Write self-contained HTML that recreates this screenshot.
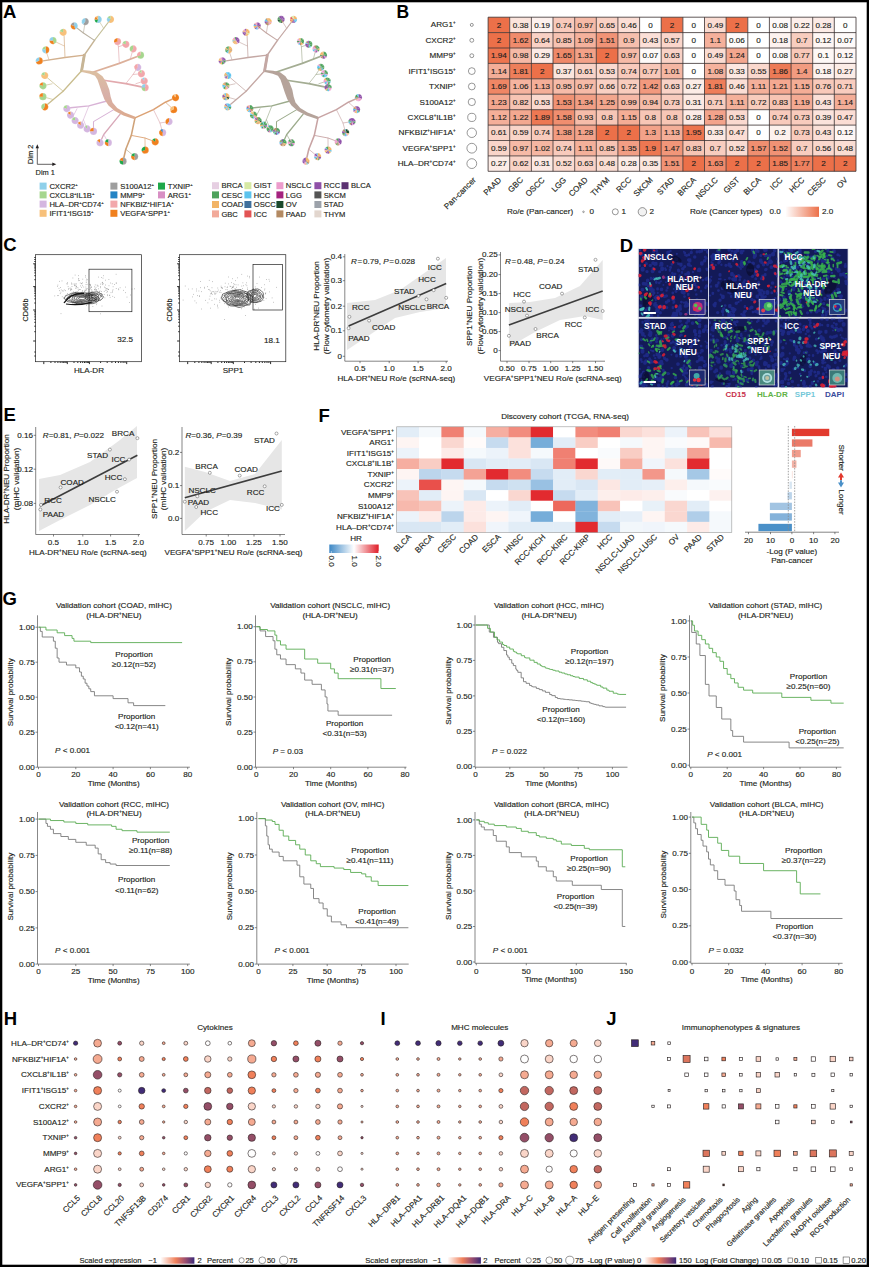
<!DOCTYPE html>
<html><head><meta charset="utf-8"><style>
html,body{margin:0;padding:0;background:#fff;}
svg{display:block;}
text{font-family:"Liberation Sans",sans-serif;stroke:#231f20;stroke-width:0.15px;}
</style></head><body>
<svg width="869" height="1267" viewBox="0 0 869 1267" fill="#231f20">
<rect x="0" y="0" width="869" height="1267" fill="#ffffff"/>
<text x="3.0" y="18.4" font-size="18.50" fill="#000" font-weight="bold" style="stroke:none">A</text>
<g fill="none" stroke-linecap="round" stroke-linejoin="round">
<path d="M84.30 55.10 L81.60 70.80" fill="none" stroke="#c7b596" stroke-width="2.86"/>
<path d="M81.60 70.80 L84.30 55.10" fill="none" stroke="#c7b596" stroke-width="2.08"/>
<path d="M84.30 55.10 L65.00 57.50 L43.00 60.80" fill="none" stroke="#d2b08e" stroke-width="1.30"/>
<path d="M65.00 57.50 L64.10 36.00" fill="none" stroke="#d8b48e" stroke-width="0.78"/>
<path d="M64.30 46.00 L53.00 40.60" fill="none" stroke="#d8b48e" stroke-width="0.65"/>
<path d="M49.00 59.80 L45.70 49.80" fill="none" stroke="#d8b48e" stroke-width="0.65"/>
<path d="M84.30 55.10 L94.50 40.40" fill="none" stroke="#c7b596" stroke-width="1.56"/>
<path d="M94.50 40.40 L103.70 28.40 L110.50 19.40" fill="none" stroke="#c5c09a" stroke-width="1.04"/>
<path d="M103.70 28.40 L98.10 19.40" fill="none" stroke="#c5c09a" stroke-width="0.65"/>
<path d="M94.50 40.40 L83.40 33.00 L74.20 25.90" fill="none" stroke="#b8b0a0" stroke-width="1.04"/>
<path d="M83.40 33.00 L85.20 21.60" fill="none" stroke="#b8b0a0" stroke-width="0.65"/>
<path d="M81.60 70.80 L63.10 91.20 L44.70 106.80" fill="none" stroke="#c9bd8e" stroke-width="1.30"/>
<path d="M63.10 91.20 L44.70 75.50" fill="none" stroke="#c9bd8e" stroke-width="0.78"/>
<path d="M52.10 83.80 L42.90 85.80" fill="none" stroke="#c9bd8e" stroke-width="0.65"/>
<path d="M53.00 99.50 L42.90 96.70" fill="none" stroke="#c9bd8e" stroke-width="0.65"/>
<path d="M92.00 72.50 L119.30 63.40 L140.50 55.20" fill="none" stroke="#dcb09a" stroke-width="1.69"/>
<path d="M119.30 63.40 L118.40 46.80 L117.50 41.50" fill="none" stroke="#e2a9ad" stroke-width="0.65"/>
<path d="M118.40 46.80 L125.80 44.30" fill="none" stroke="#e2a9ad" stroke-width="0.65"/>
<path d="M130.40 58.80 L133.10 48.90" fill="none" stroke="#e2a9ad" stroke-width="0.65"/>
<path d="M102.00 80.00 L125.80 83.70 L145.10 87.60" fill="none" stroke="#e2a9ad" stroke-width="1.69"/>
<path d="M125.80 83.70 L133.00 74.50 L137.70 67.30" fill="none" stroke="#e2a9ad" stroke-width="0.65"/>
<path d="M133.00 74.50 L141.40 73.70" fill="none" stroke="#e2a9ad" stroke-width="0.65"/>
<path d="M135.90 83.70 L144.20 81.00" fill="none" stroke="#e2a9ad" stroke-width="0.65"/>
<path d="M106.00 101.30 L88.90 105.90 L70.50 107.80 L66.80 108.70" fill="none" stroke="#d8b3d6" stroke-width="1.43"/>
<path d="M88.90 105.90 L83.40 119.70 L80.60 125.20" fill="none" stroke="#d8b3d6" stroke-width="0.65"/>
<path d="M83.40 119.70 L87.10 128.90" fill="none" stroke="#d8b3d6" stroke-width="0.65"/>
<path d="M77.00 108.70 L73.30 116.00 L70.50 115.10" fill="none" stroke="#d8b3d6" stroke-width="0.65"/>
<path d="M73.30 116.00 L75.10 120.60" fill="none" stroke="#d8b3d6" stroke-width="0.65"/>
<path d="M113.80 109.60 L93.50 121.60 L93.50 131.30" fill="none" stroke="#d8b3d6" stroke-width="1.04"/>
<path d="M120.20 114.20 L103.70 134.50 L100.00 142.70" fill="none" stroke="#d8a8b8" stroke-width="1.30"/>
<path d="M103.70 134.50 L108.30 142.70" fill="none" stroke="#d8b3d6" stroke-width="0.65"/>
<path d="M135.00 117.90 L153.40 109.60 L165.40 102.20 L175.50 97.60" fill="none" stroke="#dca274" stroke-width="1.56"/>
<path d="M165.40 102.20 L173.60 109.60" fill="none" stroke="#dca274" stroke-width="0.65"/>
<path d="M153.40 109.60 L160.00 123.00 L162.60 132.60" fill="none" stroke="#dcaab0" stroke-width="0.65"/>
<path d="M160.00 123.00 L169.00 121.60" fill="none" stroke="#dcaab0" stroke-width="0.65"/>
<path d="M135.00 117.90 L131.30 135.40 L125.80 149.20 L123.00 161.20" fill="none" stroke="#cfa278" stroke-width="1.56"/>
<path d="M125.80 149.20 L134.60 156.60" fill="none" stroke="#b8a888" stroke-width="0.65"/>
<path d="M131.30 135.40 L145.00 138.00 L155.20 141.80" fill="none" stroke="#dca274" stroke-width="0.91"/>
<path d="M145.00 138.00 L145.10 150.10" fill="none" stroke="#dca274" stroke-width="0.65"/>
</g>
<defs><linearGradient id="gTr" x1="0" y1="0" x2="0" y2="1"><stop offset="0" stop-color="#dcc0a0"/><stop offset="0.5" stop-color="#d8b0a8"/><stop offset="1" stop-color="#dcaa8c"/></linearGradient></defs>
<path d="M81.82 72.09 L89.69 73.77 L94.96 75.82 L97.54 79.72 L99.50 85.48 L101.69 92.22 L104.33 99.22 L108.49 105.49 L114.81 111.11 L123.35 115.46 L134.59 119.13 L135.41 116.87 L124.65 112.54 L117.19 107.89 L112.51 102.51 L110.67 96.78 L109.31 89.78 L106.50 82.52 L102.46 76.28 L97.04 72.18 L90.31 70.83 L82.18 69.91Z" fill="url(#gTr)"/>
<path d="M110.5 19.4L110.5 15.8A3.6 3.6 0 1 1 108.4 22.3Z" fill="#f7c07a"/>
<path d="M110.5 19.4L108.4 22.3A3.6 3.6 0 0 1 107.6 17.3Z" fill="#8fd0ea"/>
<path d="M110.5 19.4L107.6 17.3A3.6 3.6 0 0 1 110.5 15.8Z" fill="#a6d68e"/>
<circle cx="110.5" cy="19.4" r="3.60" fill="none" stroke="#ffffff" stroke-width="0.30" stroke-opacity="0.5"/>
<path d="M98.1 19.4L98.1 15.8A3.6 3.6 0 1 1 97.0 22.8Z" fill="#8fd0ea"/>
<path d="M98.1 19.4L97.0 22.8A3.6 3.6 0 0 1 94.5 19.4Z" fill="#1fa84a"/>
<path d="M98.1 19.4L94.5 19.4A3.6 3.6 0 0 1 96.0 16.5Z" fill="#f0801e"/>
<path d="M98.1 19.4L96.0 16.5A3.6 3.6 0 0 1 98.1 15.8Z" fill="#f7c07a"/>
<circle cx="98.1" cy="19.4" r="3.60" fill="none" stroke="#ffffff" stroke-width="0.30" stroke-opacity="0.5"/>
<path d="M85.2 21.6L85.2 18.0A3.6 3.6 0 1 1 83.1 24.5Z" fill="#9e9e9e"/>
<path d="M85.2 21.6L83.1 24.5A3.6 3.6 0 0 1 85.2 18.0Z" fill="#8fd0ea"/>
<circle cx="85.2" cy="21.6" r="3.60" fill="none" stroke="#ffffff" stroke-width="0.30" stroke-opacity="0.5"/>
<path d="M74.2 25.9L74.2 22.3A3.6 3.6 0 0 1 75.3 29.3Z" fill="#8fd0ea"/>
<path d="M74.2 25.9L75.3 29.3A3.6 3.6 0 0 1 70.8 24.8Z" fill="#f0801e"/>
<path d="M74.2 25.9L70.8 24.8A3.6 3.6 0 0 1 74.2 22.3Z" fill="#9e9e9e"/>
<circle cx="74.2" cy="25.9" r="3.60" fill="none" stroke="#ffffff" stroke-width="0.30" stroke-opacity="0.5"/>
<path d="M63.1 32.3L63.1 28.7A3.6 3.6 0 1 1 59.7 31.2Z" fill="#f7c07a"/>
<path d="M63.1 32.3L59.7 31.2A3.6 3.6 0 0 1 63.1 28.7Z" fill="#a6d68e"/>
<circle cx="63.1" cy="32.3" r="3.60" fill="none" stroke="#ffffff" stroke-width="0.30" stroke-opacity="0.5"/>
<path d="M53.0 40.6L53.0 37.0A3.6 3.6 0 0 1 54.1 44.0Z" fill="#a6d68e"/>
<path d="M53.0 40.6L54.1 44.0A3.6 3.6 0 0 1 49.4 40.6Z" fill="#f0801e"/>
<path d="M53.0 40.6L49.4 40.6A3.6 3.6 0 0 1 53.0 37.0Z" fill="#8fd0ea"/>
<circle cx="53.0" cy="40.6" r="3.60" fill="none" stroke="#ffffff" stroke-width="0.30" stroke-opacity="0.5"/>
<path d="M45.7 49.8L45.7 46.2A3.6 3.6 0 0 1 45.7 53.4Z" fill="#f0801e"/>
<path d="M45.7 49.8L45.7 53.4A3.6 3.6 0 0 1 42.3 48.7Z" fill="#8fd0ea"/>
<path d="M45.7 49.8L42.3 48.7A3.6 3.6 0 0 1 45.7 46.2Z" fill="#a6d68e"/>
<circle cx="45.7" cy="49.8" r="3.60" fill="none" stroke="#ffffff" stroke-width="0.30" stroke-opacity="0.5"/>
<path d="M39.2 60.8L39.2 57.2A3.6 3.6 0 1 1 35.8 61.9Z" fill="#f0801e"/>
<path d="M39.2 60.8L35.8 61.9A3.6 3.6 0 0 1 39.2 57.2Z" fill="#8fd0ea"/>
<circle cx="39.2" cy="60.8" r="3.60" fill="none" stroke="#ffffff" stroke-width="0.30" stroke-opacity="0.5"/>
<path d="M44.7 75.5L44.7 71.9A3.6 3.6 0 1 1 41.3 74.4Z" fill="#f7c07a"/>
<path d="M44.7 75.5L41.3 74.4A3.6 3.6 0 0 1 44.7 71.9Z" fill="#a6d68e"/>
<circle cx="44.7" cy="75.5" r="3.60" fill="none" stroke="#ffffff" stroke-width="0.30" stroke-opacity="0.5"/>
<path d="M42.9 85.8L42.9 82.2A3.6 3.6 0 1 1 39.5 84.7Z" fill="#a6d68e"/>
<path d="M42.9 85.8L39.5 84.7A3.6 3.6 0 0 1 42.9 82.2Z" fill="#f0801e"/>
<circle cx="42.9" cy="85.8" r="3.60" fill="none" stroke="#ffffff" stroke-width="0.30" stroke-opacity="0.5"/>
<path d="M42.9 96.7L42.9 93.1A3.6 3.6 0 1 1 39.3 96.7Z" fill="#a6d68e"/>
<path d="M42.9 96.7L39.3 96.7A3.6 3.6 0 0 1 42.9 93.1Z" fill="#f0801e"/>
<circle cx="42.9" cy="96.7" r="3.60" fill="none" stroke="#ffffff" stroke-width="0.30" stroke-opacity="0.5"/>
<path d="M44.7 106.8L44.7 103.2A3.6 3.6 0 1 1 42.6 109.7Z" fill="#f0801e"/>
<path d="M44.7 106.8L42.6 109.7A3.6 3.6 0 0 1 44.7 103.2Z" fill="#a6d68e"/>
<circle cx="44.7" cy="106.8" r="3.60" fill="none" stroke="#ffffff" stroke-width="0.30" stroke-opacity="0.5"/>
<path d="M117.5 41.5L117.5 37.9A3.6 3.6 0 1 1 114.1 42.6Z" fill="#f2a7ab"/>
<path d="M117.5 41.5L114.1 42.6A3.6 3.6 0 0 1 117.5 37.9Z" fill="#f0801e"/>
<circle cx="117.5" cy="41.5" r="3.60" fill="none" stroke="#ffffff" stroke-width="0.30" stroke-opacity="0.5"/>
<path d="M125.8 44.3L125.8 40.7A3.6 3.6 0 1 1 122.4 43.2Z" fill="#f2a7ab"/>
<path d="M125.8 44.3L122.4 43.2A3.6 3.6 0 0 1 125.8 40.7Z" fill="#a6d68e"/>
<circle cx="125.8" cy="44.3" r="3.60" fill="none" stroke="#ffffff" stroke-width="0.30" stroke-opacity="0.5"/>
<path d="M133.1 48.9L133.1 45.3A3.6 3.6 0 1 1 131.0 51.8Z" fill="#f2a7ab"/>
<path d="M133.1 48.9L131.0 51.8A3.6 3.6 0 0 1 133.1 45.3Z" fill="#a6d68e"/>
<circle cx="133.1" cy="48.9" r="3.60" fill="none" stroke="#ffffff" stroke-width="0.30" stroke-opacity="0.5"/>
<path d="M140.5 55.2L140.5 51.6A3.6 3.6 0 1 1 137.1 56.3Z" fill="#a6d68e"/>
<path d="M140.5 55.2L137.1 56.3A3.6 3.6 0 0 1 140.5 51.6Z" fill="#f2a7ab"/>
<circle cx="140.5" cy="55.2" r="3.60" fill="none" stroke="#ffffff" stroke-width="0.30" stroke-opacity="0.5"/>
<path d="M137.7 67.3L137.7 63.7A3.6 3.6 0 1 1 135.6 70.2Z" fill="#d4b6e0"/>
<path d="M137.7 67.3L135.6 70.2A3.6 3.6 0 0 1 137.7 63.7Z" fill="#f2a7ab"/>
<circle cx="137.7" cy="67.3" r="3.60" fill="none" stroke="#ffffff" stroke-width="0.30" stroke-opacity="0.5"/>
<path d="M141.4 73.7L141.4 70.1A3.6 3.6 0 1 1 139.3 70.8Z" fill="#f2a7ab"/>
<path d="M141.4 73.7L139.3 70.8A3.6 3.6 0 0 1 141.4 70.1Z" fill="#a6d68e"/>
<circle cx="141.4" cy="73.7" r="3.60" fill="none" stroke="#ffffff" stroke-width="0.30" stroke-opacity="0.5"/>
<path d="M144.2 81.0L144.2 77.4A3.6 3.6 0 1 1 142.1 78.1Z" fill="#f2a7ab"/>
<path d="M144.2 81.0L142.1 78.1A3.6 3.6 0 0 1 144.2 77.4Z" fill="#8fd0ea"/>
<circle cx="144.2" cy="81.0" r="3.60" fill="none" stroke="#ffffff" stroke-width="0.30" stroke-opacity="0.5"/>
<path d="M145.1 87.6L145.1 84.0A3.6 3.6 0 0 1 145.1 91.2Z" fill="#f2a7ab"/>
<path d="M145.1 87.6L145.1 91.2A3.6 3.6 0 0 1 141.5 87.6Z" fill="#a6d68e"/>
<path d="M145.1 87.6L141.5 87.6A3.6 3.6 0 0 1 145.1 84.0Z" fill="#8fd0ea"/>
<circle cx="145.1" cy="87.6" r="3.60" fill="none" stroke="#ffffff" stroke-width="0.30" stroke-opacity="0.5"/>
<path d="M66.8 108.7L66.8 105.1A3.6 3.6 0 1 1 63.4 107.6Z" fill="#d4b6e0"/>
<path d="M66.8 108.7L63.4 107.6A3.6 3.6 0 0 1 66.8 105.1Z" fill="#a6d68e"/>
<circle cx="66.8" cy="108.7" r="3.60" fill="none" stroke="#ffffff" stroke-width="0.30" stroke-opacity="0.5"/>
<path d="M70.5 115.1L70.5 111.5A3.6 3.6 0 1 1 67.6 113.0Z" fill="#d4b6e0"/>
<path d="M70.5 115.1L67.6 113.0A3.6 3.6 0 0 1 70.5 111.5Z" fill="#f0801e"/>
<circle cx="70.5" cy="115.1" r="3.60" fill="none" stroke="#ffffff" stroke-width="0.30" stroke-opacity="0.5"/>
<path d="M75.1 120.6L75.1 117.0A3.6 3.6 0 1 1 71.7 119.5Z" fill="#d4b6e0"/>
<path d="M75.1 120.6L71.7 119.5A3.6 3.6 0 0 1 75.1 117.0Z" fill="#a6d68e"/>
<circle cx="75.1" cy="120.6" r="3.60" fill="none" stroke="#ffffff" stroke-width="0.30" stroke-opacity="0.5"/>
<path d="M80.6 125.2L80.6 121.6A3.6 3.6 0 1 1 77.7 123.1Z" fill="#d4b6e0"/>
<path d="M80.6 125.2L77.7 123.1A3.6 3.6 0 0 1 80.6 121.6Z" fill="#f0801e"/>
<circle cx="80.6" cy="125.2" r="3.60" fill="none" stroke="#ffffff" stroke-width="0.30" stroke-opacity="0.5"/>
<path d="M87.1 128.9L87.1 125.3A3.6 3.6 0 1 1 85.0 126.0Z" fill="#d4b6e0"/>
<path d="M87.1 128.9L85.0 126.0A3.6 3.6 0 0 1 87.1 125.3Z" fill="#a6d68e"/>
<circle cx="87.1" cy="128.9" r="3.60" fill="none" stroke="#ffffff" stroke-width="0.30" stroke-opacity="0.5"/>
<path d="M93.5 131.3L93.5 127.7A3.6 3.6 0 1 1 89.9 131.3Z" fill="#d4b6e0"/>
<path d="M93.5 131.3L89.9 131.3A3.6 3.6 0 0 1 93.5 127.7Z" fill="#f0801e"/>
<circle cx="93.5" cy="131.3" r="3.60" fill="none" stroke="#ffffff" stroke-width="0.30" stroke-opacity="0.5"/>
<path d="M100.0 142.7L100.0 139.1A3.6 3.6 0 1 1 97.1 140.6Z" fill="#d4b6e0"/>
<path d="M100.0 142.7L97.1 140.6A3.6 3.6 0 0 1 100.0 139.1Z" fill="#f0801e"/>
<circle cx="100.0" cy="142.7" r="3.60" fill="none" stroke="#ffffff" stroke-width="0.30" stroke-opacity="0.5"/>
<path d="M108.3 142.7L108.3 139.1A3.6 3.6 0 0 1 108.3 146.3Z" fill="#d4b6e0"/>
<path d="M108.3 142.7L108.3 146.3A3.6 3.6 0 0 1 104.9 141.6Z" fill="#f0801e"/>
<path d="M108.3 142.7L104.9 141.6A3.6 3.6 0 0 1 108.3 139.1Z" fill="#1fa84a"/>
<circle cx="108.3" cy="142.7" r="3.60" fill="none" stroke="#ffffff" stroke-width="0.30" stroke-opacity="0.5"/>
<path d="M175.5 97.6L175.5 94.0A3.6 3.6 0 1 1 173.4 94.7Z" fill="#f0801e"/>
<path d="M175.5 97.6L173.4 94.7A3.6 3.6 0 0 1 175.5 94.0Z" fill="#f7c07a"/>
<circle cx="175.5" cy="97.6" r="3.60" fill="none" stroke="#ffffff" stroke-width="0.30" stroke-opacity="0.5"/>
<path d="M173.6 109.6L173.6 106.0A3.6 3.6 0 1 1 170.2 110.7Z" fill="#f0801e"/>
<path d="M173.6 109.6L170.2 110.7A3.6 3.6 0 0 1 173.6 106.0Z" fill="#f7c07a"/>
<circle cx="173.6" cy="109.6" r="3.60" fill="none" stroke="#ffffff" stroke-width="0.30" stroke-opacity="0.5"/>
<path d="M169.0 121.6L169.0 118.0A3.6 3.6 0 1 1 166.9 124.5Z" fill="#d4b6e0"/>
<path d="M169.0 121.6L166.9 124.5A3.6 3.6 0 0 1 169.0 118.0Z" fill="#f0801e"/>
<circle cx="169.0" cy="121.6" r="3.60" fill="none" stroke="#ffffff" stroke-width="0.30" stroke-opacity="0.5"/>
<path d="M162.6 132.6L162.6 129.0A3.6 3.6 0 0 1 162.6 136.2Z" fill="#d4b6e0"/>
<path d="M162.6 132.6L162.6 136.2A3.6 3.6 0 0 1 160.5 129.7Z" fill="#f0801e"/>
<path d="M162.6 132.6L160.5 129.7A3.6 3.6 0 0 1 162.6 129.0Z" fill="#2383c4"/>
<circle cx="162.6" cy="132.6" r="3.60" fill="none" stroke="#ffffff" stroke-width="0.30" stroke-opacity="0.5"/>
<path d="M155.2 141.8L155.2 138.2A3.6 3.6 0 1 1 152.3 139.7Z" fill="#f0801e"/>
<path d="M155.2 141.8L152.3 139.7A3.6 3.6 0 0 1 155.2 138.2Z" fill="#1fa84a"/>
<circle cx="155.2" cy="141.8" r="3.60" fill="none" stroke="#ffffff" stroke-width="0.30" stroke-opacity="0.5"/>
<path d="M145.1 150.1L145.1 146.5A3.6 3.6 0 1 1 141.7 151.2Z" fill="#f0801e"/>
<path d="M145.1 150.1L141.7 151.2A3.6 3.6 0 0 1 145.1 146.5Z" fill="#1fa84a"/>
<circle cx="145.1" cy="150.1" r="3.60" fill="none" stroke="#ffffff" stroke-width="0.30" stroke-opacity="0.5"/>
<path d="M134.6 156.6L134.6 153.0A3.6 3.6 0 0 1 134.6 160.2Z" fill="#9e9e9e"/>
<path d="M134.6 156.6L134.6 160.2A3.6 3.6 0 0 1 131.2 155.5Z" fill="#f0801e"/>
<path d="M134.6 156.6L131.2 155.5A3.6 3.6 0 0 1 134.6 153.0Z" fill="#1fa84a"/>
<circle cx="134.6" cy="156.6" r="3.60" fill="none" stroke="#ffffff" stroke-width="0.30" stroke-opacity="0.5"/>
<path d="M123.0 161.2L123.0 157.6A3.6 3.6 0 0 1 123.0 164.8Z" fill="#9e9e9e"/>
<path d="M123.0 161.2L123.0 164.8A3.6 3.6 0 0 1 119.6 160.1Z" fill="#1fa84a"/>
<path d="M123.0 161.2L119.6 160.1A3.6 3.6 0 0 1 123.0 157.6Z" fill="#f0801e"/>
<circle cx="123.0" cy="161.2" r="3.60" fill="none" stroke="#ffffff" stroke-width="0.30" stroke-opacity="0.5"/>
<g fill="none" stroke-linecap="round" stroke-linejoin="round">
<path d="M267.30 55.10 L264.60 70.80" fill="none" stroke="#c4a8a4" stroke-width="2.86"/>
<path d="M264.60 70.80 L267.30 55.10" fill="none" stroke="#c4a8a4" stroke-width="2.08"/>
<path d="M267.30 55.10 L248.00 57.50 L226.00 60.80" fill="none" stroke="#c4a8a4" stroke-width="1.30"/>
<path d="M248.00 57.50 L247.10 36.00" fill="none" stroke="#c4a8a4" stroke-width="0.78"/>
<path d="M247.30 46.00 L236.00 40.60" fill="none" stroke="#c4a8a4" stroke-width="0.65"/>
<path d="M232.00 59.80 L228.70 49.80" fill="none" stroke="#c4a8a4" stroke-width="0.65"/>
<path d="M267.30 55.10 L277.50 40.40" fill="none" stroke="#c4a8a4" stroke-width="1.56"/>
<path d="M277.50 40.40 L286.70 28.40 L293.50 19.40" fill="none" stroke="#c4a8a4" stroke-width="1.04"/>
<path d="M286.70 28.40 L281.10 19.40" fill="none" stroke="#c4a8a4" stroke-width="0.65"/>
<path d="M277.50 40.40 L266.40 33.00 L257.20 25.90" fill="none" stroke="#c4a8a4" stroke-width="1.04"/>
<path d="M266.40 33.00 L268.20 21.60" fill="none" stroke="#c4a8a4" stroke-width="0.65"/>
<path d="M264.60 70.80 L246.10 91.20 L227.70 106.80" fill="none" stroke="#c4a8a4" stroke-width="1.30"/>
<path d="M246.10 91.20 L227.70 75.50" fill="none" stroke="#c4a8a4" stroke-width="0.78"/>
<path d="M235.10 83.80 L225.90 85.80" fill="none" stroke="#c4a8a4" stroke-width="0.65"/>
<path d="M236.00 99.50 L225.90 96.70" fill="none" stroke="#c4a8a4" stroke-width="0.65"/>
<path d="M275.00 72.50 L302.30 63.40 L323.50 55.20" fill="none" stroke="#a4ad93" stroke-width="1.69"/>
<path d="M302.30 63.40 L301.40 46.80 L300.50 41.50" fill="none" stroke="#a4ad93" stroke-width="0.65"/>
<path d="M301.40 46.80 L308.80 44.30" fill="none" stroke="#a4ad93" stroke-width="0.65"/>
<path d="M313.40 58.80 L316.10 48.90" fill="none" stroke="#a4ad93" stroke-width="0.65"/>
<path d="M285.00 80.00 L308.80 83.70 L328.10 87.60" fill="none" stroke="#a4ad93" stroke-width="1.69"/>
<path d="M308.80 83.70 L316.00 74.50 L320.70 67.30" fill="none" stroke="#a4ad93" stroke-width="0.65"/>
<path d="M316.00 74.50 L324.40 73.70" fill="none" stroke="#a4ad93" stroke-width="0.65"/>
<path d="M318.90 83.70 L327.20 81.00" fill="none" stroke="#a4ad93" stroke-width="0.65"/>
<path d="M289.00 101.30 L271.90 105.90 L253.50 107.80 L249.80 108.70" fill="none" stroke="#9cab8c" stroke-width="1.43"/>
<path d="M271.90 105.90 L266.40 119.70 L263.60 125.20" fill="none" stroke="#9cab8c" stroke-width="0.65"/>
<path d="M266.40 119.70 L270.10 128.90" fill="none" stroke="#9cab8c" stroke-width="0.65"/>
<path d="M260.00 108.70 L256.30 116.00 L253.50 115.10" fill="none" stroke="#9cab8c" stroke-width="0.65"/>
<path d="M256.30 116.00 L258.10 120.60" fill="none" stroke="#9cab8c" stroke-width="0.65"/>
<path d="M296.80 109.60 L276.50 121.60 L276.50 131.30" fill="none" stroke="#9cab8c" stroke-width="1.04"/>
<path d="M303.20 114.20 L286.70 134.50 L283.00 142.70" fill="none" stroke="#9cab8c" stroke-width="1.30"/>
<path d="M286.70 134.50 L291.30 142.70" fill="none" stroke="#9cab8c" stroke-width="0.65"/>
<path d="M318.00 117.90 L336.40 109.60 L348.40 102.20 L358.50 97.60" fill="none" stroke="#c8a4a4" stroke-width="1.56"/>
<path d="M348.40 102.20 L356.60 109.60" fill="none" stroke="#c8a4a4" stroke-width="0.65"/>
<path d="M336.40 109.60 L343.00 123.00 L345.60 132.60" fill="none" stroke="#c8a4a4" stroke-width="0.65"/>
<path d="M343.00 123.00 L352.00 121.60" fill="none" stroke="#c8a4a4" stroke-width="0.65"/>
<path d="M318.00 117.90 L314.30 135.40 L308.80 149.20 L306.00 161.20" fill="none" stroke="#c8a4a4" stroke-width="1.56"/>
<path d="M308.80 149.20 L317.60 156.60" fill="none" stroke="#c8a4a4" stroke-width="0.65"/>
<path d="M314.30 135.40 L328.00 138.00 L338.20 141.80" fill="none" stroke="#c8a4a4" stroke-width="0.91"/>
<path d="M328.00 138.00 L328.10 150.10" fill="none" stroke="#c8a4a4" stroke-width="0.65"/>
</g>
<path d="M264.82 72.09 L272.69 73.77 L277.96 75.82 L280.54 79.72 L282.50 85.48 L284.69 92.22 L287.33 99.22 L291.49 105.49 L297.81 111.11 L306.35 115.46 L317.59 119.13 L318.41 116.87 L307.65 112.54 L300.19 107.89 L295.51 102.51 L293.67 96.78 L292.31 89.78 L289.50 82.52 L285.46 76.28 L280.04 72.18 L273.31 70.83 L265.18 69.91Z" fill="#b5a39a"/>
<path d="M293.5 19.4L293.5 15.8A3.6 3.6 0 0 1 295.8 16.6Z" fill="#f2b466"/>
<path d="M293.5 19.4L295.8 16.6A3.6 3.6 0 0 1 297.1 19.2Z" fill="#f2b466"/>
<path d="M293.5 19.4L297.1 19.2A3.6 3.6 0 0 1 296.6 21.3Z" fill="#5cc3ee"/>
<path d="M293.5 19.4L296.6 21.3A3.6 3.6 0 0 1 295.0 22.7Z" fill="#5cc3ee"/>
<path d="M293.5 19.4L295.0 22.7A3.6 3.6 0 0 1 293.3 23.0Z" fill="#8e50a8"/>
<path d="M293.5 19.4L293.3 23.0A3.6 3.6 0 0 1 291.6 22.5Z" fill="#8e50a8"/>
<path d="M293.5 19.4L291.6 22.5A3.6 3.6 0 0 1 290.2 20.9Z" fill="#f2b466"/>
<path d="M293.5 19.4L290.2 20.9A3.6 3.6 0 0 1 290.0 20.0Z" fill="#e25454"/>
<path d="M293.5 19.4L290.0 20.0A3.6 3.6 0 0 1 290.0 18.6Z" fill="#f2b466"/>
<path d="M293.5 19.4L290.0 18.6A3.6 3.6 0 0 1 291.2 16.6Z" fill="#e25454"/>
<path d="M293.5 19.4L291.2 16.6A3.6 3.6 0 0 1 293.5 15.8Z" fill="#d6e9a4"/>
<circle cx="293.5" cy="19.4" r="3.60" fill="none" stroke="#ffffff" stroke-width="0.30" stroke-opacity="0.5"/>
<path d="M281.1 19.4L281.1 15.8A3.6 3.6 0 0 1 284.0 17.2Z" fill="#8e50a8"/>
<path d="M281.1 19.4L284.0 17.2A3.6 3.6 0 0 1 284.7 19.8Z" fill="#8e50a8"/>
<path d="M281.1 19.4L284.7 19.8A3.6 3.6 0 0 1 283.5 22.1Z" fill="#8e50a8"/>
<path d="M281.1 19.4L283.5 22.1A3.6 3.6 0 0 1 281.9 22.9Z" fill="#b38a62"/>
<path d="M281.1 19.4L281.9 22.9A3.6 3.6 0 0 1 280.6 23.0Z" fill="#1c4a2c"/>
<path d="M281.1 19.4L280.6 23.0A3.6 3.6 0 0 1 278.4 21.8Z" fill="#4ea35c"/>
<path d="M281.1 19.4L278.4 21.8A3.6 3.6 0 0 1 277.5 19.8Z" fill="#1c4a2c"/>
<path d="M281.1 19.4L277.5 19.8A3.6 3.6 0 0 1 277.7 18.3Z" fill="#4ea35c"/>
<path d="M281.1 19.4L277.7 18.3A3.6 3.6 0 0 1 278.1 17.4Z" fill="#1c4a2c"/>
<path d="M281.1 19.4L278.1 17.4A3.6 3.6 0 0 1 278.9 16.5Z" fill="#4ea35c"/>
<path d="M281.1 19.4L278.9 16.5A3.6 3.6 0 0 1 281.1 15.8Z" fill="#8e50a8"/>
<circle cx="281.1" cy="19.4" r="3.60" fill="none" stroke="#ffffff" stroke-width="0.30" stroke-opacity="0.5"/>
<path d="M268.2 21.6L268.2 18.0A3.6 3.6 0 0 1 270.7 19.0Z" fill="#f2b466"/>
<path d="M268.2 21.6L270.7 19.0A3.6 3.6 0 0 1 271.8 22.1Z" fill="#f2b466"/>
<path d="M268.2 21.6L271.8 22.1A3.6 3.6 0 0 1 271.4 23.3Z" fill="#ec9ccc"/>
<path d="M268.2 21.6L271.4 23.3A3.6 3.6 0 0 1 270.6 24.3Z" fill="#f2b466"/>
<path d="M268.2 21.6L270.6 24.3A3.6 3.6 0 0 1 268.7 25.2Z" fill="#ec9ccc"/>
<path d="M268.2 21.6L268.7 25.2A3.6 3.6 0 0 1 266.7 24.9Z" fill="#b38a62"/>
<path d="M268.2 21.6L266.7 24.9A3.6 3.6 0 0 1 265.2 23.7Z" fill="#b38a62"/>
<path d="M268.2 21.6L265.2 23.7A3.6 3.6 0 0 1 264.6 21.2Z" fill="#8e50a8"/>
<path d="M268.2 21.6L264.6 21.2A3.6 3.6 0 0 1 265.6 19.1Z" fill="#5cc3ee"/>
<path d="M268.2 21.6L265.6 19.1A3.6 3.6 0 0 1 267.0 18.2Z" fill="#b38a62"/>
<path d="M268.2 21.6L267.0 18.2A3.6 3.6 0 0 1 268.2 18.0Z" fill="#f2b466"/>
<circle cx="268.2" cy="21.6" r="3.60" fill="none" stroke="#ffffff" stroke-width="0.30" stroke-opacity="0.5"/>
<path d="M257.2 25.9L257.2 22.3A3.6 3.6 0 0 1 260.3 24.0Z" fill="#8e50a8"/>
<path d="M257.2 25.9L260.3 24.0A3.6 3.6 0 0 1 260.7 26.8Z" fill="#8e50a8"/>
<path d="M257.2 25.9L260.7 26.8A3.6 3.6 0 0 1 259.6 28.6Z" fill="#b38a62"/>
<path d="M257.2 25.9L259.6 28.6A3.6 3.6 0 0 1 257.8 29.4Z" fill="#ec9ccc"/>
<path d="M257.2 25.9L257.8 29.4A3.6 3.6 0 0 1 255.8 29.2Z" fill="#5cc3ee"/>
<path d="M257.2 25.9L255.8 29.2A3.6 3.6 0 0 1 254.5 28.2Z" fill="#8e50a8"/>
<path d="M257.2 25.9L254.5 28.2A3.6 3.6 0 0 1 253.6 26.1Z" fill="#f2b466"/>
<path d="M257.2 25.9L253.6 26.1A3.6 3.6 0 0 1 253.9 24.5Z" fill="#5cc3ee"/>
<path d="M257.2 25.9L253.9 24.5A3.6 3.6 0 0 1 254.6 23.4Z" fill="#8e50a8"/>
<path d="M257.2 25.9L254.6 23.4A3.6 3.6 0 0 1 255.3 22.9Z" fill="#f2b466"/>
<path d="M257.2 25.9L255.3 22.9A3.6 3.6 0 0 1 257.2 22.3Z" fill="#ec9ccc"/>
<circle cx="257.2" cy="25.9" r="3.60" fill="none" stroke="#ffffff" stroke-width="0.30" stroke-opacity="0.5"/>
<path d="M246.1 32.3L246.1 28.7A3.6 3.6 0 0 1 249.1 30.2Z" fill="#f2b466"/>
<path d="M246.1 32.3L249.1 30.2A3.6 3.6 0 0 1 249.5 33.4Z" fill="#f2b466"/>
<path d="M246.1 32.3L249.5 33.4A3.6 3.6 0 0 1 248.4 35.1Z" fill="#d6e9a4"/>
<path d="M246.1 32.3L248.4 35.1A3.6 3.6 0 0 1 247.1 35.8Z" fill="#f2b466"/>
<path d="M246.1 32.3L247.1 35.8A3.6 3.6 0 0 1 245.2 35.8Z" fill="#f2b466"/>
<path d="M246.1 32.3L245.2 35.8A3.6 3.6 0 0 1 243.3 34.5Z" fill="#8e50a8"/>
<path d="M246.1 32.3L243.3 34.5A3.6 3.6 0 0 1 242.5 32.4Z" fill="#8e50a8"/>
<path d="M246.1 32.3L242.5 32.4A3.6 3.6 0 0 1 242.6 31.5Z" fill="#8e50a8"/>
<path d="M246.1 32.3L242.6 31.5A3.6 3.6 0 0 1 243.2 30.2Z" fill="#f2b466"/>
<path d="M246.1 32.3L243.2 30.2A3.6 3.6 0 0 1 244.9 28.9Z" fill="#ec9ccc"/>
<path d="M246.1 32.3L244.9 28.9A3.6 3.6 0 0 1 246.1 28.7Z" fill="#8e50a8"/>
<circle cx="246.1" cy="32.3" r="3.60" fill="none" stroke="#ffffff" stroke-width="0.30" stroke-opacity="0.5"/>
<path d="M236.0 40.6L236.0 37.0A3.6 3.6 0 0 1 239.0 38.7Z" fill="#8e50a8"/>
<path d="M236.0 40.6L239.0 38.7A3.6 3.6 0 0 1 239.5 41.4Z" fill="#8e50a8"/>
<path d="M236.0 40.6L239.5 41.4A3.6 3.6 0 0 1 238.4 43.3Z" fill="#8e50a8"/>
<path d="M236.0 40.6L238.4 43.3A3.6 3.6 0 0 1 237.1 44.0Z" fill="#ec9ccc"/>
<path d="M236.0 40.6L237.1 44.0A3.6 3.6 0 0 1 235.7 44.2Z" fill="#f2b466"/>
<path d="M236.0 40.6L235.7 44.2A3.6 3.6 0 0 1 233.6 43.3Z" fill="#f2b466"/>
<path d="M236.0 40.6L233.6 43.3A3.6 3.6 0 0 1 232.5 41.4Z" fill="#f2b466"/>
<path d="M236.0 40.6L232.5 41.4A3.6 3.6 0 0 1 232.4 40.3Z" fill="#5cc3ee"/>
<path d="M236.0 40.6L232.4 40.3A3.6 3.6 0 0 1 232.8 38.9Z" fill="#f2b466"/>
<path d="M236.0 40.6L232.8 38.9A3.6 3.6 0 0 1 234.5 37.3Z" fill="#ec9ccc"/>
<path d="M236.0 40.6L234.5 37.3A3.6 3.6 0 0 1 236.0 37.0Z" fill="#4ea35c"/>
<circle cx="236.0" cy="40.6" r="3.60" fill="none" stroke="#ffffff" stroke-width="0.30" stroke-opacity="0.5"/>
<path d="M228.7 49.8L228.7 46.2A3.6 3.6 0 0 1 231.4 47.5Z" fill="#f2b466"/>
<path d="M228.7 49.8L231.4 47.5A3.6 3.6 0 0 1 232.2 50.6Z" fill="#f2b466"/>
<path d="M228.7 49.8L232.2 50.6A3.6 3.6 0 0 1 231.9 51.4Z" fill="#b38a62"/>
<path d="M228.7 49.8L231.9 51.4A3.6 3.6 0 0 1 230.5 52.9Z" fill="#f2b466"/>
<path d="M228.7 49.8L230.5 52.9A3.6 3.6 0 0 1 228.2 53.4Z" fill="#f2b466"/>
<path d="M228.7 49.8L228.2 53.4A3.6 3.6 0 0 1 226.3 52.5Z" fill="#5cc3ee"/>
<path d="M228.7 49.8L226.3 52.5A3.6 3.6 0 0 1 225.2 50.7Z" fill="#4ea35c"/>
<path d="M228.7 49.8L225.2 50.7A3.6 3.6 0 0 1 225.1 49.3Z" fill="#4ea35c"/>
<path d="M228.7 49.8L225.1 49.3A3.6 3.6 0 0 1 225.9 47.5Z" fill="#f2b466"/>
<path d="M228.7 49.8L225.9 47.5A3.6 3.6 0 0 1 227.5 46.4Z" fill="#4ea35c"/>
<path d="M228.7 49.8L227.5 46.4A3.6 3.6 0 0 1 228.7 46.2Z" fill="#4ea35c"/>
<circle cx="228.7" cy="49.8" r="3.60" fill="none" stroke="#ffffff" stroke-width="0.30" stroke-opacity="0.5"/>
<path d="M222.2 60.8L222.2 57.2A3.6 3.6 0 0 1 224.5 58.0Z" fill="#8e50a8"/>
<path d="M222.2 60.8L224.5 58.0A3.6 3.6 0 0 1 225.8 60.5Z" fill="#8e50a8"/>
<path d="M222.2 60.8L225.8 60.5A3.6 3.6 0 0 1 225.2 62.7Z" fill="#4ea35c"/>
<path d="M222.2 60.8L225.2 62.7A3.6 3.6 0 0 1 224.1 63.8Z" fill="#8e50a8"/>
<path d="M222.2 60.8L224.1 63.8A3.6 3.6 0 0 1 221.9 64.4Z" fill="#4ea35c"/>
<path d="M222.2 60.8L221.9 64.4A3.6 3.6 0 0 1 219.8 63.5Z" fill="#f2b466"/>
<path d="M222.2 60.8L219.8 63.5A3.6 3.6 0 0 1 219.0 62.5Z" fill="#8e50a8"/>
<path d="M222.2 60.8L219.0 62.5A3.6 3.6 0 0 1 218.6 60.7Z" fill="#8e50a8"/>
<path d="M222.2 60.8L218.6 60.7A3.6 3.6 0 0 1 219.3 58.7Z" fill="#f2b466"/>
<path d="M222.2 60.8L219.3 58.7A3.6 3.6 0 0 1 220.1 57.9Z" fill="#f2b466"/>
<path d="M222.2 60.8L220.1 57.9A3.6 3.6 0 0 1 222.2 57.2Z" fill="#ec9ccc"/>
<circle cx="222.2" cy="60.8" r="3.60" fill="none" stroke="#ffffff" stroke-width="0.30" stroke-opacity="0.5"/>
<path d="M227.7 75.5L227.7 71.9A3.6 3.6 0 0 1 230.2 72.9Z" fill="#5cc3ee"/>
<path d="M227.7 75.5L230.2 72.9A3.6 3.6 0 0 1 231.2 76.4Z" fill="#5cc3ee"/>
<path d="M227.7 75.5L231.2 76.4A3.6 3.6 0 0 1 229.8 78.5Z" fill="#5cc3ee"/>
<path d="M227.7 75.5L229.8 78.5A3.6 3.6 0 0 1 227.6 79.1Z" fill="#5cc3ee"/>
<path d="M227.7 75.5L227.6 79.1A3.6 3.6 0 0 1 226.3 78.8Z" fill="#f2b466"/>
<path d="M227.7 75.5L226.3 78.8A3.6 3.6 0 0 1 225.1 78.0Z" fill="#8e50a8"/>
<path d="M227.7 75.5L225.1 78.0A3.6 3.6 0 0 1 224.4 76.8Z" fill="#8e50a8"/>
<path d="M227.7 75.5L224.4 76.8A3.6 3.6 0 0 1 224.1 75.6Z" fill="#d6e9a4"/>
<path d="M227.7 75.5L224.1 75.6A3.6 3.6 0 0 1 224.2 74.5Z" fill="#b38a62"/>
<path d="M227.7 75.5L224.2 74.5A3.6 3.6 0 0 1 225.8 72.4Z" fill="#f2b466"/>
<path d="M227.7 75.5L225.8 72.4A3.6 3.6 0 0 1 227.7 71.9Z" fill="#5cc3ee"/>
<circle cx="227.7" cy="75.5" r="3.60" fill="none" stroke="#ffffff" stroke-width="0.30" stroke-opacity="0.5"/>
<path d="M225.9 85.8L225.9 82.2A3.6 3.6 0 0 1 228.2 83.0Z" fill="#4ea35c"/>
<path d="M225.9 85.8L228.2 83.0A3.6 3.6 0 0 1 229.5 85.3Z" fill="#4ea35c"/>
<path d="M225.9 85.8L229.5 85.3A3.6 3.6 0 0 1 229.3 86.9Z" fill="#f2b466"/>
<path d="M225.9 85.8L229.3 86.9A3.6 3.6 0 0 1 228.8 88.0Z" fill="#4ea35c"/>
<path d="M225.9 85.8L228.8 88.0A3.6 3.6 0 0 1 226.9 89.2Z" fill="#ec9ccc"/>
<path d="M225.9 85.8L226.9 89.2A3.6 3.6 0 0 1 224.7 89.2Z" fill="#f2b466"/>
<path d="M225.9 85.8L224.7 89.2A3.6 3.6 0 0 1 223.1 88.1Z" fill="#4ea35c"/>
<path d="M225.9 85.8L223.1 88.1A3.6 3.6 0 0 1 222.4 86.6Z" fill="#5cc3ee"/>
<path d="M225.9 85.8L222.4 86.6A3.6 3.6 0 0 1 222.5 84.6Z" fill="#5cc3ee"/>
<path d="M225.9 85.8L222.5 84.6A3.6 3.6 0 0 1 223.9 82.8Z" fill="#f2b466"/>
<path d="M225.9 85.8L223.9 82.8A3.6 3.6 0 0 1 225.9 82.2Z" fill="#b38a62"/>
<circle cx="225.9" cy="85.8" r="3.60" fill="none" stroke="#ffffff" stroke-width="0.30" stroke-opacity="0.5"/>
<path d="M225.9 96.7L225.9 93.1A3.6 3.6 0 0 1 229.0 94.8Z" fill="#f2b466"/>
<path d="M225.9 96.7L229.0 94.8A3.6 3.6 0 0 1 229.4 97.6Z" fill="#f2b466"/>
<path d="M225.9 96.7L229.4 97.6A3.6 3.6 0 0 1 228.2 99.5Z" fill="#1c4a2c"/>
<path d="M225.9 96.7L228.2 99.5A3.6 3.6 0 0 1 226.8 100.2Z" fill="#f2b466"/>
<path d="M225.9 96.7L226.8 100.2A3.6 3.6 0 0 1 224.8 100.1Z" fill="#5cc3ee"/>
<path d="M225.9 96.7L224.8 100.1A3.6 3.6 0 0 1 223.3 99.2Z" fill="#b38a62"/>
<path d="M225.9 96.7L223.3 99.2A3.6 3.6 0 0 1 222.5 98.0Z" fill="#f2b466"/>
<path d="M225.9 96.7L222.5 98.0A3.6 3.6 0 0 1 222.3 96.9Z" fill="#b38a62"/>
<path d="M225.9 96.7L222.3 96.9A3.6 3.6 0 0 1 223.0 94.6Z" fill="#8e50a8"/>
<path d="M225.9 96.7L223.0 94.6A3.6 3.6 0 0 1 224.2 93.5Z" fill="#f2b466"/>
<path d="M225.9 96.7L224.2 93.5A3.6 3.6 0 0 1 225.9 93.1Z" fill="#5cc3ee"/>
<circle cx="225.9" cy="96.7" r="3.60" fill="none" stroke="#ffffff" stroke-width="0.30" stroke-opacity="0.5"/>
<path d="M227.7 106.8L227.7 103.2A3.6 3.6 0 0 1 230.6 104.7Z" fill="#5cc3ee"/>
<path d="M227.7 106.8L230.6 104.7A3.6 3.6 0 0 1 231.3 107.1Z" fill="#5cc3ee"/>
<path d="M227.7 106.8L231.3 107.1A3.6 3.6 0 0 1 230.3 109.3Z" fill="#4ea35c"/>
<path d="M227.7 106.8L230.3 109.3A3.6 3.6 0 0 1 229.3 110.0Z" fill="#5cc3ee"/>
<path d="M227.7 106.8L229.3 110.0A3.6 3.6 0 0 1 227.5 110.4Z" fill="#f2b466"/>
<path d="M227.7 106.8L227.5 110.4A3.6 3.6 0 0 1 225.7 109.8Z" fill="#5cc3ee"/>
<path d="M227.7 106.8L225.7 109.8A3.6 3.6 0 0 1 224.5 108.5Z" fill="#f2b466"/>
<path d="M227.7 106.8L224.5 108.5A3.6 3.6 0 0 1 224.1 106.6Z" fill="#5cc3ee"/>
<path d="M227.7 106.8L224.1 106.6A3.6 3.6 0 0 1 224.9 104.5Z" fill="#f2b466"/>
<path d="M227.7 106.8L224.9 104.5A3.6 3.6 0 0 1 226.1 103.6Z" fill="#8e50a8"/>
<path d="M227.7 106.8L226.1 103.6A3.6 3.6 0 0 1 227.7 103.2Z" fill="#5cc3ee"/>
<circle cx="227.7" cy="106.8" r="3.60" fill="none" stroke="#ffffff" stroke-width="0.30" stroke-opacity="0.5"/>
<path d="M300.5 41.5L300.5 37.9A3.6 3.6 0 0 1 303.2 39.1Z" fill="#4ea35c"/>
<path d="M300.5 41.5L303.2 39.1A3.6 3.6 0 0 1 304.0 42.2Z" fill="#4ea35c"/>
<path d="M300.5 41.5L304.0 42.2A3.6 3.6 0 0 1 303.2 43.9Z" fill="#4ea35c"/>
<path d="M300.5 41.5L303.2 43.9A3.6 3.6 0 0 1 301.1 45.1Z" fill="#f2b466"/>
<path d="M300.5 41.5L301.1 45.1A3.6 3.6 0 0 1 299.6 45.0Z" fill="#b38a62"/>
<path d="M300.5 41.5L299.6 45.0A3.6 3.6 0 0 1 298.1 44.2Z" fill="#5cc3ee"/>
<path d="M300.5 41.5L298.1 44.2A3.6 3.6 0 0 1 297.1 42.6Z" fill="#ec9ccc"/>
<path d="M300.5 41.5L297.1 42.6A3.6 3.6 0 0 1 297.0 40.5Z" fill="#4ea35c"/>
<path d="M300.5 41.5L297.0 40.5A3.6 3.6 0 0 1 297.6 39.3Z" fill="#ec9ccc"/>
<path d="M300.5 41.5L297.6 39.3A3.6 3.6 0 0 1 298.6 38.5Z" fill="#ec9ccc"/>
<path d="M300.5 41.5L298.6 38.5A3.6 3.6 0 0 1 300.5 37.9Z" fill="#f2b466"/>
<circle cx="300.5" cy="41.5" r="3.60" fill="none" stroke="#ffffff" stroke-width="0.30" stroke-opacity="0.5"/>
<path d="M308.8 44.3L308.8 40.7A3.6 3.6 0 0 1 311.2 41.6Z" fill="#4ea35c"/>
<path d="M308.8 44.3L311.2 41.6A3.6 3.6 0 0 1 312.3 45.1Z" fill="#4ea35c"/>
<path d="M308.8 44.3L312.3 45.1A3.6 3.6 0 0 1 311.1 47.1Z" fill="#4ea35c"/>
<path d="M308.8 44.3L311.1 47.1A3.6 3.6 0 0 1 309.4 47.8Z" fill="#5cc3ee"/>
<path d="M308.8 44.3L309.4 47.8A3.6 3.6 0 0 1 308.0 47.8Z" fill="#4ea35c"/>
<path d="M308.8 44.3L308.0 47.8A3.6 3.6 0 0 1 305.9 46.5Z" fill="#8e50a8"/>
<path d="M308.8 44.3L305.9 46.5A3.6 3.6 0 0 1 305.4 45.4Z" fill="#8e50a8"/>
<path d="M308.8 44.3L305.4 45.4A3.6 3.6 0 0 1 305.3 43.6Z" fill="#8e50a8"/>
<path d="M308.8 44.3L305.3 43.6A3.6 3.6 0 0 1 305.9 42.2Z" fill="#5cc3ee"/>
<path d="M308.8 44.3L305.9 42.2A3.6 3.6 0 0 1 307.2 41.1Z" fill="#b38a62"/>
<path d="M308.8 44.3L307.2 41.1A3.6 3.6 0 0 1 308.8 40.7Z" fill="#8e50a8"/>
<circle cx="308.8" cy="44.3" r="3.60" fill="none" stroke="#ffffff" stroke-width="0.30" stroke-opacity="0.5"/>
<path d="M316.1 48.9L316.1 45.3A3.6 3.6 0 0 1 318.5 46.2Z" fill="#4ea35c"/>
<path d="M316.1 48.9L318.5 46.2A3.6 3.6 0 0 1 319.7 48.4Z" fill="#4ea35c"/>
<path d="M316.1 48.9L319.7 48.4A3.6 3.6 0 0 1 319.4 50.3Z" fill="#f2b466"/>
<path d="M316.1 48.9L319.4 50.3A3.6 3.6 0 0 1 318.2 51.8Z" fill="#4ea35c"/>
<path d="M316.1 48.9L318.2 51.8A3.6 3.6 0 0 1 317.2 52.3Z" fill="#ec9ccc"/>
<path d="M316.1 48.9L317.2 52.3A3.6 3.6 0 0 1 315.2 52.4Z" fill="#8e50a8"/>
<path d="M316.1 48.9L315.2 52.4A3.6 3.6 0 0 1 313.6 51.5Z" fill="#ec9ccc"/>
<path d="M316.1 48.9L313.6 51.5A3.6 3.6 0 0 1 312.5 49.4Z" fill="#5cc3ee"/>
<path d="M316.1 48.9L312.5 49.4A3.6 3.6 0 0 1 312.6 48.0Z" fill="#ec9ccc"/>
<path d="M316.1 48.9L312.6 48.0A3.6 3.6 0 0 1 313.9 46.1Z" fill="#ec9ccc"/>
<path d="M316.1 48.9L313.9 46.1A3.6 3.6 0 0 1 316.1 45.3Z" fill="#b38a62"/>
<circle cx="316.1" cy="48.9" r="3.60" fill="none" stroke="#ffffff" stroke-width="0.30" stroke-opacity="0.5"/>
<path d="M323.5 55.2L323.5 51.6A3.6 3.6 0 0 1 326.7 53.6Z" fill="#4ea35c"/>
<path d="M323.5 55.2L326.7 53.6A3.6 3.6 0 0 1 326.9 56.4Z" fill="#4ea35c"/>
<path d="M323.5 55.2L326.9 56.4A3.6 3.6 0 0 1 326.4 57.4Z" fill="#8e50a8"/>
<path d="M323.5 55.2L326.4 57.4A3.6 3.6 0 0 1 325.1 58.4Z" fill="#ec9ccc"/>
<path d="M323.5 55.2L325.1 58.4A3.6 3.6 0 0 1 322.4 58.6Z" fill="#8e50a8"/>
<path d="M323.5 55.2L322.4 58.6A3.6 3.6 0 0 1 320.6 57.3Z" fill="#b38a62"/>
<path d="M323.5 55.2L320.6 57.3A3.6 3.6 0 0 1 320.1 56.3Z" fill="#ec9ccc"/>
<path d="M323.5 55.2L320.1 56.3A3.6 3.6 0 0 1 319.9 55.1Z" fill="#4ea35c"/>
<path d="M323.5 55.2L319.9 55.1A3.6 3.6 0 0 1 320.2 53.7Z" fill="#f2b466"/>
<path d="M323.5 55.2L320.2 53.7A3.6 3.6 0 0 1 322.3 51.8Z" fill="#f2b466"/>
<path d="M323.5 55.2L322.3 51.8A3.6 3.6 0 0 1 323.5 51.6Z" fill="#f2b466"/>
<circle cx="323.5" cy="55.2" r="3.60" fill="none" stroke="#ffffff" stroke-width="0.30" stroke-opacity="0.5"/>
<path d="M320.7 67.3L320.7 63.7A3.6 3.6 0 0 1 323.5 65.0Z" fill="#4ea35c"/>
<path d="M320.7 67.3L323.5 65.0A3.6 3.6 0 0 1 324.3 67.7Z" fill="#4ea35c"/>
<path d="M320.7 67.3L324.3 67.7A3.6 3.6 0 0 1 323.6 69.5Z" fill="#4ea35c"/>
<path d="M320.7 67.3L323.6 69.5A3.6 3.6 0 0 1 322.0 70.6Z" fill="#5cc3ee"/>
<path d="M320.7 67.3L322.0 70.6A3.6 3.6 0 0 1 320.1 70.9Z" fill="#b38a62"/>
<path d="M320.7 67.3L320.1 70.9A3.6 3.6 0 0 1 318.1 69.8Z" fill="#f2b466"/>
<path d="M320.7 67.3L318.1 69.8A3.6 3.6 0 0 1 317.4 68.8Z" fill="#4ea35c"/>
<path d="M320.7 67.3L317.4 68.8A3.6 3.6 0 0 1 317.1 66.7Z" fill="#5cc3ee"/>
<path d="M320.7 67.3L317.1 66.7A3.6 3.6 0 0 1 317.7 65.3Z" fill="#5cc3ee"/>
<path d="M320.7 67.3L317.7 65.3A3.6 3.6 0 0 1 319.4 63.9Z" fill="#ec9ccc"/>
<path d="M320.7 67.3L319.4 63.9A3.6 3.6 0 0 1 320.7 63.7Z" fill="#4ea35c"/>
<circle cx="320.7" cy="67.3" r="3.60" fill="none" stroke="#ffffff" stroke-width="0.30" stroke-opacity="0.5"/>
<path d="M324.4 73.7L324.4 70.1A3.6 3.6 0 0 1 327.1 71.3Z" fill="#4ea35c"/>
<path d="M324.4 73.7L327.1 71.3A3.6 3.6 0 0 1 328.0 73.9Z" fill="#4ea35c"/>
<path d="M324.4 73.7L328.0 73.9A3.6 3.6 0 0 1 327.5 75.5Z" fill="#ec9ccc"/>
<path d="M324.4 73.7L327.5 75.5A3.6 3.6 0 0 1 326.0 76.9Z" fill="#5cc3ee"/>
<path d="M324.4 73.7L326.0 76.9A3.6 3.6 0 0 1 323.7 77.2Z" fill="#5cc3ee"/>
<path d="M324.4 73.7L323.7 77.2A3.6 3.6 0 0 1 322.2 76.6Z" fill="#4ea35c"/>
<path d="M324.4 73.7L322.2 76.6A3.6 3.6 0 0 1 321.4 75.7Z" fill="#5cc3ee"/>
<path d="M324.4 73.7L321.4 75.7A3.6 3.6 0 0 1 320.8 74.0Z" fill="#ec9ccc"/>
<path d="M324.4 73.7L320.8 74.0A3.6 3.6 0 0 1 321.1 72.2Z" fill="#4ea35c"/>
<path d="M324.4 73.7L321.1 72.2A3.6 3.6 0 0 1 322.2 70.8Z" fill="#ec9ccc"/>
<path d="M324.4 73.7L322.2 70.8A3.6 3.6 0 0 1 324.4 70.1Z" fill="#ec9ccc"/>
<circle cx="324.4" cy="73.7" r="3.60" fill="none" stroke="#ffffff" stroke-width="0.30" stroke-opacity="0.5"/>
<path d="M327.2 81.0L327.2 77.4A3.6 3.6 0 0 1 330.2 79.0Z" fill="#4ea35c"/>
<path d="M327.2 81.0L330.2 79.0A3.6 3.6 0 0 1 330.7 81.6Z" fill="#4ea35c"/>
<path d="M327.2 81.0L330.7 81.6A3.6 3.6 0 0 1 330.4 82.7Z" fill="#5cc3ee"/>
<path d="M327.2 81.0L330.4 82.7A3.6 3.6 0 0 1 329.5 83.8Z" fill="#4ea35c"/>
<path d="M327.2 81.0L329.5 83.8A3.6 3.6 0 0 1 328.2 84.5Z" fill="#4ea35c"/>
<path d="M327.2 81.0L328.2 84.5A3.6 3.6 0 0 1 326.2 84.5Z" fill="#ec9ccc"/>
<path d="M327.2 81.0L326.2 84.5A3.6 3.6 0 0 1 324.1 82.8Z" fill="#5cc3ee"/>
<path d="M327.2 81.0L324.1 82.8A3.6 3.6 0 0 1 323.6 81.0Z" fill="#ec9ccc"/>
<path d="M327.2 81.0L323.6 81.0A3.6 3.6 0 0 1 323.8 79.8Z" fill="#ec9ccc"/>
<path d="M327.2 81.0L323.8 79.8A3.6 3.6 0 0 1 325.3 77.9Z" fill="#f2b466"/>
<path d="M327.2 81.0L325.3 77.9A3.6 3.6 0 0 1 327.2 77.4Z" fill="#4ea35c"/>
<circle cx="327.2" cy="81.0" r="3.60" fill="none" stroke="#ffffff" stroke-width="0.30" stroke-opacity="0.5"/>
<path d="M328.1 87.6L328.1 84.0A3.6 3.6 0 0 1 331.1 85.6Z" fill="#4ea35c"/>
<path d="M328.1 87.6L331.1 85.6A3.6 3.6 0 0 1 331.7 87.9Z" fill="#4ea35c"/>
<path d="M328.1 87.6L331.7 87.9A3.6 3.6 0 0 1 330.9 89.9Z" fill="#ec9ccc"/>
<path d="M328.1 87.6L330.9 89.9A3.6 3.6 0 0 1 329.3 91.0Z" fill="#ec9ccc"/>
<path d="M328.1 87.6L329.3 91.0A3.6 3.6 0 0 1 327.2 91.1Z" fill="#5cc3ee"/>
<path d="M328.1 87.6L327.2 91.1A3.6 3.6 0 0 1 326.3 90.7Z" fill="#4ea35c"/>
<path d="M328.1 87.6L326.3 90.7A3.6 3.6 0 0 1 325.0 89.4Z" fill="#f2b466"/>
<path d="M328.1 87.6L325.0 89.4A3.6 3.6 0 0 1 324.5 87.1Z" fill="#8e50a8"/>
<path d="M328.1 87.6L324.5 87.1A3.6 3.6 0 0 1 325.6 85.0Z" fill="#8e50a8"/>
<path d="M328.1 87.6L325.6 85.0A3.6 3.6 0 0 1 326.6 84.3Z" fill="#4ea35c"/>
<path d="M328.1 87.6L326.6 84.3A3.6 3.6 0 0 1 328.1 84.0Z" fill="#8e50a8"/>
<circle cx="328.1" cy="87.6" r="3.60" fill="none" stroke="#ffffff" stroke-width="0.30" stroke-opacity="0.5"/>
<path d="M249.8 108.7L249.8 105.1A3.6 3.6 0 0 1 252.7 106.5Z" fill="#4ea35c"/>
<path d="M249.8 108.7L252.7 106.5A3.6 3.6 0 0 1 253.4 109.2Z" fill="#4ea35c"/>
<path d="M249.8 108.7L253.4 109.2A3.6 3.6 0 0 1 252.0 111.5Z" fill="#b38a62"/>
<path d="M249.8 108.7L252.0 111.5A3.6 3.6 0 0 1 251.1 112.1Z" fill="#f2b466"/>
<path d="M249.8 108.7L251.1 112.1A3.6 3.6 0 0 1 249.7 112.3Z" fill="#8e50a8"/>
<path d="M249.8 108.7L249.7 112.3A3.6 3.6 0 0 1 247.6 111.5Z" fill="#5cc3ee"/>
<path d="M249.8 108.7L247.6 111.5A3.6 3.6 0 0 1 246.3 109.6Z" fill="#f2b466"/>
<path d="M249.8 108.7L246.3 109.6A3.6 3.6 0 0 1 246.5 107.4Z" fill="#5cc3ee"/>
<path d="M249.8 108.7L246.5 107.4A3.6 3.6 0 0 1 247.3 106.1Z" fill="#8e50a8"/>
<path d="M249.8 108.7L247.3 106.1A3.6 3.6 0 0 1 248.5 105.3Z" fill="#f2b466"/>
<path d="M249.8 108.7L248.5 105.3A3.6 3.6 0 0 1 249.8 105.1Z" fill="#ec9ccc"/>
<circle cx="249.8" cy="108.7" r="3.60" fill="none" stroke="#ffffff" stroke-width="0.30" stroke-opacity="0.5"/>
<path d="M253.5 115.1L253.5 111.5A3.6 3.6 0 0 1 256.1 112.6Z" fill="#4ea35c"/>
<path d="M253.5 115.1L256.1 112.6A3.6 3.6 0 0 1 257.0 116.0Z" fill="#4ea35c"/>
<path d="M253.5 115.1L257.0 116.0A3.6 3.6 0 0 1 256.1 117.6Z" fill="#f2b466"/>
<path d="M253.5 115.1L256.1 117.6A3.6 3.6 0 0 1 254.2 118.6Z" fill="#ec9ccc"/>
<path d="M253.5 115.1L254.2 118.6A3.6 3.6 0 0 1 252.8 118.6Z" fill="#5cc3ee"/>
<path d="M253.5 115.1L252.8 118.6A3.6 3.6 0 0 1 251.4 118.0Z" fill="#4ea35c"/>
<path d="M253.5 115.1L251.4 118.0A3.6 3.6 0 0 1 250.6 117.2Z" fill="#4ea35c"/>
<path d="M253.5 115.1L250.6 117.2A3.6 3.6 0 0 1 249.9 114.7Z" fill="#4ea35c"/>
<path d="M253.5 115.1L249.9 114.7A3.6 3.6 0 0 1 250.7 112.9Z" fill="#5cc3ee"/>
<path d="M253.5 115.1L250.7 112.9A3.6 3.6 0 0 1 252.2 111.7Z" fill="#f2b466"/>
<path d="M253.5 115.1L252.2 111.7A3.6 3.6 0 0 1 253.5 111.5Z" fill="#f2b466"/>
<circle cx="253.5" cy="115.1" r="3.60" fill="none" stroke="#ffffff" stroke-width="0.30" stroke-opacity="0.5"/>
<path d="M258.1 120.6L258.1 117.0A3.6 3.6 0 0 1 260.8 118.2Z" fill="#4ea35c"/>
<path d="M258.1 120.6L260.8 118.2A3.6 3.6 0 0 1 261.7 121.1Z" fill="#4ea35c"/>
<path d="M258.1 120.6L261.7 121.1A3.6 3.6 0 0 1 261.2 122.4Z" fill="#1c4a2c"/>
<path d="M258.1 120.6L261.2 122.4A3.6 3.6 0 0 1 259.7 123.8Z" fill="#f2b466"/>
<path d="M258.1 120.6L259.7 123.8A3.6 3.6 0 0 1 258.2 124.2Z" fill="#f2b466"/>
<path d="M258.1 120.6L258.2 124.2A3.6 3.6 0 0 1 257.1 124.1Z" fill="#b38a62"/>
<path d="M258.1 120.6L257.1 124.1A3.6 3.6 0 0 1 255.4 123.0Z" fill="#f2b466"/>
<path d="M258.1 120.6L255.4 123.0A3.6 3.6 0 0 1 254.6 121.4Z" fill="#4ea35c"/>
<path d="M258.1 120.6L254.6 121.4A3.6 3.6 0 0 1 254.7 119.3Z" fill="#f2b466"/>
<path d="M258.1 120.6L254.7 119.3A3.6 3.6 0 0 1 256.0 117.6Z" fill="#8e50a8"/>
<path d="M258.1 120.6L256.0 117.6A3.6 3.6 0 0 1 258.1 117.0Z" fill="#b38a62"/>
<circle cx="258.1" cy="120.6" r="3.60" fill="none" stroke="#ffffff" stroke-width="0.30" stroke-opacity="0.5"/>
<path d="M263.6 125.2L263.6 121.6A3.6 3.6 0 0 1 266.2 122.7Z" fill="#4ea35c"/>
<path d="M263.6 125.2L266.2 122.7A3.6 3.6 0 0 1 267.2 125.3Z" fill="#4ea35c"/>
<path d="M263.6 125.2L267.2 125.3A3.6 3.6 0 0 1 266.7 127.1Z" fill="#8e50a8"/>
<path d="M263.6 125.2L266.7 127.1A3.6 3.6 0 0 1 264.5 128.7Z" fill="#4ea35c"/>
<path d="M263.6 125.2L264.5 128.7A3.6 3.6 0 0 1 262.7 128.7Z" fill="#ec9ccc"/>
<path d="M263.6 125.2L262.7 128.7A3.6 3.6 0 0 1 261.2 127.9Z" fill="#4ea35c"/>
<path d="M263.6 125.2L261.2 127.9A3.6 3.6 0 0 1 260.4 126.8Z" fill="#5cc3ee"/>
<path d="M263.6 125.2L260.4 126.8A3.6 3.6 0 0 1 260.0 124.7Z" fill="#f2b466"/>
<path d="M263.6 125.2L260.0 124.7A3.6 3.6 0 0 1 260.5 123.4Z" fill="#4ea35c"/>
<path d="M263.6 125.2L260.5 123.4A3.6 3.6 0 0 1 262.4 121.8Z" fill="#4ea35c"/>
<path d="M263.6 125.2L262.4 121.8A3.6 3.6 0 0 1 263.6 121.6Z" fill="#5cc3ee"/>
<circle cx="263.6" cy="125.2" r="3.60" fill="none" stroke="#ffffff" stroke-width="0.30" stroke-opacity="0.5"/>
<path d="M270.1 128.9L270.1 125.3A3.6 3.6 0 0 1 273.5 127.6Z" fill="#4ea35c"/>
<path d="M270.1 128.9L273.5 127.6A3.6 3.6 0 0 1 273.0 131.1Z" fill="#4ea35c"/>
<path d="M270.1 128.9L273.0 131.1A3.6 3.6 0 0 1 272.0 132.0Z" fill="#4ea35c"/>
<path d="M270.1 128.9L272.0 132.0A3.6 3.6 0 0 1 270.2 132.5Z" fill="#5cc3ee"/>
<path d="M270.1 128.9L270.2 132.5A3.6 3.6 0 0 1 269.1 132.4Z" fill="#f2b466"/>
<path d="M270.1 128.9L269.1 132.4A3.6 3.6 0 0 1 267.6 131.5Z" fill="#8e50a8"/>
<path d="M270.1 128.9L267.6 131.5A3.6 3.6 0 0 1 266.5 129.1Z" fill="#4ea35c"/>
<path d="M270.1 128.9L266.5 129.1A3.6 3.6 0 0 1 267.0 127.1Z" fill="#4ea35c"/>
<path d="M270.1 128.9L267.0 127.1A3.6 3.6 0 0 1 267.7 126.2Z" fill="#f2b466"/>
<path d="M270.1 128.9L267.7 126.2A3.6 3.6 0 0 1 268.7 125.6Z" fill="#5cc3ee"/>
<path d="M270.1 128.9L268.7 125.6A3.6 3.6 0 0 1 270.1 125.3Z" fill="#4ea35c"/>
<circle cx="270.1" cy="128.9" r="3.60" fill="none" stroke="#ffffff" stroke-width="0.30" stroke-opacity="0.5"/>
<path d="M276.5 131.3L276.5 127.7A3.6 3.6 0 0 1 279.6 129.4Z" fill="#4ea35c"/>
<path d="M276.5 131.3L279.6 129.4A3.6 3.6 0 0 1 280.0 132.0Z" fill="#4ea35c"/>
<path d="M276.5 131.3L280.0 132.0A3.6 3.6 0 0 1 278.9 134.0Z" fill="#8e50a8"/>
<path d="M276.5 131.3L278.9 134.0A3.6 3.6 0 0 1 277.3 134.8Z" fill="#5cc3ee"/>
<path d="M276.5 131.3L277.3 134.8A3.6 3.6 0 0 1 275.8 134.8Z" fill="#8e50a8"/>
<path d="M276.5 131.3L275.8 134.8A3.6 3.6 0 0 1 274.0 133.9Z" fill="#4ea35c"/>
<path d="M276.5 131.3L274.0 133.9A3.6 3.6 0 0 1 273.4 133.1Z" fill="#5cc3ee"/>
<path d="M276.5 131.3L273.4 133.1A3.6 3.6 0 0 1 272.9 131.5Z" fill="#4ea35c"/>
<path d="M276.5 131.3L272.9 131.5A3.6 3.6 0 0 1 273.3 129.6Z" fill="#8e50a8"/>
<path d="M276.5 131.3L273.3 129.6A3.6 3.6 0 0 1 274.2 128.5Z" fill="#b38a62"/>
<path d="M276.5 131.3L274.2 128.5A3.6 3.6 0 0 1 276.5 127.7Z" fill="#b38a62"/>
<circle cx="276.5" cy="131.3" r="3.60" fill="none" stroke="#ffffff" stroke-width="0.30" stroke-opacity="0.5"/>
<path d="M283.0 142.7L283.0 139.1A3.6 3.6 0 0 1 286.0 140.6Z" fill="#4ea35c"/>
<path d="M283.0 142.7L286.0 140.6A3.6 3.6 0 0 1 286.4 144.0Z" fill="#4ea35c"/>
<path d="M283.0 142.7L286.4 144.0A3.6 3.6 0 0 1 285.3 145.4Z" fill="#f2b466"/>
<path d="M283.0 142.7L285.3 145.4A3.6 3.6 0 0 1 283.7 146.2Z" fill="#b38a62"/>
<path d="M283.0 142.7L283.7 146.2A3.6 3.6 0 0 1 282.3 146.2Z" fill="#f2b466"/>
<path d="M283.0 142.7L282.3 146.2A3.6 3.6 0 0 1 280.1 144.8Z" fill="#b38a62"/>
<path d="M283.0 142.7L280.1 144.8A3.6 3.6 0 0 1 279.6 143.8Z" fill="#8e50a8"/>
<path d="M283.0 142.7L279.6 143.8A3.6 3.6 0 0 1 279.5 141.8Z" fill="#5cc3ee"/>
<path d="M283.0 142.7L279.5 141.8A3.6 3.6 0 0 1 280.1 140.6Z" fill="#b38a62"/>
<path d="M283.0 142.7L280.1 140.6A3.6 3.6 0 0 1 281.3 139.5Z" fill="#4ea35c"/>
<path d="M283.0 142.7L281.3 139.5A3.6 3.6 0 0 1 283.0 139.1Z" fill="#8e50a8"/>
<circle cx="283.0" cy="142.7" r="3.60" fill="none" stroke="#ffffff" stroke-width="0.30" stroke-opacity="0.5"/>
<path d="M291.3 142.7L291.3 139.1A3.6 3.6 0 0 1 293.7 140.0Z" fill="#4ea35c"/>
<path d="M291.3 142.7L293.7 140.0A3.6 3.6 0 0 1 294.9 143.2Z" fill="#4ea35c"/>
<path d="M291.3 142.7L294.9 143.2A3.6 3.6 0 0 1 294.1 145.0Z" fill="#ec9ccc"/>
<path d="M291.3 142.7L294.1 145.0A3.6 3.6 0 0 1 293.4 145.7Z" fill="#8e50a8"/>
<path d="M291.3 142.7L293.4 145.7A3.6 3.6 0 0 1 290.8 146.3Z" fill="#4ea35c"/>
<path d="M291.3 142.7L290.8 146.3A3.6 3.6 0 0 1 289.5 145.8Z" fill="#8e50a8"/>
<path d="M291.3 142.7L289.5 145.8A3.6 3.6 0 0 1 288.3 144.6Z" fill="#4ea35c"/>
<path d="M291.3 142.7L288.3 144.6A3.6 3.6 0 0 1 287.7 143.2Z" fill="#ec9ccc"/>
<path d="M291.3 142.7L287.7 143.2A3.6 3.6 0 0 1 288.1 141.0Z" fill="#ec9ccc"/>
<path d="M291.3 142.7L288.1 141.0A3.6 3.6 0 0 1 290.2 139.3Z" fill="#4ea35c"/>
<path d="M291.3 142.7L290.2 139.3A3.6 3.6 0 0 1 291.3 139.1Z" fill="#ec9ccc"/>
<circle cx="291.3" cy="142.7" r="3.60" fill="none" stroke="#ffffff" stroke-width="0.30" stroke-opacity="0.5"/>
<path d="M358.5 97.6L358.5 94.0A3.6 3.6 0 0 1 361.8 96.1Z" fill="#8e50a8"/>
<path d="M358.5 97.6L361.8 96.1A3.6 3.6 0 0 1 361.8 99.0Z" fill="#8e50a8"/>
<path d="M358.5 97.6L361.8 99.0A3.6 3.6 0 0 1 360.6 100.5Z" fill="#ec9ccc"/>
<path d="M358.5 97.6L360.6 100.5A3.6 3.6 0 0 1 358.8 101.2Z" fill="#ec9ccc"/>
<path d="M358.5 97.6L358.8 101.2A3.6 3.6 0 0 1 357.2 101.0Z" fill="#ec9ccc"/>
<path d="M358.5 97.6L357.2 101.0A3.6 3.6 0 0 1 356.0 100.2Z" fill="#ec9ccc"/>
<path d="M358.5 97.6L356.0 100.2A3.6 3.6 0 0 1 355.1 98.9Z" fill="#f2b466"/>
<path d="M358.5 97.6L355.1 98.9A3.6 3.6 0 0 1 354.9 97.9Z" fill="#5cc3ee"/>
<path d="M358.5 97.6L354.9 97.9A3.6 3.6 0 0 1 355.0 96.7Z" fill="#b38a62"/>
<path d="M358.5 97.6L355.0 96.7A3.6 3.6 0 0 1 356.6 94.5Z" fill="#4ea35c"/>
<path d="M358.5 97.6L356.6 94.5A3.6 3.6 0 0 1 358.5 94.0Z" fill="#5cc3ee"/>
<circle cx="358.5" cy="97.6" r="3.60" fill="none" stroke="#ffffff" stroke-width="0.30" stroke-opacity="0.5"/>
<path d="M356.6 109.6L356.6 106.0A3.6 3.6 0 0 1 359.6 107.6Z" fill="#8e50a8"/>
<path d="M356.6 109.6L359.6 107.6A3.6 3.6 0 0 1 359.8 111.2Z" fill="#8e50a8"/>
<path d="M356.6 109.6L359.8 111.2A3.6 3.6 0 0 1 358.9 112.4Z" fill="#4ea35c"/>
<path d="M356.6 109.6L358.9 112.4A3.6 3.6 0 0 1 356.9 113.2Z" fill="#5cc3ee"/>
<path d="M356.6 109.6L356.9 113.2A3.6 3.6 0 0 1 354.5 112.5Z" fill="#f2b466"/>
<path d="M356.6 109.6L354.5 112.5A3.6 3.6 0 0 1 353.7 111.7Z" fill="#ec9ccc"/>
<path d="M356.6 109.6L353.7 111.7A3.6 3.6 0 0 1 353.1 110.5Z" fill="#8e50a8"/>
<path d="M356.6 109.6L353.1 110.5A3.6 3.6 0 0 1 353.2 108.5Z" fill="#5cc3ee"/>
<path d="M356.6 109.6L353.2 108.5A3.6 3.6 0 0 1 354.2 106.9Z" fill="#b38a62"/>
<path d="M356.6 109.6L354.2 106.9A3.6 3.6 0 0 1 355.2 106.3Z" fill="#f2b466"/>
<path d="M356.6 109.6L355.2 106.3A3.6 3.6 0 0 1 356.6 106.0Z" fill="#8e50a8"/>
<circle cx="356.6" cy="109.6" r="3.60" fill="none" stroke="#ffffff" stroke-width="0.30" stroke-opacity="0.5"/>
<path d="M352.0 121.6L352.0 118.0A3.6 3.6 0 0 1 354.7 119.2Z" fill="#8e50a8"/>
<path d="M352.0 121.6L354.7 119.2A3.6 3.6 0 0 1 355.6 121.6Z" fill="#8e50a8"/>
<path d="M352.0 121.6L355.6 121.6A3.6 3.6 0 0 1 355.0 123.6Z" fill="#4ea35c"/>
<path d="M352.0 121.6L355.0 123.6A3.6 3.6 0 0 1 353.5 124.9Z" fill="#8e50a8"/>
<path d="M352.0 121.6L353.5 124.9A3.6 3.6 0 0 1 352.1 125.2Z" fill="#ec9ccc"/>
<path d="M352.0 121.6L352.1 125.2A3.6 3.6 0 0 1 350.7 125.0Z" fill="#8e50a8"/>
<path d="M352.0 121.6L350.7 125.0A3.6 3.6 0 0 1 349.1 123.8Z" fill="#b38a62"/>
<path d="M352.0 121.6L349.1 123.8A3.6 3.6 0 0 1 348.4 121.6Z" fill="#5cc3ee"/>
<path d="M352.0 121.6L348.4 121.6A3.6 3.6 0 0 1 348.9 119.8Z" fill="#4ea35c"/>
<path d="M352.0 121.6L348.9 119.8A3.6 3.6 0 0 1 350.5 118.3Z" fill="#8e50a8"/>
<path d="M352.0 121.6L350.5 118.3A3.6 3.6 0 0 1 352.0 118.0Z" fill="#8e50a8"/>
<circle cx="352.0" cy="121.6" r="3.60" fill="none" stroke="#ffffff" stroke-width="0.30" stroke-opacity="0.5"/>
<path d="M345.6 132.6L345.6 129.0A3.6 3.6 0 0 1 348.2 130.1Z" fill="#1c4a2c"/>
<path d="M345.6 132.6L348.2 130.1A3.6 3.6 0 0 1 349.1 133.5Z" fill="#1c4a2c"/>
<path d="M345.6 132.6L349.1 133.5A3.6 3.6 0 0 1 348.7 134.5Z" fill="#f2b466"/>
<path d="M345.6 132.6L348.7 134.5A3.6 3.6 0 0 1 348.1 135.2Z" fill="#f2b466"/>
<path d="M345.6 132.6L348.1 135.2A3.6 3.6 0 0 1 346.8 136.0Z" fill="#ec9ccc"/>
<path d="M345.6 132.6L346.8 136.0A3.6 3.6 0 0 1 344.2 135.9Z" fill="#5cc3ee"/>
<path d="M345.6 132.6L344.2 135.9A3.6 3.6 0 0 1 343.1 135.2Z" fill="#b38a62"/>
<path d="M345.6 132.6L343.1 135.2A3.6 3.6 0 0 1 342.1 133.3Z" fill="#4ea35c"/>
<path d="M345.6 132.6L342.1 133.3A3.6 3.6 0 0 1 342.5 130.7Z" fill="#8e50a8"/>
<path d="M345.6 132.6L342.5 130.7A3.6 3.6 0 0 1 344.6 129.1Z" fill="#b38a62"/>
<path d="M345.6 132.6L344.6 129.1A3.6 3.6 0 0 1 345.6 129.0Z" fill="#5cc3ee"/>
<circle cx="345.6" cy="132.6" r="3.60" fill="none" stroke="#ffffff" stroke-width="0.30" stroke-opacity="0.5"/>
<path d="M338.2 141.8L338.2 138.2A3.6 3.6 0 0 1 340.9 139.4Z" fill="#8e50a8"/>
<path d="M338.2 141.8L340.9 139.4A3.6 3.6 0 0 1 341.8 142.3Z" fill="#8e50a8"/>
<path d="M338.2 141.8L341.8 142.3A3.6 3.6 0 0 1 340.5 144.5Z" fill="#8e50a8"/>
<path d="M338.2 141.8L340.5 144.5A3.6 3.6 0 0 1 339.2 145.2Z" fill="#ec9ccc"/>
<path d="M338.2 141.8L339.2 145.2A3.6 3.6 0 0 1 338.3 145.4Z" fill="#b38a62"/>
<path d="M338.2 141.8L338.3 145.4A3.6 3.6 0 0 1 336.9 145.2Z" fill="#b38a62"/>
<path d="M338.2 141.8L336.9 145.2A3.6 3.6 0 0 1 335.9 144.5Z" fill="#4ea35c"/>
<path d="M338.2 141.8L335.9 144.5A3.6 3.6 0 0 1 335.0 143.5Z" fill="#b38a62"/>
<path d="M338.2 141.8L335.0 143.5A3.6 3.6 0 0 1 334.7 141.1Z" fill="#ec9ccc"/>
<path d="M338.2 141.8L334.7 141.1A3.6 3.6 0 0 1 336.0 139.0Z" fill="#ec9ccc"/>
<path d="M338.2 141.8L336.0 139.0A3.6 3.6 0 0 1 338.2 138.2Z" fill="#4ea35c"/>
<circle cx="338.2" cy="141.8" r="3.60" fill="none" stroke="#ffffff" stroke-width="0.30" stroke-opacity="0.5"/>
<path d="M328.1 150.1L328.1 146.5A3.6 3.6 0 0 1 330.7 147.6Z" fill="#f2b466"/>
<path d="M328.1 150.1L330.7 147.6A3.6 3.6 0 0 1 331.7 150.2Z" fill="#f2b466"/>
<path d="M328.1 150.1L331.7 150.2A3.6 3.6 0 0 1 331.1 152.1Z" fill="#5cc3ee"/>
<path d="M328.1 150.1L331.1 152.1A3.6 3.6 0 0 1 329.3 153.5Z" fill="#f2b466"/>
<path d="M328.1 150.1L329.3 153.5A3.6 3.6 0 0 1 327.3 153.6Z" fill="#8e50a8"/>
<path d="M328.1 150.1L327.3 153.6A3.6 3.6 0 0 1 325.6 152.7Z" fill="#8e50a8"/>
<path d="M328.1 150.1L325.6 152.7A3.6 3.6 0 0 1 324.5 150.6Z" fill="#f2b466"/>
<path d="M328.1 150.1L324.5 150.6A3.6 3.6 0 0 1 324.5 149.7Z" fill="#ec9ccc"/>
<path d="M328.1 150.1L324.5 149.7A3.6 3.6 0 0 1 325.0 148.3Z" fill="#8e50a8"/>
<path d="M328.1 150.1L325.0 148.3A3.6 3.6 0 0 1 325.8 147.3Z" fill="#5cc3ee"/>
<path d="M328.1 150.1L325.8 147.3A3.6 3.6 0 0 1 328.1 146.5Z" fill="#4ea35c"/>
<circle cx="328.1" cy="150.1" r="3.60" fill="none" stroke="#ffffff" stroke-width="0.30" stroke-opacity="0.5"/>
<path d="M317.6 156.6L317.6 153.0A3.6 3.6 0 0 1 320.4 154.3Z" fill="#f2b466"/>
<path d="M317.6 156.6L320.4 154.3A3.6 3.6 0 0 1 321.2 156.9Z" fill="#f2b466"/>
<path d="M317.6 156.6L321.2 156.9A3.6 3.6 0 0 1 319.9 159.3Z" fill="#8e50a8"/>
<path d="M317.6 156.6L319.9 159.3A3.6 3.6 0 0 1 319.1 159.9Z" fill="#b38a62"/>
<path d="M317.6 156.6L319.1 159.9A3.6 3.6 0 0 1 318.0 160.2Z" fill="#4ea35c"/>
<path d="M317.6 156.6L318.0 160.2A3.6 3.6 0 0 1 316.7 160.1Z" fill="#f2b466"/>
<path d="M317.6 156.6L316.7 160.1A3.6 3.6 0 0 1 315.0 159.1Z" fill="#b38a62"/>
<path d="M317.6 156.6L315.0 159.1A3.6 3.6 0 0 1 314.0 156.6Z" fill="#5cc3ee"/>
<path d="M317.6 156.6L314.0 156.6A3.6 3.6 0 0 1 314.3 155.2Z" fill="#ec9ccc"/>
<path d="M317.6 156.6L314.3 155.2A3.6 3.6 0 0 1 316.2 153.3Z" fill="#8e50a8"/>
<path d="M317.6 156.6L316.2 153.3A3.6 3.6 0 0 1 317.6 153.0Z" fill="#5cc3ee"/>
<circle cx="317.6" cy="156.6" r="3.60" fill="none" stroke="#ffffff" stroke-width="0.30" stroke-opacity="0.5"/>
<path d="M306.0 161.2L306.0 157.6A3.6 3.6 0 0 1 309.0 159.2Z" fill="#f2b466"/>
<path d="M306.0 161.2L309.0 159.2A3.6 3.6 0 0 1 309.3 162.5Z" fill="#f2b466"/>
<path d="M306.0 161.2L309.3 162.5A3.6 3.6 0 0 1 308.1 164.1Z" fill="#b38a62"/>
<path d="M306.0 161.2L308.1 164.1A3.6 3.6 0 0 1 306.7 164.7Z" fill="#5cc3ee"/>
<path d="M306.0 161.2L306.7 164.7A3.6 3.6 0 0 1 305.0 164.7Z" fill="#f2b466"/>
<path d="M306.0 161.2L305.0 164.7A3.6 3.6 0 0 1 303.3 163.6Z" fill="#ec9ccc"/>
<path d="M306.0 161.2L303.3 163.6A3.6 3.6 0 0 1 302.5 162.1Z" fill="#8e50a8"/>
<path d="M306.0 161.2L302.5 162.1A3.6 3.6 0 0 1 302.5 160.5Z" fill="#8e50a8"/>
<path d="M306.0 161.2L302.5 160.5A3.6 3.6 0 0 1 303.0 159.2Z" fill="#8e50a8"/>
<path d="M306.0 161.2L303.0 159.2A3.6 3.6 0 0 1 305.0 157.7Z" fill="#8e50a8"/>
<path d="M306.0 161.2L305.0 157.7A3.6 3.6 0 0 1 306.0 157.6Z" fill="#8e50a8"/>
<circle cx="306.0" cy="161.2" r="3.60" fill="none" stroke="#ffffff" stroke-width="0.30" stroke-opacity="0.5"/>
<path d="M37.3 164.3L37.3 147.0" stroke="#231f20" stroke-width="0.70"/>
<path d="M35.6 148.2 L37.3 144.2 L39.0 148.2 Z" fill="#231f20"/>
<path d="M37.3 164.3L53.5 164.3" stroke="#231f20" stroke-width="0.70"/>
<path d="M52.3 162.6 L56.3 164.3 L52.3 166.0 Z" fill="#231f20"/>
<text x="32.6" y="164.0" font-size="7.40" transform="rotate(-90.00 32.60 164.00)">Dim 2</text>
<text x="35.6" y="174.8" font-size="7.40">Dim 1</text>
<rect x="39.60" y="182.60" width="7.00" height="7.00" fill="#8fd0ea"/>
<text x="49.4" y="188.8" font-size="7.60">CXCR2<tspan font-size="4.18" dy="-2.74">+</tspan></text>
<rect x="39.60" y="191.40" width="7.00" height="7.00" fill="#a6d68e"/>
<text x="49.4" y="197.6" font-size="7.60">CXCL8<tspan font-size="4.18" dy="-2.74">+</tspan><tspan dy="2.74">IL1B</tspan><tspan font-size="4.18" dy="-2.74">+</tspan></text>
<rect x="39.60" y="200.60" width="7.00" height="7.00" fill="#d4b6e0"/>
<text x="49.4" y="206.8" font-size="7.60">HLA–DR<tspan font-size="4.18" dy="-2.74">+</tspan><tspan dy="2.74">CD74</tspan><tspan font-size="4.18" dy="-2.74">+</tspan></text>
<rect x="39.60" y="209.80" width="7.00" height="7.00" fill="#f7c07a"/>
<text x="49.4" y="216.0" font-size="7.60">IFIT1<tspan font-size="4.18" dy="-2.74">+</tspan><tspan dy="2.74">ISG15</tspan><tspan font-size="4.18" dy="-2.74">+</tspan></text>
<rect x="110.40" y="182.60" width="7.00" height="7.00" fill="#9e9e9e"/>
<text x="120.2" y="188.8" font-size="7.60">S100A12<tspan font-size="4.18" dy="-2.74">+</tspan></text>
<rect x="110.40" y="191.40" width="7.00" height="7.00" fill="#2383c4"/>
<text x="120.2" y="197.6" font-size="7.60">MMP9<tspan font-size="4.18" dy="-2.74">+</tspan></text>
<rect x="110.40" y="200.60" width="7.00" height="7.00" fill="#f2a7ab"/>
<text x="120.2" y="206.8" font-size="7.60">NFKBIZ<tspan font-size="4.18" dy="-2.74">+</tspan><tspan dy="2.74">HIF1A</tspan><tspan font-size="4.18" dy="-2.74">+</tspan></text>
<rect x="110.40" y="209.80" width="7.00" height="7.00" fill="#f0801e"/>
<text x="120.2" y="216.0" font-size="7.60">VEGFA<tspan font-size="4.18" dy="-2.74">+</tspan><tspan dy="2.74">SPP1</tspan><tspan font-size="4.18" dy="-2.74">+</tspan></text>
<rect x="158.00" y="182.60" width="7.00" height="7.00" fill="#1fa84a"/>
<text x="167.8" y="188.8" font-size="7.60">TXNIP<tspan font-size="4.18" dy="-2.74">+</tspan></text>
<rect x="158.00" y="191.40" width="7.00" height="7.00" fill="#d88fc4"/>
<text x="167.8" y="197.6" font-size="7.60">ARG1<tspan font-size="4.18" dy="-2.74">+</tspan></text>
<rect x="212.00" y="182.20" width="7.00" height="7.00" fill="#e6cfe2"/>
<text x="221.4" y="188.4" font-size="7.60">BRCA</text>
<rect x="212.00" y="191.40" width="7.00" height="7.00" fill="#4ea35c"/>
<text x="221.4" y="197.6" font-size="7.60">CESC</text>
<rect x="212.00" y="201.00" width="7.00" height="7.00" fill="#f2b466"/>
<text x="221.4" y="207.2" font-size="7.60">COAD</text>
<rect x="212.00" y="210.40" width="7.00" height="7.00" fill="#f2aa9a"/>
<text x="221.4" y="216.6" font-size="7.60">GBC</text>
<rect x="244.40" y="182.20" width="7.00" height="7.00" fill="#d6e9a4"/>
<text x="253.8" y="188.4" font-size="7.60">GIST</text>
<rect x="244.40" y="191.40" width="7.00" height="7.00" fill="#5cc3ee"/>
<text x="253.8" y="197.6" font-size="7.60">HCC</text>
<rect x="244.40" y="201.00" width="7.00" height="7.00" fill="#3f6f9c"/>
<text x="253.8" y="207.2" font-size="7.60">OSCC</text>
<rect x="244.40" y="210.40" width="7.00" height="7.00" fill="#e25454"/>
<text x="253.8" y="216.6" font-size="7.60">ICC</text>
<rect x="276.40" y="182.20" width="7.00" height="7.00" fill="#ec9ccc"/>
<text x="285.8" y="188.4" font-size="7.60">NSCLC</text>
<rect x="276.40" y="191.40" width="7.00" height="7.00" fill="#a4237f"/>
<text x="285.8" y="197.6" font-size="7.60">LGG</text>
<rect x="276.40" y="201.00" width="7.00" height="7.00" fill="#1c4a2c"/>
<text x="285.8" y="207.2" font-size="7.60">OV</text>
<rect x="276.40" y="210.40" width="7.00" height="7.00" fill="#b38a62"/>
<text x="285.8" y="216.6" font-size="7.60">PAAD</text>
<rect x="314.40" y="182.20" width="7.00" height="7.00" fill="#8e50a8"/>
<text x="323.8" y="188.4" font-size="7.60">RCC</text>
<rect x="314.40" y="191.40" width="7.00" height="7.00" fill="#555555"/>
<text x="323.8" y="197.6" font-size="7.60">SKCM</text>
<rect x="314.40" y="201.00" width="7.00" height="7.00" fill="#9ca2aa"/>
<text x="323.8" y="207.2" font-size="7.60">STAD</text>
<rect x="314.40" y="210.40" width="7.00" height="7.00" fill="#e2d6ce"/>
<text x="323.8" y="216.6" font-size="7.60">THYM</text>
<rect x="341.50" y="182.20" width="7.00" height="7.00" fill="#5c3272"/>
<text x="350.9" y="188.4" font-size="7.60">BLCA</text>
<text x="396.5" y="18.0" font-size="17.50" fill="#000" font-weight="bold" style="stroke:none">B</text>
<rect x="488.10" y="17.20" width="21.64" height="15.41" fill="#ec7049"/>
<rect x="509.74" y="17.20" width="21.64" height="15.41" fill="#fbe4dc"/>
<rect x="531.38" y="17.20" width="21.64" height="15.41" fill="#fdf1ee"/>
<rect x="553.02" y="17.20" width="21.64" height="15.41" fill="#f8cabc"/>
<rect x="574.66" y="17.20" width="21.64" height="15.41" fill="#f6baa7"/>
<rect x="596.30" y="17.20" width="21.64" height="15.41" fill="#f9d1c4"/>
<rect x="617.94" y="17.20" width="21.64" height="15.41" fill="#fbded5"/>
<rect x="639.58" y="17.20" width="21.64" height="15.41" fill="#ffffff"/>
<rect x="661.22" y="17.20" width="21.64" height="15.41" fill="#ec7049"/>
<rect x="682.86" y="17.20" width="21.64" height="15.41" fill="#ffffff"/>
<rect x="704.50" y="17.20" width="21.64" height="15.41" fill="#fadcd2"/>
<rect x="726.14" y="17.20" width="21.64" height="15.41" fill="#ec7049"/>
<rect x="747.78" y="17.20" width="21.64" height="15.41" fill="#ffffff"/>
<rect x="769.42" y="17.20" width="21.64" height="15.41" fill="#fef9f8"/>
<rect x="791.06" y="17.20" width="21.64" height="15.41" fill="#fdefeb"/>
<rect x="812.70" y="17.20" width="21.64" height="15.41" fill="#fcebe6"/>
<rect x="834.34" y="17.20" width="21.64" height="15.41" fill="#ffffff"/>
<rect x="488.10" y="32.61" width="21.64" height="15.41" fill="#ec7049"/>
<rect x="509.74" y="32.61" width="21.64" height="15.41" fill="#f08b6c"/>
<rect x="531.38" y="32.61" width="21.64" height="15.41" fill="#f9d1c5"/>
<rect x="553.02" y="32.61" width="21.64" height="15.41" fill="#f7c2b2"/>
<rect x="574.66" y="32.61" width="21.64" height="15.41" fill="#f5b19c"/>
<rect x="596.30" y="32.61" width="21.64" height="15.41" fill="#f19376"/>
<rect x="617.94" y="32.61" width="21.64" height="15.41" fill="#f6bfad"/>
<rect x="639.58" y="32.61" width="21.64" height="15.41" fill="#fbe0d8"/>
<rect x="661.22" y="32.61" width="21.64" height="15.41" fill="#fad6cb"/>
<rect x="682.86" y="32.61" width="21.64" height="15.41" fill="#ffffff"/>
<rect x="704.50" y="32.61" width="21.64" height="15.41" fill="#f5b09b"/>
<rect x="726.14" y="32.61" width="21.64" height="15.41" fill="#fefbfa"/>
<rect x="747.78" y="32.61" width="21.64" height="15.41" fill="#ffffff"/>
<rect x="769.42" y="32.61" width="21.64" height="15.41" fill="#fdf2ef"/>
<rect x="791.06" y="32.61" width="21.64" height="15.41" fill="#f8cdbf"/>
<rect x="812.70" y="32.61" width="21.64" height="15.41" fill="#fef6f4"/>
<rect x="834.34" y="32.61" width="21.64" height="15.41" fill="#fefaf9"/>
<rect x="488.10" y="48.02" width="21.64" height="15.41" fill="#ed744e"/>
<rect x="509.74" y="48.02" width="21.64" height="15.41" fill="#f6b9a6"/>
<rect x="531.38" y="48.02" width="21.64" height="15.41" fill="#fceae5"/>
<rect x="553.02" y="48.02" width="21.64" height="15.41" fill="#ef8969"/>
<rect x="574.66" y="48.02" width="21.64" height="15.41" fill="#f3a188"/>
<rect x="596.30" y="48.02" width="21.64" height="15.41" fill="#ec7049"/>
<rect x="617.94" y="48.02" width="21.64" height="15.41" fill="#f6baa7"/>
<rect x="639.58" y="48.02" width="21.64" height="15.41" fill="#fefaf9"/>
<rect x="661.22" y="48.02" width="21.64" height="15.41" fill="#f9d2c6"/>
<rect x="682.86" y="48.02" width="21.64" height="15.41" fill="#ffffff"/>
<rect x="704.50" y="48.02" width="21.64" height="15.41" fill="#fadcd2"/>
<rect x="726.14" y="48.02" width="21.64" height="15.41" fill="#f3a68e"/>
<rect x="747.78" y="48.02" width="21.64" height="15.41" fill="#ffffff"/>
<rect x="769.42" y="48.02" width="21.64" height="15.41" fill="#fef9f8"/>
<rect x="791.06" y="48.02" width="21.64" height="15.41" fill="#f8c8b9"/>
<rect x="812.70" y="48.02" width="21.64" height="15.41" fill="#fef8f6"/>
<rect x="834.34" y="48.02" width="21.64" height="15.41" fill="#fef6f4"/>
<rect x="488.10" y="63.43" width="21.64" height="15.41" fill="#f4ad97"/>
<rect x="509.74" y="63.43" width="21.64" height="15.41" fill="#ee7e5a"/>
<rect x="531.38" y="63.43" width="21.64" height="15.41" fill="#ec7049"/>
<rect x="553.02" y="63.43" width="21.64" height="15.41" fill="#fbe5dd"/>
<rect x="574.66" y="63.43" width="21.64" height="15.41" fill="#f9d3c7"/>
<rect x="596.30" y="63.43" width="21.64" height="15.41" fill="#fad9cf"/>
<rect x="617.94" y="63.43" width="21.64" height="15.41" fill="#f8cabc"/>
<rect x="639.58" y="63.43" width="21.64" height="15.41" fill="#f8c8b9"/>
<rect x="661.22" y="63.43" width="21.64" height="15.41" fill="#f5b7a3"/>
<rect x="682.86" y="63.43" width="21.64" height="15.41" fill="#ffffff"/>
<rect x="704.50" y="63.43" width="21.64" height="15.41" fill="#f5b29d"/>
<rect x="726.14" y="63.43" width="21.64" height="15.41" fill="#fce7e1"/>
<rect x="747.78" y="63.43" width="21.64" height="15.41" fill="#fad8cd"/>
<rect x="769.42" y="63.43" width="21.64" height="15.41" fill="#ed7a56"/>
<rect x="791.06" y="63.43" width="21.64" height="15.41" fill="#f29b80"/>
<rect x="812.70" y="63.43" width="21.64" height="15.41" fill="#fdf2ef"/>
<rect x="834.34" y="63.43" width="21.64" height="15.41" fill="#fcece6"/>
<rect x="488.10" y="78.84" width="21.64" height="15.41" fill="#ef8665"/>
<rect x="509.74" y="78.84" width="21.64" height="15.41" fill="#f5b39f"/>
<rect x="531.38" y="78.84" width="21.64" height="15.41" fill="#f4ae98"/>
<rect x="553.02" y="78.84" width="21.64" height="15.41" fill="#f6bba9"/>
<rect x="574.66" y="78.84" width="21.64" height="15.41" fill="#f6baa7"/>
<rect x="596.30" y="78.84" width="21.64" height="15.41" fill="#f9d0c3"/>
<rect x="617.94" y="78.84" width="21.64" height="15.41" fill="#f8ccbd"/>
<rect x="639.58" y="78.84" width="21.64" height="15.41" fill="#f2997e"/>
<rect x="661.22" y="78.84" width="21.64" height="15.41" fill="#f9d2c6"/>
<rect x="682.86" y="78.84" width="21.64" height="15.41" fill="#fcece6"/>
<rect x="704.50" y="78.84" width="21.64" height="15.41" fill="#ee7e5a"/>
<rect x="726.14" y="78.84" width="21.64" height="15.41" fill="#fbded5"/>
<rect x="747.78" y="78.84" width="21.64" height="15.41" fill="#f4b09a"/>
<rect x="769.42" y="78.84" width="21.64" height="15.41" fill="#f4a891"/>
<rect x="791.06" y="78.84" width="21.64" height="15.41" fill="#f4ad96"/>
<rect x="812.70" y="78.84" width="21.64" height="15.41" fill="#f8c9ba"/>
<rect x="834.34" y="78.84" width="21.64" height="15.41" fill="#f8ccbe"/>
<rect x="488.10" y="94.25" width="21.64" height="15.41" fill="#f3a78f"/>
<rect x="509.74" y="94.25" width="21.64" height="15.41" fill="#f7c4b4"/>
<rect x="531.38" y="94.25" width="21.64" height="15.41" fill="#fad9cf"/>
<rect x="553.02" y="94.25" width="21.64" height="15.41" fill="#f09274"/>
<rect x="574.66" y="94.25" width="21.64" height="15.41" fill="#f29f85"/>
<rect x="596.30" y="94.25" width="21.64" height="15.41" fill="#f3a68d"/>
<rect x="617.94" y="94.25" width="21.64" height="15.41" fill="#f6b8a5"/>
<rect x="639.58" y="94.25" width="21.64" height="15.41" fill="#f6bca9"/>
<rect x="661.22" y="94.25" width="21.64" height="15.41" fill="#f8cbbd"/>
<rect x="682.86" y="94.25" width="21.64" height="15.41" fill="#fce9e3"/>
<rect x="704.50" y="94.25" width="21.64" height="15.41" fill="#f8ccbe"/>
<rect x="726.14" y="94.25" width="21.64" height="15.41" fill="#f4b09a"/>
<rect x="747.78" y="94.25" width="21.64" height="15.41" fill="#f8ccbd"/>
<rect x="769.42" y="94.25" width="21.64" height="15.41" fill="#f7c4b3"/>
<rect x="791.06" y="94.25" width="21.64" height="15.41" fill="#f4aa93"/>
<rect x="812.70" y="94.25" width="21.64" height="15.41" fill="#fbe0d8"/>
<rect x="834.34" y="94.25" width="21.64" height="15.41" fill="#f4ad97"/>
<rect x="488.10" y="109.66" width="21.64" height="15.41" fill="#f4af99"/>
<rect x="509.74" y="109.66" width="21.64" height="15.41" fill="#f3a890"/>
<rect x="531.38" y="109.66" width="21.64" height="15.41" fill="#ed7853"/>
<rect x="553.02" y="109.66" width="21.64" height="15.41" fill="#f08e6f"/>
<rect x="574.66" y="109.66" width="21.64" height="15.41" fill="#f6bdaa"/>
<rect x="596.30" y="109.66" width="21.64" height="15.41" fill="#f7c6b6"/>
<rect x="617.94" y="109.66" width="21.64" height="15.41" fill="#f4ad96"/>
<rect x="639.58" y="109.66" width="21.64" height="15.41" fill="#f7c6b6"/>
<rect x="661.22" y="109.66" width="21.64" height="15.41" fill="#f7c6b6"/>
<rect x="682.86" y="109.66" width="21.64" height="15.41" fill="#fcebe6"/>
<rect x="704.50" y="109.66" width="21.64" height="15.41" fill="#f3a38b"/>
<rect x="726.14" y="109.66" width="21.64" height="15.41" fill="#fad9cf"/>
<rect x="747.78" y="109.66" width="21.64" height="15.41" fill="#ffffff"/>
<rect x="769.42" y="109.66" width="21.64" height="15.41" fill="#f8cabc"/>
<rect x="791.06" y="109.66" width="21.64" height="15.41" fill="#f8cbbd"/>
<rect x="812.70" y="109.66" width="21.64" height="15.41" fill="#fbe3dc"/>
<rect x="834.34" y="109.66" width="21.64" height="15.41" fill="#fbddd4"/>
<rect x="488.10" y="125.07" width="21.64" height="15.41" fill="#f9d3c7"/>
<rect x="509.74" y="125.07" width="21.64" height="15.41" fill="#f9d5c9"/>
<rect x="531.38" y="125.07" width="21.64" height="15.41" fill="#f8cabc"/>
<rect x="553.02" y="125.07" width="21.64" height="15.41" fill="#f29c81"/>
<rect x="574.66" y="125.07" width="21.64" height="15.41" fill="#f3a38b"/>
<rect x="596.30" y="125.07" width="21.64" height="15.41" fill="#ec7049"/>
<rect x="617.94" y="125.07" width="21.64" height="15.41" fill="#ec7049"/>
<rect x="639.58" y="125.07" width="21.64" height="15.41" fill="#f3a289"/>
<rect x="661.22" y="125.07" width="21.64" height="15.41" fill="#f4ae98"/>
<rect x="682.86" y="125.07" width="21.64" height="15.41" fill="#ec744e"/>
<rect x="704.50" y="125.07" width="21.64" height="15.41" fill="#fce7e1"/>
<rect x="726.14" y="125.07" width="21.64" height="15.41" fill="#fbddd4"/>
<rect x="747.78" y="125.07" width="21.64" height="15.41" fill="#ffffff"/>
<rect x="769.42" y="125.07" width="21.64" height="15.41" fill="#fdf1ed"/>
<rect x="791.06" y="125.07" width="21.64" height="15.41" fill="#f8cbbd"/>
<rect x="812.70" y="125.07" width="21.64" height="15.41" fill="#fbe0d8"/>
<rect x="834.34" y="125.07" width="21.64" height="15.41" fill="#fef6f4"/>
<rect x="488.10" y="140.48" width="21.64" height="15.41" fill="#f9d5c9"/>
<rect x="509.74" y="140.48" width="21.64" height="15.41" fill="#f6baa7"/>
<rect x="531.38" y="140.48" width="21.64" height="15.41" fill="#f5b6a2"/>
<rect x="553.02" y="140.48" width="21.64" height="15.41" fill="#f8cabc"/>
<rect x="574.66" y="140.48" width="21.64" height="15.41" fill="#f4b09a"/>
<rect x="596.30" y="140.48" width="21.64" height="15.41" fill="#f7c2b2"/>
<rect x="617.94" y="140.48" width="21.64" height="15.41" fill="#f29e84"/>
<rect x="639.58" y="140.48" width="21.64" height="15.41" fill="#ed7752"/>
<rect x="661.22" y="140.48" width="21.64" height="15.41" fill="#f19679"/>
<rect x="682.86" y="140.48" width="21.64" height="15.41" fill="#f7c4b3"/>
<rect x="704.50" y="140.48" width="21.64" height="15.41" fill="#f8cdbf"/>
<rect x="726.14" y="140.48" width="21.64" height="15.41" fill="#fadad0"/>
<rect x="747.78" y="140.48" width="21.64" height="15.41" fill="#f08f70"/>
<rect x="769.42" y="140.48" width="21.64" height="15.41" fill="#f19275"/>
<rect x="791.06" y="140.48" width="21.64" height="15.41" fill="#f8cdbf"/>
<rect x="812.70" y="140.48" width="21.64" height="15.41" fill="#fad7cc"/>
<rect x="834.34" y="140.48" width="21.64" height="15.41" fill="#faddd3"/>
<rect x="488.10" y="155.89" width="21.64" height="15.41" fill="#fcece6"/>
<rect x="509.74" y="155.89" width="21.64" height="15.41" fill="#f9d3c7"/>
<rect x="531.38" y="155.89" width="21.64" height="15.41" fill="#fce9e3"/>
<rect x="553.02" y="155.89" width="21.64" height="15.41" fill="#fadad0"/>
<rect x="574.66" y="155.89" width="21.64" height="15.41" fill="#f9d2c6"/>
<rect x="596.30" y="155.89" width="21.64" height="15.41" fill="#faddd3"/>
<rect x="617.94" y="155.89" width="21.64" height="15.41" fill="#fcebe6"/>
<rect x="639.58" y="155.89" width="21.64" height="15.41" fill="#fce6df"/>
<rect x="661.22" y="155.89" width="21.64" height="15.41" fill="#f19376"/>
<rect x="682.86" y="155.89" width="21.64" height="15.41" fill="#ec7049"/>
<rect x="704.50" y="155.89" width="21.64" height="15.41" fill="#f08a6b"/>
<rect x="726.14" y="155.89" width="21.64" height="15.41" fill="#ec7049"/>
<rect x="747.78" y="155.89" width="21.64" height="15.41" fill="#ec7049"/>
<rect x="769.42" y="155.89" width="21.64" height="15.41" fill="#ed7b57"/>
<rect x="791.06" y="155.89" width="21.64" height="15.41" fill="#ee805e"/>
<rect x="812.70" y="155.89" width="21.64" height="15.41" fill="#ec7049"/>
<rect x="834.34" y="155.89" width="21.64" height="15.41" fill="#ec7049"/>
<path d="M488.1 17.2L856.0 17.2" stroke="#3a3030" stroke-width="0.80"/>
<path d="M488.1 32.6L856.0 32.6" stroke="#3a3030" stroke-width="0.80"/>
<path d="M488.1 48.0L856.0 48.0" stroke="#3a3030" stroke-width="0.80"/>
<path d="M488.1 63.4L856.0 63.4" stroke="#3a3030" stroke-width="0.80"/>
<path d="M488.1 78.8L856.0 78.8" stroke="#3a3030" stroke-width="0.80"/>
<path d="M488.1 94.2L856.0 94.2" stroke="#3a3030" stroke-width="0.80"/>
<path d="M488.1 109.7L856.0 109.7" stroke="#3a3030" stroke-width="0.80"/>
<path d="M488.1 125.1L856.0 125.1" stroke="#3a3030" stroke-width="0.80"/>
<path d="M488.1 140.5L856.0 140.5" stroke="#3a3030" stroke-width="0.80"/>
<path d="M488.1 155.9L856.0 155.9" stroke="#3a3030" stroke-width="0.80"/>
<path d="M488.1 171.3L856.0 171.3" stroke="#3a3030" stroke-width="0.80"/>
<path d="M488.1 17.2L488.1 171.3" stroke="#3a3030" stroke-width="0.80"/>
<path d="M509.7 17.2L509.7 171.3" stroke="#3a3030" stroke-width="0.80"/>
<path d="M531.4 17.2L531.4 171.3" stroke="#3a3030" stroke-width="0.80"/>
<path d="M553.0 17.2L553.0 171.3" stroke="#3a3030" stroke-width="0.80"/>
<path d="M574.7 17.2L574.7 171.3" stroke="#3a3030" stroke-width="0.80"/>
<path d="M596.3 17.2L596.3 171.3" stroke="#3a3030" stroke-width="0.80"/>
<path d="M617.9 17.2L617.9 171.3" stroke="#3a3030" stroke-width="0.80"/>
<path d="M639.6 17.2L639.6 171.3" stroke="#3a3030" stroke-width="0.80"/>
<path d="M661.2 17.2L661.2 171.3" stroke="#3a3030" stroke-width="0.80"/>
<path d="M682.9 17.2L682.9 171.3" stroke="#3a3030" stroke-width="0.80"/>
<path d="M704.5 17.2L704.5 171.3" stroke="#3a3030" stroke-width="0.80"/>
<path d="M726.1 17.2L726.1 171.3" stroke="#3a3030" stroke-width="0.80"/>
<path d="M747.8 17.2L747.8 171.3" stroke="#3a3030" stroke-width="0.80"/>
<path d="M769.4 17.2L769.4 171.3" stroke="#3a3030" stroke-width="0.80"/>
<path d="M791.1 17.2L791.1 171.3" stroke="#3a3030" stroke-width="0.80"/>
<path d="M812.7 17.2L812.7 171.3" stroke="#3a3030" stroke-width="0.80"/>
<path d="M834.3 17.2L834.3 171.3" stroke="#3a3030" stroke-width="0.80"/>
<path d="M856.0 17.2L856.0 171.3" stroke="#3a3030" stroke-width="0.80"/>
<text x="498.9" y="27.5" font-size="8.10" text-anchor="middle">2</text>
<text x="520.6" y="27.5" font-size="8.10" text-anchor="middle">0.38</text>
<text x="542.2" y="27.5" font-size="8.10" text-anchor="middle">0.19</text>
<text x="563.8" y="27.5" font-size="8.10" text-anchor="middle">0.74</text>
<text x="585.5" y="27.5" font-size="8.10" text-anchor="middle">0.97</text>
<text x="607.1" y="27.5" font-size="8.10" text-anchor="middle">0.65</text>
<text x="628.8" y="27.5" font-size="8.10" text-anchor="middle">0.46</text>
<text x="650.4" y="27.5" font-size="8.10" text-anchor="middle">0</text>
<text x="672.0" y="27.5" font-size="8.10" text-anchor="middle">2</text>
<text x="693.7" y="27.5" font-size="8.10" text-anchor="middle">0</text>
<text x="715.3" y="27.5" font-size="8.10" text-anchor="middle">0.49</text>
<text x="737.0" y="27.5" font-size="8.10" text-anchor="middle">2</text>
<text x="758.6" y="27.5" font-size="8.10" text-anchor="middle">0</text>
<text x="780.2" y="27.5" font-size="8.10" text-anchor="middle">0.08</text>
<text x="801.9" y="27.5" font-size="8.10" text-anchor="middle">0.22</text>
<text x="823.5" y="27.5" font-size="8.10" text-anchor="middle">0.28</text>
<text x="845.2" y="27.5" font-size="8.10" text-anchor="middle">0</text>
<text x="455.5" y="27.4" font-size="8.10" text-anchor="end">ARG1<tspan font-size="4.46" dy="-2.92">+</tspan></text>
<circle cx="471.8" cy="24.9" r="1.50" fill="#ffffff" stroke="#444" stroke-width="0.55"/>
<text x="498.9" y="42.9" font-size="8.10" text-anchor="middle">2</text>
<text x="520.6" y="42.9" font-size="8.10" text-anchor="middle">1.62</text>
<text x="542.2" y="42.9" font-size="8.10" text-anchor="middle">0.64</text>
<text x="563.8" y="42.9" font-size="8.10" text-anchor="middle">0.85</text>
<text x="585.5" y="42.9" font-size="8.10" text-anchor="middle">1.09</text>
<text x="607.1" y="42.9" font-size="8.10" text-anchor="middle">1.51</text>
<text x="628.8" y="42.9" font-size="8.10" text-anchor="middle">0.9</text>
<text x="650.4" y="42.9" font-size="8.10" text-anchor="middle">0.43</text>
<text x="672.0" y="42.9" font-size="8.10" text-anchor="middle">0.57</text>
<text x="693.7" y="42.9" font-size="8.10" text-anchor="middle">0</text>
<text x="715.3" y="42.9" font-size="8.10" text-anchor="middle">1.1</text>
<text x="737.0" y="42.9" font-size="8.10" text-anchor="middle">0.06</text>
<text x="758.6" y="42.9" font-size="8.10" text-anchor="middle">0</text>
<text x="780.2" y="42.9" font-size="8.10" text-anchor="middle">0.18</text>
<text x="801.9" y="42.9" font-size="8.10" text-anchor="middle">0.7</text>
<text x="823.5" y="42.9" font-size="8.10" text-anchor="middle">0.12</text>
<text x="845.2" y="42.9" font-size="8.10" text-anchor="middle">0.07</text>
<text x="455.5" y="42.8" font-size="8.10" text-anchor="end">CXCR2<tspan font-size="4.46" dy="-2.92">+</tspan></text>
<circle cx="471.8" cy="40.3" r="1.95" fill="#ffffff" stroke="#444" stroke-width="0.55"/>
<text x="498.9" y="58.3" font-size="8.10" text-anchor="middle">1.94</text>
<text x="520.6" y="58.3" font-size="8.10" text-anchor="middle">0.98</text>
<text x="542.2" y="58.3" font-size="8.10" text-anchor="middle">0.29</text>
<text x="563.8" y="58.3" font-size="8.10" text-anchor="middle">1.65</text>
<text x="585.5" y="58.3" font-size="8.10" text-anchor="middle">1.31</text>
<text x="607.1" y="58.3" font-size="8.10" text-anchor="middle">2</text>
<text x="628.8" y="58.3" font-size="8.10" text-anchor="middle">0.97</text>
<text x="650.4" y="58.3" font-size="8.10" text-anchor="middle">0.07</text>
<text x="672.0" y="58.3" font-size="8.10" text-anchor="middle">0.63</text>
<text x="693.7" y="58.3" font-size="8.10" text-anchor="middle">0</text>
<text x="715.3" y="58.3" font-size="8.10" text-anchor="middle">0.49</text>
<text x="737.0" y="58.3" font-size="8.10" text-anchor="middle">1.24</text>
<text x="758.6" y="58.3" font-size="8.10" text-anchor="middle">0</text>
<text x="780.2" y="58.3" font-size="8.10" text-anchor="middle">0.08</text>
<text x="801.9" y="58.3" font-size="8.10" text-anchor="middle">0.77</text>
<text x="823.5" y="58.3" font-size="8.10" text-anchor="middle">0.1</text>
<text x="845.2" y="58.3" font-size="8.10" text-anchor="middle">0.12</text>
<text x="455.5" y="58.2" font-size="8.10" text-anchor="end">MMP9<tspan font-size="4.46" dy="-2.92">+</tspan></text>
<circle cx="471.8" cy="55.7" r="1.95" fill="#ffffff" stroke="#444" stroke-width="0.55"/>
<text x="498.9" y="73.7" font-size="8.10" text-anchor="middle">1.14</text>
<text x="520.6" y="73.7" font-size="8.10" text-anchor="middle">1.81</text>
<text x="542.2" y="73.7" font-size="8.10" text-anchor="middle">2</text>
<text x="563.8" y="73.7" font-size="8.10" text-anchor="middle">0.37</text>
<text x="585.5" y="73.7" font-size="8.10" text-anchor="middle">0.61</text>
<text x="607.1" y="73.7" font-size="8.10" text-anchor="middle">0.53</text>
<text x="628.8" y="73.7" font-size="8.10" text-anchor="middle">0.74</text>
<text x="650.4" y="73.7" font-size="8.10" text-anchor="middle">0.77</text>
<text x="672.0" y="73.7" font-size="8.10" text-anchor="middle">1.01</text>
<text x="693.7" y="73.7" font-size="8.10" text-anchor="middle">0</text>
<text x="715.3" y="73.7" font-size="8.10" text-anchor="middle">1.08</text>
<text x="737.0" y="73.7" font-size="8.10" text-anchor="middle">0.33</text>
<text x="758.6" y="73.7" font-size="8.10" text-anchor="middle">0.55</text>
<text x="780.2" y="73.7" font-size="8.10" text-anchor="middle">1.86</text>
<text x="801.9" y="73.7" font-size="8.10" text-anchor="middle">1.4</text>
<text x="823.5" y="73.7" font-size="8.10" text-anchor="middle">0.18</text>
<text x="845.2" y="73.7" font-size="8.10" text-anchor="middle">0.27</text>
<text x="455.5" y="73.6" font-size="8.10" text-anchor="end">IFIT1<tspan font-size="4.46" dy="-2.92">+</tspan><tspan dy="2.92">ISG15</tspan><tspan font-size="4.46" dy="-2.92">+</tspan></text>
<circle cx="471.8" cy="71.1" r="3.40" fill="#ffffff" stroke="#444" stroke-width="0.55"/>
<text x="498.9" y="89.1" font-size="8.10" text-anchor="middle">1.69</text>
<text x="520.6" y="89.1" font-size="8.10" text-anchor="middle">1.06</text>
<text x="542.2" y="89.1" font-size="8.10" text-anchor="middle">1.13</text>
<text x="563.8" y="89.1" font-size="8.10" text-anchor="middle">0.95</text>
<text x="585.5" y="89.1" font-size="8.10" text-anchor="middle">0.97</text>
<text x="607.1" y="89.1" font-size="8.10" text-anchor="middle">0.66</text>
<text x="628.8" y="89.1" font-size="8.10" text-anchor="middle">0.72</text>
<text x="650.4" y="89.1" font-size="8.10" text-anchor="middle">1.42</text>
<text x="672.0" y="89.1" font-size="8.10" text-anchor="middle">0.63</text>
<text x="693.7" y="89.1" font-size="8.10" text-anchor="middle">0.27</text>
<text x="715.3" y="89.1" font-size="8.10" text-anchor="middle">1.81</text>
<text x="737.0" y="89.1" font-size="8.10" text-anchor="middle">0.46</text>
<text x="758.6" y="89.1" font-size="8.10" text-anchor="middle">1.11</text>
<text x="780.2" y="89.1" font-size="8.10" text-anchor="middle">1.21</text>
<text x="801.9" y="89.1" font-size="8.10" text-anchor="middle">1.15</text>
<text x="823.5" y="89.1" font-size="8.10" text-anchor="middle">0.76</text>
<text x="845.2" y="89.1" font-size="8.10" text-anchor="middle">0.71</text>
<text x="455.5" y="89.0" font-size="8.10" text-anchor="end">TXNIP<tspan font-size="4.46" dy="-2.92">+</tspan></text>
<circle cx="471.8" cy="86.5" r="3.40" fill="#ffffff" stroke="#444" stroke-width="0.55"/>
<text x="498.9" y="104.6" font-size="8.10" text-anchor="middle">1.23</text>
<text x="520.6" y="104.6" font-size="8.10" text-anchor="middle">0.82</text>
<text x="542.2" y="104.6" font-size="8.10" text-anchor="middle">0.53</text>
<text x="563.8" y="104.6" font-size="8.10" text-anchor="middle">1.53</text>
<text x="585.5" y="104.6" font-size="8.10" text-anchor="middle">1.34</text>
<text x="607.1" y="104.6" font-size="8.10" text-anchor="middle">1.25</text>
<text x="628.8" y="104.6" font-size="8.10" text-anchor="middle">0.99</text>
<text x="650.4" y="104.6" font-size="8.10" text-anchor="middle">0.94</text>
<text x="672.0" y="104.6" font-size="8.10" text-anchor="middle">0.73</text>
<text x="693.7" y="104.6" font-size="8.10" text-anchor="middle">0.31</text>
<text x="715.3" y="104.6" font-size="8.10" text-anchor="middle">0.71</text>
<text x="737.0" y="104.6" font-size="8.10" text-anchor="middle">1.11</text>
<text x="758.6" y="104.6" font-size="8.10" text-anchor="middle">0.72</text>
<text x="780.2" y="104.6" font-size="8.10" text-anchor="middle">0.83</text>
<text x="801.9" y="104.6" font-size="8.10" text-anchor="middle">1.19</text>
<text x="823.5" y="104.6" font-size="8.10" text-anchor="middle">0.43</text>
<text x="845.2" y="104.6" font-size="8.10" text-anchor="middle">1.14</text>
<text x="455.5" y="104.5" font-size="8.10" text-anchor="end">S100A12<tspan font-size="4.46" dy="-2.92">+</tspan></text>
<circle cx="471.8" cy="102.0" r="3.60" fill="#ffffff" stroke="#444" stroke-width="0.55"/>
<text x="498.9" y="120.0" font-size="8.10" text-anchor="middle">1.12</text>
<text x="520.6" y="120.0" font-size="8.10" text-anchor="middle">1.22</text>
<text x="542.2" y="120.0" font-size="8.10" text-anchor="middle">1.89</text>
<text x="563.8" y="120.0" font-size="8.10" text-anchor="middle">1.58</text>
<text x="585.5" y="120.0" font-size="8.10" text-anchor="middle">0.93</text>
<text x="607.1" y="120.0" font-size="8.10" text-anchor="middle">0.8</text>
<text x="628.8" y="120.0" font-size="8.10" text-anchor="middle">1.15</text>
<text x="650.4" y="120.0" font-size="8.10" text-anchor="middle">0.8</text>
<text x="672.0" y="120.0" font-size="8.10" text-anchor="middle">0.8</text>
<text x="693.7" y="120.0" font-size="8.10" text-anchor="middle">0.28</text>
<text x="715.3" y="120.0" font-size="8.10" text-anchor="middle">1.28</text>
<text x="737.0" y="120.0" font-size="8.10" text-anchor="middle">0.53</text>
<text x="758.6" y="120.0" font-size="8.10" text-anchor="middle">0</text>
<text x="780.2" y="120.0" font-size="8.10" text-anchor="middle">0.74</text>
<text x="801.9" y="120.0" font-size="8.10" text-anchor="middle">0.73</text>
<text x="823.5" y="120.0" font-size="8.10" text-anchor="middle">0.39</text>
<text x="845.2" y="120.0" font-size="8.10" text-anchor="middle">0.47</text>
<text x="455.5" y="119.9" font-size="8.10" text-anchor="end">CXCL8<tspan font-size="4.46" dy="-2.92">+</tspan><tspan dy="2.92">IL1B</tspan><tspan font-size="4.46" dy="-2.92">+</tspan></text>
<circle cx="471.8" cy="117.4" r="4.10" fill="#ffffff" stroke="#444" stroke-width="0.55"/>
<text x="498.9" y="135.4" font-size="8.10" text-anchor="middle">0.61</text>
<text x="520.6" y="135.4" font-size="8.10" text-anchor="middle">0.59</text>
<text x="542.2" y="135.4" font-size="8.10" text-anchor="middle">0.74</text>
<text x="563.8" y="135.4" font-size="8.10" text-anchor="middle">1.38</text>
<text x="585.5" y="135.4" font-size="8.10" text-anchor="middle">1.28</text>
<text x="607.1" y="135.4" font-size="8.10" text-anchor="middle">2</text>
<text x="628.8" y="135.4" font-size="8.10" text-anchor="middle">2</text>
<text x="650.4" y="135.4" font-size="8.10" text-anchor="middle">1.3</text>
<text x="672.0" y="135.4" font-size="8.10" text-anchor="middle">1.13</text>
<text x="693.7" y="135.4" font-size="8.10" text-anchor="middle">1.95</text>
<text x="715.3" y="135.4" font-size="8.10" text-anchor="middle">0.33</text>
<text x="737.0" y="135.4" font-size="8.10" text-anchor="middle">0.47</text>
<text x="758.6" y="135.4" font-size="8.10" text-anchor="middle">0</text>
<text x="780.2" y="135.4" font-size="8.10" text-anchor="middle">0.2</text>
<text x="801.9" y="135.4" font-size="8.10" text-anchor="middle">0.73</text>
<text x="823.5" y="135.4" font-size="8.10" text-anchor="middle">0.43</text>
<text x="845.2" y="135.4" font-size="8.10" text-anchor="middle">0.12</text>
<text x="455.5" y="135.3" font-size="8.10" text-anchor="end">NFKBIZ<tspan font-size="4.46" dy="-2.92">+</tspan><tspan dy="2.92">HIF1A</tspan><tspan font-size="4.46" dy="-2.92">+</tspan></text>
<circle cx="471.8" cy="132.8" r="4.70" fill="#ffffff" stroke="#444" stroke-width="0.55"/>
<text x="498.9" y="150.8" font-size="8.10" text-anchor="middle">0.59</text>
<text x="520.6" y="150.8" font-size="8.10" text-anchor="middle">0.97</text>
<text x="542.2" y="150.8" font-size="8.10" text-anchor="middle">1.02</text>
<text x="563.8" y="150.8" font-size="8.10" text-anchor="middle">0.74</text>
<text x="585.5" y="150.8" font-size="8.10" text-anchor="middle">1.11</text>
<text x="607.1" y="150.8" font-size="8.10" text-anchor="middle">0.85</text>
<text x="628.8" y="150.8" font-size="8.10" text-anchor="middle">1.35</text>
<text x="650.4" y="150.8" font-size="8.10" text-anchor="middle">1.9</text>
<text x="672.0" y="150.8" font-size="8.10" text-anchor="middle">1.47</text>
<text x="693.7" y="150.8" font-size="8.10" text-anchor="middle">0.83</text>
<text x="715.3" y="150.8" font-size="8.10" text-anchor="middle">0.7</text>
<text x="737.0" y="150.8" font-size="8.10" text-anchor="middle">0.52</text>
<text x="758.6" y="150.8" font-size="8.10" text-anchor="middle">1.57</text>
<text x="780.2" y="150.8" font-size="8.10" text-anchor="middle">1.52</text>
<text x="801.9" y="150.8" font-size="8.10" text-anchor="middle">0.7</text>
<text x="823.5" y="150.8" font-size="8.10" text-anchor="middle">0.56</text>
<text x="845.2" y="150.8" font-size="8.10" text-anchor="middle">0.48</text>
<text x="455.5" y="150.7" font-size="8.10" text-anchor="end">VEGFA<tspan font-size="4.46" dy="-2.92">+</tspan><tspan dy="2.92">SPP1</tspan><tspan font-size="4.46" dy="-2.92">+</tspan></text>
<circle cx="471.8" cy="148.2" r="4.90" fill="#ffffff" stroke="#444" stroke-width="0.55"/>
<text x="498.9" y="166.2" font-size="8.10" text-anchor="middle">0.27</text>
<text x="520.6" y="166.2" font-size="8.10" text-anchor="middle">0.62</text>
<text x="542.2" y="166.2" font-size="8.10" text-anchor="middle">0.31</text>
<text x="563.8" y="166.2" font-size="8.10" text-anchor="middle">0.52</text>
<text x="585.5" y="166.2" font-size="8.10" text-anchor="middle">0.63</text>
<text x="607.1" y="166.2" font-size="8.10" text-anchor="middle">0.48</text>
<text x="628.8" y="166.2" font-size="8.10" text-anchor="middle">0.28</text>
<text x="650.4" y="166.2" font-size="8.10" text-anchor="middle">0.35</text>
<text x="672.0" y="166.2" font-size="8.10" text-anchor="middle">1.51</text>
<text x="693.7" y="166.2" font-size="8.10" text-anchor="middle">2</text>
<text x="715.3" y="166.2" font-size="8.10" text-anchor="middle">1.63</text>
<text x="737.0" y="166.2" font-size="8.10" text-anchor="middle">2</text>
<text x="758.6" y="166.2" font-size="8.10" text-anchor="middle">2</text>
<text x="780.2" y="166.2" font-size="8.10" text-anchor="middle">1.85</text>
<text x="801.9" y="166.2" font-size="8.10" text-anchor="middle">1.77</text>
<text x="823.5" y="166.2" font-size="8.10" text-anchor="middle">2</text>
<text x="845.2" y="166.2" font-size="8.10" text-anchor="middle">2</text>
<text x="455.5" y="166.1" font-size="8.10" text-anchor="end">HLA–DR<tspan font-size="4.46" dy="-2.92">+</tspan><tspan dy="2.92">CD74</tspan><tspan font-size="4.46" dy="-2.92">+</tspan></text>
<circle cx="471.8" cy="163.6" r="4.90" fill="#ffffff" stroke="#444" stroke-width="0.55"/>
<text x="501.9" y="180.5" font-size="8.10" text-anchor="end" transform="rotate(-45.00 501.92 180.50)">PAAD</text>
<text x="523.6" y="180.5" font-size="8.10" text-anchor="end" transform="rotate(-45.00 523.56 180.50)">GBC</text>
<text x="545.2" y="180.5" font-size="8.10" text-anchor="end" transform="rotate(-45.00 545.20 180.50)">OSCC</text>
<text x="566.8" y="180.5" font-size="8.10" text-anchor="end" transform="rotate(-45.00 566.84 180.50)">LGG</text>
<text x="588.5" y="180.5" font-size="8.10" text-anchor="end" transform="rotate(-45.00 588.48 180.50)">COAD</text>
<text x="610.1" y="180.5" font-size="8.10" text-anchor="end" transform="rotate(-45.00 610.12 180.50)">THYM</text>
<text x="631.8" y="180.5" font-size="8.10" text-anchor="end" transform="rotate(-45.00 631.76 180.50)">RCC</text>
<text x="653.4" y="180.5" font-size="8.10" text-anchor="end" transform="rotate(-45.00 653.40 180.50)">SKCM</text>
<text x="675.0" y="180.5" font-size="8.10" text-anchor="end" transform="rotate(-45.00 675.04 180.50)">STAD</text>
<text x="696.7" y="180.5" font-size="8.10" text-anchor="end" transform="rotate(-45.00 696.68 180.50)">BRCA</text>
<text x="718.3" y="180.5" font-size="8.10" text-anchor="end" transform="rotate(-45.00 718.32 180.50)">NSCLC</text>
<text x="740.0" y="180.5" font-size="8.10" text-anchor="end" transform="rotate(-45.00 739.96 180.50)">GIST</text>
<text x="761.6" y="180.5" font-size="8.10" text-anchor="end" transform="rotate(-45.00 761.60 180.50)">BLCA</text>
<text x="783.2" y="180.5" font-size="8.10" text-anchor="end" transform="rotate(-45.00 783.24 180.50)">ICC</text>
<text x="804.9" y="180.5" font-size="8.10" text-anchor="end" transform="rotate(-45.00 804.88 180.50)">HCC</text>
<text x="826.5" y="180.5" font-size="8.10" text-anchor="end" transform="rotate(-45.00 826.52 180.50)">CESC</text>
<text x="848.2" y="180.5" font-size="8.10" text-anchor="end" transform="rotate(-45.00 848.16 180.50)">OV</text>
<text x="476.5" y="180.5" font-size="8.10" text-anchor="end" transform="rotate(-45.00 476.50 180.50)">Pan-cancer</text>
<text x="507.0" y="214.3" font-size="8.10">Ro/e (Pan-cancer)</text>
<circle cx="583.5" cy="211.8" r="0.80" fill="#fff" stroke="#444" stroke-width="0.50"/>
<text x="589.5" y="214.3" font-size="8.10">0</text>
<circle cx="615.3" cy="211.8" r="3.00" fill="#fff" stroke="#444" stroke-width="0.55"/>
<text x="621.5" y="214.3" font-size="8.10">1</text>
<circle cx="642.4" cy="211.8" r="4.20" fill="#f2f2f2" stroke="#444" stroke-width="0.55"/>
<text x="649.5" y="214.3" font-size="8.10">2</text>
<text x="690.0" y="214.3" font-size="8.10">Ro/e (Cancer types)</text>
<text x="769.5" y="214.3" font-size="8.10">0.0</text>
<defs><linearGradient id="gB" x1="0" x2="1" y1="0" y2="0"><stop offset="0" stop-color="#ffffff"/><stop offset="1" stop-color="#ec7049"/></linearGradient></defs>
<rect x="785.40" y="206.70" width="33.60" height="10.20" fill="url(#gB)"/>
<text x="822.0" y="214.3" font-size="8.10">2.0</text>
<text x="3.2" y="251.0" font-size="18.50" fill="#000" font-weight="bold" style="stroke:none">C</text>
<rect x="35.60" y="254.70" width="105.90" height="107.00" fill="none" stroke="#222" stroke-width="0.70"/>
<path d="M35.6 263.8h-2.4M35.6 279.7h-1.3M35.6 275.7h-1.3M35.6 272.9h-1.3M35.6 270.7h-1.3M35.6 268.9h-1.3M35.6 267.3h-1.3M35.6 266.0h-1.3M35.6 264.8h-1.3M35.6 286.6h-2.4M35.6 303.0h-1.3M35.6 298.8h-1.3M35.6 295.9h-1.3M35.6 293.6h-1.3M35.6 291.8h-1.3M35.6 290.2h-1.3M35.6 288.9h-1.3M35.6 287.7h-1.3M35.6 310.0h-2.4M35.6 331.7h-1.3M35.6 326.2h-1.3M35.6 322.3h-1.3M35.6 319.3h-1.3M35.6 316.9h-1.3M35.6 314.8h-1.3M35.6 313.0h-1.3M35.6 311.4h-1.3M35.6 341.0h-2.4M35.6 257.5h-1.3M35.6 259.5h-1.3M35.6 261.5h-1.3M35.6 352.0h-1.3M35.6 356.0h-1.3M43.8 361.7v2.4M50.9 361.7v1.3M55.0 361.7v1.3M57.9 361.7v1.3M60.2 361.7v1.3M62.1 361.7v1.3M63.7 361.7v1.3M65.0 361.7v1.3M66.2 361.7v1.3M67.3 361.7v2.4M74.0 361.7v1.3M77.8 361.7v1.3M80.6 361.7v1.3M82.7 361.7v1.3M84.5 361.7v1.3M86.0 361.7v1.3M87.3 361.7v1.3M88.4 361.7v1.3M89.4 361.7v2.4M100.6 361.7v1.3M107.2 361.7v1.3M111.9 361.7v1.3M115.5 361.7v1.3M118.4 361.7v1.3M120.9 361.7v1.3M123.1 361.7v1.3M125.0 361.7v1.3M126.7 361.7v2.4" fill="none" stroke="#111" stroke-width="0.90"/>
<path d="M67.2 293.5h0.6M104.9 287.7h0.6M65.4 290.6h0.6M96.1 298.1h0.6M67.3 282.6h0.6M100.0 294.1h0.6M114.1 297.4h0.6M86.3 289.2h0.6M131.7 289.1h0.6M74.7 283.6h0.6M89.6 291.9h0.6M82.1 290.6h0.6M92.6 295.5h0.6M106.6 292.4h0.6M57.6 295.6h0.6M63.9 289.9h0.6M62.9 291.0h0.6M74.8 292.4h0.6M102.3 282.4h0.6M83.1 295.3h0.6M86.4 293.4h0.6M89.8 284.5h0.6M97.6 285.7h0.6M119.8 287.7h0.6M99.7 291.0h0.6M104.2 287.1h0.6M105.0 290.2h0.6M109.5 295.1h0.6M90.4 285.9h0.6M101.1 294.0h0.6M115.9 288.5h0.6M97.4 294.3h0.6M92.8 292.4h0.6M91.1 287.1h0.6M70.8 288.4h0.6M98.0 300.8h0.6M104.6 297.8h0.6M101.2 295.5h0.6M91.1 296.0h0.6M118.2 288.9h0.6M76.2 303.7h0.6M92.2 297.3h0.6M102.9 283.6h0.6M129.4 302.5h0.6M91.0 295.9h0.6M90.2 285.3h0.6M86.1 293.4h0.6M107.0 295.6h0.6M89.0 299.8h0.6M75.1 296.2h0.6M106.9 289.1h0.6M57.6 285.1h0.6M92.0 294.4h0.6M114.3 284.5h0.6M88.0 295.2h0.6M85.3 275.6h0.6M101.7 306.0h0.6M105.1 285.0h0.6M81.0 292.4h0.6M130.3 295.0h0.6M89.9 301.1h0.6M86.6 303.1h0.6M76.4 287.9h0.6M100.3 300.3h0.6M99.1 293.0h0.6M57.0 286.4h0.6M77.6 287.5h0.6M98.0 288.8h0.6M101.4 291.5h0.6M82.3 291.8h0.6M95.3 296.6h0.6M79.9 289.5h0.6M64.8 301.4h0.6M112.7 289.8h0.6M79.9 283.0h0.6M90.9 292.3h0.6M125.1 292.6h0.6M74.8 275.1h0.6M112.0 292.2h0.6M60.6 292.2h0.6M60.7 313.6h0.6M107.0 294.7h0.6M85.0 277.1h0.6M85.9 280.9h0.6M98.1 277.1h0.6M72.6 298.9h0.6M115.9 283.3h0.6M61.9 296.7h0.6M102.5 284.6h0.6M76.2 286.5h0.6M67.8 286.6h0.6M109.3 295.5h0.6M123.0 290.4h0.6M85.7 284.6h0.6M85.9 282.5h0.6M57.8 295.5h0.6M112.5 296.4h0.6M110.7 292.6h0.6M75.8 291.6h0.6M81.6 283.8h0.6M59.2 281.4h0.6M87.9 292.0h0.6M79.9 300.3h0.6M91.0 294.8h0.6M108.7 285.7h0.6M54.5 295.9h0.6M76.3 299.5h0.6M93.7 297.5h0.6M101.0 277.5h0.6M100.2 286.6h0.6M75.1 288.2h0.6M101.1 296.7h0.6M105.2 280.2h0.6M78.0 275.6h0.6M86.3 294.9h0.6M75.0 292.6h0.6M91.9 297.5h0.6M74.0 285.6h0.6M75.0 302.4h0.6M106.5 290.2h0.6M91.8 291.7h0.6M91.5 289.6h0.6M82.3 282.8h0.6M77.1 301.7h0.6M97.1 291.4h0.6M84.3 291.4h0.6M94.0 286.8h0.6M91.3 292.6h0.6M75.3 285.9h0.6M71.0 284.1h0.6M103.1 275.7h0.6M83.5 287.0h0.6M77.5 291.6h0.6M107.2 291.5h0.6M85.6 287.0h0.6M85.8 296.9h0.6M81.3 283.5h0.6M66.5 283.8h0.6M64.4 298.1h0.6M94.0 289.5h0.6M112.8 286.7h0.6M100.8 296.2h0.6M61.7 280.9h0.6M72.2 296.9h0.6M110.0 283.0h0.6M105.8 288.5h0.6M81.3 287.4h0.6M82.5 279.2h0.6M71.0 283.0h0.6M96.3 304.6h0.6M134.4 288.8h0.6M58.7 288.4h0.6M72.0 303.9h0.6M97.7 286.3h0.6M103.9 294.5h0.6M60.4 287.5h0.6M83.9 291.1h0.6M90.2 288.8h0.6M91.2 287.2h0.6M72.8 300.9h0.6M94.1 293.8h0.6M60.9 289.9h0.6M101.9 282.6h0.6M106.7 288.5h0.6M94.8 290.1h0.6M91.7 298.8h0.6M81.1 301.2h0.6M74.7 284.9h0.6M100.1 284.1h0.6M81.7 296.9h0.6M108.6 279.5h0.6M96.6 303.2h0.6M108.3 289.4h0.6M77.8 289.1h0.6M68.4 289.3h0.6M84.8 290.1h0.6M108.1 289.5h0.6M63.2 297.8h0.6M69.8 288.1h0.6M85.7 288.8h0.6M70.9 289.4h0.6M125.1 287.1h0.6M85.7 298.3h0.6M100.7 296.0h0.6M102.7 278.2h0.6M73.3 291.8h0.6M96.5 299.4h0.6M96.0 289.5h0.6M88.7 289.6h0.6M92.2 295.4h0.6M82.2 285.7h0.6M73.5 298.1h0.6M109.8 297.4h0.6M102.6 296.4h0.6M88.0 295.3h0.6M70.1 289.7h0.6M75.5 295.7h0.6M78.1 290.3h0.6M94.8 299.8h0.6M74.5 284.9h0.6M101.9 283.8h0.6M95.7 287.3h0.6M86.2 279.2h0.6M100.1 287.7h0.6M72.7 304.5h0.6M100.1 313.8h0.6M94.9 288.7h0.6M89.8 301.4h0.6M87.5 293.9h0.6M96.8 285.1h0.6M90.2 287.7h0.6M66.8 296.7h0.6M99.3 291.5h0.6M72.6 278.0h0.6M96.3 290.4h0.6M59.4 290.6h0.6M62.1 290.8h0.6M90.4 293.3h0.6M91.7 292.1h0.6M68.6 288.5h0.6M79.3 289.5h0.6M92.6 295.0h0.6M115.8 274.3h0.6M94.8 289.7h0.6M126.7 297.1h0.6M59.9 293.6h0.6M79.1 297.5h0.6M70.1 290.3h0.6M85.8 290.4h0.6M78.1 279.1h0.6M95.8 297.5h0.6M86.8 284.4h0.6M91.5 294.7h0.6M85.0 290.9h0.6M111.9 283.7h0.6M78.5 278.6h0.6M76.1 286.2h0.6M71.7 286.5h0.6M118.5 289.7h0.6M86.1 305.3h0.6M87.0 279.7h0.6M94.9 284.9h0.6M115.9 282.9h0.6M78.1 280.6h0.6M89.7 284.4h0.6M86.9 288.6h0.6M77.6 297.1h0.6M103.9 291.4h0.6M72.7 284.0h0.6M92.6 306.5h0.6M80.2 285.9h0.6M76.1 283.9h0.6M71.5 289.7h0.6M112.4 291.0h0.6M79.3 280.5h0.6M91.6 290.8h0.6M67.2 283.9h0.6M87.3 297.6h0.6M98.7 292.3h0.6" fill="none" stroke="#555" stroke-width="0.55"/>
<path d="M98.29 298.50 L99.18 300.01 L97.67 301.34 L95.99 302.67 L92.84 303.62 L88.51 303.71 L84.50 303.85 L79.78 304.40 L75.99 303.33 L72.26 302.43 L67.36 301.63 L66.30 299.99 L64.08 298.50 L64.99 297.00 L65.70 295.54 L68.88 294.63 L71.15 293.37 L74.93 292.57 L79.50 292.68 L84.15 292.68 L88.57 293.34 L91.41 294.68 L96.08 295.48 L98.01 296.98Z" fill="none" stroke="#1a1a1a" stroke-width="0.60"/>
<path d="M96.26 298.50 L95.72 299.70 L96.59 301.16 L93.90 302.04 L91.50 303.01 L88.14 303.65 L84.17 303.70 L80.02 303.68 L76.63 302.78 L72.61 302.23 L70.44 300.99 L67.34 299.89 L66.37 298.50 L68.12 297.28 L68.90 296.13 L70.52 295.11 L72.21 293.82 L76.13 293.69 L79.83 293.37 L83.60 293.80 L87.50 294.14 L90.70 295.01 L93.37 296.05 L95.86 297.18Z" fill="none" stroke="#1a1a1a" stroke-width="0.60"/>
<path d="M94.63 298.50 L95.30 299.67 L94.03 300.69 L92.72 301.71 L90.18 302.39 L87.25 302.93 L83.83 302.87 L80.72 302.39 L76.99 302.40 L73.83 301.73 L71.42 300.76 L70.30 299.61 L69.11 298.50 L70.04 297.45 L69.71 296.26 L71.78 295.46 L74.39 294.94 L77.23 294.68 L80.17 294.01 L83.71 294.07 L86.24 295.06 L89.94 295.35 L91.73 296.40 L92.89 297.46Z" fill="none" stroke="#1a1a1a" stroke-width="0.60"/>
<path d="M91.86 298.50 L92.66 299.44 L92.11 300.34 L89.75 300.78 L88.49 301.57 L85.90 301.62 L83.50 302.10 L80.88 301.77 L77.89 301.70 L75.29 301.15 L73.91 300.24 L71.75 299.47 L72.11 298.50 L72.43 297.66 L72.28 296.73 L74.27 296.22 L75.85 295.63 L77.95 295.19 L80.50 294.96 L83.05 295.32 L85.43 295.71 L88.58 295.89 L89.82 296.81 L92.19 297.53Z" fill="none" stroke="#1a1a1a" stroke-width="0.60"/>
<path d="M90.44 298.50 L89.82 299.19 L89.41 299.84 L88.45 300.42 L87.07 300.90 L85.21 301.15 L83.17 301.23 L81.03 301.16 L78.76 301.01 L77.21 300.42 L75.79 299.84 L74.37 299.23 L74.40 298.50 L74.28 297.82 L74.02 297.04 L75.55 296.58 L76.99 296.14 L78.98 296.09 L80.83 295.83 L82.95 295.85 L84.65 296.34 L86.89 296.55 L88.43 297.12 L88.82 297.85Z" fill="none" stroke="#1a1a1a" stroke-width="0.60"/>
<path d="M87.78 298.50 L87.66 299.00 L87.46 299.49 L86.50 299.83 L85.65 300.23 L84.33 300.44 L82.83 300.29 L81.44 300.24 L79.81 300.22 L78.29 299.97 L77.70 299.43 L76.78 299.00 L76.25 298.50 L76.47 298.01 L76.78 297.55 L77.52 297.17 L78.50 296.86 L79.71 296.60 L81.17 296.63 L82.63 296.67 L84.24 296.75 L85.11 297.24 L86.55 297.52 L87.46 297.98Z" fill="none" stroke="#1a1a1a" stroke-width="0.60"/>
<path d="M85.30 298.50 L85.27 298.79 L85.34 299.11 L84.66 299.29 L84.05 299.45 L83.35 299.61 L82.50 299.70 L81.66 299.55 L80.78 299.48 L80.01 299.30 L79.15 299.11 L78.88 298.80 L78.41 298.50 L78.76 298.22 L78.88 297.94 L79.18 297.66 L79.76 297.43 L80.64 297.39 L81.50 297.39 L82.34 297.45 L83.28 297.49 L83.93 297.72 L84.84 297.89 L85.33 298.18Z" fill="none" stroke="#1a1a1a" stroke-width="0.60"/>
<path d="M64 303 Q70 293 84 293.5" fill="none" stroke="#111" stroke-width="1.30"/>
<path d="M66 304 Q80 306 92 302" fill="none" stroke="#111" stroke-width="1.10"/>
<path d="M103.18 296.50 L103.03 297.71 L102.16 298.86 L100.81 299.91 L98.67 300.55 L96.49 301.14 L94.00 300.66 L91.68 300.82 L89.18 300.67 L87.48 299.76 L85.71 298.89 L85.84 297.59 L85.04 296.50 L85.66 295.38 L86.15 294.23 L87.56 293.28 L89.85 292.91 L91.78 292.35 L94.00 292.16 L96.48 291.86 L98.69 292.44 L100.02 293.49 L102.16 294.14 L102.19 295.40Z" fill="none" stroke="#1a1a1a" stroke-width="0.60"/>
<path d="M101.13 296.50 L100.36 297.35 L99.58 298.11 L99.24 299.12 L97.34 299.39 L95.73 299.73 L94.00 300.27 L92.08 300.08 L90.62 299.43 L88.68 299.16 L87.90 298.26 L87.05 297.43 L87.33 296.50 L86.76 295.53 L87.75 294.70 L88.68 293.84 L90.28 293.28 L92.25 293.23 L94.00 293.08 L95.71 293.30 L97.30 293.64 L98.61 294.20 L99.87 294.81 L100.87 295.58Z" fill="none" stroke="#1a1a1a" stroke-width="0.60"/>
<path d="M98.60 296.50 L98.97 297.17 L98.22 297.72 L97.43 298.21 L96.63 298.78 L95.29 298.91 L94.00 298.93 L92.71 298.91 L91.42 298.74 L90.72 298.14 L89.34 297.85 L89.54 297.10 L88.80 296.50 L88.90 295.82 L90.00 295.35 L90.30 294.65 L91.55 294.38 L92.69 294.05 L94.00 294.20 L95.20 294.26 L96.37 294.45 L97.79 294.60 L98.12 295.31 L99.03 295.83Z" fill="none" stroke="#1a1a1a" stroke-width="0.60"/>
<path d="M97.21 296.50 L97.10 296.92 L96.53 297.23 L96.07 297.54 L95.51 297.80 L94.81 298.01 L94.00 297.91 L93.19 298.01 L92.43 297.86 L91.76 297.62 L91.59 297.19 L90.90 296.92 L91.20 296.50 L91.18 296.12 L91.36 295.74 L91.74 295.37 L92.54 295.23 L93.17 294.95 L94.00 294.99 L94.75 295.09 L95.46 295.24 L96.01 295.49 L96.42 295.80 L96.73 296.13Z" fill="none" stroke="#1a1a1a" stroke-width="0.60"/>
<rect x="89.00" y="269.20" width="42.90" height="42.50" fill="none" stroke="#222" stroke-width="0.70"/>
<text x="117.2" y="341.8" font-size="8.10">32.5</text>
<text x="28.0" y="310.0" font-size="7.40" text-anchor="middle" transform="rotate(-90.00 28.00 310.00)">CD66b</text>
<text x="89.0" y="372.5" font-size="8.10" text-anchor="middle">HLA-DR</text>
<rect x="179.50" y="254.70" width="106.30" height="107.00" fill="none" stroke="#222" stroke-width="0.70"/>
<path d="M179.5 263.8h-2.4M179.5 279.7h-1.3M179.5 275.7h-1.3M179.5 272.9h-1.3M179.5 270.7h-1.3M179.5 268.9h-1.3M179.5 267.3h-1.3M179.5 266.0h-1.3M179.5 264.8h-1.3M179.5 286.6h-2.4M179.5 303.0h-1.3M179.5 298.8h-1.3M179.5 295.9h-1.3M179.5 293.6h-1.3M179.5 291.8h-1.3M179.5 290.2h-1.3M179.5 288.9h-1.3M179.5 287.7h-1.3M179.5 310.0h-2.4M179.5 331.7h-1.3M179.5 326.2h-1.3M179.5 322.3h-1.3M179.5 319.3h-1.3M179.5 316.9h-1.3M179.5 314.8h-1.3M179.5 313.0h-1.3M179.5 311.4h-1.3M179.5 341.0h-2.4M179.5 257.5h-1.3M179.5 259.5h-1.3M179.5 261.5h-1.3M179.5 352.0h-1.3M179.5 356.0h-1.3M187.7 361.7v2.4M194.8 361.7v1.3M198.9 361.7v1.3M201.8 361.7v1.3M204.1 361.7v1.3M206.0 361.7v1.3M207.6 361.7v1.3M208.9 361.7v1.3M210.1 361.7v1.3M211.2 361.7v2.4M217.9 361.7v1.3M221.7 361.7v1.3M224.5 361.7v1.3M226.6 361.7v1.3M228.4 361.7v1.3M229.9 361.7v1.3M231.2 361.7v1.3M232.3 361.7v1.3M233.3 361.7v2.4M244.5 361.7v1.3M251.1 361.7v1.3M255.8 361.7v1.3M259.4 361.7v1.3M262.3 361.7v1.3M264.8 361.7v1.3M267.0 361.7v1.3M268.9 361.7v1.3M270.6 361.7v2.4" fill="none" stroke="#111" stroke-width="0.90"/>
<path d="M196.1 291.0h0.6M248.0 291.4h0.6M235.2 280.6h0.6M226.9 289.7h0.6M251.4 294.3h0.6M231.7 286.9h0.6M214.5 292.9h0.6M259.4 277.1h0.6M265.8 298.6h0.6M240.1 289.8h0.6M224.9 283.2h0.6M245.2 291.5h0.6M191.9 288.9h0.6M220.9 287.7h0.6M273.3 302.3h0.6M255.0 304.4h0.6M249.4 276.4h0.6M251.2 293.9h0.6M263.7 297.3h0.6M201.0 309.0h0.6M207.6 302.8h0.6M242.0 288.6h0.6M184.9 286.0h0.6M213.4 291.7h0.6M228.2 307.0h0.6M241.6 303.2h0.6M208.1 289.5h0.6M252.1 301.5h0.6M247.2 289.5h0.6M210.4 308.2h0.6M217.9 290.0h0.6M265.4 293.8h0.6M219.0 300.3h0.6M228.0 304.2h0.6M229.7 286.2h0.6M235.5 292.1h0.6M204.0 288.2h0.6M205.4 300.4h0.6M257.9 290.3h0.6M221.7 296.3h0.6M231.9 297.6h0.6M242.6 296.5h0.6M245.6 284.7h0.6M247.2 276.1h0.6M234.4 290.6h0.6M239.9 291.4h0.6M237.0 277.8h0.6M220.8 286.2h0.6M239.5 294.5h0.6M222.3 288.5h0.6M216.6 291.7h0.6M240.7 298.7h0.6M228.4 283.9h0.6M214.0 298.8h0.6M209.3 289.8h0.6M182.8 300.1h0.6M232.2 287.2h0.6M226.6 297.7h0.6M228.8 294.4h0.6M231.1 282.6h0.6M194.6 300.9h0.6M219.5 302.3h0.6M255.0 288.6h0.6M217.5 288.0h0.6M265.5 292.8h0.6M225.8 300.1h0.6M211.7 287.7h0.6M219.1 292.2h0.6M204.3 287.3h0.6M234.1 284.3h0.6M209.7 296.2h0.6M209.9 290.9h0.6M247.6 293.5h0.6M269.3 291.9h0.6M199.3 295.7h0.6M235.8 299.1h0.6M201.2 291.6h0.6M254.3 294.6h0.6M254.9 286.9h0.6M241.1 292.8h0.6M264.0 284.7h0.6M256.5 294.6h0.6M232.8 287.3h0.6M208.9 280.4h0.6M237.8 284.9h0.6M255.2 296.6h0.6M241.4 302.2h0.6M229.7 300.3h0.6M196.4 289.0h0.6M252.2 291.7h0.6M265.3 293.6h0.6M214.1 304.4h0.6M234.5 291.2h0.6M230.0 286.5h0.6M224.2 299.5h0.6M217.5 291.6h0.6M215.7 293.2h0.6M242.8 297.3h0.6M224.7 286.7h0.6M237.9 300.3h0.6M245.1 315.5h0.6M234.7 288.5h0.6M226.2 301.2h0.6M212.5 291.6h0.6M198.6 291.0h0.6M246.5 301.4h0.6M244.7 301.5h0.6M217.2 306.2h0.6M268.7 279.4h0.6M208.9 299.1h0.6M247.4 304.0h0.6M235.7 284.7h0.6M217.3 305.1h0.6M232.1 278.7h0.6M228.4 298.8h0.6M231.9 298.2h0.6M242.2 293.2h0.6M210.8 293.4h0.6M247.0 288.0h0.6M254.2 309.2h0.6M248.4 296.2h0.6M233.5 286.0h0.6M264.1 290.0h0.6M217.7 307.9h0.6M253.2 288.5h0.6M237.8 295.9h0.6M249.3 277.8h0.6M212.4 281.6h0.6M236.0 287.3h0.6M241.2 308.7h0.6M243.4 285.7h0.6M231.0 296.2h0.6M195.9 302.9h0.6M237.0 299.7h0.6M257.3 295.3h0.6M259.9 297.4h0.6M211.0 293.4h0.6M231.0 299.8h0.6M269.2 281.2h0.6M232.2 287.5h0.6M236.9 300.3h0.6M266.0 279.5h0.6M235.6 304.2h0.6M215.9 299.0h0.6M242.3 305.1h0.6M241.5 274.4h0.6M210.5 293.9h0.6M225.6 289.6h0.6M256.7 283.5h0.6M234.8 301.0h0.6M193.1 294.4h0.6M226.8 287.5h0.6M276.0 287.4h0.6M246.6 285.7h0.6M211.9 294.4h0.6M254.7 291.7h0.6M244.3 291.7h0.6M254.2 294.7h0.6M236.9 298.8h0.6M242.0 293.9h0.6M224.0 294.2h0.6M224.1 303.6h0.6M230.9 299.9h0.6M220.7 297.3h0.6M200.1 287.6h0.6M256.3 294.9h0.6M188.3 289.1h0.6M227.4 286.9h0.6M200.0 281.5h0.6M264.6 288.9h0.6M247.0 297.8h0.6M214.3 294.0h0.6M233.3 283.7h0.6M234.5 292.9h0.6M235.5 289.3h0.6M220.7 292.5h0.6M211.7 300.4h0.6M237.6 292.4h0.6M224.5 295.4h0.6M231.5 288.5h0.6M243.9 306.8h0.6M271.8 297.9h0.6M224.4 319.5h0.6M239.1 295.2h0.6M215.0 294.0h0.6M221.5 287.7h0.6M230.2 294.3h0.6M233.3 293.3h0.6M192.3 296.9h0.6M214.8 291.4h0.6M199.0 296.5h0.6M238.1 290.4h0.6M221.8 287.7h0.6M261.0 287.5h0.6M207.0 286.6h0.6M232.6 289.9h0.6M229.5 295.0h0.6M258.0 308.1h0.6M220.0 290.7h0.6M226.2 301.0h0.6M263.6 300.5h0.6M227.0 294.9h0.6M211.4 292.2h0.6M233.3 286.8h0.6M233.7 302.4h0.6M223.3 295.4h0.6M228.3 277.0h0.6M246.3 282.8h0.6M197.2 295.6h0.6M234.2 296.5h0.6M238.9 302.4h0.6M237.6 301.3h0.6M242.6 282.8h0.6M235.2 296.9h0.6M238.5 293.1h0.6M229.7 305.6h0.6M241.5 286.1h0.6" fill="none" stroke="#555" stroke-width="0.55"/>
<path d="M252.71 298.50 L252.36 300.66 L250.70 302.50 L249.96 304.86 L245.74 305.28 L242.76 306.71 L238.80 307.54 L235.01 306.16 L230.78 305.93 L227.20 304.62 L225.61 302.44 L223.01 300.66 L221.30 298.50 L222.05 296.32 L222.64 294.10 L225.88 292.82 L228.58 291.45 L232.09 290.80 L235.80 289.99 L240.13 289.73 L243.86 291.03 L247.68 292.23 L249.72 294.33 L252.47 296.21Z" fill="none" stroke="#1a1a1a" stroke-width="0.60"/>
<path d="M250.28 298.50 L250.60 300.40 L250.32 302.41 L248.41 304.07 L245.31 305.00 L241.95 305.36 L238.64 305.82 L235.17 305.51 L231.77 304.86 L227.96 304.14 L226.54 302.12 L223.42 300.59 L222.59 298.50 L224.51 296.67 L224.85 294.77 L226.56 293.13 L229.73 292.42 L232.46 291.24 L235.96 290.40 L239.37 291.61 L243.18 291.81 L245.56 293.45 L248.79 294.65 L251.20 296.41Z" fill="none" stroke="#1a1a1a" stroke-width="0.60"/>
<path d="M248.96 298.50 L248.50 300.10 L247.78 301.63 L246.85 303.28 L243.97 303.86 L241.40 304.55 L238.48 305.21 L235.06 305.42 L232.29 304.24 L229.63 303.17 L227.06 301.93 L226.56 300.12 L224.91 298.50 L225.79 296.85 L225.93 295.09 L227.18 293.41 L230.59 293.10 L232.96 291.96 L236.12 291.68 L239.15 292.38 L242.17 292.90 L245.80 293.38 L248.15 294.88 L248.10 296.87Z" fill="none" stroke="#1a1a1a" stroke-width="0.60"/>
<path d="M248.25 298.50 L248.55 300.11 L246.61 301.29 L245.66 302.69 L243.10 303.17 L240.98 304.00 L238.33 304.48 L235.51 304.20 L232.65 303.76 L231.02 302.34 L228.85 301.34 L226.73 300.09 L226.55 298.50 L226.87 297.01 L227.75 295.64 L228.49 294.07 L231.05 293.40 L233.78 293.32 L236.27 292.41 L238.98 293.04 L241.66 293.52 L243.73 294.58 L245.89 295.62 L246.99 297.04Z" fill="none" stroke="#1a1a1a" stroke-width="0.60"/>
<path d="M245.68 298.50 L246.37 299.80 L245.01 300.80 L244.55 302.14 L242.20 302.44 L240.57 303.47 L238.17 303.66 L235.82 303.25 L233.41 302.90 L231.82 301.84 L229.67 301.05 L228.96 299.76 L228.71 298.50 L227.76 297.13 L229.22 296.08 L230.47 295.09 L231.80 293.99 L234.19 293.85 L236.43 293.45 L238.66 294.00 L241.28 294.00 L242.79 295.15 L244.08 296.22 L246.40 297.13Z" fill="none" stroke="#1a1a1a" stroke-width="0.60"/>
<path d="M244.26 298.50 L245.08 299.62 L244.51 300.67 L243.08 301.40 L241.30 301.71 L239.75 302.12 L238.01 302.34 L236.12 302.32 L234.18 302.05 L232.22 301.56 L231.44 300.47 L230.80 299.48 L229.89 298.50 L230.44 297.52 L231.01 296.62 L231.56 295.63 L232.90 294.90 L234.85 294.88 L236.59 294.50 L238.58 294.48 L240.51 294.87 L241.89 295.71 L243.70 296.36 L243.83 297.51Z" fill="none" stroke="#1a1a1a" stroke-width="0.60"/>
<path d="M243.21 298.50 L243.20 299.35 L242.82 300.16 L241.73 300.71 L240.45 301.04 L239.21 301.31 L237.85 301.65 L236.43 301.37 L234.86 301.27 L233.92 300.57 L232.41 300.14 L232.17 299.27 L232.03 298.50 L231.93 297.73 L232.11 296.95 L232.83 296.26 L234.02 295.84 L235.37 295.63 L236.75 295.38 L238.35 295.26 L239.69 295.77 L241.23 296.13 L241.60 297.05 L243.11 297.63Z" fill="none" stroke="#1a1a1a" stroke-width="0.60"/>
<path d="M241.63 298.50 L241.37 299.08 L241.04 299.62 L240.48 300.09 L239.81 300.56 L238.66 300.51 L237.69 300.79 L236.62 300.68 L235.67 300.38 L234.59 300.14 L233.84 299.66 L233.71 299.04 L233.09 298.50 L233.29 297.93 L233.58 297.38 L234.07 296.88 L235.06 296.70 L235.85 296.30 L236.91 296.31 L238.04 296.21 L238.91 296.65 L240.05 296.84 L240.76 297.34 L241.22 297.91Z" fill="none" stroke="#1a1a1a" stroke-width="0.60"/>
<path d="M239.89 298.50 L239.55 298.82 L239.57 299.18 L239.23 299.47 L238.76 299.70 L238.15 299.78 L237.54 299.75 L236.93 299.73 L236.26 299.68 L235.83 299.40 L235.45 299.12 L235.05 298.84 L234.86 298.50 L234.86 298.15 L235.22 297.88 L235.33 297.51 L235.90 297.37 L236.41 297.14 L237.06 297.26 L237.75 297.11 L238.34 297.32 L238.99 297.48 L239.47 297.78 L239.73 298.13Z" fill="none" stroke="#1a1a1a" stroke-width="0.60"/>
<path d="M263.17 296.00 L263.45 297.87 L262.58 299.60 L261.35 301.23 L259.04 301.76 L257.11 302.47 L255.00 302.60 L252.90 302.46 L250.59 302.29 L249.35 300.66 L247.60 299.52 L247.17 297.73 L246.78 296.00 L246.88 294.21 L247.24 292.31 L248.89 290.96 L251.08 290.41 L252.88 289.48 L255.00 289.40 L257.33 288.84 L259.46 289.64 L261.30 290.81 L262.75 292.32 L263.53 294.12Z" fill="none" stroke="#1a1a1a" stroke-width="0.60"/>
<path d="M262.71 296.00 L262.27 297.61 L260.99 298.85 L260.37 300.42 L258.59 301.12 L256.94 301.95 L255.00 301.98 L253.16 301.66 L251.48 301.02 L249.97 300.14 L248.96 298.87 L248.48 297.44 L247.44 296.00 L247.72 294.39 L248.29 292.81 L249.76 291.68 L251.37 290.83 L253.06 290.05 L255.00 290.42 L256.91 290.12 L258.56 290.92 L259.82 292.03 L260.93 293.18 L261.97 294.46Z" fill="none" stroke="#1a1a1a" stroke-width="0.60"/>
<path d="M260.65 296.00 L260.65 297.25 L260.18 298.46 L259.09 299.37 L257.77 299.95 L256.52 300.67 L255.00 300.64 L253.54 300.48 L252.20 299.99 L250.93 299.35 L250.25 298.26 L249.18 297.28 L248.69 296.00 L249.42 294.77 L249.73 293.49 L250.55 292.34 L252.27 292.11 L253.56 291.59 L255.00 290.92 L256.61 291.07 L258.01 291.71 L258.93 292.76 L260.03 293.61 L261.02 294.67Z" fill="none" stroke="#1a1a1a" stroke-width="0.60"/>
<path d="M259.86 296.00 L259.64 297.02 L258.78 297.80 L258.42 298.82 L257.24 299.20 L256.23 299.77 L255.00 299.55 L253.73 299.92 L252.67 299.32 L251.65 298.76 L251.22 297.80 L250.50 296.99 L250.36 296.00 L250.51 295.01 L251.13 294.16 L251.65 293.24 L252.77 292.82 L253.85 292.48 L255.00 292.43 L256.22 292.25 L257.15 292.94 L258.09 293.45 L258.69 294.25 L259.52 295.00Z" fill="none" stroke="#1a1a1a" stroke-width="0.60"/>
<path d="M258.30 296.00 L258.18 296.70 L257.62 297.25 L257.29 297.89 L256.59 298.27 L255.79 298.43 L255.00 298.48 L254.09 298.81 L253.46 298.19 L252.76 297.84 L252.27 297.30 L251.79 296.71 L251.95 296.00 L251.86 295.31 L252.23 294.68 L252.56 293.99 L253.49 293.85 L254.18 293.47 L255.00 293.31 L255.91 293.20 L256.64 293.66 L257.30 294.10 L257.91 294.62 L258.06 295.33Z" fill="none" stroke="#1a1a1a" stroke-width="0.60"/>
<path d="M256.81 296.00 L256.90 296.42 L256.81 296.86 L256.44 297.19 L255.94 297.34 L255.52 297.61 L255.00 297.71 L254.51 297.50 L254.01 297.42 L253.65 297.12 L253.37 296.77 L253.17 296.40 L253.13 296.00 L253.15 295.59 L253.43 295.25 L253.64 294.88 L254.08 294.69 L254.47 294.38 L255.00 294.36 L255.47 294.56 L256.02 294.54 L256.32 294.91 L256.69 295.19 L256.91 295.58Z" fill="none" stroke="#1a1a1a" stroke-width="0.60"/>
<rect x="253.00" y="264.40" width="29.40" height="45.60" fill="none" stroke="#222" stroke-width="0.70"/>
<text x="264.0" y="343.0" font-size="8.10">18.1</text>
<text x="172.2" y="310.0" font-size="7.40" text-anchor="middle" transform="rotate(-90.00 172.20 310.00)">CD66b</text>
<text x="233.0" y="372.5" font-size="8.10" text-anchor="middle">SPP1</text>
<path d="M347.00 303.00 L375.00 300.00 L400.00 290.00 L446.00 258.00 L446.00 308.00 L420.00 312.00 L395.00 318.00 L347.00 350.00Z" fill="#e6e6e6"/>
<path d="M348.6 325.9L446.2 283.4" stroke="#3d3d3d" stroke-width="1.60"/>
<path d="M344.8 254.0L344.8 361.2" stroke="#333" stroke-width="0.60"/>
<path d="M344.8 361.2L448.0 361.2" stroke="#333" stroke-width="0.60"/>
<path d="M342.8 256.8L344.8 256.8" stroke="#333" stroke-width="0.60"/>
<text x="342.0" y="259.3" font-size="8.10" text-anchor="end">0.4</text>
<path d="M342.8 280.7L344.8 280.7" stroke="#333" stroke-width="0.60"/>
<text x="342.0" y="283.2" font-size="8.10" text-anchor="end">0.3</text>
<path d="M342.8 306.2L344.8 306.2" stroke="#333" stroke-width="0.60"/>
<text x="342.0" y="308.7" font-size="8.10" text-anchor="end">0.2</text>
<path d="M342.8 330.8L344.8 330.8" stroke="#333" stroke-width="0.60"/>
<text x="342.0" y="333.3" font-size="8.10" text-anchor="end">0.1</text>
<path d="M342.8 356.3L344.8 356.3" stroke="#333" stroke-width="0.60"/>
<text x="342.0" y="358.8" font-size="8.10" text-anchor="end">0</text>
<path d="M360.0 361.2L360.0 363.2" stroke="#333" stroke-width="0.60"/>
<text x="360.0" y="371.3" font-size="8.10" text-anchor="middle">0.5</text>
<path d="M389.2 361.2L389.2 363.2" stroke="#333" stroke-width="0.60"/>
<text x="389.2" y="371.3" font-size="8.10" text-anchor="middle">1.0</text>
<path d="M418.1 361.2L418.1 363.2" stroke="#333" stroke-width="0.60"/>
<text x="418.1" y="371.3" font-size="8.10" text-anchor="middle">1.5</text>
<path d="M446.2 361.2L446.2 363.2" stroke="#333" stroke-width="0.60"/>
<text x="446.2" y="371.3" font-size="8.10" text-anchor="middle">2.0</text>
<circle cx="437.9" cy="258.7" r="1.50" fill="#fff" stroke="#555" stroke-width="0.50"/>
<circle cx="433.7" cy="290.2" r="1.50" fill="#fff" stroke="#555" stroke-width="0.50"/>
<circle cx="418.5" cy="295.9" r="1.50" fill="#fff" stroke="#555" stroke-width="0.50"/>
<circle cx="426.5" cy="299.3" r="1.50" fill="#fff" stroke="#555" stroke-width="0.50"/>
<circle cx="446.2" cy="297.8" r="1.50" fill="#fff" stroke="#555" stroke-width="0.50"/>
<circle cx="349.4" cy="316.8" r="1.50" fill="#fff" stroke="#555" stroke-width="0.50"/>
<circle cx="369.1" cy="320.6" r="1.50" fill="#fff" stroke="#555" stroke-width="0.50"/>
<circle cx="348.6" cy="328.2" r="1.50" fill="#fff" stroke="#555" stroke-width="0.50"/>
<text x="434.8" y="269.5" font-size="8.10" text-anchor="middle">ICC</text>
<text x="427.0" y="282.0" font-size="8.10" text-anchor="middle">HCC</text>
<text x="404.4" y="293.5" font-size="8.10" text-anchor="middle">STAD</text>
<text x="412.0" y="309.8" font-size="8.10" text-anchor="middle">NSCLC</text>
<text x="437.9" y="308.5" font-size="8.10" text-anchor="middle">BRCA</text>
<text x="360.8" y="309.8" font-size="8.10" text-anchor="middle">RCC</text>
<text x="383.6" y="330.3" font-size="8.10" text-anchor="middle">COAD</text>
<text x="358.9" y="340.9" font-size="8.10" text-anchor="middle">PAAD</text>
<text x="351.00" y="263.80" font-size="8.10" stroke="#231f20" stroke-width="0.15"><tspan font-style="italic">R</tspan> = 0.79, <tspan font-style="italic">P</tspan> = 0.028</text>
<text x="396.4" y="380.8" font-size="8.10" text-anchor="middle">HLA-DR<tspan font-size="4.46" dy="-2.92">+</tspan><tspan dy="2.92">NEU Ro/e (scRNA-seq)</tspan></text>
<text x="318.5" y="306.0" font-size="8.10" text-anchor="middle" transform="rotate(-90.00 318.50 306.00)">HLA-DR<tspan font-size="4.46" dy="-2.92">+</tspan><tspan dy="2.92">NEU Proportion</tspan></text>
<text x="328.5" y="306.0" font-size="8.10" text-anchor="middle" transform="rotate(-90.00 328.50 306.00)">(Flow cytometry validation)</text>
<path d="M508.90 303.00 L530.00 302.00 L555.00 298.00 L580.00 286.00 L602.70 260.00 L602.70 320.00 L585.00 316.00 L560.00 320.00 L535.00 332.00 L508.90 347.00Z" fill="#e6e6e6"/>
<path d="M508.9 325.1L602.7 291.0" stroke="#3d3d3d" stroke-width="1.60"/>
<path d="M500.5 252.0L500.5 361.2" stroke="#333" stroke-width="0.60"/>
<path d="M500.5 361.2L605.0 361.2" stroke="#333" stroke-width="0.60"/>
<path d="M498.5 254.9L500.5 254.9" stroke="#333" stroke-width="0.60"/>
<text x="497.7" y="257.4" font-size="8.10" text-anchor="end">0.25</text>
<path d="M498.5 274.6L500.5 274.6" stroke="#333" stroke-width="0.60"/>
<text x="497.7" y="277.1" font-size="8.10" text-anchor="end">0.20</text>
<path d="M498.5 293.6L500.5 293.6" stroke="#333" stroke-width="0.60"/>
<text x="497.7" y="296.1" font-size="8.10" text-anchor="end">0.15</text>
<path d="M498.5 312.6L500.5 312.6" stroke="#333" stroke-width="0.60"/>
<text x="497.7" y="315.1" font-size="8.10" text-anchor="end">0.10</text>
<path d="M498.5 331.6L500.5 331.6" stroke="#333" stroke-width="0.60"/>
<text x="497.7" y="334.1" font-size="8.10" text-anchor="end">0.05</text>
<path d="M498.5 350.6L500.5 350.6" stroke="#333" stroke-width="0.60"/>
<text x="497.7" y="353.1" font-size="8.10" text-anchor="end">0</text>
<path d="M507.0 361.2L507.0 363.2" stroke="#333" stroke-width="0.60"/>
<text x="507.0" y="371.3" font-size="8.10" text-anchor="middle">0.50</text>
<path d="M529.0 361.2L529.0 363.2" stroke="#333" stroke-width="0.60"/>
<text x="529.0" y="371.3" font-size="8.10" text-anchor="middle">0.75</text>
<path d="M550.7 361.2L550.7 363.2" stroke="#333" stroke-width="0.60"/>
<text x="550.7" y="371.3" font-size="8.10" text-anchor="middle">1.00</text>
<path d="M572.7 361.2L572.7 363.2" stroke="#333" stroke-width="0.60"/>
<text x="572.7" y="371.3" font-size="8.10" text-anchor="middle">1.25</text>
<path d="M595.5 361.2L595.5 363.2" stroke="#333" stroke-width="0.60"/>
<text x="595.5" y="371.3" font-size="8.10" text-anchor="middle">1.50</text>
<circle cx="595.5" cy="259.8" r="1.50" fill="#fff" stroke="#555" stroke-width="0.50"/>
<circle cx="562.0" cy="293.6" r="1.50" fill="#fff" stroke="#555" stroke-width="0.50"/>
<circle cx="524.0" cy="301.6" r="1.50" fill="#fff" stroke="#555" stroke-width="0.50"/>
<circle cx="527.0" cy="315.6" r="1.50" fill="#fff" stroke="#555" stroke-width="0.50"/>
<circle cx="602.7" cy="311.0" r="1.50" fill="#fff" stroke="#555" stroke-width="0.50"/>
<circle cx="584.8" cy="317.5" r="1.50" fill="#fff" stroke="#555" stroke-width="0.50"/>
<circle cx="535.5" cy="329.0" r="1.50" fill="#fff" stroke="#555" stroke-width="0.50"/>
<circle cx="508.9" cy="335.8" r="1.50" fill="#fff" stroke="#555" stroke-width="0.50"/>
<text x="588.6" y="271.8" font-size="8.10" text-anchor="middle">STAD</text>
<text x="550.7" y="288.5" font-size="8.10" text-anchor="middle">COAD</text>
<text x="522.0" y="297.3" font-size="8.10" text-anchor="middle">HCC</text>
<text x="518.4" y="311.7" font-size="8.10" text-anchor="middle">NSCLC</text>
<text x="592.4" y="311.7" font-size="8.10" text-anchor="middle">ICC</text>
<text x="573.4" y="326.5" font-size="8.10" text-anchor="middle">RCC</text>
<text x="547.6" y="337.9" font-size="8.10" text-anchor="middle">BRCA</text>
<text x="520.3" y="345.5" font-size="8.10" text-anchor="middle">PAAD</text>
<text x="505.00" y="263.80" font-size="8.10" stroke="#231f20" stroke-width="0.15"><tspan font-style="italic">R</tspan> = 0.48, <tspan font-style="italic">P</tspan> = 0.24</text>
<text x="552.8" y="380.8" font-size="8.10" text-anchor="middle">VEGFA<tspan font-size="4.46" dy="-2.92">+</tspan><tspan dy="2.92">SPP1</tspan><tspan font-size="4.46" dy="-2.92">+</tspan><tspan dy="2.92">NEU Ro/e (scRNA-seq)</tspan></text>
<text x="471.5" y="306.0" font-size="8.10" text-anchor="middle" transform="rotate(-90.00 471.50 306.00)">SPP1<tspan font-size="4.46" dy="-2.92">+</tspan><tspan dy="2.92">NEU Proportion</tspan></text>
<text x="482.5" y="306.0" font-size="8.10" text-anchor="middle" transform="rotate(-90.00 482.50 306.00)">(Flow cytometry validation)</text>
<text x="619.8" y="252.2" font-size="18.50" fill="#000" font-weight="bold" style="stroke:none">D</text>
<rect x="637.80" y="248.40" width="210.60" height="139.20" fill="#d8dce8"/>
<svg x="638.60" y="249.00" width="69.50" height="67.90" viewBox="0 0 69.50 67.90" overflow="hidden">
<rect x="0.00" y="0.00" width="69.50" height="67.90" fill="#131a58"/>
<path d="M9.3 57.5m-1.8 0a1.8 1.8 0 1 0 3.5 0a1.8 1.8 0 1 0 -3.5 0M17.7 33.6m-1.4 0a1.4 1.4 0 1 0 2.9 0a1.4 1.4 0 1 0 -2.9 0M45.3 53.6m-1.1 0a1.1 1.1 0 1 0 2.2 0a1.1 1.1 0 1 0 -2.2 0M2.0 56.7m-1.4 0a1.4 1.4 0 1 0 2.9 0a1.4 1.4 0 1 0 -2.9 0M53.0 0.1m-1.4 0a1.4 1.4 0 1 0 2.9 0a1.4 1.4 0 1 0 -2.9 0M50.1 15.5m-1.9 0a1.9 1.9 0 1 0 3.9 0a1.9 1.9 0 1 0 -3.9 0M62.6 2.1m-1.0 0a1.0 1.0 0 1 0 2.1 0a1.0 1.0 0 1 0 -2.1 0M37.6 63.8m-1.4 0a1.4 1.4 0 1 0 2.8 0a1.4 1.4 0 1 0 -2.8 0M15.1 28.7m-1.0 0a1.0 1.0 0 1 0 2.1 0a1.0 1.0 0 1 0 -2.1 0M15.4 29.7m-1.5 0a1.5 1.5 0 1 0 3.0 0a1.5 1.5 0 1 0 -3.0 0M16.2 15.7m-1.2 0a1.2 1.2 0 1 0 2.4 0a1.2 1.2 0 1 0 -2.4 0M31.9 19.7m-1.0 0a1.0 1.0 0 1 0 2.0 0a1.0 1.0 0 1 0 -2.0 0M58.2 37.8m-1.6 0a1.6 1.6 0 1 0 3.3 0a1.6 1.6 0 1 0 -3.3 0M12.9 67.4m-1.9 0a1.9 1.9 0 1 0 3.7 0a1.9 1.9 0 1 0 -3.7 0M8.4 22.6m-1.7 0a1.7 1.7 0 1 0 3.4 0a1.7 1.7 0 1 0 -3.4 0M49.4 63.6m-1.4 0a1.4 1.4 0 1 0 2.8 0a1.4 1.4 0 1 0 -2.8 0M57.7 45.5m-1.3 0a1.3 1.3 0 1 0 2.6 0a1.3 1.3 0 1 0 -2.6 0M40.8 59.9m-1.8 0a1.8 1.8 0 1 0 3.7 0a1.8 1.8 0 1 0 -3.7 0M35.1 40.0m-1.0 0a1.0 1.0 0 1 0 2.1 0a1.0 1.0 0 1 0 -2.1 0M16.9 54.1m-1.4 0a1.4 1.4 0 1 0 2.8 0a1.4 1.4 0 1 0 -2.8 0M12.0 37.3m-1.7 0a1.7 1.7 0 1 0 3.4 0a1.7 1.7 0 1 0 -3.4 0M46.9 25.4m-1.4 0a1.4 1.4 0 1 0 2.9 0a1.4 1.4 0 1 0 -2.9 0M35.3 52.9m-1.5 0a1.5 1.5 0 1 0 3.0 0a1.5 1.5 0 1 0 -3.0 0M27.3 33.3m-1.0 0a1.0 1.0 0 1 0 2.1 0a1.0 1.0 0 1 0 -2.1 0M3.0 47.8m-2.0 0a2.0 2.0 0 1 0 4.0 0a2.0 2.0 0 1 0 -4.0 0M41.2 26.7m-1.2 0a1.2 1.2 0 1 0 2.3 0a1.2 1.2 0 1 0 -2.3 0M34.9 66.7m-1.8 0a1.8 1.8 0 1 0 3.5 0a1.8 1.8 0 1 0 -3.5 0M37.5 58.4m-1.2 0a1.2 1.2 0 1 0 2.5 0a1.2 1.2 0 1 0 -2.5 0M35.7 64.7m-1.6 0a1.6 1.6 0 1 0 3.2 0a1.6 1.6 0 1 0 -3.2 0M31.9 18.3m-1.5 0a1.5 1.5 0 1 0 3.1 0a1.5 1.5 0 1 0 -3.1 0M66.5 0.4m-1.8 0a1.8 1.8 0 1 0 3.6 0a1.8 1.8 0 1 0 -3.6 0M57.0 60.2m-1.7 0a1.7 1.7 0 1 0 3.5 0a1.7 1.7 0 1 0 -3.5 0M56.2 35.2m-1.6 0a1.6 1.6 0 1 0 3.1 0a1.6 1.6 0 1 0 -3.1 0M29.6 3.8m-1.9 0a1.9 1.9 0 1 0 3.7 0a1.9 1.9 0 1 0 -3.7 0M39.6 13.6m-1.5 0a1.5 1.5 0 1 0 3.0 0a1.5 1.5 0 1 0 -3.0 0M33.7 24.2m-1.3 0a1.3 1.3 0 1 0 2.7 0a1.3 1.3 0 1 0 -2.7 0M37.4 42.3m-1.6 0a1.6 1.6 0 1 0 3.2 0a1.6 1.6 0 1 0 -3.2 0M31.8 1.9m-1.2 0a1.2 1.2 0 1 0 2.5 0a1.2 1.2 0 1 0 -2.5 0M12.3 39.7m-1.9 0a1.9 1.9 0 1 0 3.7 0a1.9 1.9 0 1 0 -3.7 0M55.5 54.1m-1.8 0a1.8 1.8 0 1 0 3.6 0a1.8 1.8 0 1 0 -3.6 0M17.7 57.2m-1.7 0a1.7 1.7 0 1 0 3.3 0a1.7 1.7 0 1 0 -3.3 0M5.8 1.1m-1.0 0a1.0 1.0 0 1 0 2.0 0a1.0 1.0 0 1 0 -2.0 0M52.5 16.9m-1.1 0a1.1 1.1 0 1 0 2.2 0a1.1 1.1 0 1 0 -2.2 0M43.4 23.4m-1.1 0a1.1 1.1 0 1 0 2.1 0a1.1 1.1 0 1 0 -2.1 0M11.1 35.8m-1.2 0a1.2 1.2 0 1 0 2.3 0a1.2 1.2 0 1 0 -2.3 0M19.0 48.3m-1.5 0a1.5 1.5 0 1 0 2.9 0a1.5 1.5 0 1 0 -2.9 0M22.4 32.2m-1.0 0a1.0 1.0 0 1 0 2.0 0a1.0 1.0 0 1 0 -2.0 0M26.9 28.6m-1.2 0a1.2 1.2 0 1 0 2.4 0a1.2 1.2 0 1 0 -2.4 0M7.6 61.1m-1.5 0a1.5 1.5 0 1 0 3.0 0a1.5 1.5 0 1 0 -3.0 0M14.5 41.1m-1.8 0a1.8 1.8 0 1 0 3.6 0a1.8 1.8 0 1 0 -3.6 0M1.4 1.2m-1.1 0a1.1 1.1 0 1 0 2.3 0a1.1 1.1 0 1 0 -2.3 0M50.0 10.9m-1.7 0a1.7 1.7 0 1 0 3.4 0a1.7 1.7 0 1 0 -3.4 0M47.1 37.0m-1.2 0a1.2 1.2 0 1 0 2.4 0a1.2 1.2 0 1 0 -2.4 0M67.8 54.2m-1.5 0a1.5 1.5 0 1 0 3.0 0a1.5 1.5 0 1 0 -3.0 0M15.5 44.0m-1.4 0a1.4 1.4 0 1 0 2.8 0a1.4 1.4 0 1 0 -2.8 0M40.0 21.8m-1.6 0a1.6 1.6 0 1 0 3.3 0a1.6 1.6 0 1 0 -3.3 0M4.1 20.3m-2.0 0a2.0 2.0 0 1 0 3.9 0a2.0 2.0 0 1 0 -3.9 0M60.8 20.8m-1.9 0a1.9 1.9 0 1 0 3.7 0a1.9 1.9 0 1 0 -3.7 0M21.6 63.8m-1.7 0a1.7 1.7 0 1 0 3.5 0a1.7 1.7 0 1 0 -3.5 0M28.9 17.1m-1.0 0a1.0 1.0 0 1 0 2.0 0a1.0 1.0 0 1 0 -2.0 0M61.1 2.6m-1.8 0a1.8 1.8 0 1 0 3.6 0a1.8 1.8 0 1 0 -3.6 0M66.9 38.7m-1.2 0a1.2 1.2 0 1 0 2.3 0a1.2 1.2 0 1 0 -2.3 0M60.3 66.1m-1.7 0a1.7 1.7 0 1 0 3.4 0a1.7 1.7 0 1 0 -3.4 0M35.4 25.7m-1.3 0a1.3 1.3 0 1 0 2.7 0a1.3 1.3 0 1 0 -2.7 0M14.3 45.8m-1.4 0a1.4 1.4 0 1 0 2.9 0a1.4 1.4 0 1 0 -2.9 0M13.5 7.1m-1.7 0a1.7 1.7 0 1 0 3.3 0a1.7 1.7 0 1 0 -3.3 0M20.6 33.9m-1.3 0a1.3 1.3 0 1 0 2.7 0a1.3 1.3 0 1 0 -2.7 0M60.6 61.1m-1.0 0a1.0 1.0 0 1 0 2.0 0a1.0 1.0 0 1 0 -2.0 0M14.0 22.3m-2.0 0a2.0 2.0 0 1 0 4.0 0a2.0 2.0 0 1 0 -4.0 0M54.4 23.0m-1.2 0a1.2 1.2 0 1 0 2.4 0a1.2 1.2 0 1 0 -2.4 0M46.9 56.9m-1.9 0a1.9 1.9 0 1 0 3.9 0a1.9 1.9 0 1 0 -3.9 0M23.9 59.9m-1.7 0a1.7 1.7 0 1 0 3.4 0a1.7 1.7 0 1 0 -3.4 0M33.7 66.9m-1.2 0a1.2 1.2 0 1 0 2.5 0a1.2 1.2 0 1 0 -2.5 0M50.4 5.7m-1.2 0a1.2 1.2 0 1 0 2.3 0a1.2 1.2 0 1 0 -2.3 0M63.3 14.5m-1.8 0a1.8 1.8 0 1 0 3.5 0a1.8 1.8 0 1 0 -3.5 0M41.7 57.1m-1.4 0a1.4 1.4 0 1 0 2.7 0a1.4 1.4 0 1 0 -2.7 0M23.6 19.8m-1.9 0a1.9 1.9 0 1 0 3.7 0a1.9 1.9 0 1 0 -3.7 0M42.0 64.8m-1.9 0a1.9 1.9 0 1 0 3.8 0a1.9 1.9 0 1 0 -3.8 0M9.4 37.4m-1.1 0a1.1 1.1 0 1 0 2.2 0a1.1 1.1 0 1 0 -2.2 0M2.7 5.0m-1.9 0a1.9 1.9 0 1 0 3.7 0a1.9 1.9 0 1 0 -3.7 0M54.8 56.3m-1.3 0a1.3 1.3 0 1 0 2.7 0a1.3 1.3 0 1 0 -2.7 0M42.8 53.1m-1.4 0a1.4 1.4 0 1 0 2.8 0a1.4 1.4 0 1 0 -2.8 0M39.7 15.2m-1.1 0a1.1 1.1 0 1 0 2.2 0a1.1 1.1 0 1 0 -2.2 0M18.5 60.5m-1.6 0a1.6 1.6 0 1 0 3.1 0a1.6 1.6 0 1 0 -3.1 0M64.3 31.1m-1.3 0a1.3 1.3 0 1 0 2.6 0a1.3 1.3 0 1 0 -2.6 0M54.7 56.2m-1.0 0a1.0 1.0 0 1 0 2.0 0a1.0 1.0 0 1 0 -2.0 0M46.6 6.2m-1.1 0a1.1 1.1 0 1 0 2.2 0a1.1 1.1 0 1 0 -2.2 0M61.5 2.7m-1.2 0a1.2 1.2 0 1 0 2.5 0a1.2 1.2 0 1 0 -2.5 0M68.7 28.6m-1.1 0a1.1 1.1 0 1 0 2.2 0a1.1 1.1 0 1 0 -2.2 0M11.6 16.4m-1.7 0a1.7 1.7 0 1 0 3.5 0a1.7 1.7 0 1 0 -3.5 0M7.1 61.8m-1.4 0a1.4 1.4 0 1 0 2.8 0a1.4 1.4 0 1 0 -2.8 0M67.4 61.7m-1.3 0a1.3 1.3 0 1 0 2.6 0a1.3 1.3 0 1 0 -2.6 0M17.6 32.4m-1.1 0a1.1 1.1 0 1 0 2.2 0a1.1 1.1 0 1 0 -2.2 0M45.3 2.7m-1.0 0a1.0 1.0 0 1 0 2.0 0a1.0 1.0 0 1 0 -2.0 0M68.3 20.1m-1.6 0a1.6 1.6 0 1 0 3.2 0a1.6 1.6 0 1 0 -3.2 0M31.3 21.3m-1.1 0a1.1 1.1 0 1 0 2.1 0a1.1 1.1 0 1 0 -2.1 0M63.5 65.9m-2.0 0a2.0 2.0 0 1 0 3.9 0a2.0 2.0 0 1 0 -3.9 0M7.7 14.6m-1.6 0a1.6 1.6 0 1 0 3.2 0a1.6 1.6 0 1 0 -3.2 0M68.1 36.9m-1.7 0a1.7 1.7 0 1 0 3.4 0a1.7 1.7 0 1 0 -3.4 0M46.0 17.6m-1.5 0a1.5 1.5 0 1 0 3.1 0a1.5 1.5 0 1 0 -3.1 0M21.4 16.7m-1.1 0a1.1 1.1 0 1 0 2.2 0a1.1 1.1 0 1 0 -2.2 0M19.5 66.8m-1.4 0a1.4 1.4 0 1 0 2.9 0a1.4 1.4 0 1 0 -2.9 0M45.3 43.7m-1.9 0a1.9 1.9 0 1 0 3.9 0a1.9 1.9 0 1 0 -3.9 0M27.1 20.8m-1.3 0a1.3 1.3 0 1 0 2.7 0a1.3 1.3 0 1 0 -2.7 0M22.0 57.5m-1.9 0a1.9 1.9 0 1 0 3.8 0a1.9 1.9 0 1 0 -3.8 0M21.0 22.7m-1.5 0a1.5 1.5 0 1 0 3.1 0a1.5 1.5 0 1 0 -3.1 0M40.2 40.5m-1.2 0a1.2 1.2 0 1 0 2.5 0a1.2 1.2 0 1 0 -2.5 0M1.4 16.6m-1.1 0a1.1 1.1 0 1 0 2.1 0a1.1 1.1 0 1 0 -2.1 0M38.3 4.8m-1.1 0a1.1 1.1 0 1 0 2.2 0a1.1 1.1 0 1 0 -2.2 0M44.2 19.7m-1.8 0a1.8 1.8 0 1 0 3.6 0a1.8 1.8 0 1 0 -3.6 0M34.3 58.6m-1.2 0a1.2 1.2 0 1 0 2.3 0a1.2 1.2 0 1 0 -2.3 0M34.8 54.0m-1.1 0a1.1 1.1 0 1 0 2.2 0a1.1 1.1 0 1 0 -2.2 0M66.0 11.8m-1.8 0a1.8 1.8 0 1 0 3.6 0a1.8 1.8 0 1 0 -3.6 0M68.5 55.8m-1.3 0a1.3 1.3 0 1 0 2.6 0a1.3 1.3 0 1 0 -2.6 0M7.4 34.9m-1.9 0a1.9 1.9 0 1 0 3.8 0a1.9 1.9 0 1 0 -3.8 0M20.4 60.7m-1.1 0a1.1 1.1 0 1 0 2.3 0a1.1 1.1 0 1 0 -2.3 0M63.3 2.2m-1.3 0a1.3 1.3 0 1 0 2.6 0a1.3 1.3 0 1 0 -2.6 0M62.8 54.6m-1.9 0a1.9 1.9 0 1 0 3.8 0a1.9 1.9 0 1 0 -3.8 0M58.4 50.7m-1.7 0a1.7 1.7 0 1 0 3.4 0a1.7 1.7 0 1 0 -3.4 0M12.4 29.4m-1.2 0a1.2 1.2 0 1 0 2.3 0a1.2 1.2 0 1 0 -2.3 0M49.7 45.3m-1.3 0a1.3 1.3 0 1 0 2.5 0a1.3 1.3 0 1 0 -2.5 0M4.5 65.4m-1.8 0a1.8 1.8 0 1 0 3.6 0a1.8 1.8 0 1 0 -3.6 0M38.2 36.8m-1.9 0a1.9 1.9 0 1 0 3.7 0a1.9 1.9 0 1 0 -3.7 0M31.5 26.9m-1.3 0a1.3 1.3 0 1 0 2.7 0a1.3 1.3 0 1 0 -2.7 0M17.9 1.7m-1.6 0a1.6 1.6 0 1 0 3.3 0a1.6 1.6 0 1 0 -3.3 0M29.0 38.7m-1.1 0a1.1 1.1 0 1 0 2.1 0a1.1 1.1 0 1 0 -2.1 0M24.7 9.4m-1.1 0a1.1 1.1 0 1 0 2.3 0a1.1 1.1 0 1 0 -2.3 0M18.0 56.3m-1.4 0a1.4 1.4 0 1 0 2.8 0a1.4 1.4 0 1 0 -2.8 0M27.9 41.6m-1.2 0a1.2 1.2 0 1 0 2.5 0a1.2 1.2 0 1 0 -2.5 0M0.5 35.9m-1.5 0a1.5 1.5 0 1 0 3.0 0a1.5 1.5 0 1 0 -3.0 0M45.1 29.8m-1.7 0a1.7 1.7 0 1 0 3.4 0a1.7 1.7 0 1 0 -3.4 0M50.8 16.2m-1.5 0a1.5 1.5 0 1 0 3.0 0a1.5 1.5 0 1 0 -3.0 0M33.3 15.3m-1.4 0a1.4 1.4 0 1 0 2.8 0a1.4 1.4 0 1 0 -2.8 0M38.9 61.6m-1.9 0a1.9 1.9 0 1 0 3.8 0a1.9 1.9 0 1 0 -3.8 0M19.1 43.9m-1.0 0a1.0 1.0 0 1 0 2.1 0a1.0 1.0 0 1 0 -2.1 0M5.0 34.7m-1.9 0a1.9 1.9 0 1 0 3.8 0a1.9 1.9 0 1 0 -3.8 0M11.1 52.0m-1.9 0a1.9 1.9 0 1 0 3.8 0a1.9 1.9 0 1 0 -3.8 0M21.7 47.0m-1.8 0a1.8 1.8 0 1 0 3.7 0a1.8 1.8 0 1 0 -3.7 0M25.8 47.6m-1.7 0a1.7 1.7 0 1 0 3.5 0a1.7 1.7 0 1 0 -3.5 0M41.3 58.1m-1.9 0a1.9 1.9 0 1 0 3.8 0a1.9 1.9 0 1 0 -3.8 0M66.7 38.8m-1.2 0a1.2 1.2 0 1 0 2.4 0a1.2 1.2 0 1 0 -2.4 0M17.4 14.8m-1.6 0a1.6 1.6 0 1 0 3.1 0a1.6 1.6 0 1 0 -3.1 0M52.7 3.5m-1.7 0a1.7 1.7 0 1 0 3.4 0a1.7 1.7 0 1 0 -3.4 0M49.8 23.6m-1.5 0a1.5 1.5 0 1 0 3.0 0a1.5 1.5 0 1 0 -3.0 0M11.5 49.6m-1.0 0a1.0 1.0 0 1 0 2.1 0a1.0 1.0 0 1 0 -2.1 0M68.2 54.9m-1.6 0a1.6 1.6 0 1 0 3.3 0a1.6 1.6 0 1 0 -3.3 0M18.6 62.0m-2.0 0a2.0 2.0 0 1 0 3.9 0a2.0 2.0 0 1 0 -3.9 0M9.7 52.7m-1.8 0a1.8 1.8 0 1 0 3.7 0a1.8 1.8 0 1 0 -3.7 0M45.9 47.6m-1.4 0a1.4 1.4 0 1 0 2.9 0a1.4 1.4 0 1 0 -2.9 0M64.2 65.9m-1.4 0a1.4 1.4 0 1 0 2.8 0a1.4 1.4 0 1 0 -2.8 0M55.8 29.4m-1.2 0a1.2 1.2 0 1 0 2.3 0a1.2 1.2 0 1 0 -2.3 0M22.6 8.6m-1.9 0a1.9 1.9 0 1 0 3.8 0a1.9 1.9 0 1 0 -3.8 0M66.7 8.1m-1.6 0a1.6 1.6 0 1 0 3.2 0a1.6 1.6 0 1 0 -3.2 0M28.4 8.0m-1.3 0a1.3 1.3 0 1 0 2.6 0a1.3 1.3 0 1 0 -2.6 0M17.3 50.9m-1.0 0a1.0 1.0 0 1 0 2.0 0a1.0 1.0 0 1 0 -2.0 0M13.2 29.8m-1.0 0a1.0 1.0 0 1 0 2.0 0a1.0 1.0 0 1 0 -2.0 0M43.6 41.1m-1.8 0a1.8 1.8 0 1 0 3.7 0a1.8 1.8 0 1 0 -3.7 0M14.4 19.3m-1.5 0a1.5 1.5 0 1 0 3.1 0a1.5 1.5 0 1 0 -3.1 0M19.0 39.8m-1.3 0a1.3 1.3 0 1 0 2.5 0a1.3 1.3 0 1 0 -2.5 0M47.5 53.7m-1.8 0a1.8 1.8 0 1 0 3.6 0a1.8 1.8 0 1 0 -3.6 0M67.7 37.0m-1.5 0a1.5 1.5 0 1 0 3.0 0a1.5 1.5 0 1 0 -3.0 0M59.5 52.2m-1.6 0a1.6 1.6 0 1 0 3.1 0a1.6 1.6 0 1 0 -3.1 0M26.6 19.3m-1.1 0a1.1 1.1 0 1 0 2.2 0a1.1 1.1 0 1 0 -2.2 0M56.1 8.0m-1.7 0a1.7 1.7 0 1 0 3.5 0a1.7 1.7 0 1 0 -3.5 0M37.9 65.5m-1.8 0a1.8 1.8 0 1 0 3.5 0a1.8 1.8 0 1 0 -3.5 0M67.7 9.3m-1.5 0a1.5 1.5 0 1 0 3.0 0a1.5 1.5 0 1 0 -3.0 0M39.8 21.1m-1.5 0a1.5 1.5 0 1 0 3.0 0a1.5 1.5 0 1 0 -3.0 0M24.8 35.9m-1.0 0a1.0 1.0 0 1 0 2.0 0a1.0 1.0 0 1 0 -2.0 0M30.7 30.5m-1.3 0a1.3 1.3 0 1 0 2.6 0a1.3 1.3 0 1 0 -2.6 0M27.8 53.2m-1.7 0a1.7 1.7 0 1 0 3.4 0a1.7 1.7 0 1 0 -3.4 0M34.2 44.0m-1.4 0a1.4 1.4 0 1 0 2.8 0a1.4 1.4 0 1 0 -2.8 0M14.2 0.3m-1.3 0a1.3 1.3 0 1 0 2.6 0a1.3 1.3 0 1 0 -2.6 0M41.6 59.9m-1.8 0a1.8 1.8 0 1 0 3.7 0a1.8 1.8 0 1 0 -3.7 0M35.5 67.0m-1.5 0a1.5 1.5 0 1 0 2.9 0a1.5 1.5 0 1 0 -2.9 0M58.0 27.8m-1.7 0a1.7 1.7 0 1 0 3.5 0a1.7 1.7 0 1 0 -3.5 0M68.6 20.7m-1.2 0a1.2 1.2 0 1 0 2.3 0a1.2 1.2 0 1 0 -2.3 0M43.1 36.1m-1.4 0a1.4 1.4 0 1 0 2.7 0a1.4 1.4 0 1 0 -2.7 0M0.2 26.4m-1.4 0a1.4 1.4 0 1 0 2.9 0a1.4 1.4 0 1 0 -2.9 0M28.2 58.5m-1.6 0a1.6 1.6 0 1 0 3.2 0a1.6 1.6 0 1 0 -3.2 0M51.0 61.0m-1.7 0a1.7 1.7 0 1 0 3.5 0a1.7 1.7 0 1 0 -3.5 0M34.2 50.6m-1.6 0a1.6 1.6 0 1 0 3.3 0a1.6 1.6 0 1 0 -3.3 0M45.1 42.8m-1.4 0a1.4 1.4 0 1 0 2.8 0a1.4 1.4 0 1 0 -2.8 0M43.7 43.0m-1.9 0a1.9 1.9 0 1 0 3.9 0a1.9 1.9 0 1 0 -3.9 0M54.4 57.5m-1.8 0a1.8 1.8 0 1 0 3.5 0a1.8 1.8 0 1 0 -3.5 0M56.7 41.1m-1.3 0a1.3 1.3 0 1 0 2.7 0a1.3 1.3 0 1 0 -2.7 0M18.4 48.1m-1.9 0a1.9 1.9 0 1 0 3.7 0a1.9 1.9 0 1 0 -3.7 0M37.8 10.3m-1.8 0a1.8 1.8 0 1 0 3.7 0a1.8 1.8 0 1 0 -3.7 0M33.7 31.7m-1.0 0a1.0 1.0 0 1 0 2.1 0a1.0 1.0 0 1 0 -2.1 0M35.5 50.6m-1.4 0a1.4 1.4 0 1 0 2.8 0a1.4 1.4 0 1 0 -2.8 0M24.7 44.6m-1.0 0a1.0 1.0 0 1 0 2.0 0a1.0 1.0 0 1 0 -2.0 0M35.2 64.2m-1.7 0a1.7 1.7 0 1 0 3.4 0a1.7 1.7 0 1 0 -3.4 0M27.9 46.8m-1.6 0a1.6 1.6 0 1 0 3.2 0a1.6 1.6 0 1 0 -3.2 0M14.5 14.1m-1.9 0a1.9 1.9 0 1 0 3.8 0a1.9 1.9 0 1 0 -3.8 0M18.7 5.1m-1.8 0a1.8 1.8 0 1 0 3.7 0a1.8 1.8 0 1 0 -3.7 0M36.4 25.0m-1.5 0a1.5 1.5 0 1 0 3.0 0a1.5 1.5 0 1 0 -3.0 0M51.2 11.4m-1.7 0a1.7 1.7 0 1 0 3.3 0a1.7 1.7 0 1 0 -3.3 0M49.6 55.3m-1.3 0a1.3 1.3 0 1 0 2.5 0a1.3 1.3 0 1 0 -2.5 0M42.4 15.8m-1.6 0a1.6 1.6 0 1 0 3.1 0a1.6 1.6 0 1 0 -3.1 0M12.0 53.6m-1.9 0a1.9 1.9 0 1 0 3.7 0a1.9 1.9 0 1 0 -3.7 0M22.9 15.1m-2.0 0a2.0 2.0 0 1 0 3.9 0a2.0 2.0 0 1 0 -3.9 0M49.1 57.3m-1.0 0a1.0 1.0 0 1 0 2.1 0a1.0 1.0 0 1 0 -2.1 0M62.5 42.3m-1.3 0a1.3 1.3 0 1 0 2.6 0a1.3 1.3 0 1 0 -2.6 0M30.0 51.7m-1.8 0a1.8 1.8 0 1 0 3.6 0a1.8 1.8 0 1 0 -3.6 0M13.2 42.5m-1.2 0a1.2 1.2 0 1 0 2.3 0a1.2 1.2 0 1 0 -2.3 0M67.6 30.1m-1.9 0a1.9 1.9 0 1 0 3.8 0a1.9 1.9 0 1 0 -3.8 0M50.6 41.2m-1.3 0a1.3 1.3 0 1 0 2.5 0a1.3 1.3 0 1 0 -2.5 0M36.6 9.4m-1.1 0a1.1 1.1 0 1 0 2.3 0a1.1 1.1 0 1 0 -2.3 0M49.7 24.5m-1.8 0a1.8 1.8 0 1 0 3.5 0a1.8 1.8 0 1 0 -3.5 0M16.7 48.8m-1.7 0a1.7 1.7 0 1 0 3.4 0a1.7 1.7 0 1 0 -3.4 0M21.2 7.2m-1.4 0a1.4 1.4 0 1 0 2.8 0a1.4 1.4 0 1 0 -2.8 0M34.2 6.8m-1.2 0a1.2 1.2 0 1 0 2.4 0a1.2 1.2 0 1 0 -2.4 0M3.8 40.6m-1.9 0a1.9 1.9 0 1 0 3.8 0a1.9 1.9 0 1 0 -3.8 0M15.1 2.4m-1.7 0a1.7 1.7 0 1 0 3.4 0a1.7 1.7 0 1 0 -3.4 0M56.6 65.5m-1.6 0a1.6 1.6 0 1 0 3.2 0a1.6 1.6 0 1 0 -3.2 0M23.8 56.9m-1.1 0a1.1 1.1 0 1 0 2.2 0a1.1 1.1 0 1 0 -2.2 0M48.1 6.5m-1.4 0a1.4 1.4 0 1 0 2.8 0a1.4 1.4 0 1 0 -2.8 0M34.4 25.7m-1.2 0a1.2 1.2 0 1 0 2.3 0a1.2 1.2 0 1 0 -2.3 0M16.1 55.7m-1.5 0a1.5 1.5 0 1 0 2.9 0a1.5 1.5 0 1 0 -2.9 0M40.3 14.4m-1.7 0a1.7 1.7 0 1 0 3.4 0a1.7 1.7 0 1 0 -3.4 0M22.9 40.3m-1.9 0a1.9 1.9 0 1 0 3.8 0a1.9 1.9 0 1 0 -3.8 0M69.1 3.1m-1.8 0a1.8 1.8 0 1 0 3.6 0a1.8 1.8 0 1 0 -3.6 0M59.6 21.7m-1.4 0a1.4 1.4 0 1 0 2.8 0a1.4 1.4 0 1 0 -2.8 0M40.3 62.4m-1.4 0a1.4 1.4 0 1 0 2.8 0a1.4 1.4 0 1 0 -2.8 0M61.2 51.5m-1.2 0a1.2 1.2 0 1 0 2.3 0a1.2 1.2 0 1 0 -2.3 0M63.5 1.0m-1.1 0a1.1 1.1 0 1 0 2.3 0a1.1 1.1 0 1 0 -2.3 0M46.2 3.9m-1.4 0a1.4 1.4 0 1 0 2.8 0a1.4 1.4 0 1 0 -2.8 0M9.0 31.4m-1.8 0a1.8 1.8 0 1 0 3.7 0a1.8 1.8 0 1 0 -3.7 0M63.0 2.4m-1.1 0a1.1 1.1 0 1 0 2.1 0a1.1 1.1 0 1 0 -2.1 0M58.4 2.9m-1.3 0a1.3 1.3 0 1 0 2.5 0a1.3 1.3 0 1 0 -2.5 0M8.2 6.2m-1.0 0a1.0 1.0 0 1 0 2.1 0a1.0 1.0 0 1 0 -2.1 0" fill="#2838b0" fill-opacity="0.5"/>
<ellipse cx="9.0" cy="50.9" rx="4.5" ry="7.8" transform="rotate(20 9.0 50.9)" fill="#080a24" fill-opacity="0.6"/>
<ellipse cx="38.2" cy="10.2" rx="5.2" ry="2.6" transform="rotate(30 38.2 10.2)" fill="#080a24" fill-opacity="0.6"/>
<path d="M2.2 4.3l-0.5 0.3M11.4 45.3l0.1 0.6M37.6 57.0l-0.1 0.6" stroke="#dc2034" stroke-width="3.0" stroke-linecap="round" stroke-opacity="0.90" fill="none"/>
<path d="M5.5 8.5l-0.6 0.1M3.7 11.7l-0.1 0.6M59.2 53.1l-0.0 0.6" stroke="#dc2034" stroke-width="2.9" stroke-linecap="round" stroke-opacity="0.90" fill="none"/>
<path d="M5.7 11.1l-0.4 0.1M15.3 1.4l0.4 0.1M31.5 31.1l-0.3 0.2" stroke="#dc2034" stroke-width="1.9" stroke-linecap="round" stroke-opacity="0.90" fill="none"/>
<path d="M6.2 16.2l0.1 0.5M60.0 38.0l0.2 0.4" stroke="#dc2034" stroke-width="2.4" stroke-linecap="round" stroke-opacity="0.90" fill="none"/>
<path d="M12.3 36.3l-0.3 0.4M15.3 19.9l0.5 0.2" stroke="#dc2034" stroke-width="2.6" stroke-linecap="round" stroke-opacity="0.90" fill="none"/>
<path d="M6.3 0.7l-0.4 0.4M19.5 48.9l0.3 0.5" stroke="#dc2034" stroke-width="3.1" stroke-linecap="round" stroke-opacity="0.90" fill="none"/>
<path d="M8.4 44.3l-0.4 0.1" stroke="#dc2034" stroke-width="2.1" stroke-linecap="round" stroke-opacity="0.90" fill="none"/>
<path d="M11.2 6.6l-0.5 0.0M56.2 19.6l-0.3 0.4" stroke="#dc2034" stroke-width="2.5" stroke-linecap="round" stroke-opacity="0.90" fill="none"/>
<path d="M0.6 26.5l0.7 0.1" stroke="#dc2034" stroke-width="3.4" stroke-linecap="round" stroke-opacity="0.90" fill="none"/>
<path d="M11.0 46.9l0.6 0.2M11.6 53.9l-0.6 0.1M7.1 45.5l-0.4 0.5" stroke="#dc2034" stroke-width="3.2" stroke-linecap="round" stroke-opacity="0.90" fill="none"/>
<path d="M21.5 57.8l-0.6 0.3M23.6 46.3l-0.4 0.5M1.2 43.5l0.4 0.5M75.3 8.7l-0.6 0.2M48.6 41.0l-0.3 0.6" stroke="#dc2034" stroke-width="3.3" stroke-linecap="round" stroke-opacity="0.90" fill="none"/>
<path d="M11.8 55.2l-0.1 0.4" stroke="#dc2034" stroke-width="2.2" stroke-linecap="round" stroke-opacity="0.90" fill="none"/>
<path d="M48.9 28.3l0.5 0.2M31.1 34.9l-0.0 0.5M77.4 32.0l-0.5 0.1" stroke="#dc2034" stroke-width="2.7" stroke-linecap="round" stroke-opacity="0.90" fill="none"/>
<path d="M34.5 13.1l0.2 0.4" stroke="#dc2034" stroke-width="2.3" stroke-linecap="round" stroke-opacity="0.90" fill="none"/>
<path d="M50.6 49.1l-0.0 0.4" stroke="#dc2034" stroke-width="2.0" stroke-linecap="round" stroke-opacity="0.90" fill="none"/>
<path d="M34.7 48.3l-0.3 0.6" stroke="#dc2034" stroke-width="3.5" stroke-linecap="round" stroke-opacity="0.90" fill="none"/>
<path d="M25.6 57.8l-0.1 0.7" stroke="#dc2034" stroke-width="3.6" stroke-linecap="round" stroke-opacity="0.90" fill="none"/>
<path d="M52.0 39.4l0.4 0.4" stroke="#dc2034" stroke-width="2.8" stroke-linecap="round" stroke-opacity="0.90" fill="none"/>
<path d="M71.5 104.3l0.1 0.3" stroke="#c83a8a" stroke-width="1.6" stroke-linecap="round" stroke-opacity="0.70" fill="none"/>
<path d="M71.2 -17.6l-0.4 0.1" stroke="#c83a8a" stroke-width="2.0" stroke-linecap="round" stroke-opacity="0.70" fill="none"/>
<path d="M-30.7 -12.6l0.1 0.6M-5.6 37.1l-0.5 0.3M24.8 27.9l0.1 0.6M59.7 57.0l-0.4 0.4" stroke="#c83a8a" stroke-width="2.8" stroke-linecap="round" stroke-opacity="0.70" fill="none"/>
<path d="M12.4 -11.0l-0.5 0.3" stroke="#c83a8a" stroke-width="2.9" stroke-linecap="round" stroke-opacity="0.70" fill="none"/>
<path d="M23.4 -38.8l0.4 0.4" stroke="#c83a8a" stroke-width="3.0" stroke-linecap="round" stroke-opacity="0.70" fill="none"/>
<path d="M54.7 96.9l-0.0 0.5" stroke="#c83a8a" stroke-width="2.7" stroke-linecap="round" stroke-opacity="0.70" fill="none"/>
<path d="M47.0 65.3l0.5 0.0" stroke="#c83a8a" stroke-width="2.6" stroke-linecap="round" stroke-opacity="0.70" fill="none"/>
<path d="M10.8 58.9l-0.3 2.1M4.0 60.8l-2.1 0.2" stroke="#48c4bc" stroke-width="2.1" stroke-linecap="round" stroke-opacity="0.85" fill="none"/>
<path d="M4.5 59.9l-2.5 0.4" stroke="#48c4bc" stroke-width="2.5" stroke-linecap="round" stroke-opacity="0.85" fill="none"/>
<path d="M2.9 64.3l1.0 1.4" stroke="#48c4bc" stroke-width="1.7" stroke-linecap="round" stroke-opacity="0.85" fill="none"/>
<path d="M10.1 66.2l-1.9 2.1" stroke="#48c4bc" stroke-width="2.8" stroke-linecap="round" stroke-opacity="0.85" fill="none"/>
<path d="M5.2 59.0l-1.8 0.4M11.3 33.8l0.5 1.7" stroke="#48c4bc" stroke-width="1.8" stroke-linecap="round" stroke-opacity="0.85" fill="none"/>
<path d="M21.1 29.1l-2.6 0.6" stroke="#48c4bc" stroke-width="2.6" stroke-linecap="round" stroke-opacity="0.85" fill="none"/>
<path d="M17.5 29.3l-1.6 1.2" stroke="#48c4bc" stroke-width="1.9" stroke-linecap="round" stroke-opacity="0.85" fill="none"/>
<path d="M7.6 39.1l1.0 1.7" stroke="#48c4bc" stroke-width="2.0" stroke-linecap="round" stroke-opacity="0.85" fill="none"/>
<path d="M14.0 51.0l-0.9 0.5" stroke="#36b04e" stroke-width="1.3" stroke-linecap="round" stroke-opacity="0.80" fill="none"/>
<path d="M6.3 48.1l1.2 1.3" stroke="#36b04e" stroke-width="2.2" stroke-linecap="round" stroke-opacity="0.80" fill="none"/>
<path d="M2.1 49.5l0.3 1.4" stroke="#36b04e" stroke-width="1.8" stroke-linecap="round" stroke-opacity="0.80" fill="none"/>
<path d="M11.4 44.5l0.0 1.5" stroke="#36b04e" stroke-width="1.9" stroke-linecap="round" stroke-opacity="0.80" fill="none"/>
</svg>
<text x="644.1" y="259.8" font-size="8.30" fill="#ffffff" font-weight="bold" style="stroke:none">NSCLC</text>
<text x="684.5" y="281.5" font-size="8.30" text-anchor="middle" fill="#ffffff" font-weight="bold" style="stroke:none">HLA-DR<tspan font-size="4.57" dy="-2.99">+</tspan></text>
<text x="684.5" y="290.1" font-size="8.30" text-anchor="middle" fill="#ffffff" font-weight="bold" style="stroke:none">NEU</text>
<rect x="689.60" y="299.40" width="15.50" height="15.00" fill="#3a2a8a"/>
<circle cx="697.6" cy="306.9" r="5.00" fill="#c0307a"/>
<circle cx="695.6" cy="305.4" r="1.80" fill="#50c050"/>
<circle cx="699.6" cy="308.4" r="1.60" fill="#50c050"/>
<circle cx="694.6" cy="309.4" r="1.50" fill="#e03040"/>
<rect x="689.60" y="299.40" width="15.50" height="15.00" fill="none" stroke="#d8d8d8" stroke-width="0.70"/>
<svg x="708.90" y="249.00" width="68.80" height="67.90" viewBox="0 0 68.80 67.90" overflow="hidden">
<rect x="0.00" y="0.00" width="68.80" height="67.90" fill="#131a58"/>
<path d="M65.8 64.4m-1.1 0a1.1 1.1 0 1 0 2.1 0a1.1 1.1 0 1 0 -2.1 0M5.8 56.7m-1.7 0a1.7 1.7 0 1 0 3.5 0a1.7 1.7 0 1 0 -3.5 0M46.1 20.9m-1.6 0a1.6 1.6 0 1 0 3.2 0a1.6 1.6 0 1 0 -3.2 0M41.7 39.5m-1.2 0a1.2 1.2 0 1 0 2.3 0a1.2 1.2 0 1 0 -2.3 0M29.6 26.7m-1.7 0a1.7 1.7 0 1 0 3.4 0a1.7 1.7 0 1 0 -3.4 0M68.4 64.5m-1.5 0a1.5 1.5 0 1 0 3.1 0a1.5 1.5 0 1 0 -3.1 0M30.6 18.2m-1.0 0a1.0 1.0 0 1 0 2.1 0a1.0 1.0 0 1 0 -2.1 0M1.9 31.6m-1.3 0a1.3 1.3 0 1 0 2.6 0a1.3 1.3 0 1 0 -2.6 0M26.1 60.6m-1.5 0a1.5 1.5 0 1 0 3.1 0a1.5 1.5 0 1 0 -3.1 0M38.6 16.0m-1.0 0a1.0 1.0 0 1 0 2.0 0a1.0 1.0 0 1 0 -2.0 0M22.4 9.3m-1.5 0a1.5 1.5 0 1 0 3.0 0a1.5 1.5 0 1 0 -3.0 0M68.7 45.8m-1.2 0a1.2 1.2 0 1 0 2.4 0a1.2 1.2 0 1 0 -2.4 0M61.5 54.1m-1.7 0a1.7 1.7 0 1 0 3.5 0a1.7 1.7 0 1 0 -3.5 0M62.4 51.8m-1.8 0a1.8 1.8 0 1 0 3.6 0a1.8 1.8 0 1 0 -3.6 0M24.3 66.6m-2.0 0a2.0 2.0 0 1 0 3.9 0a2.0 2.0 0 1 0 -3.9 0M11.1 51.2m-1.7 0a1.7 1.7 0 1 0 3.4 0a1.7 1.7 0 1 0 -3.4 0M31.7 36.0m-1.5 0a1.5 1.5 0 1 0 3.0 0a1.5 1.5 0 1 0 -3.0 0M63.6 34.0m-1.8 0a1.8 1.8 0 1 0 3.7 0a1.8 1.8 0 1 0 -3.7 0M24.3 59.9m-1.9 0a1.9 1.9 0 1 0 3.8 0a1.9 1.9 0 1 0 -3.8 0M31.7 38.5m-1.9 0a1.9 1.9 0 1 0 3.8 0a1.9 1.9 0 1 0 -3.8 0M49.8 33.0m-1.2 0a1.2 1.2 0 1 0 2.4 0a1.2 1.2 0 1 0 -2.4 0M22.3 47.5m-1.2 0a1.2 1.2 0 1 0 2.3 0a1.2 1.2 0 1 0 -2.3 0M62.5 18.2m-1.9 0a1.9 1.9 0 1 0 3.8 0a1.9 1.9 0 1 0 -3.8 0M21.3 65.0m-1.7 0a1.7 1.7 0 1 0 3.4 0a1.7 1.7 0 1 0 -3.4 0M34.7 35.2m-1.7 0a1.7 1.7 0 1 0 3.3 0a1.7 1.7 0 1 0 -3.3 0M40.5 21.2m-1.2 0a1.2 1.2 0 1 0 2.4 0a1.2 1.2 0 1 0 -2.4 0M35.2 63.4m-1.6 0a1.6 1.6 0 1 0 3.2 0a1.6 1.6 0 1 0 -3.2 0M5.2 55.7m-1.7 0a1.7 1.7 0 1 0 3.5 0a1.7 1.7 0 1 0 -3.5 0M62.4 13.0m-1.7 0a1.7 1.7 0 1 0 3.5 0a1.7 1.7 0 1 0 -3.5 0M4.0 44.3m-1.3 0a1.3 1.3 0 1 0 2.5 0a1.3 1.3 0 1 0 -2.5 0M15.6 59.4m-1.1 0a1.1 1.1 0 1 0 2.2 0a1.1 1.1 0 1 0 -2.2 0M35.9 58.0m-1.2 0a1.2 1.2 0 1 0 2.5 0a1.2 1.2 0 1 0 -2.5 0M14.5 59.8m-1.4 0a1.4 1.4 0 1 0 2.8 0a1.4 1.4 0 1 0 -2.8 0M49.3 2.2m-1.4 0a1.4 1.4 0 1 0 2.7 0a1.4 1.4 0 1 0 -2.7 0M11.8 45.7m-1.1 0a1.1 1.1 0 1 0 2.2 0a1.1 1.1 0 1 0 -2.2 0M65.7 1.7m-1.7 0a1.7 1.7 0 1 0 3.5 0a1.7 1.7 0 1 0 -3.5 0M1.5 17.4m-1.8 0a1.8 1.8 0 1 0 3.6 0a1.8 1.8 0 1 0 -3.6 0M10.8 12.5m-1.7 0a1.7 1.7 0 1 0 3.4 0a1.7 1.7 0 1 0 -3.4 0M26.5 2.9m-2.0 0a2.0 2.0 0 1 0 4.0 0a2.0 2.0 0 1 0 -4.0 0M10.4 2.5m-1.3 0a1.3 1.3 0 1 0 2.7 0a1.3 1.3 0 1 0 -2.7 0M42.3 50.4m-1.1 0a1.1 1.1 0 1 0 2.2 0a1.1 1.1 0 1 0 -2.2 0M23.2 2.1m-1.4 0a1.4 1.4 0 1 0 2.9 0a1.4 1.4 0 1 0 -2.9 0M52.7 50.2m-1.9 0a1.9 1.9 0 1 0 3.8 0a1.9 1.9 0 1 0 -3.8 0M52.0 58.6m-1.7 0a1.7 1.7 0 1 0 3.4 0a1.7 1.7 0 1 0 -3.4 0M32.5 15.3m-1.7 0a1.7 1.7 0 1 0 3.3 0a1.7 1.7 0 1 0 -3.3 0M21.8 6.9m-1.4 0a1.4 1.4 0 1 0 2.9 0a1.4 1.4 0 1 0 -2.9 0M60.2 8.7m-1.6 0a1.6 1.6 0 1 0 3.2 0a1.6 1.6 0 1 0 -3.2 0M27.0 35.0m-1.1 0a1.1 1.1 0 1 0 2.3 0a1.1 1.1 0 1 0 -2.3 0M66.0 17.6m-1.6 0a1.6 1.6 0 1 0 3.2 0a1.6 1.6 0 1 0 -3.2 0M28.9 1.2m-1.6 0a1.6 1.6 0 1 0 3.1 0a1.6 1.6 0 1 0 -3.1 0M9.7 3.9m-1.0 0a1.0 1.0 0 1 0 2.1 0a1.0 1.0 0 1 0 -2.1 0M11.1 6.5m-1.6 0a1.6 1.6 0 1 0 3.3 0a1.6 1.6 0 1 0 -3.3 0M35.0 66.8m-1.9 0a1.9 1.9 0 1 0 3.9 0a1.9 1.9 0 1 0 -3.9 0M68.4 15.8m-1.4 0a1.4 1.4 0 1 0 2.9 0a1.4 1.4 0 1 0 -2.9 0M17.3 40.1m-1.6 0a1.6 1.6 0 1 0 3.2 0a1.6 1.6 0 1 0 -3.2 0M55.1 48.2m-1.3 0a1.3 1.3 0 1 0 2.5 0a1.3 1.3 0 1 0 -2.5 0M29.1 35.7m-1.0 0a1.0 1.0 0 1 0 2.0 0a1.0 1.0 0 1 0 -2.0 0M2.4 27.8m-1.1 0a1.1 1.1 0 1 0 2.2 0a1.1 1.1 0 1 0 -2.2 0M49.8 16.4m-1.1 0a1.1 1.1 0 1 0 2.2 0a1.1 1.1 0 1 0 -2.2 0M12.5 15.7m-1.2 0a1.2 1.2 0 1 0 2.4 0a1.2 1.2 0 1 0 -2.4 0M35.8 31.5m-1.3 0a1.3 1.3 0 1 0 2.6 0a1.3 1.3 0 1 0 -2.6 0M44.2 14.4m-1.9 0a1.9 1.9 0 1 0 3.8 0a1.9 1.9 0 1 0 -3.8 0M66.3 49.5m-1.4 0a1.4 1.4 0 1 0 2.9 0a1.4 1.4 0 1 0 -2.9 0M35.2 39.5m-1.1 0a1.1 1.1 0 1 0 2.1 0a1.1 1.1 0 1 0 -2.1 0M28.8 35.7m-1.2 0a1.2 1.2 0 1 0 2.4 0a1.2 1.2 0 1 0 -2.4 0M6.5 54.5m-1.4 0a1.4 1.4 0 1 0 2.7 0a1.4 1.4 0 1 0 -2.7 0M35.7 62.6m-1.6 0a1.6 1.6 0 1 0 3.2 0a1.6 1.6 0 1 0 -3.2 0M19.9 66.8m-1.4 0a1.4 1.4 0 1 0 2.7 0a1.4 1.4 0 1 0 -2.7 0M1.3 46.5m-1.1 0a1.1 1.1 0 1 0 2.2 0a1.1 1.1 0 1 0 -2.2 0M21.0 57.1m-1.7 0a1.7 1.7 0 1 0 3.3 0a1.7 1.7 0 1 0 -3.3 0M1.1 30.7m-1.4 0a1.4 1.4 0 1 0 2.8 0a1.4 1.4 0 1 0 -2.8 0M33.4 14.1m-1.6 0a1.6 1.6 0 1 0 3.2 0a1.6 1.6 0 1 0 -3.2 0M5.1 19.3m-1.4 0a1.4 1.4 0 1 0 2.7 0a1.4 1.4 0 1 0 -2.7 0M64.3 5.2m-1.8 0a1.8 1.8 0 1 0 3.5 0a1.8 1.8 0 1 0 -3.5 0M13.2 38.8m-1.4 0a1.4 1.4 0 1 0 2.8 0a1.4 1.4 0 1 0 -2.8 0M31.9 51.2m-1.4 0a1.4 1.4 0 1 0 2.8 0a1.4 1.4 0 1 0 -2.8 0M8.4 8.3m-1.1 0a1.1 1.1 0 1 0 2.2 0a1.1 1.1 0 1 0 -2.2 0M58.5 43.5m-2.0 0a2.0 2.0 0 1 0 3.9 0a2.0 2.0 0 1 0 -3.9 0M47.7 1.7m-1.7 0a1.7 1.7 0 1 0 3.3 0a1.7 1.7 0 1 0 -3.3 0M53.5 49.1m-1.5 0a1.5 1.5 0 1 0 3.0 0a1.5 1.5 0 1 0 -3.0 0M24.6 31.0m-1.8 0a1.8 1.8 0 1 0 3.6 0a1.8 1.8 0 1 0 -3.6 0M18.5 35.7m-1.5 0a1.5 1.5 0 1 0 3.0 0a1.5 1.5 0 1 0 -3.0 0M65.7 54.6m-1.9 0a1.9 1.9 0 1 0 3.9 0a1.9 1.9 0 1 0 -3.9 0M57.5 20.2m-1.2 0a1.2 1.2 0 1 0 2.5 0a1.2 1.2 0 1 0 -2.5 0M33.6 17.6m-1.4 0a1.4 1.4 0 1 0 2.9 0a1.4 1.4 0 1 0 -2.9 0M46.7 62.4m-1.6 0a1.6 1.6 0 1 0 3.2 0a1.6 1.6 0 1 0 -3.2 0M56.3 6.5m-1.4 0a1.4 1.4 0 1 0 2.7 0a1.4 1.4 0 1 0 -2.7 0M68.6 9.9m-1.4 0a1.4 1.4 0 1 0 2.8 0a1.4 1.4 0 1 0 -2.8 0M4.6 5.8m-1.9 0a1.9 1.9 0 1 0 3.8 0a1.9 1.9 0 1 0 -3.8 0M68.0 44.0m-1.1 0a1.1 1.1 0 1 0 2.3 0a1.1 1.1 0 1 0 -2.3 0M20.4 15.7m-1.7 0a1.7 1.7 0 1 0 3.3 0a1.7 1.7 0 1 0 -3.3 0M46.9 29.8m-1.5 0a1.5 1.5 0 1 0 3.0 0a1.5 1.5 0 1 0 -3.0 0M7.7 36.7m-1.9 0a1.9 1.9 0 1 0 3.9 0a1.9 1.9 0 1 0 -3.9 0M52.0 6.5m-1.5 0a1.5 1.5 0 1 0 3.0 0a1.5 1.5 0 1 0 -3.0 0M49.2 17.5m-1.9 0a1.9 1.9 0 1 0 3.8 0a1.9 1.9 0 1 0 -3.8 0M31.7 47.7m-1.4 0a1.4 1.4 0 1 0 2.8 0a1.4 1.4 0 1 0 -2.8 0M68.5 53.2m-1.6 0a1.6 1.6 0 1 0 3.1 0a1.6 1.6 0 1 0 -3.1 0M10.0 30.0m-1.0 0a1.0 1.0 0 1 0 2.1 0a1.0 1.0 0 1 0 -2.1 0M40.9 59.9m-1.2 0a1.2 1.2 0 1 0 2.4 0a1.2 1.2 0 1 0 -2.4 0M35.1 32.8m-1.4 0a1.4 1.4 0 1 0 2.8 0a1.4 1.4 0 1 0 -2.8 0M48.9 63.6m-1.7 0a1.7 1.7 0 1 0 3.4 0a1.7 1.7 0 1 0 -3.4 0M32.5 65.3m-1.3 0a1.3 1.3 0 1 0 2.7 0a1.3 1.3 0 1 0 -2.7 0M51.3 44.7m-1.8 0a1.8 1.8 0 1 0 3.5 0a1.8 1.8 0 1 0 -3.5 0M58.6 15.3m-1.6 0a1.6 1.6 0 1 0 3.2 0a1.6 1.6 0 1 0 -3.2 0M27.7 45.3m-2.0 0a2.0 2.0 0 1 0 4.0 0a2.0 2.0 0 1 0 -4.0 0M43.7 0.8m-1.5 0a1.5 1.5 0 1 0 2.9 0a1.5 1.5 0 1 0 -2.9 0M49.0 60.0m-1.7 0a1.7 1.7 0 1 0 3.3 0a1.7 1.7 0 1 0 -3.3 0M56.1 1.2m-1.9 0a1.9 1.9 0 1 0 3.9 0a1.9 1.9 0 1 0 -3.9 0M50.2 41.2m-1.9 0a1.9 1.9 0 1 0 3.8 0a1.9 1.9 0 1 0 -3.8 0M60.9 6.8m-1.8 0a1.8 1.8 0 1 0 3.6 0a1.8 1.8 0 1 0 -3.6 0M52.8 13.5m-1.7 0a1.7 1.7 0 1 0 3.5 0a1.7 1.7 0 1 0 -3.5 0M40.3 13.0m-1.8 0a1.8 1.8 0 1 0 3.6 0a1.8 1.8 0 1 0 -3.6 0M9.5 41.6m-1.4 0a1.4 1.4 0 1 0 2.9 0a1.4 1.4 0 1 0 -2.9 0M17.5 38.4m-1.5 0a1.5 1.5 0 1 0 2.9 0a1.5 1.5 0 1 0 -2.9 0M14.1 65.6m-1.1 0a1.1 1.1 0 1 0 2.1 0a1.1 1.1 0 1 0 -2.1 0M0.2 33.0m-1.8 0a1.8 1.8 0 1 0 3.7 0a1.8 1.8 0 1 0 -3.7 0M45.3 51.2m-1.5 0a1.5 1.5 0 1 0 3.0 0a1.5 1.5 0 1 0 -3.0 0M46.4 22.7m-1.3 0a1.3 1.3 0 1 0 2.5 0a1.3 1.3 0 1 0 -2.5 0M34.6 1.9m-1.1 0a1.1 1.1 0 1 0 2.2 0a1.1 1.1 0 1 0 -2.2 0M51.9 11.8m-1.8 0a1.8 1.8 0 1 0 3.5 0a1.8 1.8 0 1 0 -3.5 0M54.0 27.5m-1.7 0a1.7 1.7 0 1 0 3.3 0a1.7 1.7 0 1 0 -3.3 0M54.2 58.7m-1.1 0a1.1 1.1 0 1 0 2.3 0a1.1 1.1 0 1 0 -2.3 0M11.2 25.9m-1.5 0a1.5 1.5 0 1 0 2.9 0a1.5 1.5 0 1 0 -2.9 0M20.3 0.7m-1.6 0a1.6 1.6 0 1 0 3.1 0a1.6 1.6 0 1 0 -3.1 0M66.5 24.9m-1.5 0a1.5 1.5 0 1 0 3.1 0a1.5 1.5 0 1 0 -3.1 0M26.3 30.1m-1.9 0a1.9 1.9 0 1 0 3.7 0a1.9 1.9 0 1 0 -3.7 0M21.2 44.1m-1.5 0a1.5 1.5 0 1 0 3.0 0a1.5 1.5 0 1 0 -3.0 0M37.1 62.1m-1.1 0a1.1 1.1 0 1 0 2.2 0a1.1 1.1 0 1 0 -2.2 0M56.7 20.7m-1.6 0a1.6 1.6 0 1 0 3.3 0a1.6 1.6 0 1 0 -3.3 0M54.8 44.4m-1.4 0a1.4 1.4 0 1 0 2.8 0a1.4 1.4 0 1 0 -2.8 0M57.8 6.3m-1.6 0a1.6 1.6 0 1 0 3.3 0a1.6 1.6 0 1 0 -3.3 0M26.9 36.0m-1.9 0a1.9 1.9 0 1 0 3.7 0a1.9 1.9 0 1 0 -3.7 0M54.9 42.7m-1.3 0a1.3 1.3 0 1 0 2.6 0a1.3 1.3 0 1 0 -2.6 0M16.0 31.1m-1.2 0a1.2 1.2 0 1 0 2.5 0a1.2 1.2 0 1 0 -2.5 0M19.1 65.0m-1.1 0a1.1 1.1 0 1 0 2.2 0a1.1 1.1 0 1 0 -2.2 0M56.3 25.7m-1.4 0a1.4 1.4 0 1 0 2.7 0a1.4 1.4 0 1 0 -2.7 0M21.9 5.3m-1.5 0a1.5 1.5 0 1 0 2.9 0a1.5 1.5 0 1 0 -2.9 0M11.5 30.0m-1.3 0a1.3 1.3 0 1 0 2.6 0a1.3 1.3 0 1 0 -2.6 0M61.5 62.6m-1.4 0a1.4 1.4 0 1 0 2.9 0a1.4 1.4 0 1 0 -2.9 0M44.0 63.1m-1.3 0a1.3 1.3 0 1 0 2.7 0a1.3 1.3 0 1 0 -2.7 0M6.8 16.1m-1.2 0a1.2 1.2 0 1 0 2.4 0a1.2 1.2 0 1 0 -2.4 0M46.7 25.4m-1.4 0a1.4 1.4 0 1 0 2.7 0a1.4 1.4 0 1 0 -2.7 0M54.7 15.8m-1.8 0a1.8 1.8 0 1 0 3.6 0a1.8 1.8 0 1 0 -3.6 0M43.5 27.2m-1.8 0a1.8 1.8 0 1 0 3.6 0a1.8 1.8 0 1 0 -3.6 0M23.5 59.7m-1.9 0a1.9 1.9 0 1 0 3.9 0a1.9 1.9 0 1 0 -3.9 0M34.6 46.8m-1.9 0a1.9 1.9 0 1 0 3.9 0a1.9 1.9 0 1 0 -3.9 0M51.1 51.0m-1.9 0a1.9 1.9 0 1 0 3.7 0a1.9 1.9 0 1 0 -3.7 0M64.4 51.2m-2.0 0a2.0 2.0 0 1 0 4.0 0a2.0 2.0 0 1 0 -4.0 0M20.1 42.3m-1.7 0a1.7 1.7 0 1 0 3.3 0a1.7 1.7 0 1 0 -3.3 0M25.3 26.8m-1.2 0a1.2 1.2 0 1 0 2.3 0a1.2 1.2 0 1 0 -2.3 0M65.9 24.0m-1.5 0a1.5 1.5 0 1 0 3.0 0a1.5 1.5 0 1 0 -3.0 0M61.5 12.7m-2.0 0a2.0 2.0 0 1 0 3.9 0a2.0 2.0 0 1 0 -3.9 0M8.7 1.9m-1.4 0a1.4 1.4 0 1 0 2.7 0a1.4 1.4 0 1 0 -2.7 0M24.7 62.3m-1.9 0a1.9 1.9 0 1 0 3.8 0a1.9 1.9 0 1 0 -3.8 0M52.4 29.6m-1.5 0a1.5 1.5 0 1 0 3.1 0a1.5 1.5 0 1 0 -3.1 0M16.3 56.6m-1.4 0a1.4 1.4 0 1 0 2.8 0a1.4 1.4 0 1 0 -2.8 0M19.6 43.3m-1.2 0a1.2 1.2 0 1 0 2.3 0a1.2 1.2 0 1 0 -2.3 0M21.8 62.9m-1.1 0a1.1 1.1 0 1 0 2.2 0a1.1 1.1 0 1 0 -2.2 0M9.8 13.9m-1.3 0a1.3 1.3 0 1 0 2.5 0a1.3 1.3 0 1 0 -2.5 0M28.9 17.0m-1.3 0a1.3 1.3 0 1 0 2.7 0a1.3 1.3 0 1 0 -2.7 0M17.0 16.3m-1.6 0a1.6 1.6 0 1 0 3.2 0a1.6 1.6 0 1 0 -3.2 0M23.1 25.3m-1.8 0a1.8 1.8 0 1 0 3.5 0a1.8 1.8 0 1 0 -3.5 0M4.2 9.8m-1.9 0a1.9 1.9 0 1 0 3.7 0a1.9 1.9 0 1 0 -3.7 0M29.6 52.9m-1.1 0a1.1 1.1 0 1 0 2.3 0a1.1 1.1 0 1 0 -2.3 0M36.0 57.4m-1.3 0a1.3 1.3 0 1 0 2.7 0a1.3 1.3 0 1 0 -2.7 0M52.9 41.4m-1.4 0a1.4 1.4 0 1 0 2.8 0a1.4 1.4 0 1 0 -2.8 0M68.6 26.6m-1.5 0a1.5 1.5 0 1 0 2.9 0a1.5 1.5 0 1 0 -2.9 0M42.6 21.5m-1.8 0a1.8 1.8 0 1 0 3.7 0a1.8 1.8 0 1 0 -3.7 0M41.1 39.9m-1.5 0a1.5 1.5 0 1 0 3.1 0a1.5 1.5 0 1 0 -3.1 0M67.8 67.1m-1.8 0a1.8 1.8 0 1 0 3.7 0a1.8 1.8 0 1 0 -3.7 0M31.3 28.0m-1.5 0a1.5 1.5 0 1 0 3.0 0a1.5 1.5 0 1 0 -3.0 0M3.2 7.4m-2.0 0a2.0 2.0 0 1 0 4.0 0a2.0 2.0 0 1 0 -4.0 0M8.8 63.6m-1.7 0a1.7 1.7 0 1 0 3.4 0a1.7 1.7 0 1 0 -3.4 0M63.0 5.3m-1.3 0a1.3 1.3 0 1 0 2.6 0a1.3 1.3 0 1 0 -2.6 0M54.9 0.6m-1.1 0a1.1 1.1 0 1 0 2.2 0a1.1 1.1 0 1 0 -2.2 0M24.1 11.8m-1.1 0a1.1 1.1 0 1 0 2.3 0a1.1 1.1 0 1 0 -2.3 0M46.1 6.2m-2.0 0a2.0 2.0 0 1 0 3.9 0a2.0 2.0 0 1 0 -3.9 0M44.7 3.4m-1.9 0a1.9 1.9 0 1 0 3.8 0a1.9 1.9 0 1 0 -3.8 0M16.6 32.7m-1.6 0a1.6 1.6 0 1 0 3.1 0a1.6 1.6 0 1 0 -3.1 0M9.5 34.1m-1.1 0a1.1 1.1 0 1 0 2.1 0a1.1 1.1 0 1 0 -2.1 0M13.7 62.4m-1.8 0a1.8 1.8 0 1 0 3.6 0a1.8 1.8 0 1 0 -3.6 0M36.0 46.3m-1.9 0a1.9 1.9 0 1 0 3.8 0a1.9 1.9 0 1 0 -3.8 0M9.6 33.4m-1.1 0a1.1 1.1 0 1 0 2.3 0a1.1 1.1 0 1 0 -2.3 0M8.0 7.3m-1.2 0a1.2 1.2 0 1 0 2.4 0a1.2 1.2 0 1 0 -2.4 0M3.7 14.6m-1.4 0a1.4 1.4 0 1 0 2.8 0a1.4 1.4 0 1 0 -2.8 0M42.8 58.3m-1.9 0a1.9 1.9 0 1 0 3.8 0a1.9 1.9 0 1 0 -3.8 0M49.4 34.4m-1.9 0a1.9 1.9 0 1 0 3.8 0a1.9 1.9 0 1 0 -3.8 0M11.2 7.2m-1.8 0a1.8 1.8 0 1 0 3.6 0a1.8 1.8 0 1 0 -3.6 0M43.1 14.3m-1.4 0a1.4 1.4 0 1 0 2.8 0a1.4 1.4 0 1 0 -2.8 0M20.5 29.3m-1.4 0a1.4 1.4 0 1 0 2.9 0a1.4 1.4 0 1 0 -2.9 0M27.4 54.2m-1.8 0a1.8 1.8 0 1 0 3.6 0a1.8 1.8 0 1 0 -3.6 0M38.7 32.1m-1.3 0a1.3 1.3 0 1 0 2.6 0a1.3 1.3 0 1 0 -2.6 0M52.7 67.0m-1.2 0a1.2 1.2 0 1 0 2.5 0a1.2 1.2 0 1 0 -2.5 0M48.4 47.5m-1.7 0a1.7 1.7 0 1 0 3.3 0a1.7 1.7 0 1 0 -3.3 0M2.1 37.5m-1.2 0a1.2 1.2 0 1 0 2.4 0a1.2 1.2 0 1 0 -2.4 0M13.4 39.4m-1.6 0a1.6 1.6 0 1 0 3.3 0a1.6 1.6 0 1 0 -3.3 0M43.0 50.4m-1.7 0a1.7 1.7 0 1 0 3.4 0a1.7 1.7 0 1 0 -3.4 0M32.7 3.2m-1.8 0a1.8 1.8 0 1 0 3.5 0a1.8 1.8 0 1 0 -3.5 0M56.6 56.7m-1.6 0a1.6 1.6 0 1 0 3.2 0a1.6 1.6 0 1 0 -3.2 0M2.6 13.3m-1.1 0a1.1 1.1 0 1 0 2.2 0a1.1 1.1 0 1 0 -2.2 0M43.7 37.0m-1.2 0a1.2 1.2 0 1 0 2.4 0a1.2 1.2 0 1 0 -2.4 0M65.8 66.4m-1.9 0a1.9 1.9 0 1 0 3.8 0a1.9 1.9 0 1 0 -3.8 0M31.9 19.8m-1.2 0a1.2 1.2 0 1 0 2.4 0a1.2 1.2 0 1 0 -2.4 0M56.7 47.6m-1.3 0a1.3 1.3 0 1 0 2.6 0a1.3 1.3 0 1 0 -2.6 0M62.1 38.6m-1.4 0a1.4 1.4 0 1 0 2.8 0a1.4 1.4 0 1 0 -2.8 0M28.6 48.9m-1.5 0a1.5 1.5 0 1 0 2.9 0a1.5 1.5 0 1 0 -2.9 0M45.4 8.3m-1.7 0a1.7 1.7 0 1 0 3.4 0a1.7 1.7 0 1 0 -3.4 0M18.7 61.8m-1.2 0a1.2 1.2 0 1 0 2.4 0a1.2 1.2 0 1 0 -2.4 0M22.9 36.5m-1.4 0a1.4 1.4 0 1 0 2.8 0a1.4 1.4 0 1 0 -2.8 0M36.2 62.7m-1.2 0a1.2 1.2 0 1 0 2.4 0a1.2 1.2 0 1 0 -2.4 0M53.1 47.1m-1.8 0a1.8 1.8 0 1 0 3.6 0a1.8 1.8 0 1 0 -3.6 0M30.8 30.9m-1.3 0a1.3 1.3 0 1 0 2.7 0a1.3 1.3 0 1 0 -2.7 0M32.6 17.3m-1.2 0a1.2 1.2 0 1 0 2.4 0a1.2 1.2 0 1 0 -2.4 0M32.8 13.0m-1.5 0a1.5 1.5 0 1 0 2.9 0a1.5 1.5 0 1 0 -2.9 0M39.4 21.0m-1.2 0a1.2 1.2 0 1 0 2.3 0a1.2 1.2 0 1 0 -2.3 0M41.6 58.4m-1.2 0a1.2 1.2 0 1 0 2.4 0a1.2 1.2 0 1 0 -2.4 0M42.4 44.7m-1.9 0a1.9 1.9 0 1 0 3.8 0a1.9 1.9 0 1 0 -3.8 0M46.9 20.9m-1.2 0a1.2 1.2 0 1 0 2.4 0a1.2 1.2 0 1 0 -2.4 0M57.6 20.3m-1.0 0a1.0 1.0 0 1 0 2.0 0a1.0 1.0 0 1 0 -2.0 0M59.9 13.4m-1.3 0a1.3 1.3 0 1 0 2.6 0a1.3 1.3 0 1 0 -2.6 0M21.9 17.4m-1.7 0a1.7 1.7 0 1 0 3.4 0a1.7 1.7 0 1 0 -3.4 0M23.6 29.9m-1.4 0a1.4 1.4 0 1 0 2.8 0a1.4 1.4 0 1 0 -2.8 0M57.3 1.2m-1.6 0a1.6 1.6 0 1 0 3.2 0a1.6 1.6 0 1 0 -3.2 0M9.1 10.2m-1.6 0a1.6 1.6 0 1 0 3.2 0a1.6 1.6 0 1 0 -3.2 0M25.8 4.4m-1.6 0a1.6 1.6 0 1 0 3.2 0a1.6 1.6 0 1 0 -3.2 0M62.9 43.8m-1.5 0a1.5 1.5 0 1 0 3.0 0a1.5 1.5 0 1 0 -3.0 0M55.1 62.2m-1.2 0a1.2 1.2 0 1 0 2.3 0a1.2 1.2 0 1 0 -2.3 0M20.6 65.5m-1.9 0a1.9 1.9 0 1 0 3.9 0a1.9 1.9 0 1 0 -3.9 0M14.0 47.8m-1.9 0a1.9 1.9 0 1 0 3.7 0a1.9 1.9 0 1 0 -3.7 0M40.7 47.7m-1.5 0a1.5 1.5 0 1 0 3.0 0a1.5 1.5 0 1 0 -3.0 0" fill="#2838b0" fill-opacity="0.5"/>
<ellipse cx="20.6" cy="37.3" rx="9.1" ry="5.9" transform="rotate(20 20.6 37.3)" fill="#080a24" fill-opacity="0.6"/>
<ellipse cx="41.3" cy="20.4" rx="3.9" ry="6.5" transform="rotate(0 41.3 20.4)" fill="#080a24" fill-opacity="0.6"/>
<path d="M59.1 36.6l-0.3 0.4M66.8 37.6l-0.3 0.4M53.2 58.0l-0.1 0.5" stroke="#dc2034" stroke-width="1.7" stroke-linecap="round" stroke-opacity="0.85" fill="none"/>
<path d="M65.6 41.7l0.1 0.7M39.4 32.5l0.3 0.6M35.8 96.9l-0.6 0.3" stroke="#dc2034" stroke-width="2.2" stroke-linecap="round" stroke-opacity="0.85" fill="none"/>
<path d="M66.2 24.3l0.3 0.7M56.0 13.4l0.7 0.2M61.6 61.0l0.5 0.6M49.7 59.4l-0.1 0.7" stroke="#dc2034" stroke-width="2.4" stroke-linecap="round" stroke-opacity="0.85" fill="none"/>
<path d="M60.0 36.7l-0.6 0.4M27.6 15.1l0.5 0.5M84.3 25.0l-0.4 0.6M-22.9 47.6l-0.1 0.7" stroke="#dc2034" stroke-width="2.5" stroke-linecap="round" stroke-opacity="0.85" fill="none"/>
<path d="M74.4 45.3l0.8 0.1M69.7 58.8l0.5 0.6" stroke="#dc2034" stroke-width="2.7" stroke-linecap="round" stroke-opacity="0.85" fill="none"/>
<path d="M48.9 25.6l-0.2 0.8" stroke="#dc2034" stroke-width="2.9" stroke-linecap="round" stroke-opacity="0.85" fill="none"/>
<path d="M54.5 5.2l0.6 0.0M54.2 60.1l-0.5 0.4M48.3 59.9l0.5 0.3" stroke="#dc2034" stroke-width="2.0" stroke-linecap="round" stroke-opacity="0.85" fill="none"/>
<path d="M54.2 27.9l0.3 0.5M68.3 18.1l-0.4 0.3M-4.5 26.9l0.1 0.5" stroke="#dc2034" stroke-width="1.8" stroke-linecap="round" stroke-opacity="0.85" fill="none"/>
<path d="M48.1 22.5l-0.8 0.1M46.1 52.7l-0.6 0.5" stroke="#dc2034" stroke-width="2.6" stroke-linecap="round" stroke-opacity="0.85" fill="none"/>
<path d="M54.6 29.8l-0.3 0.6M27.8 27.2l-0.5 0.3" stroke="#dc2034" stroke-width="2.1" stroke-linecap="round" stroke-opacity="0.85" fill="none"/>
<path d="M65.6 17.0l0.9 0.1M59.2 57.8l0.9 0.3M47.6 99.1l-0.8 0.5" stroke="#dc2034" stroke-width="3.1" stroke-linecap="round" stroke-opacity="0.85" fill="none"/>
<path d="M41.5 68.9l-0.2 0.4M20.4 22.1l-0.3 0.4" stroke="#dc2034" stroke-width="1.6" stroke-linecap="round" stroke-opacity="0.85" fill="none"/>
<path d="M67.0 61.0l0.9 0.2" stroke="#dc2034" stroke-width="3.0" stroke-linecap="round" stroke-opacity="0.85" fill="none"/>
<path d="M38.2 59.1l0.2 0.7M3.4 16.0l-0.7 0.1M-7.6 49.5l0.5 0.5" stroke="#dc2034" stroke-width="2.3" stroke-linecap="round" stroke-opacity="0.85" fill="none"/>
<path d="M4.5 18.4l-0.2 0.9" stroke="#dc2034" stroke-width="3.2" stroke-linecap="round" stroke-opacity="0.85" fill="none"/>
<path d="M18.2 5.7l-0.2 0.5" stroke="#dc2034" stroke-width="1.9" stroke-linecap="round" stroke-opacity="0.85" fill="none"/>
<path d="M35.7 12.9l0.5 1.8M38.4 8.9l-0.9 1.7M-12.4 66.1l-1.8 0.6" stroke="#36b04e" stroke-width="1.9" stroke-linecap="round" stroke-opacity="0.80" fill="none"/>
<path d="M59.2 8.6l-0.7 1.6" stroke="#36b04e" stroke-width="1.7" stroke-linecap="round" stroke-opacity="0.80" fill="none"/>
<path d="M34.9 13.5l0.7 2.0" stroke="#36b04e" stroke-width="2.2" stroke-linecap="round" stroke-opacity="0.80" fill="none"/>
<path d="M44.5 2.5l0.8 1.7" stroke="#36b04e" stroke-width="1.8" stroke-linecap="round" stroke-opacity="0.80" fill="none"/>
<path d="M57.5 4.4l-0.6 1.0" stroke="#36b04e" stroke-width="1.2" stroke-linecap="round" stroke-opacity="0.80" fill="none"/>
<path d="M10.9 0.9l-1.6 0.1" stroke="#36b04e" stroke-width="1.6" stroke-linecap="round" stroke-opacity="0.80" fill="none"/>
<path d="M49.2 -5.3l-0.5 2.0" stroke="#36b04e" stroke-width="2.1" stroke-linecap="round" stroke-opacity="0.80" fill="none"/>
<path d="M5.2 -18.2l1.5 0.2" stroke="#36b04e" stroke-width="1.5" stroke-linecap="round" stroke-opacity="0.80" fill="none"/>
<path d="M17.5 61.0l0.6 1.3" stroke="#48c4bc" stroke-width="2.3" stroke-linecap="round" stroke-opacity="0.80" fill="none"/>
<path d="M13.3 56.9l-0.7 0.4" stroke="#48c4bc" stroke-width="1.4" stroke-linecap="round" stroke-opacity="0.80" fill="none"/>
<path d="M19.3 62.0l0.3 1.1" stroke="#48c4bc" stroke-width="1.9" stroke-linecap="round" stroke-opacity="0.80" fill="none"/>
</svg>
<text x="714.4" y="259.8" font-size="8.30" fill="#ffffff" font-weight="bold" style="stroke:none">BRCA</text>
<text x="743.0" y="289.3" font-size="8.30" text-anchor="middle" fill="#ffffff" font-weight="bold" style="stroke:none">HLA-DR<tspan font-size="4.57" dy="-2.99">+</tspan></text>
<text x="743.0" y="297.9" font-size="8.30" text-anchor="middle" fill="#ffffff" font-weight="bold" style="stroke:none">NEU</text>
<rect x="759.20" y="299.40" width="15.50" height="15.00" fill="#2a3a9a"/>
<circle cx="768.2" cy="306.4" r="4.50" fill="#40b060"/>
<circle cx="769.2" cy="305.4" r="2.20" fill="#80e080"/>
<circle cx="763.2" cy="310.4" r="2.00" fill="#e04050"/>
<rect x="759.20" y="299.40" width="15.50" height="15.00" fill="none" stroke="#d8d8d8" stroke-width="0.70"/>
<svg x="779.10" y="249.00" width="68.70" height="67.90" viewBox="0 0 68.70 67.90" overflow="hidden">
<rect x="0.00" y="0.00" width="68.70" height="67.90" fill="#131a58"/>
<path d="M16.3 37.0m-1.4 0a1.4 1.4 0 1 0 2.7 0a1.4 1.4 0 1 0 -2.7 0M41.5 42.5m-1.1 0a1.1 1.1 0 1 0 2.1 0a1.1 1.1 0 1 0 -2.1 0M0.9 56.9m-1.3 0a1.3 1.3 0 1 0 2.5 0a1.3 1.3 0 1 0 -2.5 0M16.1 67.6m-1.5 0a1.5 1.5 0 1 0 2.9 0a1.5 1.5 0 1 0 -2.9 0M57.5 32.3m-1.6 0a1.6 1.6 0 1 0 3.3 0a1.6 1.6 0 1 0 -3.3 0M10.3 43.1m-1.9 0a1.9 1.9 0 1 0 3.7 0a1.9 1.9 0 1 0 -3.7 0M35.9 50.3m-1.7 0a1.7 1.7 0 1 0 3.3 0a1.7 1.7 0 1 0 -3.3 0M4.4 51.5m-1.6 0a1.6 1.6 0 1 0 3.2 0a1.6 1.6 0 1 0 -3.2 0M20.7 2.1m-1.9 0a1.9 1.9 0 1 0 3.7 0a1.9 1.9 0 1 0 -3.7 0M32.5 48.8m-1.9 0a1.9 1.9 0 1 0 3.8 0a1.9 1.9 0 1 0 -3.8 0M49.1 62.5m-1.4 0a1.4 1.4 0 1 0 2.8 0a1.4 1.4 0 1 0 -2.8 0M55.0 30.2m-1.9 0a1.9 1.9 0 1 0 3.9 0a1.9 1.9 0 1 0 -3.9 0M60.4 6.6m-1.1 0a1.1 1.1 0 1 0 2.3 0a1.1 1.1 0 1 0 -2.3 0M14.9 65.6m-1.4 0a1.4 1.4 0 1 0 2.9 0a1.4 1.4 0 1 0 -2.9 0M43.1 20.4m-1.5 0a1.5 1.5 0 1 0 3.0 0a1.5 1.5 0 1 0 -3.0 0M26.5 23.8m-1.6 0a1.6 1.6 0 1 0 3.2 0a1.6 1.6 0 1 0 -3.2 0M40.1 61.4m-1.7 0a1.7 1.7 0 1 0 3.4 0a1.7 1.7 0 1 0 -3.4 0M63.8 58.1m-2.0 0a2.0 2.0 0 1 0 4.0 0a2.0 2.0 0 1 0 -4.0 0M46.1 11.1m-1.9 0a1.9 1.9 0 1 0 3.7 0a1.9 1.9 0 1 0 -3.7 0M66.3 61.4m-1.6 0a1.6 1.6 0 1 0 3.1 0a1.6 1.6 0 1 0 -3.1 0M49.0 14.3m-1.8 0a1.8 1.8 0 1 0 3.7 0a1.8 1.8 0 1 0 -3.7 0M39.4 19.3m-1.1 0a1.1 1.1 0 1 0 2.1 0a1.1 1.1 0 1 0 -2.1 0M58.7 67.2m-1.1 0a1.1 1.1 0 1 0 2.2 0a1.1 1.1 0 1 0 -2.2 0M55.0 27.9m-1.2 0a1.2 1.2 0 1 0 2.3 0a1.2 1.2 0 1 0 -2.3 0M20.2 52.2m-1.9 0a1.9 1.9 0 1 0 3.7 0a1.9 1.9 0 1 0 -3.7 0M3.0 41.7m-1.0 0a1.0 1.0 0 1 0 2.1 0a1.0 1.0 0 1 0 -2.1 0M49.4 22.5m-1.9 0a1.9 1.9 0 1 0 3.8 0a1.9 1.9 0 1 0 -3.8 0M67.4 34.3m-2.0 0a2.0 2.0 0 1 0 4.0 0a2.0 2.0 0 1 0 -4.0 0M21.3 5.2m-1.6 0a1.6 1.6 0 1 0 3.2 0a1.6 1.6 0 1 0 -3.2 0M2.2 13.4m-1.4 0a1.4 1.4 0 1 0 2.8 0a1.4 1.4 0 1 0 -2.8 0M41.9 10.6m-1.0 0a1.0 1.0 0 1 0 2.1 0a1.0 1.0 0 1 0 -2.1 0M59.6 21.3m-2.0 0a2.0 2.0 0 1 0 3.9 0a2.0 2.0 0 1 0 -3.9 0M61.6 25.7m-1.5 0a1.5 1.5 0 1 0 2.9 0a1.5 1.5 0 1 0 -2.9 0M35.7 43.7m-1.6 0a1.6 1.6 0 1 0 3.2 0a1.6 1.6 0 1 0 -3.2 0M38.4 42.1m-1.9 0a1.9 1.9 0 1 0 3.9 0a1.9 1.9 0 1 0 -3.9 0M34.8 29.3m-1.7 0a1.7 1.7 0 1 0 3.4 0a1.7 1.7 0 1 0 -3.4 0M16.3 20.4m-2.0 0a2.0 2.0 0 1 0 4.0 0a2.0 2.0 0 1 0 -4.0 0M35.8 37.2m-1.0 0a1.0 1.0 0 1 0 2.0 0a1.0 1.0 0 1 0 -2.0 0M28.5 39.4m-1.0 0a1.0 1.0 0 1 0 2.0 0a1.0 1.0 0 1 0 -2.0 0M42.3 42.9m-1.1 0a1.1 1.1 0 1 0 2.1 0a1.1 1.1 0 1 0 -2.1 0M43.1 31.7m-1.7 0a1.7 1.7 0 1 0 3.4 0a1.7 1.7 0 1 0 -3.4 0M24.2 48.0m-1.7 0a1.7 1.7 0 1 0 3.5 0a1.7 1.7 0 1 0 -3.5 0M1.5 4.1m-1.7 0a1.7 1.7 0 1 0 3.4 0a1.7 1.7 0 1 0 -3.4 0M66.2 17.1m-1.5 0a1.5 1.5 0 1 0 2.9 0a1.5 1.5 0 1 0 -2.9 0M40.7 21.7m-1.4 0a1.4 1.4 0 1 0 2.7 0a1.4 1.4 0 1 0 -2.7 0M21.5 25.1m-1.6 0a1.6 1.6 0 1 0 3.2 0a1.6 1.6 0 1 0 -3.2 0M20.6 25.6m-1.8 0a1.8 1.8 0 1 0 3.5 0a1.8 1.8 0 1 0 -3.5 0M1.8 38.7m-1.7 0a1.7 1.7 0 1 0 3.5 0a1.7 1.7 0 1 0 -3.5 0M21.3 15.1m-1.8 0a1.8 1.8 0 1 0 3.6 0a1.8 1.8 0 1 0 -3.6 0M16.4 12.7m-1.4 0a1.4 1.4 0 1 0 2.9 0a1.4 1.4 0 1 0 -2.9 0M48.0 6.9m-1.3 0a1.3 1.3 0 1 0 2.6 0a1.3 1.3 0 1 0 -2.6 0M22.9 56.6m-1.4 0a1.4 1.4 0 1 0 2.9 0a1.4 1.4 0 1 0 -2.9 0M58.8 11.5m-1.3 0a1.3 1.3 0 1 0 2.7 0a1.3 1.3 0 1 0 -2.7 0M44.7 60.1m-1.5 0a1.5 1.5 0 1 0 2.9 0a1.5 1.5 0 1 0 -2.9 0M15.5 8.2m-1.5 0a1.5 1.5 0 1 0 3.1 0a1.5 1.5 0 1 0 -3.1 0M13.1 54.8m-1.8 0a1.8 1.8 0 1 0 3.7 0a1.8 1.8 0 1 0 -3.7 0M12.6 18.9m-1.8 0a1.8 1.8 0 1 0 3.6 0a1.8 1.8 0 1 0 -3.6 0M44.1 54.7m-1.3 0a1.3 1.3 0 1 0 2.7 0a1.3 1.3 0 1 0 -2.7 0M8.9 19.8m-1.8 0a1.8 1.8 0 1 0 3.6 0a1.8 1.8 0 1 0 -3.6 0M18.6 23.5m-1.4 0a1.4 1.4 0 1 0 2.8 0a1.4 1.4 0 1 0 -2.8 0M28.8 27.8m-1.9 0a1.9 1.9 0 1 0 3.8 0a1.9 1.9 0 1 0 -3.8 0M10.7 0.3m-1.9 0a1.9 1.9 0 1 0 3.9 0a1.9 1.9 0 1 0 -3.9 0M60.5 67.0m-1.4 0a1.4 1.4 0 1 0 2.9 0a1.4 1.4 0 1 0 -2.9 0M65.3 63.0m-1.2 0a1.2 1.2 0 1 0 2.4 0a1.2 1.2 0 1 0 -2.4 0M51.2 56.8m-1.7 0a1.7 1.7 0 1 0 3.3 0a1.7 1.7 0 1 0 -3.3 0M35.7 19.6m-1.3 0a1.3 1.3 0 1 0 2.7 0a1.3 1.3 0 1 0 -2.7 0M15.6 4.6m-1.6 0a1.6 1.6 0 1 0 3.2 0a1.6 1.6 0 1 0 -3.2 0M19.7 55.0m-1.0 0a1.0 1.0 0 1 0 2.1 0a1.0 1.0 0 1 0 -2.1 0M62.1 47.1m-1.9 0a1.9 1.9 0 1 0 3.8 0a1.9 1.9 0 1 0 -3.8 0M61.6 61.1m-1.6 0a1.6 1.6 0 1 0 3.2 0a1.6 1.6 0 1 0 -3.2 0M0.9 50.6m-1.2 0a1.2 1.2 0 1 0 2.3 0a1.2 1.2 0 1 0 -2.3 0M20.6 45.0m-1.5 0a1.5 1.5 0 1 0 3.0 0a1.5 1.5 0 1 0 -3.0 0M28.4 63.8m-1.6 0a1.6 1.6 0 1 0 3.2 0a1.6 1.6 0 1 0 -3.2 0M23.5 17.1m-1.9 0a1.9 1.9 0 1 0 3.7 0a1.9 1.9 0 1 0 -3.7 0M32.8 53.1m-1.4 0a1.4 1.4 0 1 0 2.7 0a1.4 1.4 0 1 0 -2.7 0M13.6 36.3m-1.8 0a1.8 1.8 0 1 0 3.6 0a1.8 1.8 0 1 0 -3.6 0M11.8 53.8m-1.9 0a1.9 1.9 0 1 0 3.8 0a1.9 1.9 0 1 0 -3.8 0M55.4 55.9m-1.0 0a1.0 1.0 0 1 0 2.0 0a1.0 1.0 0 1 0 -2.0 0M43.2 58.6m-1.0 0a1.0 1.0 0 1 0 2.1 0a1.0 1.0 0 1 0 -2.1 0M18.6 18.2m-1.5 0a1.5 1.5 0 1 0 3.1 0a1.5 1.5 0 1 0 -3.1 0M29.1 32.1m-1.8 0a1.8 1.8 0 1 0 3.6 0a1.8 1.8 0 1 0 -3.6 0M0.1 3.7m-1.1 0a1.1 1.1 0 1 0 2.3 0a1.1 1.1 0 1 0 -2.3 0M8.6 4.6m-2.0 0a2.0 2.0 0 1 0 3.9 0a2.0 2.0 0 1 0 -3.9 0M58.7 5.8m-1.5 0a1.5 1.5 0 1 0 3.0 0a1.5 1.5 0 1 0 -3.0 0M21.7 21.4m-1.4 0a1.4 1.4 0 1 0 2.7 0a1.4 1.4 0 1 0 -2.7 0M44.4 39.8m-1.4 0a1.4 1.4 0 1 0 2.7 0a1.4 1.4 0 1 0 -2.7 0M13.1 22.3m-1.1 0a1.1 1.1 0 1 0 2.2 0a1.1 1.1 0 1 0 -2.2 0M38.2 48.6m-1.4 0a1.4 1.4 0 1 0 2.8 0a1.4 1.4 0 1 0 -2.8 0M5.5 12.1m-1.4 0a1.4 1.4 0 1 0 2.7 0a1.4 1.4 0 1 0 -2.7 0M41.5 53.1m-1.4 0a1.4 1.4 0 1 0 2.8 0a1.4 1.4 0 1 0 -2.8 0M55.0 42.3m-1.4 0a1.4 1.4 0 1 0 2.9 0a1.4 1.4 0 1 0 -2.9 0M25.6 33.7m-1.7 0a1.7 1.7 0 1 0 3.4 0a1.7 1.7 0 1 0 -3.4 0M28.9 47.1m-1.5 0a1.5 1.5 0 1 0 2.9 0a1.5 1.5 0 1 0 -2.9 0M16.8 36.4m-1.7 0a1.7 1.7 0 1 0 3.4 0a1.7 1.7 0 1 0 -3.4 0M4.9 28.8m-1.4 0a1.4 1.4 0 1 0 2.9 0a1.4 1.4 0 1 0 -2.9 0M60.4 63.6m-1.4 0a1.4 1.4 0 1 0 2.7 0a1.4 1.4 0 1 0 -2.7 0M61.7 53.7m-1.3 0a1.3 1.3 0 1 0 2.5 0a1.3 1.3 0 1 0 -2.5 0M31.9 8.4m-1.8 0a1.8 1.8 0 1 0 3.6 0a1.8 1.8 0 1 0 -3.6 0M45.5 60.3m-1.8 0a1.8 1.8 0 1 0 3.6 0a1.8 1.8 0 1 0 -3.6 0M45.9 49.8m-1.6 0a1.6 1.6 0 1 0 3.1 0a1.6 1.6 0 1 0 -3.1 0M7.1 39.9m-1.0 0a1.0 1.0 0 1 0 2.0 0a1.0 1.0 0 1 0 -2.0 0M9.9 52.6m-1.0 0a1.0 1.0 0 1 0 2.1 0a1.0 1.0 0 1 0 -2.1 0M6.3 6.7m-1.9 0a1.9 1.9 0 1 0 3.8 0a1.9 1.9 0 1 0 -3.8 0M12.3 1.6m-1.8 0a1.8 1.8 0 1 0 3.7 0a1.8 1.8 0 1 0 -3.7 0M8.3 57.3m-1.7 0a1.7 1.7 0 1 0 3.3 0a1.7 1.7 0 1 0 -3.3 0M57.4 64.7m-1.6 0a1.6 1.6 0 1 0 3.2 0a1.6 1.6 0 1 0 -3.2 0M54.9 2.5m-1.8 0a1.8 1.8 0 1 0 3.5 0a1.8 1.8 0 1 0 -3.5 0M35.1 48.6m-1.1 0a1.1 1.1 0 1 0 2.2 0a1.1 1.1 0 1 0 -2.2 0M51.5 63.5m-1.1 0a1.1 1.1 0 1 0 2.1 0a1.1 1.1 0 1 0 -2.1 0M22.3 38.3m-1.8 0a1.8 1.8 0 1 0 3.7 0a1.8 1.8 0 1 0 -3.7 0M16.6 12.2m-1.2 0a1.2 1.2 0 1 0 2.5 0a1.2 1.2 0 1 0 -2.5 0M42.3 51.2m-1.4 0a1.4 1.4 0 1 0 2.8 0a1.4 1.4 0 1 0 -2.8 0M25.2 26.9m-1.4 0a1.4 1.4 0 1 0 2.7 0a1.4 1.4 0 1 0 -2.7 0M28.7 5.7m-1.5 0a1.5 1.5 0 1 0 3.0 0a1.5 1.5 0 1 0 -3.0 0M66.8 28.0m-1.7 0a1.7 1.7 0 1 0 3.5 0a1.7 1.7 0 1 0 -3.5 0M11.0 46.9m-1.8 0a1.8 1.8 0 1 0 3.5 0a1.8 1.8 0 1 0 -3.5 0M46.3 35.1m-1.5 0a1.5 1.5 0 1 0 3.0 0a1.5 1.5 0 1 0 -3.0 0M44.2 60.9m-1.1 0a1.1 1.1 0 1 0 2.3 0a1.1 1.1 0 1 0 -2.3 0M6.6 50.8m-1.9 0a1.9 1.9 0 1 0 3.8 0a1.9 1.9 0 1 0 -3.8 0M35.5 30.1m-1.7 0a1.7 1.7 0 1 0 3.4 0a1.7 1.7 0 1 0 -3.4 0M12.8 18.2m-1.2 0a1.2 1.2 0 1 0 2.4 0a1.2 1.2 0 1 0 -2.4 0M40.2 21.4m-1.2 0a1.2 1.2 0 1 0 2.5 0a1.2 1.2 0 1 0 -2.5 0M47.5 64.7m-1.3 0a1.3 1.3 0 1 0 2.6 0a1.3 1.3 0 1 0 -2.6 0M48.5 28.1m-1.9 0a1.9 1.9 0 1 0 3.7 0a1.9 1.9 0 1 0 -3.7 0M40.2 18.1m-1.2 0a1.2 1.2 0 1 0 2.4 0a1.2 1.2 0 1 0 -2.4 0M1.6 32.6m-1.4 0a1.4 1.4 0 1 0 2.8 0a1.4 1.4 0 1 0 -2.8 0M11.8 24.5m-1.3 0a1.3 1.3 0 1 0 2.6 0a1.3 1.3 0 1 0 -2.6 0M53.2 9.8m-2.0 0a2.0 2.0 0 1 0 4.0 0a2.0 2.0 0 1 0 -4.0 0M32.9 40.7m-1.5 0a1.5 1.5 0 1 0 2.9 0a1.5 1.5 0 1 0 -2.9 0M57.3 55.8m-1.6 0a1.6 1.6 0 1 0 3.1 0a1.6 1.6 0 1 0 -3.1 0M33.1 48.9m-1.9 0a1.9 1.9 0 1 0 3.7 0a1.9 1.9 0 1 0 -3.7 0M27.5 49.8m-2.0 0a2.0 2.0 0 1 0 3.9 0a2.0 2.0 0 1 0 -3.9 0M32.1 15.6m-1.2 0a1.2 1.2 0 1 0 2.5 0a1.2 1.2 0 1 0 -2.5 0M49.3 45.9m-2.0 0a2.0 2.0 0 1 0 3.9 0a2.0 2.0 0 1 0 -3.9 0M58.7 16.4m-1.2 0a1.2 1.2 0 1 0 2.4 0a1.2 1.2 0 1 0 -2.4 0M17.8 12.7m-1.7 0a1.7 1.7 0 1 0 3.4 0a1.7 1.7 0 1 0 -3.4 0M59.0 61.1m-1.3 0a1.3 1.3 0 1 0 2.5 0a1.3 1.3 0 1 0 -2.5 0M59.4 21.3m-1.4 0a1.4 1.4 0 1 0 2.8 0a1.4 1.4 0 1 0 -2.8 0M50.1 5.8m-1.1 0a1.1 1.1 0 1 0 2.2 0a1.1 1.1 0 1 0 -2.2 0M57.3 19.8m-1.4 0a1.4 1.4 0 1 0 2.7 0a1.4 1.4 0 1 0 -2.7 0M39.9 45.9m-1.0 0a1.0 1.0 0 1 0 2.0 0a1.0 1.0 0 1 0 -2.0 0M23.0 29.6m-1.5 0a1.5 1.5 0 1 0 3.0 0a1.5 1.5 0 1 0 -3.0 0M14.4 39.7m-2.0 0a2.0 2.0 0 1 0 3.9 0a2.0 2.0 0 1 0 -3.9 0M26.9 37.0m-1.1 0a1.1 1.1 0 1 0 2.2 0a1.1 1.1 0 1 0 -2.2 0M18.9 45.2m-1.1 0a1.1 1.1 0 1 0 2.2 0a1.1 1.1 0 1 0 -2.2 0M60.9 61.7m-1.1 0a1.1 1.1 0 1 0 2.2 0a1.1 1.1 0 1 0 -2.2 0M64.7 25.4m-1.8 0a1.8 1.8 0 1 0 3.5 0a1.8 1.8 0 1 0 -3.5 0M52.0 20.1m-1.7 0a1.7 1.7 0 1 0 3.4 0a1.7 1.7 0 1 0 -3.4 0M44.9 54.7m-1.3 0a1.3 1.3 0 1 0 2.5 0a1.3 1.3 0 1 0 -2.5 0M51.8 65.3m-1.7 0a1.7 1.7 0 1 0 3.3 0a1.7 1.7 0 1 0 -3.3 0M36.8 7.7m-1.5 0a1.5 1.5 0 1 0 3.0 0a1.5 1.5 0 1 0 -3.0 0M24.2 48.8m-1.7 0a1.7 1.7 0 1 0 3.4 0a1.7 1.7 0 1 0 -3.4 0M38.9 12.4m-1.6 0a1.6 1.6 0 1 0 3.3 0a1.6 1.6 0 1 0 -3.3 0M43.3 12.2m-1.9 0a1.9 1.9 0 1 0 3.8 0a1.9 1.9 0 1 0 -3.8 0M45.0 8.4m-1.9 0a1.9 1.9 0 1 0 3.9 0a1.9 1.9 0 1 0 -3.9 0M9.7 22.5m-1.7 0a1.7 1.7 0 1 0 3.4 0a1.7 1.7 0 1 0 -3.4 0M41.0 37.7m-1.6 0a1.6 1.6 0 1 0 3.3 0a1.6 1.6 0 1 0 -3.3 0M31.4 21.2m-1.2 0a1.2 1.2 0 1 0 2.4 0a1.2 1.2 0 1 0 -2.4 0M4.7 48.6m-1.8 0a1.8 1.8 0 1 0 3.5 0a1.8 1.8 0 1 0 -3.5 0M37.3 50.2m-1.4 0a1.4 1.4 0 1 0 2.7 0a1.4 1.4 0 1 0 -2.7 0M18.3 26.0m-1.9 0a1.9 1.9 0 1 0 3.7 0a1.9 1.9 0 1 0 -3.7 0M2.9 34.3m-1.2 0a1.2 1.2 0 1 0 2.5 0a1.2 1.2 0 1 0 -2.5 0M52.8 24.0m-1.3 0a1.3 1.3 0 1 0 2.7 0a1.3 1.3 0 1 0 -2.7 0M27.7 36.8m-1.8 0a1.8 1.8 0 1 0 3.5 0a1.8 1.8 0 1 0 -3.5 0M24.2 57.5m-1.1 0a1.1 1.1 0 1 0 2.2 0a1.1 1.1 0 1 0 -2.2 0M18.6 6.8m-1.1 0a1.1 1.1 0 1 0 2.2 0a1.1 1.1 0 1 0 -2.2 0M53.5 49.4m-1.2 0a1.2 1.2 0 1 0 2.4 0a1.2 1.2 0 1 0 -2.4 0M13.0 28.3m-1.7 0a1.7 1.7 0 1 0 3.5 0a1.7 1.7 0 1 0 -3.5 0M56.0 50.8m-1.6 0a1.6 1.6 0 1 0 3.2 0a1.6 1.6 0 1 0 -3.2 0M10.1 27.1m-1.2 0a1.2 1.2 0 1 0 2.4 0a1.2 1.2 0 1 0 -2.4 0M36.2 38.6m-1.2 0a1.2 1.2 0 1 0 2.4 0a1.2 1.2 0 1 0 -2.4 0M17.2 53.1m-1.0 0a1.0 1.0 0 1 0 2.1 0a1.0 1.0 0 1 0 -2.1 0M55.2 60.5m-1.9 0a1.9 1.9 0 1 0 3.9 0a1.9 1.9 0 1 0 -3.9 0M26.3 37.5m-1.6 0a1.6 1.6 0 1 0 3.2 0a1.6 1.6 0 1 0 -3.2 0M43.5 66.3m-1.7 0a1.7 1.7 0 1 0 3.4 0a1.7 1.7 0 1 0 -3.4 0M20.6 58.4m-1.5 0a1.5 1.5 0 1 0 3.0 0a1.5 1.5 0 1 0 -3.0 0M41.3 49.4m-1.0 0a1.0 1.0 0 1 0 2.0 0a1.0 1.0 0 1 0 -2.0 0M52.9 44.9m-1.5 0a1.5 1.5 0 1 0 3.0 0a1.5 1.5 0 1 0 -3.0 0M36.0 31.3m-1.2 0a1.2 1.2 0 1 0 2.4 0a1.2 1.2 0 1 0 -2.4 0M36.4 2.5m-1.5 0a1.5 1.5 0 1 0 3.0 0a1.5 1.5 0 1 0 -3.0 0M44.4 30.2m-1.6 0a1.6 1.6 0 1 0 3.1 0a1.6 1.6 0 1 0 -3.1 0M65.9 60.6m-1.1 0a1.1 1.1 0 1 0 2.3 0a1.1 1.1 0 1 0 -2.3 0M54.4 42.3m-1.1 0a1.1 1.1 0 1 0 2.1 0a1.1 1.1 0 1 0 -2.1 0M24.7 15.8m-1.1 0a1.1 1.1 0 1 0 2.2 0a1.1 1.1 0 1 0 -2.2 0M37.0 63.1m-1.3 0a1.3 1.3 0 1 0 2.6 0a1.3 1.3 0 1 0 -2.6 0M59.8 47.2m-1.1 0a1.1 1.1 0 1 0 2.3 0a1.1 1.1 0 1 0 -2.3 0M59.0 40.8m-1.9 0a1.9 1.9 0 1 0 3.9 0a1.9 1.9 0 1 0 -3.9 0M49.2 50.2m-1.3 0a1.3 1.3 0 1 0 2.7 0a1.3 1.3 0 1 0 -2.7 0M55.4 63.3m-1.9 0a1.9 1.9 0 1 0 3.7 0a1.9 1.9 0 1 0 -3.7 0M30.0 51.4m-1.5 0a1.5 1.5 0 1 0 3.0 0a1.5 1.5 0 1 0 -3.0 0M7.5 2.9m-1.1 0a1.1 1.1 0 1 0 2.2 0a1.1 1.1 0 1 0 -2.2 0M13.8 10.9m-1.5 0a1.5 1.5 0 1 0 3.0 0a1.5 1.5 0 1 0 -3.0 0M48.0 36.5m-1.4 0a1.4 1.4 0 1 0 2.8 0a1.4 1.4 0 1 0 -2.8 0M44.6 20.7m-1.5 0a1.5 1.5 0 1 0 2.9 0a1.5 1.5 0 1 0 -2.9 0M52.0 27.3m-1.2 0a1.2 1.2 0 1 0 2.4 0a1.2 1.2 0 1 0 -2.4 0M61.8 48.9m-1.4 0a1.4 1.4 0 1 0 2.7 0a1.4 1.4 0 1 0 -2.7 0M25.5 35.9m-1.6 0a1.6 1.6 0 1 0 3.2 0a1.6 1.6 0 1 0 -3.2 0M15.4 0.2m-1.2 0a1.2 1.2 0 1 0 2.4 0a1.2 1.2 0 1 0 -2.4 0M53.8 9.7m-1.5 0a1.5 1.5 0 1 0 2.9 0a1.5 1.5 0 1 0 -2.9 0M13.4 14.2m-1.2 0a1.2 1.2 0 1 0 2.3 0a1.2 1.2 0 1 0 -2.3 0M27.7 11.4m-1.0 0a1.0 1.0 0 1 0 2.1 0a1.0 1.0 0 1 0 -2.1 0M7.6 11.4m-1.5 0a1.5 1.5 0 1 0 3.0 0a1.5 1.5 0 1 0 -3.0 0M4.1 1.5m-1.4 0a1.4 1.4 0 1 0 2.9 0a1.4 1.4 0 1 0 -2.9 0M28.0 47.8m-1.1 0a1.1 1.1 0 1 0 2.1 0a1.1 1.1 0 1 0 -2.1 0M27.7 26.9m-1.0 0a1.0 1.0 0 1 0 2.1 0a1.0 1.0 0 1 0 -2.1 0M66.3 14.9m-1.1 0a1.1 1.1 0 1 0 2.2 0a1.1 1.1 0 1 0 -2.2 0M32.6 11.2m-1.6 0a1.6 1.6 0 1 0 3.2 0a1.6 1.6 0 1 0 -3.2 0M23.8 8.4m-1.1 0a1.1 1.1 0 1 0 2.1 0a1.1 1.1 0 1 0 -2.1 0M50.0 18.7m-1.8 0a1.8 1.8 0 1 0 3.6 0a1.8 1.8 0 1 0 -3.6 0M32.0 63.3m-1.3 0a1.3 1.3 0 1 0 2.6 0a1.3 1.3 0 1 0 -2.6 0M17.2 18.0m-1.8 0a1.8 1.8 0 1 0 3.6 0a1.8 1.8 0 1 0 -3.6 0M43.2 23.4m-1.1 0a1.1 1.1 0 1 0 2.2 0a1.1 1.1 0 1 0 -2.2 0M46.9 65.8m-1.6 0a1.6 1.6 0 1 0 3.2 0a1.6 1.6 0 1 0 -3.2 0M0.3 2.1m-1.1 0a1.1 1.1 0 1 0 2.2 0a1.1 1.1 0 1 0 -2.2 0M11.7 2.5m-1.1 0a1.1 1.1 0 1 0 2.1 0a1.1 1.1 0 1 0 -2.1 0M45.0 61.1m-1.2 0a1.2 1.2 0 1 0 2.4 0a1.2 1.2 0 1 0 -2.4 0M66.9 32.4m-1.8 0a1.8 1.8 0 1 0 3.6 0a1.8 1.8 0 1 0 -3.6 0M63.0 63.8m-1.0 0a1.0 1.0 0 1 0 2.1 0a1.0 1.0 0 1 0 -2.1 0M20.9 41.2m-1.9 0a1.9 1.9 0 1 0 3.9 0a1.9 1.9 0 1 0 -3.9 0M6.0 19.9m-1.8 0a1.8 1.8 0 1 0 3.7 0a1.8 1.8 0 1 0 -3.7 0M7.9 26.5m-1.3 0a1.3 1.3 0 1 0 2.7 0a1.3 1.3 0 1 0 -2.7 0M46.7 63.0m-1.2 0a1.2 1.2 0 1 0 2.3 0a1.2 1.2 0 1 0 -2.3 0M50.8 49.8m-1.8 0a1.8 1.8 0 1 0 3.7 0a1.8 1.8 0 1 0 -3.7 0M38.0 62.7m-1.4 0a1.4 1.4 0 1 0 2.7 0a1.4 1.4 0 1 0 -2.7 0M28.5 15.6m-1.8 0a1.8 1.8 0 1 0 3.6 0a1.8 1.8 0 1 0 -3.6 0M33.0 18.3m-1.2 0a1.2 1.2 0 1 0 2.3 0a1.2 1.2 0 1 0 -2.3 0M49.5 41.1m-1.7 0a1.7 1.7 0 1 0 3.4 0a1.7 1.7 0 1 0 -3.4 0M26.6 33.1m-1.2 0a1.2 1.2 0 1 0 2.3 0a1.2 1.2 0 1 0 -2.3 0M48.8 1.6m-1.5 0a1.5 1.5 0 1 0 2.9 0a1.5 1.5 0 1 0 -2.9 0M52.1 46.0m-1.1 0a1.1 1.1 0 1 0 2.2 0a1.1 1.1 0 1 0 -2.2 0" fill="#2838b0" fill-opacity="0.5"/>
<ellipse cx="51.5" cy="37.3" rx="5.2" ry="9.1" transform="rotate(30 51.5 37.3)" fill="#080a24" fill-opacity="0.6"/>
<path d="M20.8 46.7l-2.9 1.2M-3.0 31.2l-2.4 1.9M22.3 44.9l-1.3 2.8M47.7 -9.1l-3.0 0.7M32.3 23.1l-1.6 2.6M44.1 -2.2l2.6 1.8M23.3 11.9l-2.9 0.6M14.2 63.1l2.8 1.3M21.3 62.1l1.4 2.8M34.8 26.1l3.0 0.8M41.7 55.0l-2.0 2.4" stroke="#36b04e" stroke-width="2.2" stroke-linecap="round" stroke-opacity="0.85" fill="none"/>
<path d="M29.0 8.0l-2.5 2.7M15.3 34.6l-3.0 2.1M-1.6 -4.8l0.4 3.7M25.0 44.3l3.6 0.6M29.7 17.8l3.4 1.3M31.9 25.4l-2.7 2.3M11.0 48.0l1.4 3.4M4.9 54.7l-3.1 1.9M17.5 31.2l-2.4 2.6M7.1 72.5l-0.5 3.6M61.8 13.4l-3.5 1.1M48.3 55.9l3.4 1.4M42.8 35.8l1.9 3.2" stroke="#36b04e" stroke-width="2.6" stroke-linecap="round" stroke-opacity="0.85" fill="none"/>
<path d="M10.1 31.1l0.6 1.8M26.4 47.6l0.2 1.9M-2.1 17.3l-1.2 1.3M16.4 59.0l1.4 1.2M9.4 54.6l1.2 1.4M18.8 42.1l1.9 0.2M28.8 51.4l0.3 1.8M13.5 23.3l1.8 0.1M17.1 63.0l-0.8 1.7M15.3 59.7l0.0 1.8M68.4 24.4l-1.8 0.2M37.4 50.5l1.3 1.2" stroke="#36b04e" stroke-width="1.3" stroke-linecap="round" stroke-opacity="0.85" fill="none"/>
<path d="M22.1 18.1l2.8 1.0M27.2 36.8l3.0 0.1M20.8 10.2l0.3 2.9M27.6 32.3l2.5 1.4M-0.8 -20.9l0.8 2.8M14.8 16.6l-0.5 2.9M4.7 21.3l2.9 0.4M3.2 24.5l-2.7 1.1M10.4 59.0l-2.7 1.0M0.6 37.0l2.7 1.3M-7.2 47.8l-2.0 2.1M10.0 62.9l-2.8 1.1M14.7 63.9l2.1 2.1M21.8 44.5l-2.6 1.2M4.0 57.4l-2.5 1.6M43.9 20.8l2.8 1.0M45.4 16.4l-2.8 0.7M48.8 10.9l-0.1 3.0M44.7 6.4l-0.8 2.8M41.5 7.8l-1.5 2.5M50.0 16.1l-0.4 2.9M36.0 17.0l2.0 2.2M31.4 47.2l-0.5 2.8" stroke="#36b04e" stroke-width="2.1" stroke-linecap="round" stroke-opacity="0.85" fill="none"/>
<path d="M33.8 30.1l2.2 0.3M22.0 55.6l-0.4 2.1M37.9 6.6l2.0 0.9M-15.8 46.4l2.1 0.9M1.6 55.1l-1.3 1.8M35.8 6.3l0.3 2.2M44.4 5.5l0.6 2.1M33.1 53.3l1.0 2.0M16.8 31.8l1.9 1.2M31.8 30.6l1.6 1.4M58.6 52.9l1.7 1.4" stroke="#36b04e" stroke-width="1.6" stroke-linecap="round" stroke-opacity="0.85" fill="none"/>
<path d="M7.3 18.1l2.0 0.5M5.3 4.1l1.0 1.9M5.4 16.7l2.1 0.1M1.8 28.5l1.7 1.1M21.6 29.8l2.1 0.4M21.6 72.8l-1.8 1.1M4.9 59.4l1.5 1.5M32.7 24.2l0.7 2.0M54.2 15.6l-0.0 2.1M32.3 24.7l-1.0 1.8M38.8 14.2l-0.9 1.9M36.5 25.6l2.1 0.2M19.1 39.5l0.7 2.0" stroke="#36b04e" stroke-width="1.5" stroke-linecap="round" stroke-opacity="0.85" fill="none"/>
<path d="M21.2 14.2l-1.7 0.2M45.3 10.5l1.6 0.4M32.2 9.7l1.7 0.1M52.2 9.0l0.1 1.7M44.8 36.6l-1.7 0.3" stroke="#36b04e" stroke-width="1.2" stroke-linecap="round" stroke-opacity="0.85" fill="none"/>
<path d="M19.6 -9.1l-0.8 2.3M16.3 13.6l0.1 2.5M15.6 34.2l-1.7 1.8M1.0 17.0l-2.2 1.1M33.9 31.6l-0.1 2.5M26.0 15.5l-2.2 1.3M32.8 15.7l2.4 0.8M22.8 25.8l-2.4 0.7M28.8 18.9l-2.4 0.4M9.1 34.2l1.4 2.1M33.3 61.4l-2.5 0.1M9.5 64.4l1.0 2.4M21.4 67.9l-0.3 2.5M27.0 27.6l-2.5 0.0M49.8 6.2l2.5 0.5M40.6 22.5l-2.3 1.0M51.1 2.9l2.5 0.3M49.8 13.6l-2.5 0.0M29.8 24.5l0.3 2.5" stroke="#36b04e" stroke-width="1.8" stroke-linecap="round" stroke-opacity="0.85" fill="none"/>
<path d="M11.3 20.9l-1.0 3.4M12.4 30.3l3.5 0.1M1.4 -9.0l-1.1 3.3M7.7 31.0l0.5 3.4M-4.3 34.4l-3.5 0.8M25.8 3.5l3.5 0.1M4.4 37.9l-0.7 3.4M47.1 22.8l-3.5 0.1M11.5 54.3l3.0 1.9M-2.6 67.0l3.5 0.6M44.8 4.4l0.6 3.4M54.1 32.3l3.4 0.8" stroke="#36b04e" stroke-width="2.5" stroke-linecap="round" stroke-opacity="0.85" fill="none"/>
<path d="M32.8 26.5l0.8 3.2M32.0 13.7l1.0 3.3M18.7 24.8l2.0 2.6M26.0 21.6l0.4 3.4M18.7 23.1l2.9 1.8M8.8 4.2l3.3 1.0M15.3 56.9l-0.6 3.3M31.7 51.6l2.0 2.7M28.0 53.9l1.5 3.0M59.5 30.7l0.2 3.3M43.2 15.0l-0.3 3.3M55.7 44.1l1.4 3.1" stroke="#36b04e" stroke-width="2.4" stroke-linecap="round" stroke-opacity="0.85" fill="none"/>
<path d="M28.5 19.7l2.6 0.7M17.4 21.3l1.3 2.3M16.7 44.6l1.8 1.9M0.4 22.9l-0.3 2.7M34.8 17.7l-1.0 2.5M2.3 43.3l2.5 0.8M14.0 56.6l1.5 2.2M0.9 46.0l2.6 0.5M53.3 9.7l1.8 1.9M42.6 7.8l-2.7 0.2M45.2 5.8l-2.7 0.1M25.4 7.6l2.5 1.0" stroke="#36b04e" stroke-width="1.9" stroke-linecap="round" stroke-opacity="0.85" fill="none"/>
<path d="M20.1 27.2l-2.5 2.9M4.8 16.6l-3.6 1.1M14.6 30.2l-3.7 0.7M27.2 24.6l-3.8 0.0M24.0 12.3l-3.4 1.8M22.4 35.7l0.7 3.7M17.8 50.6l1.2 3.5M37.7 19.8l3.5 1.4M21.1 7.9l3.0 2.2M24.7 27.9l3.8 0.1M53.0 46.4l0.9 3.6M20.7 22.8l0.3 3.8M19.3 24.6l3.1 2.1" stroke="#36b04e" stroke-width="2.7" stroke-linecap="round" stroke-opacity="0.85" fill="none"/>
<path d="M49.8 19.6l-2.3 0.5M11.3 25.1l0.3 2.4M25.1 17.1l-0.2 2.4M10.4 32.6l2.1 0.9M-5.7 22.3l2.4 0.2M35.6 0.0l-2.3 0.2M7.4 37.2l-2.3 0.2M20.3 58.5l2.3 0.2M-8.0 56.9l1.9 1.3M8.2 52.8l-2.2 0.7M11.3 69.2l2.3 0.8M27.5 12.2l2.3 0.5M58.3 16.0l0.2 2.4M32.4 38.1l-1.6 1.7M47.5 29.2l0.5 2.4M7.3 23.9l-2.1 1.0M41.2 28.5l0.4 2.3M22.0 48.7l-2.0 1.1" stroke="#36b04e" stroke-width="1.7" stroke-linecap="round" stroke-opacity="0.85" fill="none"/>
<path d="M16.4 8.1l1.1 1.5M13.1 22.7l-1.5 1.4M33.3 25.2l1.1 1.6M21.2 55.1l-1.9 0.6M2.9 15.6l-0.6 1.9M12.4 40.2l-0.2 1.9M4.8 49.6l-0.3 1.9M39.1 -4.4l-1.1 1.5M35.9 9.8l-0.8 1.8M46.0 4.3l-1.9 0.4M38.4 19.2l-0.8 1.8M46.0 33.0l1.6 1.3M35.3 48.7l-2.0 0.2" stroke="#36b04e" stroke-width="1.4" stroke-linecap="round" stroke-opacity="0.85" fill="none"/>
<path d="M7.2 -16.8l-3.6 1.5M39.6 17.0l3.8 0.4M7.1 34.7l-3.8 0.8M6.7 50.6l-1.9 3.4M45.4 17.8l-3.1 2.4M28.8 12.2l3.7 1.2M27.5 50.1l2.4 3.0" stroke="#36b04e" stroke-width="2.8" stroke-linecap="round" stroke-opacity="0.85" fill="none"/>
<path d="M19.7 -5.0l-2.4 1.4M19.9 24.8l-2.0 2.1M17.2 26.4l-1.9 2.1M11.9 62.7l0.6 2.8M37.1 56.8l-0.7 2.8M21.2 57.4l-2.5 1.2M18.6 33.7l-0.7 2.7M47.5 26.5l-2.8 0.4M50.4 19.1l2.0 1.9M40.5 44.1l1.9 2.0M52.8 51.9l1.0 2.6" stroke="#36b04e" stroke-width="2.0" stroke-linecap="round" stroke-opacity="0.85" fill="none"/>
<path d="M7.4 20.8l-3.1 0.9M37.1 58.5l-1.4 2.9M-5.2 61.3l1.4 3.0M12.1 46.2l-1.1 3.0M10.0 74.5l2.5 2.1M6.7 53.5l1.6 2.9M40.4 2.5l0.7 3.1M32.4 9.5l3.3 0.0M43.5 1.6l-2.1 2.3M55.4 27.0l-3.3 0.2" stroke="#36b04e" stroke-width="2.3" stroke-linecap="round" stroke-opacity="0.85" fill="none"/>
<path d="M38.3 1.7l1.8 0.7M16.1 23.1l2.0 0.2M24.8 22.9l0.6 1.9M15.9 17.3l0.1 2.0M34.3 7.5l0.6 1.9M31.5 36.7l0.8 1.8" stroke="#48c4bc" stroke-width="2.0" stroke-linecap="round" stroke-opacity="0.80" fill="none"/>
<path d="M12.7 17.9l1.7 1.8" stroke="#48c4bc" stroke-width="2.5" stroke-linecap="round" stroke-opacity="0.80" fill="none"/>
<path d="M11.0 44.9l-1.4 0.4M28.8 13.5l1.4 0.5" stroke="#48c4bc" stroke-width="1.5" stroke-linecap="round" stroke-opacity="0.80" fill="none"/>
<path d="M11.2 33.2l-1.3 0.4M38.6 29.1l1.3 0.4M21.8 34.8l-0.0 1.3" stroke="#48c4bc" stroke-width="1.3" stroke-linecap="round" stroke-opacity="0.80" fill="none"/>
<path d="M8.6 22.5l-0.6 2.0M20.8 8.4l2.1 0.2M9.7 5.2l-0.7 2.0M34.7 52.6l2.0 0.4" stroke="#48c4bc" stroke-width="2.1" stroke-linecap="round" stroke-opacity="0.80" fill="none"/>
<path d="M24.4 8.4l0.7 1.2M31.0 47.9l-1.2 0.6M-0.0 14.0l-0.9 1.0" stroke="#48c4bc" stroke-width="1.4" stroke-linecap="round" stroke-opacity="0.80" fill="none"/>
<path d="M12.9 25.0l-1.4 1.2M-2.7 24.5l1.7 0.7M28.0 36.5l0.7 1.7M4.6 16.6l-1.2 1.5M6.8 6.6l0.1 1.9M19.7 12.3l0.3 1.8M46.3 33.9l1.9 0.3" stroke="#48c4bc" stroke-width="1.9" stroke-linecap="round" stroke-opacity="0.80" fill="none"/>
<path d="M-6.3 13.9l0.7 1.6M20.3 16.2l1.6 0.6M8.4 29.9l-1.7 0.3" stroke="#48c4bc" stroke-width="1.7" stroke-linecap="round" stroke-opacity="0.80" fill="none"/>
<path d="M26.1 35.8l1.5 0.4M23.9 -6.2l1.2 1.1M-1.7 13.9l0.8 1.4M18.5 -3.9l1.6 0.4M14.5 8.8l1.4 0.6M37.3 23.0l-0.6 1.5" stroke="#48c4bc" stroke-width="1.6" stroke-linecap="round" stroke-opacity="0.80" fill="none"/>
<path d="M-3.9 10.7l-2.2 0.9M35.4 15.7l-0.4 2.4M11.6 12.5l0.4 2.4M22.3 25.6l-0.1 2.4M37.6 37.3l-0.6 2.3M33.3 42.2l-2.0 1.3M60.8 43.3l-2.3 0.5" stroke="#48c4bc" stroke-width="2.4" stroke-linecap="round" stroke-opacity="0.80" fill="none"/>
<path d="M18.5 3.2l-1.8 1.3M25.6 13.0l-1.5 1.6M1.2 2.9l2.2 0.1" stroke="#48c4bc" stroke-width="2.2" stroke-linecap="round" stroke-opacity="0.80" fill="none"/>
<path d="M21.5 30.1l2.0 1.6M33.2 24.7l2.3 1.1M28.2 17.2l1.7 1.9" stroke="#48c4bc" stroke-width="2.6" stroke-linecap="round" stroke-opacity="0.80" fill="none"/>
<path d="M30.0 38.3l0.6 1.7M43.9 61.7l-0.4 1.8M28.9 30.0l-1.1 1.4" stroke="#48c4bc" stroke-width="1.8" stroke-linecap="round" stroke-opacity="0.80" fill="none"/>
<path d="M20.3 9.2l1.4 1.9M30.6 50.0l-1.2 2.0" stroke="#48c4bc" stroke-width="2.3" stroke-linecap="round" stroke-opacity="0.80" fill="none"/>
<path d="M19.3 27.7l1.0 0.6M23.0 31.4l1.2 0.1" stroke="#48c4bc" stroke-width="1.2" stroke-linecap="round" stroke-opacity="0.80" fill="none"/>
<path d="M27.5 53.1l-0.3 0.3" stroke="#dc2034" stroke-width="1.4" stroke-linecap="round" stroke-opacity="0.80" fill="none"/>
<path d="M89.2 71.1l-0.5 0.2" stroke="#dc2034" stroke-width="1.7" stroke-linecap="round" stroke-opacity="0.80" fill="none"/>
<path d="M37.7 -26.9l0.7 0.1" stroke="#dc2034" stroke-width="2.2" stroke-linecap="round" stroke-opacity="0.80" fill="none"/>
</svg>
<text x="784.6" y="259.8" font-size="8.30" fill="#ffffff" font-weight="bold" style="stroke:none">HCC</text>
<text x="812.0" y="287.0" font-size="8.30" text-anchor="middle" fill="#ffffff" font-weight="bold" style="stroke:none">HLA-DR<tspan font-size="4.57" dy="-2.99">+</tspan></text>
<text x="812.0" y="295.6" font-size="8.30" text-anchor="middle" fill="#ffffff" font-weight="bold" style="stroke:none">NEU</text>
<rect x="829.30" y="299.40" width="15.50" height="15.00" fill="#243a7a"/>
<circle cx="837.3" cy="307.4" r="4.50" fill="#40a0c0"/>
<circle cx="837.3" cy="307.4" r="3.00" fill="#2a2a90"/>
<circle cx="835.3" cy="306.4" r="1.30" fill="#e03040"/>
<circle cx="840.3" cy="309.4" r="1.50" fill="#50c050"/>
<rect x="829.30" y="299.40" width="15.50" height="15.00" fill="none" stroke="#d8d8d8" stroke-width="0.70"/>
<svg x="638.60" y="318.50" width="69.50" height="69.00" viewBox="0 0 69.50 69.00" overflow="hidden">
<rect x="0.00" y="0.00" width="69.50" height="69.00" fill="#131a58"/>
<path d="M16.4 7.1m-1.4 0a1.4 1.4 0 1 0 2.8 0a1.4 1.4 0 1 0 -2.8 0M10.8 4.6m-1.4 0a1.4 1.4 0 1 0 2.8 0a1.4 1.4 0 1 0 -2.8 0M63.8 55.2m-1.8 0a1.8 1.8 0 1 0 3.5 0a1.8 1.8 0 1 0 -3.5 0M15.4 37.0m-1.3 0a1.3 1.3 0 1 0 2.6 0a1.3 1.3 0 1 0 -2.6 0M12.0 7.3m-1.2 0a1.2 1.2 0 1 0 2.4 0a1.2 1.2 0 1 0 -2.4 0M64.5 57.2m-1.8 0a1.8 1.8 0 1 0 3.6 0a1.8 1.8 0 1 0 -3.6 0M55.6 13.3m-1.3 0a1.3 1.3 0 1 0 2.6 0a1.3 1.3 0 1 0 -2.6 0M43.6 50.5m-1.9 0a1.9 1.9 0 1 0 3.7 0a1.9 1.9 0 1 0 -3.7 0M61.2 6.0m-1.6 0a1.6 1.6 0 1 0 3.2 0a1.6 1.6 0 1 0 -3.2 0M46.7 34.9m-1.2 0a1.2 1.2 0 1 0 2.4 0a1.2 1.2 0 1 0 -2.4 0M32.9 6.2m-1.9 0a1.9 1.9 0 1 0 3.9 0a1.9 1.9 0 1 0 -3.9 0M60.2 37.8m-1.3 0a1.3 1.3 0 1 0 2.6 0a1.3 1.3 0 1 0 -2.6 0M63.2 39.5m-1.9 0a1.9 1.9 0 1 0 3.8 0a1.9 1.9 0 1 0 -3.8 0M58.9 35.1m-1.4 0a1.4 1.4 0 1 0 2.8 0a1.4 1.4 0 1 0 -2.8 0M41.6 29.7m-1.2 0a1.2 1.2 0 1 0 2.3 0a1.2 1.2 0 1 0 -2.3 0M21.2 56.1m-1.0 0a1.0 1.0 0 1 0 2.1 0a1.0 1.0 0 1 0 -2.1 0M3.2 43.2m-1.3 0a1.3 1.3 0 1 0 2.6 0a1.3 1.3 0 1 0 -2.6 0M37.2 32.5m-1.3 0a1.3 1.3 0 1 0 2.7 0a1.3 1.3 0 1 0 -2.7 0M69.3 13.5m-1.4 0a1.4 1.4 0 1 0 2.8 0a1.4 1.4 0 1 0 -2.8 0M14.1 43.7m-1.3 0a1.3 1.3 0 1 0 2.6 0a1.3 1.3 0 1 0 -2.6 0M24.7 51.5m-1.3 0a1.3 1.3 0 1 0 2.6 0a1.3 1.3 0 1 0 -2.6 0M38.8 62.4m-1.1 0a1.1 1.1 0 1 0 2.2 0a1.1 1.1 0 1 0 -2.2 0M4.3 15.8m-1.8 0a1.8 1.8 0 1 0 3.5 0a1.8 1.8 0 1 0 -3.5 0M42.8 16.4m-1.3 0a1.3 1.3 0 1 0 2.7 0a1.3 1.3 0 1 0 -2.7 0M12.3 31.7m-1.0 0a1.0 1.0 0 1 0 2.1 0a1.0 1.0 0 1 0 -2.1 0M48.5 61.8m-2.0 0a2.0 2.0 0 1 0 3.9 0a2.0 2.0 0 1 0 -3.9 0M51.1 66.2m-1.0 0a1.0 1.0 0 1 0 2.0 0a1.0 1.0 0 1 0 -2.0 0M20.1 66.7m-1.8 0a1.8 1.8 0 1 0 3.6 0a1.8 1.8 0 1 0 -3.6 0M28.5 65.1m-1.6 0a1.6 1.6 0 1 0 3.2 0a1.6 1.6 0 1 0 -3.2 0M56.8 20.2m-1.2 0a1.2 1.2 0 1 0 2.4 0a1.2 1.2 0 1 0 -2.4 0M30.9 9.4m-1.4 0a1.4 1.4 0 1 0 2.8 0a1.4 1.4 0 1 0 -2.8 0M66.8 22.9m-1.0 0a1.0 1.0 0 1 0 2.0 0a1.0 1.0 0 1 0 -2.0 0M3.1 11.7m-1.8 0a1.8 1.8 0 1 0 3.6 0a1.8 1.8 0 1 0 -3.6 0M25.2 20.0m-1.1 0a1.1 1.1 0 1 0 2.2 0a1.1 1.1 0 1 0 -2.2 0M68.2 29.3m-1.2 0a1.2 1.2 0 1 0 2.4 0a1.2 1.2 0 1 0 -2.4 0M4.1 3.8m-1.2 0a1.2 1.2 0 1 0 2.3 0a1.2 1.2 0 1 0 -2.3 0M47.0 10.3m-1.0 0a1.0 1.0 0 1 0 2.1 0a1.0 1.0 0 1 0 -2.1 0M34.1 17.2m-2.0 0a2.0 2.0 0 1 0 4.0 0a2.0 2.0 0 1 0 -4.0 0M8.5 36.5m-1.8 0a1.8 1.8 0 1 0 3.5 0a1.8 1.8 0 1 0 -3.5 0M28.4 68.1m-1.5 0a1.5 1.5 0 1 0 3.0 0a1.5 1.5 0 1 0 -3.0 0M16.8 28.3m-1.0 0a1.0 1.0 0 1 0 2.1 0a1.0 1.0 0 1 0 -2.1 0M29.3 17.2m-1.9 0a1.9 1.9 0 1 0 3.8 0a1.9 1.9 0 1 0 -3.8 0M57.8 34.4m-1.0 0a1.0 1.0 0 1 0 2.1 0a1.0 1.0 0 1 0 -2.1 0M17.7 16.7m-1.2 0a1.2 1.2 0 1 0 2.4 0a1.2 1.2 0 1 0 -2.4 0M16.1 60.0m-1.1 0a1.1 1.1 0 1 0 2.3 0a1.1 1.1 0 1 0 -2.3 0M3.6 64.0m-1.6 0a1.6 1.6 0 1 0 3.1 0a1.6 1.6 0 1 0 -3.1 0M68.8 27.8m-1.9 0a1.9 1.9 0 1 0 3.8 0a1.9 1.9 0 1 0 -3.8 0M45.5 54.6m-1.7 0a1.7 1.7 0 1 0 3.5 0a1.7 1.7 0 1 0 -3.5 0M34.4 6.4m-1.2 0a1.2 1.2 0 1 0 2.4 0a1.2 1.2 0 1 0 -2.4 0M60.7 62.1m-1.9 0a1.9 1.9 0 1 0 3.8 0a1.9 1.9 0 1 0 -3.8 0M23.4 45.3m-1.8 0a1.8 1.8 0 1 0 3.6 0a1.8 1.8 0 1 0 -3.6 0M44.7 56.2m-1.5 0a1.5 1.5 0 1 0 3.1 0a1.5 1.5 0 1 0 -3.1 0M45.5 47.3m-1.3 0a1.3 1.3 0 1 0 2.5 0a1.3 1.3 0 1 0 -2.5 0M64.1 66.0m-1.1 0a1.1 1.1 0 1 0 2.1 0a1.1 1.1 0 1 0 -2.1 0M67.5 66.4m-1.7 0a1.7 1.7 0 1 0 3.3 0a1.7 1.7 0 1 0 -3.3 0M3.1 62.0m-1.1 0a1.1 1.1 0 1 0 2.3 0a1.1 1.1 0 1 0 -2.3 0M67.3 46.0m-1.1 0a1.1 1.1 0 1 0 2.1 0a1.1 1.1 0 1 0 -2.1 0M11.6 43.8m-1.6 0a1.6 1.6 0 1 0 3.1 0a1.6 1.6 0 1 0 -3.1 0M51.9 64.0m-1.2 0a1.2 1.2 0 1 0 2.4 0a1.2 1.2 0 1 0 -2.4 0M0.2 63.6m-1.0 0a1.0 1.0 0 1 0 2.0 0a1.0 1.0 0 1 0 -2.0 0M60.9 8.0m-1.8 0a1.8 1.8 0 1 0 3.6 0a1.8 1.8 0 1 0 -3.6 0M54.4 60.6m-1.6 0a1.6 1.6 0 1 0 3.1 0a1.6 1.6 0 1 0 -3.1 0M61.1 13.9m-1.7 0a1.7 1.7 0 1 0 3.3 0a1.7 1.7 0 1 0 -3.3 0M23.0 61.5m-1.8 0a1.8 1.8 0 1 0 3.5 0a1.8 1.8 0 1 0 -3.5 0M32.8 36.3m-1.0 0a1.0 1.0 0 1 0 2.1 0a1.0 1.0 0 1 0 -2.1 0M2.4 41.0m-1.5 0a1.5 1.5 0 1 0 3.0 0a1.5 1.5 0 1 0 -3.0 0M60.1 42.0m-1.1 0a1.1 1.1 0 1 0 2.3 0a1.1 1.1 0 1 0 -2.3 0M25.2 53.0m-1.5 0a1.5 1.5 0 1 0 3.0 0a1.5 1.5 0 1 0 -3.0 0M0.7 57.8m-1.8 0a1.8 1.8 0 1 0 3.7 0a1.8 1.8 0 1 0 -3.7 0M5.9 37.5m-1.4 0a1.4 1.4 0 1 0 2.8 0a1.4 1.4 0 1 0 -2.8 0M54.7 21.5m-1.2 0a1.2 1.2 0 1 0 2.5 0a1.2 1.2 0 1 0 -2.5 0M33.8 66.7m-1.1 0a1.1 1.1 0 1 0 2.2 0a1.1 1.1 0 1 0 -2.2 0M8.0 42.8m-1.9 0a1.9 1.9 0 1 0 3.8 0a1.9 1.9 0 1 0 -3.8 0M35.6 29.9m-1.9 0a1.9 1.9 0 1 0 3.7 0a1.9 1.9 0 1 0 -3.7 0M54.0 4.6m-1.9 0a1.9 1.9 0 1 0 3.8 0a1.9 1.9 0 1 0 -3.8 0M13.6 20.9m-1.8 0a1.8 1.8 0 1 0 3.7 0a1.8 1.8 0 1 0 -3.7 0M29.4 55.1m-1.2 0a1.2 1.2 0 1 0 2.3 0a1.2 1.2 0 1 0 -2.3 0M60.8 12.2m-1.1 0a1.1 1.1 0 1 0 2.3 0a1.1 1.1 0 1 0 -2.3 0M34.4 23.4m-1.5 0a1.5 1.5 0 1 0 3.1 0a1.5 1.5 0 1 0 -3.1 0M62.8 49.0m-1.0 0a1.0 1.0 0 1 0 2.0 0a1.0 1.0 0 1 0 -2.0 0M21.7 37.6m-1.5 0a1.5 1.5 0 1 0 3.0 0a1.5 1.5 0 1 0 -3.0 0M49.7 33.4m-1.1 0a1.1 1.1 0 1 0 2.2 0a1.1 1.1 0 1 0 -2.2 0M17.1 58.5m-1.4 0a1.4 1.4 0 1 0 2.7 0a1.4 1.4 0 1 0 -2.7 0M53.3 68.0m-1.6 0a1.6 1.6 0 1 0 3.3 0a1.6 1.6 0 1 0 -3.3 0M47.0 42.1m-1.3 0a1.3 1.3 0 1 0 2.6 0a1.3 1.3 0 1 0 -2.6 0M63.4 32.2m-1.9 0a1.9 1.9 0 1 0 3.8 0a1.9 1.9 0 1 0 -3.8 0M21.2 59.9m-1.8 0a1.8 1.8 0 1 0 3.6 0a1.8 1.8 0 1 0 -3.6 0M42.6 30.5m-1.1 0a1.1 1.1 0 1 0 2.3 0a1.1 1.1 0 1 0 -2.3 0M53.6 25.0m-1.7 0a1.7 1.7 0 1 0 3.3 0a1.7 1.7 0 1 0 -3.3 0M9.3 5.7m-1.1 0a1.1 1.1 0 1 0 2.3 0a1.1 1.1 0 1 0 -2.3 0M56.2 12.3m-1.9 0a1.9 1.9 0 1 0 3.8 0a1.9 1.9 0 1 0 -3.8 0M25.9 39.7m-1.4 0a1.4 1.4 0 1 0 2.7 0a1.4 1.4 0 1 0 -2.7 0M43.1 6.4m-1.4 0a1.4 1.4 0 1 0 2.8 0a1.4 1.4 0 1 0 -2.8 0M65.1 12.4m-1.7 0a1.7 1.7 0 1 0 3.3 0a1.7 1.7 0 1 0 -3.3 0M22.7 20.7m-1.0 0a1.0 1.0 0 1 0 2.0 0a1.0 1.0 0 1 0 -2.0 0M1.4 65.5m-1.8 0a1.8 1.8 0 1 0 3.7 0a1.8 1.8 0 1 0 -3.7 0M55.7 55.7m-2.0 0a2.0 2.0 0 1 0 3.9 0a2.0 2.0 0 1 0 -3.9 0M11.0 40.3m-1.5 0a1.5 1.5 0 1 0 3.0 0a1.5 1.5 0 1 0 -3.0 0M39.9 64.7m-1.8 0a1.8 1.8 0 1 0 3.5 0a1.8 1.8 0 1 0 -3.5 0M67.3 8.1m-1.7 0a1.7 1.7 0 1 0 3.3 0a1.7 1.7 0 1 0 -3.3 0M46.9 51.4m-1.6 0a1.6 1.6 0 1 0 3.2 0a1.6 1.6 0 1 0 -3.2 0M57.8 20.9m-1.9 0a1.9 1.9 0 1 0 3.9 0a1.9 1.9 0 1 0 -3.9 0M28.2 41.3m-1.9 0a1.9 1.9 0 1 0 3.8 0a1.9 1.9 0 1 0 -3.8 0M48.9 21.4m-1.2 0a1.2 1.2 0 1 0 2.5 0a1.2 1.2 0 1 0 -2.5 0M22.7 43.2m-2.0 0a2.0 2.0 0 1 0 4.0 0a2.0 2.0 0 1 0 -4.0 0M62.5 27.6m-1.4 0a1.4 1.4 0 1 0 2.8 0a1.4 1.4 0 1 0 -2.8 0M56.8 19.6m-1.4 0a1.4 1.4 0 1 0 2.8 0a1.4 1.4 0 1 0 -2.8 0M0.9 12.7m-1.5 0a1.5 1.5 0 1 0 3.1 0a1.5 1.5 0 1 0 -3.1 0M48.2 42.4m-1.4 0a1.4 1.4 0 1 0 2.7 0a1.4 1.4 0 1 0 -2.7 0M66.1 43.0m-1.2 0a1.2 1.2 0 1 0 2.3 0a1.2 1.2 0 1 0 -2.3 0M4.7 67.2m-2.0 0a2.0 2.0 0 1 0 4.0 0a2.0 2.0 0 1 0 -4.0 0M63.9 41.7m-1.3 0a1.3 1.3 0 1 0 2.6 0a1.3 1.3 0 1 0 -2.6 0M6.3 17.8m-1.2 0a1.2 1.2 0 1 0 2.4 0a1.2 1.2 0 1 0 -2.4 0M64.5 61.6m-1.8 0a1.8 1.8 0 1 0 3.6 0a1.8 1.8 0 1 0 -3.6 0M10.3 16.4m-1.3 0a1.3 1.3 0 1 0 2.6 0a1.3 1.3 0 1 0 -2.6 0M65.9 11.3m-1.8 0a1.8 1.8 0 1 0 3.6 0a1.8 1.8 0 1 0 -3.6 0M47.3 37.8m-2.0 0a2.0 2.0 0 1 0 3.9 0a2.0 2.0 0 1 0 -3.9 0M18.2 36.2m-1.2 0a1.2 1.2 0 1 0 2.3 0a1.2 1.2 0 1 0 -2.3 0M6.7 2.2m-1.3 0a1.3 1.3 0 1 0 2.6 0a1.3 1.3 0 1 0 -2.6 0M8.5 4.2m-2.0 0a2.0 2.0 0 1 0 4.0 0a2.0 2.0 0 1 0 -4.0 0M20.1 61.4m-1.7 0a1.7 1.7 0 1 0 3.4 0a1.7 1.7 0 1 0 -3.4 0M50.8 45.2m-2.0 0a2.0 2.0 0 1 0 3.9 0a2.0 2.0 0 1 0 -3.9 0M61.1 49.6m-1.6 0a1.6 1.6 0 1 0 3.1 0a1.6 1.6 0 1 0 -3.1 0M48.2 49.9m-1.6 0a1.6 1.6 0 1 0 3.1 0a1.6 1.6 0 1 0 -3.1 0M34.9 10.6m-1.8 0a1.8 1.8 0 1 0 3.7 0a1.8 1.8 0 1 0 -3.7 0M33.7 4.7m-1.2 0a1.2 1.2 0 1 0 2.3 0a1.2 1.2 0 1 0 -2.3 0M60.8 17.7m-1.4 0a1.4 1.4 0 1 0 2.8 0a1.4 1.4 0 1 0 -2.8 0M47.4 59.5m-1.3 0a1.3 1.3 0 1 0 2.7 0a1.3 1.3 0 1 0 -2.7 0M26.9 29.2m-1.0 0a1.0 1.0 0 1 0 2.1 0a1.0 1.0 0 1 0 -2.1 0M60.9 1.3m-2.0 0a2.0 2.0 0 1 0 3.9 0a2.0 2.0 0 1 0 -3.9 0M10.6 10.8m-1.8 0a1.8 1.8 0 1 0 3.7 0a1.8 1.8 0 1 0 -3.7 0M57.2 16.0m-1.6 0a1.6 1.6 0 1 0 3.1 0a1.6 1.6 0 1 0 -3.1 0M33.1 49.6m-1.2 0a1.2 1.2 0 1 0 2.4 0a1.2 1.2 0 1 0 -2.4 0M57.4 68.8m-1.7 0a1.7 1.7 0 1 0 3.4 0a1.7 1.7 0 1 0 -3.4 0M64.0 64.7m-1.4 0a1.4 1.4 0 1 0 2.8 0a1.4 1.4 0 1 0 -2.8 0M58.9 57.5m-1.6 0a1.6 1.6 0 1 0 3.2 0a1.6 1.6 0 1 0 -3.2 0M7.4 42.7m-1.9 0a1.9 1.9 0 1 0 3.8 0a1.9 1.9 0 1 0 -3.8 0M21.2 44.6m-1.9 0a1.9 1.9 0 1 0 3.8 0a1.9 1.9 0 1 0 -3.8 0M41.7 2.6m-1.6 0a1.6 1.6 0 1 0 3.3 0a1.6 1.6 0 1 0 -3.3 0M17.8 59.2m-1.7 0a1.7 1.7 0 1 0 3.3 0a1.7 1.7 0 1 0 -3.3 0M21.4 61.8m-1.6 0a1.6 1.6 0 1 0 3.3 0a1.6 1.6 0 1 0 -3.3 0M23.6 57.6m-1.9 0a1.9 1.9 0 1 0 3.8 0a1.9 1.9 0 1 0 -3.8 0M62.1 60.9m-1.7 0a1.7 1.7 0 1 0 3.3 0a1.7 1.7 0 1 0 -3.3 0M48.6 41.7m-1.5 0a1.5 1.5 0 1 0 3.1 0a1.5 1.5 0 1 0 -3.1 0M68.6 24.4m-1.1 0a1.1 1.1 0 1 0 2.2 0a1.1 1.1 0 1 0 -2.2 0M49.6 34.4m-1.5 0a1.5 1.5 0 1 0 3.1 0a1.5 1.5 0 1 0 -3.1 0M41.6 17.2m-1.2 0a1.2 1.2 0 1 0 2.4 0a1.2 1.2 0 1 0 -2.4 0M5.0 53.9m-1.9 0a1.9 1.9 0 1 0 3.8 0a1.9 1.9 0 1 0 -3.8 0M48.4 8.1m-2.0 0a2.0 2.0 0 1 0 4.0 0a2.0 2.0 0 1 0 -4.0 0M57.5 35.1m-1.0 0a1.0 1.0 0 1 0 2.0 0a1.0 1.0 0 1 0 -2.0 0M58.6 43.0m-1.6 0a1.6 1.6 0 1 0 3.2 0a1.6 1.6 0 1 0 -3.2 0M1.3 50.6m-1.0 0a1.0 1.0 0 1 0 2.1 0a1.0 1.0 0 1 0 -2.1 0M33.2 10.0m-1.4 0a1.4 1.4 0 1 0 2.7 0a1.4 1.4 0 1 0 -2.7 0M61.9 51.6m-1.8 0a1.8 1.8 0 1 0 3.6 0a1.8 1.8 0 1 0 -3.6 0M20.7 26.8m-1.6 0a1.6 1.6 0 1 0 3.2 0a1.6 1.6 0 1 0 -3.2 0M2.4 28.4m-2.0 0a2.0 2.0 0 1 0 3.9 0a2.0 2.0 0 1 0 -3.9 0M52.4 59.5m-1.3 0a1.3 1.3 0 1 0 2.6 0a1.3 1.3 0 1 0 -2.6 0M48.0 54.4m-1.7 0a1.7 1.7 0 1 0 3.4 0a1.7 1.7 0 1 0 -3.4 0M30.4 12.1m-1.0 0a1.0 1.0 0 1 0 2.0 0a1.0 1.0 0 1 0 -2.0 0M61.6 64.3m-1.3 0a1.3 1.3 0 1 0 2.6 0a1.3 1.3 0 1 0 -2.6 0M52.5 28.1m-1.6 0a1.6 1.6 0 1 0 3.3 0a1.6 1.6 0 1 0 -3.3 0M58.5 22.2m-1.6 0a1.6 1.6 0 1 0 3.2 0a1.6 1.6 0 1 0 -3.2 0M17.8 35.3m-1.0 0a1.0 1.0 0 1 0 2.1 0a1.0 1.0 0 1 0 -2.1 0M18.3 19.8m-1.9 0a1.9 1.9 0 1 0 3.8 0a1.9 1.9 0 1 0 -3.8 0M9.2 52.3m-1.1 0a1.1 1.1 0 1 0 2.2 0a1.1 1.1 0 1 0 -2.2 0M68.6 11.5m-1.1 0a1.1 1.1 0 1 0 2.2 0a1.1 1.1 0 1 0 -2.2 0M14.7 64.4m-1.7 0a1.7 1.7 0 1 0 3.3 0a1.7 1.7 0 1 0 -3.3 0M61.9 34.4m-1.1 0a1.1 1.1 0 1 0 2.2 0a1.1 1.1 0 1 0 -2.2 0M23.7 31.4m-2.0 0a2.0 2.0 0 1 0 4.0 0a2.0 2.0 0 1 0 -4.0 0M11.6 16.8m-1.8 0a1.8 1.8 0 1 0 3.7 0a1.8 1.8 0 1 0 -3.7 0M7.9 67.0m-1.3 0a1.3 1.3 0 1 0 2.6 0a1.3 1.3 0 1 0 -2.6 0M39.4 45.6m-1.9 0a1.9 1.9 0 1 0 3.8 0a1.9 1.9 0 1 0 -3.8 0M5.3 58.4m-1.2 0a1.2 1.2 0 1 0 2.4 0a1.2 1.2 0 1 0 -2.4 0M49.9 1.9m-1.8 0a1.8 1.8 0 1 0 3.5 0a1.8 1.8 0 1 0 -3.5 0M12.6 14.2m-1.0 0a1.0 1.0 0 1 0 2.1 0a1.0 1.0 0 1 0 -2.1 0M22.5 22.6m-2.0 0a2.0 2.0 0 1 0 4.0 0a2.0 2.0 0 1 0 -4.0 0M42.2 25.1m-2.0 0a2.0 2.0 0 1 0 4.0 0a2.0 2.0 0 1 0 -4.0 0M11.9 14.8m-2.0 0a2.0 2.0 0 1 0 3.9 0a2.0 2.0 0 1 0 -3.9 0M66.1 47.2m-2.0 0a2.0 2.0 0 1 0 4.0 0a2.0 2.0 0 1 0 -4.0 0M4.0 62.3m-1.7 0a1.7 1.7 0 1 0 3.4 0a1.7 1.7 0 1 0 -3.4 0M46.4 58.2m-1.1 0a1.1 1.1 0 1 0 2.2 0a1.1 1.1 0 1 0 -2.2 0M13.9 9.5m-1.5 0a1.5 1.5 0 1 0 3.0 0a1.5 1.5 0 1 0 -3.0 0M38.0 37.3m-1.4 0a1.4 1.4 0 1 0 2.7 0a1.4 1.4 0 1 0 -2.7 0M51.7 57.9m-1.8 0a1.8 1.8 0 1 0 3.5 0a1.8 1.8 0 1 0 -3.5 0M2.6 10.6m-1.2 0a1.2 1.2 0 1 0 2.4 0a1.2 1.2 0 1 0 -2.4 0M16.6 39.6m-1.2 0a1.2 1.2 0 1 0 2.4 0a1.2 1.2 0 1 0 -2.4 0M43.4 23.7m-1.4 0a1.4 1.4 0 1 0 2.7 0a1.4 1.4 0 1 0 -2.7 0M49.2 65.2m-1.2 0a1.2 1.2 0 1 0 2.4 0a1.2 1.2 0 1 0 -2.4 0M24.2 67.7m-1.2 0a1.2 1.2 0 1 0 2.4 0a1.2 1.2 0 1 0 -2.4 0M1.9 13.2m-1.8 0a1.8 1.8 0 1 0 3.7 0a1.8 1.8 0 1 0 -3.7 0M50.8 64.8m-1.5 0a1.5 1.5 0 1 0 3.0 0a1.5 1.5 0 1 0 -3.0 0M2.9 21.1m-1.7 0a1.7 1.7 0 1 0 3.4 0a1.7 1.7 0 1 0 -3.4 0M27.3 9.6m-1.4 0a1.4 1.4 0 1 0 2.8 0a1.4 1.4 0 1 0 -2.8 0M32.2 24.6m-1.4 0a1.4 1.4 0 1 0 2.9 0a1.4 1.4 0 1 0 -2.9 0M9.5 2.1m-1.8 0a1.8 1.8 0 1 0 3.6 0a1.8 1.8 0 1 0 -3.6 0M50.9 28.9m-1.1 0a1.1 1.1 0 1 0 2.2 0a1.1 1.1 0 1 0 -2.2 0M20.5 38.5m-1.9 0a1.9 1.9 0 1 0 3.8 0a1.9 1.9 0 1 0 -3.8 0M33.5 67.2m-1.5 0a1.5 1.5 0 1 0 3.1 0a1.5 1.5 0 1 0 -3.1 0M12.6 42.4m-1.6 0a1.6 1.6 0 1 0 3.2 0a1.6 1.6 0 1 0 -3.2 0M41.6 50.0m-1.0 0a1.0 1.0 0 1 0 2.0 0a1.0 1.0 0 1 0 -2.0 0M30.4 55.2m-1.1 0a1.1 1.1 0 1 0 2.3 0a1.1 1.1 0 1 0 -2.3 0M3.0 12.6m-1.3 0a1.3 1.3 0 1 0 2.6 0a1.3 1.3 0 1 0 -2.6 0M30.2 21.7m-1.6 0a1.6 1.6 0 1 0 3.3 0a1.6 1.6 0 1 0 -3.3 0M11.8 23.8m-1.7 0a1.7 1.7 0 1 0 3.4 0a1.7 1.7 0 1 0 -3.4 0M37.8 66.2m-1.9 0a1.9 1.9 0 1 0 3.9 0a1.9 1.9 0 1 0 -3.9 0M17.9 23.1m-1.5 0a1.5 1.5 0 1 0 3.1 0a1.5 1.5 0 1 0 -3.1 0M37.8 25.2m-1.9 0a1.9 1.9 0 1 0 3.7 0a1.9 1.9 0 1 0 -3.7 0M13.7 32.5m-1.1 0a1.1 1.1 0 1 0 2.2 0a1.1 1.1 0 1 0 -2.2 0M61.4 41.1m-2.0 0a2.0 2.0 0 1 0 4.0 0a2.0 2.0 0 1 0 -4.0 0M10.0 49.1m-1.6 0a1.6 1.6 0 1 0 3.2 0a1.6 1.6 0 1 0 -3.2 0M3.6 56.6m-1.9 0a1.9 1.9 0 1 0 3.7 0a1.9 1.9 0 1 0 -3.7 0M5.6 65.0m-1.8 0a1.8 1.8 0 1 0 3.6 0a1.8 1.8 0 1 0 -3.6 0M42.0 37.5m-1.3 0a1.3 1.3 0 1 0 2.5 0a1.3 1.3 0 1 0 -2.5 0M4.0 32.8m-1.9 0a1.9 1.9 0 1 0 3.7 0a1.9 1.9 0 1 0 -3.7 0M14.5 32.6m-1.3 0a1.3 1.3 0 1 0 2.6 0a1.3 1.3 0 1 0 -2.6 0M48.0 66.2m-1.9 0a1.9 1.9 0 1 0 3.8 0a1.9 1.9 0 1 0 -3.8 0M20.0 28.8m-1.0 0a1.0 1.0 0 1 0 2.0 0a1.0 1.0 0 1 0 -2.0 0M36.8 58.9m-1.8 0a1.8 1.8 0 1 0 3.7 0a1.8 1.8 0 1 0 -3.7 0M5.0 29.9m-1.1 0a1.1 1.1 0 1 0 2.2 0a1.1 1.1 0 1 0 -2.2 0M29.5 63.0m-1.3 0a1.3 1.3 0 1 0 2.6 0a1.3 1.3 0 1 0 -2.6 0M58.8 65.9m-1.8 0a1.8 1.8 0 1 0 3.6 0a1.8 1.8 0 1 0 -3.6 0M14.0 63.4m-1.9 0a1.9 1.9 0 1 0 3.8 0a1.9 1.9 0 1 0 -3.8 0M69.4 0.7m-1.0 0a1.0 1.0 0 1 0 2.0 0a1.0 1.0 0 1 0 -2.0 0M20.3 35.7m-1.4 0a1.4 1.4 0 1 0 2.8 0a1.4 1.4 0 1 0 -2.8 0M6.4 44.2m-1.7 0a1.7 1.7 0 1 0 3.3 0a1.7 1.7 0 1 0 -3.3 0M43.8 35.2m-1.5 0a1.5 1.5 0 1 0 3.1 0a1.5 1.5 0 1 0 -3.1 0M47.9 4.4m-1.4 0a1.4 1.4 0 1 0 2.9 0a1.4 1.4 0 1 0 -2.9 0M9.4 7.2m-1.8 0a1.8 1.8 0 1 0 3.5 0a1.8 1.8 0 1 0 -3.5 0M22.5 23.4m-1.3 0a1.3 1.3 0 1 0 2.6 0a1.3 1.3 0 1 0 -2.6 0M40.8 8.2m-1.6 0a1.6 1.6 0 1 0 3.3 0a1.6 1.6 0 1 0 -3.3 0" fill="#2838b0" fill-opacity="0.5"/>
<ellipse cx="7.0" cy="58.6" rx="3.9" ry="5.9" transform="rotate(0 7.0 58.6)" fill="#080a24" fill-opacity="0.6"/>
<path d="M48.5 32.1l-1.3 1.1M71.5 -47.1l1.5 0.7" stroke="#36b04e" stroke-width="1.4" stroke-linecap="round" stroke-opacity="0.80" fill="none"/>
<path d="M8.3 20.9l0.8 1.8M10.0 25.5l1.1 1.6M21.6 48.4l0.9 1.7M49.5 62.3l-1.2 1.5M-40.4 2.1l-1.9 0.4M18.9 30.4l1.9 0.5" stroke="#36b04e" stroke-width="1.6" stroke-linecap="round" stroke-opacity="0.80" fill="none"/>
<path d="M20.8 13.6l1.7 1.6M4.7 20.6l2.0 1.4M50.3 47.3l1.6 1.8M8.5 60.6l-1.5 1.9M57.4 3.5l1.7 1.7" stroke="#36b04e" stroke-width="2.0" stroke-linecap="round" stroke-opacity="0.80" fill="none"/>
<path d="M16.2 19.7l-1.0 2.0M22.9 13.5l-2.2 0.4M43.3 62.0l-2.1 0.8" stroke="#36b04e" stroke-width="1.9" stroke-linecap="round" stroke-opacity="0.80" fill="none"/>
<path d="M39.7 20.8l-2.6 0.4M31.1 29.5l-1.9 1.8M42.0 50.9l1.7 2.1M23.0 -40.5l0.6 2.6" stroke="#36b04e" stroke-width="2.2" stroke-linecap="round" stroke-opacity="0.80" fill="none"/>
<path d="M17.6 29.9l0.1 1.8M13.8 22.1l-1.8 0.2M3.4 -10.6l-1.6 0.6" stroke="#36b04e" stroke-width="1.5" stroke-linecap="round" stroke-opacity="0.80" fill="none"/>
<path d="M17.1 30.5l1.4 2.1M29.9 19.0l-2.4 0.9M66.3 60.3l-1.3 2.1M56.8 51.9l1.8 1.8M35.0 55.3l2.2 1.3M19.0 52.0l2.3 0.9" stroke="#36b04e" stroke-width="2.1" stroke-linecap="round" stroke-opacity="0.80" fill="none"/>
<path d="M35.7 12.8l-1.7 1.0M2.1 29.2l2.0 0.6M9.1 42.7l1.7 1.3M13.0 61.9l2.0 0.5M94.5 19.0l-0.3 2.1" stroke="#36b04e" stroke-width="1.7" stroke-linecap="round" stroke-opacity="0.80" fill="none"/>
<path d="M21.7 27.2l3.1 0.3M21.6 22.9l0.6 3.0M18.9 12.6l1.5 2.7M26.6 54.2l-2.3 2.0" stroke="#36b04e" stroke-width="2.6" stroke-linecap="round" stroke-opacity="0.80" fill="none"/>
<path d="M45.3 24.1l-0.7 1.3M9.9 33.3l0.6 1.3M14.1 27.1l0.9 1.2M59.2 66.5l-0.9 1.2M9.6 52.3l1.2 0.8M15.5 50.4l0.1 1.5M14.3 9.3l0.5 1.4" stroke="#36b04e" stroke-width="1.2" stroke-linecap="round" stroke-opacity="0.80" fill="none"/>
<path d="M14.6 27.0l-1.5 1.6M35.0 63.1l-1.9 1.0M17.3 55.1l-1.4 1.7" stroke="#36b04e" stroke-width="1.8" stroke-linecap="round" stroke-opacity="0.80" fill="none"/>
<path d="M18.2 27.1l2.6 0.8M34.5 63.6l-2.1 1.7M61.8 61.1l2.4 1.3M8.8 51.7l2.7 0.5M44.9 12.5l-2.7 0.6" stroke="#36b04e" stroke-width="2.3" stroke-linecap="round" stroke-opacity="0.80" fill="none"/>
<path d="M0.6 34.7l-1.6 0.4" stroke="#36b04e" stroke-width="1.3" stroke-linecap="round" stroke-opacity="0.80" fill="none"/>
<path d="M46.4 7.8l-1.7 2.2M24.5 61.0l-0.7 2.8M70.6 59.1l1.7 2.4M13.2 56.6l1.4 2.5M21.9 47.6l-2.6 1.4M56.2 71.7l-0.2 2.9" stroke="#36b04e" stroke-width="2.4" stroke-linecap="round" stroke-opacity="0.80" fill="none"/>
<path d="M50.9 42.2l-2.1 2.2" stroke="#36b04e" stroke-width="2.5" stroke-linecap="round" stroke-opacity="0.80" fill="none"/>
<path d="M28.4 21.2l0.6 0.8M17.6 43.3l0.7 0.7" stroke="#dc2034" stroke-width="2.4" stroke-linecap="round" stroke-opacity="0.85" fill="none"/>
<path d="M36.4 8.4l-0.6 0.4M24.7 26.7l0.0 0.7M46.8 17.3l-0.6 0.5M30.8 22.2l-0.5 0.6M62.8 65.7l0.3 0.7" stroke="#dc2034" stroke-width="1.9" stroke-linecap="round" stroke-opacity="0.85" fill="none"/>
<path d="M26.5 17.6l1.2 0.0M51.5 61.8l1.2 0.3" stroke="#dc2034" stroke-width="3.1" stroke-linecap="round" stroke-opacity="0.85" fill="none"/>
<path d="M34.9 15.5l0.9 0.6M25.4 35.9l-0.8 0.8M19.8 49.3l0.6 0.9M16.1 50.1l1.1 0.1" stroke="#dc2034" stroke-width="2.7" stroke-linecap="round" stroke-opacity="0.85" fill="none"/>
<path d="M23.8 22.6l0.6 0.4" stroke="#dc2034" stroke-width="1.8" stroke-linecap="round" stroke-opacity="0.85" fill="none"/>
<path d="M26.4 27.3l0.2 1.2" stroke="#dc2034" stroke-width="2.9" stroke-linecap="round" stroke-opacity="0.85" fill="none"/>
<path d="M61.1 57.6l0.8 0.3" stroke="#dc2034" stroke-width="2.0" stroke-linecap="round" stroke-opacity="0.85" fill="none"/>
<path d="M54.2 56.4l-1.2 0.3M16.1 43.0l1.0 0.7" stroke="#dc2034" stroke-width="3.0" stroke-linecap="round" stroke-opacity="0.85" fill="none"/>
<path d="M53.9 65.2l-0.4 1.0M61.2 64.8l0.3 1.0" stroke="#dc2034" stroke-width="2.6" stroke-linecap="round" stroke-opacity="0.85" fill="none"/>
<path d="M18.2 55.2l1.1 0.2M45.9 42.2l-0.4 1.0" stroke="#48c4bc" stroke-width="1.4" stroke-linecap="round" stroke-opacity="0.85" fill="none"/>
<path d="M16.4 57.4l0.6 1.2M12.3 65.7l1.3 0.5M43.1 30.3l-1.1 0.8" stroke="#48c4bc" stroke-width="1.7" stroke-linecap="round" stroke-opacity="0.85" fill="none"/>
<path d="M3.2 63.5l-1.2 1.4" stroke="#48c4bc" stroke-width="2.3" stroke-linecap="round" stroke-opacity="0.85" fill="none"/>
<path d="M21.3 32.9l-0.5 0.9" stroke="#48c4bc" stroke-width="1.3" stroke-linecap="round" stroke-opacity="0.85" fill="none"/>
<path d="M35.2 31.8l1.1 1.3" stroke="#48c4bc" stroke-width="2.2" stroke-linecap="round" stroke-opacity="0.85" fill="none"/>
</svg>
<text x="644.1" y="329.3" font-size="8.30" fill="#ffffff" font-weight="bold" style="stroke:none">STAD</text>
<text x="688.0" y="344.5" font-size="8.30" text-anchor="middle" fill="#ffffff" font-weight="bold" style="stroke:none">SPP1<tspan font-size="4.57" dy="-2.99">+</tspan></text>
<text x="688.0" y="354.5" font-size="8.30" text-anchor="middle" fill="#ffffff" font-weight="bold" style="stroke:none">NEU</text>
<rect x="689.60" y="370.00" width="15.50" height="15.00" fill="#1e2a70"/>
<circle cx="696.6" cy="376.0" r="3.00" fill="#40a8a8"/>
<circle cx="698.6" cy="380.0" r="2.20" fill="#e03040"/>
<circle cx="694.6" cy="380.0" r="1.80" fill="#e03040"/>
<rect x="689.60" y="370.00" width="15.50" height="15.00" fill="none" stroke="#d8d8d8" stroke-width="0.70"/>
<svg x="708.90" y="318.50" width="68.80" height="69.00" viewBox="0 0 68.80 69.00" overflow="hidden">
<rect x="0.00" y="0.00" width="68.80" height="69.00" fill="#131a58"/>
<path d="M42.9 51.2m-1.8 0a1.8 1.8 0 1 0 3.6 0a1.8 1.8 0 1 0 -3.6 0M64.8 51.1m-1.9 0a1.9 1.9 0 1 0 3.8 0a1.9 1.9 0 1 0 -3.8 0M2.0 32.1m-1.9 0a1.9 1.9 0 1 0 3.9 0a1.9 1.9 0 1 0 -3.9 0M44.6 62.2m-1.1 0a1.1 1.1 0 1 0 2.2 0a1.1 1.1 0 1 0 -2.2 0M32.3 17.0m-1.5 0a1.5 1.5 0 1 0 3.1 0a1.5 1.5 0 1 0 -3.1 0M39.5 0.9m-1.2 0a1.2 1.2 0 1 0 2.4 0a1.2 1.2 0 1 0 -2.4 0M19.2 63.2m-1.8 0a1.8 1.8 0 1 0 3.5 0a1.8 1.8 0 1 0 -3.5 0M11.0 55.0m-1.1 0a1.1 1.1 0 1 0 2.3 0a1.1 1.1 0 1 0 -2.3 0M42.5 8.7m-1.0 0a1.0 1.0 0 1 0 2.0 0a1.0 1.0 0 1 0 -2.0 0M60.0 14.5m-1.2 0a1.2 1.2 0 1 0 2.4 0a1.2 1.2 0 1 0 -2.4 0M67.6 60.2m-1.3 0a1.3 1.3 0 1 0 2.6 0a1.3 1.3 0 1 0 -2.6 0M66.1 37.2m-1.7 0a1.7 1.7 0 1 0 3.4 0a1.7 1.7 0 1 0 -3.4 0M14.1 64.9m-1.7 0a1.7 1.7 0 1 0 3.4 0a1.7 1.7 0 1 0 -3.4 0M66.5 61.7m-1.3 0a1.3 1.3 0 1 0 2.6 0a1.3 1.3 0 1 0 -2.6 0M24.8 11.5m-1.1 0a1.1 1.1 0 1 0 2.3 0a1.1 1.1 0 1 0 -2.3 0M4.5 20.8m-1.6 0a1.6 1.6 0 1 0 3.2 0a1.6 1.6 0 1 0 -3.2 0M0.2 46.8m-1.3 0a1.3 1.3 0 1 0 2.7 0a1.3 1.3 0 1 0 -2.7 0M21.3 56.5m-1.5 0a1.5 1.5 0 1 0 3.0 0a1.5 1.5 0 1 0 -3.0 0M21.7 33.2m-1.7 0a1.7 1.7 0 1 0 3.4 0a1.7 1.7 0 1 0 -3.4 0M3.9 67.3m-1.0 0a1.0 1.0 0 1 0 2.0 0a1.0 1.0 0 1 0 -2.0 0M51.6 58.3m-1.0 0a1.0 1.0 0 1 0 2.0 0a1.0 1.0 0 1 0 -2.0 0M54.2 25.3m-1.6 0a1.6 1.6 0 1 0 3.2 0a1.6 1.6 0 1 0 -3.2 0M0.6 3.2m-1.2 0a1.2 1.2 0 1 0 2.4 0a1.2 1.2 0 1 0 -2.4 0M65.7 13.6m-1.8 0a1.8 1.8 0 1 0 3.5 0a1.8 1.8 0 1 0 -3.5 0M64.0 65.0m-1.3 0a1.3 1.3 0 1 0 2.7 0a1.3 1.3 0 1 0 -2.7 0M24.4 36.2m-1.8 0a1.8 1.8 0 1 0 3.6 0a1.8 1.8 0 1 0 -3.6 0M7.4 51.6m-1.8 0a1.8 1.8 0 1 0 3.6 0a1.8 1.8 0 1 0 -3.6 0M59.1 2.5m-1.9 0a1.9 1.9 0 1 0 3.9 0a1.9 1.9 0 1 0 -3.9 0M6.3 23.5m-1.6 0a1.6 1.6 0 1 0 3.2 0a1.6 1.6 0 1 0 -3.2 0M63.2 23.5m-1.9 0a1.9 1.9 0 1 0 3.8 0a1.9 1.9 0 1 0 -3.8 0M37.5 21.6m-1.3 0a1.3 1.3 0 1 0 2.6 0a1.3 1.3 0 1 0 -2.6 0M12.2 5.4m-1.1 0a1.1 1.1 0 1 0 2.3 0a1.1 1.1 0 1 0 -2.3 0M47.4 68.8m-1.2 0a1.2 1.2 0 1 0 2.3 0a1.2 1.2 0 1 0 -2.3 0M3.3 68.1m-1.5 0a1.5 1.5 0 1 0 3.1 0a1.5 1.5 0 1 0 -3.1 0M27.9 16.4m-1.6 0a1.6 1.6 0 1 0 3.2 0a1.6 1.6 0 1 0 -3.2 0M56.8 31.4m-1.4 0a1.4 1.4 0 1 0 2.8 0a1.4 1.4 0 1 0 -2.8 0M3.8 63.2m-1.0 0a1.0 1.0 0 1 0 2.1 0a1.0 1.0 0 1 0 -2.1 0M34.0 57.9m-1.1 0a1.1 1.1 0 1 0 2.3 0a1.1 1.1 0 1 0 -2.3 0M50.3 65.5m-1.6 0a1.6 1.6 0 1 0 3.3 0a1.6 1.6 0 1 0 -3.3 0M54.2 7.4m-1.4 0a1.4 1.4 0 1 0 2.9 0a1.4 1.4 0 1 0 -2.9 0M10.3 58.3m-1.3 0a1.3 1.3 0 1 0 2.6 0a1.3 1.3 0 1 0 -2.6 0M31.2 69.0m-1.9 0a1.9 1.9 0 1 0 3.7 0a1.9 1.9 0 1 0 -3.7 0M67.1 31.3m-1.5 0a1.5 1.5 0 1 0 3.0 0a1.5 1.5 0 1 0 -3.0 0M50.2 33.1m-1.3 0a1.3 1.3 0 1 0 2.6 0a1.3 1.3 0 1 0 -2.6 0M27.8 10.1m-1.4 0a1.4 1.4 0 1 0 2.8 0a1.4 1.4 0 1 0 -2.8 0M68.0 66.2m-1.6 0a1.6 1.6 0 1 0 3.3 0a1.6 1.6 0 1 0 -3.3 0M34.4 23.4m-1.1 0a1.1 1.1 0 1 0 2.2 0a1.1 1.1 0 1 0 -2.2 0M18.7 54.0m-1.9 0a1.9 1.9 0 1 0 3.7 0a1.9 1.9 0 1 0 -3.7 0M24.9 54.2m-1.8 0a1.8 1.8 0 1 0 3.5 0a1.8 1.8 0 1 0 -3.5 0M47.8 45.8m-1.8 0a1.8 1.8 0 1 0 3.5 0a1.8 1.8 0 1 0 -3.5 0M25.0 48.6m-1.3 0a1.3 1.3 0 1 0 2.6 0a1.3 1.3 0 1 0 -2.6 0M33.4 53.1m-1.7 0a1.7 1.7 0 1 0 3.4 0a1.7 1.7 0 1 0 -3.4 0M20.2 65.2m-1.6 0a1.6 1.6 0 1 0 3.3 0a1.6 1.6 0 1 0 -3.3 0M39.9 0.8m-1.5 0a1.5 1.5 0 1 0 3.1 0a1.5 1.5 0 1 0 -3.1 0M17.2 46.3m-1.5 0a1.5 1.5 0 1 0 2.9 0a1.5 1.5 0 1 0 -2.9 0M56.2 44.7m-1.8 0a1.8 1.8 0 1 0 3.6 0a1.8 1.8 0 1 0 -3.6 0M23.9 44.4m-1.7 0a1.7 1.7 0 1 0 3.5 0a1.7 1.7 0 1 0 -3.5 0M57.0 24.2m-1.8 0a1.8 1.8 0 1 0 3.7 0a1.8 1.8 0 1 0 -3.7 0M59.8 47.5m-2.0 0a2.0 2.0 0 1 0 4.0 0a2.0 2.0 0 1 0 -4.0 0M65.8 35.8m-1.5 0a1.5 1.5 0 1 0 3.1 0a1.5 1.5 0 1 0 -3.1 0M11.4 57.7m-1.9 0a1.9 1.9 0 1 0 3.9 0a1.9 1.9 0 1 0 -3.9 0M32.8 47.7m-1.7 0a1.7 1.7 0 1 0 3.4 0a1.7 1.7 0 1 0 -3.4 0M50.2 11.9m-1.8 0a1.8 1.8 0 1 0 3.6 0a1.8 1.8 0 1 0 -3.6 0M40.0 45.9m-1.4 0a1.4 1.4 0 1 0 2.8 0a1.4 1.4 0 1 0 -2.8 0M42.9 53.5m-1.6 0a1.6 1.6 0 1 0 3.3 0a1.6 1.6 0 1 0 -3.3 0M49.6 1.9m-1.2 0a1.2 1.2 0 1 0 2.3 0a1.2 1.2 0 1 0 -2.3 0M30.3 44.9m-1.2 0a1.2 1.2 0 1 0 2.4 0a1.2 1.2 0 1 0 -2.4 0M47.2 43.5m-1.0 0a1.0 1.0 0 1 0 2.1 0a1.0 1.0 0 1 0 -2.1 0M32.4 15.6m-1.1 0a1.1 1.1 0 1 0 2.1 0a1.1 1.1 0 1 0 -2.1 0M9.2 21.9m-1.2 0a1.2 1.2 0 1 0 2.4 0a1.2 1.2 0 1 0 -2.4 0M13.3 2.5m-1.5 0a1.5 1.5 0 1 0 2.9 0a1.5 1.5 0 1 0 -2.9 0M26.2 42.2m-1.6 0a1.6 1.6 0 1 0 3.2 0a1.6 1.6 0 1 0 -3.2 0M16.4 62.3m-1.0 0a1.0 1.0 0 1 0 2.0 0a1.0 1.0 0 1 0 -2.0 0M27.9 19.2m-1.4 0a1.4 1.4 0 1 0 2.8 0a1.4 1.4 0 1 0 -2.8 0M7.9 57.4m-1.4 0a1.4 1.4 0 1 0 2.7 0a1.4 1.4 0 1 0 -2.7 0M2.5 42.3m-1.1 0a1.1 1.1 0 1 0 2.2 0a1.1 1.1 0 1 0 -2.2 0M37.5 23.4m-1.6 0a1.6 1.6 0 1 0 3.2 0a1.6 1.6 0 1 0 -3.2 0M65.9 56.5m-1.4 0a1.4 1.4 0 1 0 2.8 0a1.4 1.4 0 1 0 -2.8 0M55.9 44.3m-1.4 0a1.4 1.4 0 1 0 2.7 0a1.4 1.4 0 1 0 -2.7 0M9.8 41.1m-1.6 0a1.6 1.6 0 1 0 3.1 0a1.6 1.6 0 1 0 -3.1 0M65.9 66.8m-1.6 0a1.6 1.6 0 1 0 3.2 0a1.6 1.6 0 1 0 -3.2 0M24.2 61.6m-1.0 0a1.0 1.0 0 1 0 2.0 0a1.0 1.0 0 1 0 -2.0 0M7.4 39.0m-1.6 0a1.6 1.6 0 1 0 3.2 0a1.6 1.6 0 1 0 -3.2 0M9.7 43.4m-1.9 0a1.9 1.9 0 1 0 3.8 0a1.9 1.9 0 1 0 -3.8 0M25.9 29.8m-1.2 0a1.2 1.2 0 1 0 2.5 0a1.2 1.2 0 1 0 -2.5 0M20.1 67.1m-1.4 0a1.4 1.4 0 1 0 2.8 0a1.4 1.4 0 1 0 -2.8 0M66.1 63.0m-1.6 0a1.6 1.6 0 1 0 3.2 0a1.6 1.6 0 1 0 -3.2 0M17.9 67.7m-1.5 0a1.5 1.5 0 1 0 3.0 0a1.5 1.5 0 1 0 -3.0 0M28.6 22.0m-2.0 0a2.0 2.0 0 1 0 4.0 0a2.0 2.0 0 1 0 -4.0 0M33.8 19.8m-1.5 0a1.5 1.5 0 1 0 3.0 0a1.5 1.5 0 1 0 -3.0 0M8.4 42.9m-1.4 0a1.4 1.4 0 1 0 2.9 0a1.4 1.4 0 1 0 -2.9 0M20.2 53.9m-1.8 0a1.8 1.8 0 1 0 3.7 0a1.8 1.8 0 1 0 -3.7 0M0.9 36.7m-1.3 0a1.3 1.3 0 1 0 2.5 0a1.3 1.3 0 1 0 -2.5 0M64.3 54.0m-1.2 0a1.2 1.2 0 1 0 2.5 0a1.2 1.2 0 1 0 -2.5 0M18.4 10.7m-2.0 0a2.0 2.0 0 1 0 4.0 0a2.0 2.0 0 1 0 -4.0 0M20.2 42.0m-1.5 0a1.5 1.5 0 1 0 2.9 0a1.5 1.5 0 1 0 -2.9 0M44.4 41.7m-1.7 0a1.7 1.7 0 1 0 3.5 0a1.7 1.7 0 1 0 -3.5 0M8.1 52.5m-1.3 0a1.3 1.3 0 1 0 2.6 0a1.3 1.3 0 1 0 -2.6 0M36.7 23.2m-1.3 0a1.3 1.3 0 1 0 2.6 0a1.3 1.3 0 1 0 -2.6 0M36.5 32.0m-1.4 0a1.4 1.4 0 1 0 2.7 0a1.4 1.4 0 1 0 -2.7 0M51.3 40.8m-1.0 0a1.0 1.0 0 1 0 2.1 0a1.0 1.0 0 1 0 -2.1 0M17.4 31.4m-1.9 0a1.9 1.9 0 1 0 3.8 0a1.9 1.9 0 1 0 -3.8 0M61.1 37.6m-1.0 0a1.0 1.0 0 1 0 2.0 0a1.0 1.0 0 1 0 -2.0 0M53.6 29.5m-1.6 0a1.6 1.6 0 1 0 3.2 0a1.6 1.6 0 1 0 -3.2 0M48.7 43.6m-1.5 0a1.5 1.5 0 1 0 3.0 0a1.5 1.5 0 1 0 -3.0 0M62.7 26.6m-1.4 0a1.4 1.4 0 1 0 2.8 0a1.4 1.4 0 1 0 -2.8 0M58.6 13.6m-1.3 0a1.3 1.3 0 1 0 2.6 0a1.3 1.3 0 1 0 -2.6 0M57.1 4.6m-1.8 0a1.8 1.8 0 1 0 3.7 0a1.8 1.8 0 1 0 -3.7 0M47.8 29.9m-1.3 0a1.3 1.3 0 1 0 2.6 0a1.3 1.3 0 1 0 -2.6 0M53.7 62.8m-1.1 0a1.1 1.1 0 1 0 2.3 0a1.1 1.1 0 1 0 -2.3 0M32.9 37.9m-1.5 0a1.5 1.5 0 1 0 3.0 0a1.5 1.5 0 1 0 -3.0 0M22.8 10.6m-1.6 0a1.6 1.6 0 1 0 3.2 0a1.6 1.6 0 1 0 -3.2 0M55.9 4.7m-1.2 0a1.2 1.2 0 1 0 2.5 0a1.2 1.2 0 1 0 -2.5 0M56.4 54.6m-1.7 0a1.7 1.7 0 1 0 3.3 0a1.7 1.7 0 1 0 -3.3 0M1.8 49.9m-2.0 0a2.0 2.0 0 1 0 4.0 0a2.0 2.0 0 1 0 -4.0 0M68.7 48.4m-1.0 0a1.0 1.0 0 1 0 2.1 0a1.0 1.0 0 1 0 -2.1 0M57.9 15.1m-1.6 0a1.6 1.6 0 1 0 3.3 0a1.6 1.6 0 1 0 -3.3 0M65.5 49.2m-1.1 0a1.1 1.1 0 1 0 2.3 0a1.1 1.1 0 1 0 -2.3 0M20.1 63.3m-1.1 0a1.1 1.1 0 1 0 2.3 0a1.1 1.1 0 1 0 -2.3 0M42.0 28.6m-1.2 0a1.2 1.2 0 1 0 2.3 0a1.2 1.2 0 1 0 -2.3 0M42.8 3.0m-1.1 0a1.1 1.1 0 1 0 2.2 0a1.1 1.1 0 1 0 -2.2 0M26.1 5.0m-1.1 0a1.1 1.1 0 1 0 2.1 0a1.1 1.1 0 1 0 -2.1 0M39.6 51.2m-1.9 0a1.9 1.9 0 1 0 3.8 0a1.9 1.9 0 1 0 -3.8 0M9.2 29.8m-1.3 0a1.3 1.3 0 1 0 2.6 0a1.3 1.3 0 1 0 -2.6 0M41.3 33.8m-1.9 0a1.9 1.9 0 1 0 3.9 0a1.9 1.9 0 1 0 -3.9 0M25.7 3.8m-1.7 0a1.7 1.7 0 1 0 3.4 0a1.7 1.7 0 1 0 -3.4 0M10.4 43.6m-1.5 0a1.5 1.5 0 1 0 3.0 0a1.5 1.5 0 1 0 -3.0 0M62.6 38.3m-1.6 0a1.6 1.6 0 1 0 3.2 0a1.6 1.6 0 1 0 -3.2 0M18.1 38.1m-1.3 0a1.3 1.3 0 1 0 2.5 0a1.3 1.3 0 1 0 -2.5 0M51.6 35.7m-1.1 0a1.1 1.1 0 1 0 2.3 0a1.1 1.1 0 1 0 -2.3 0M16.1 25.6m-1.7 0a1.7 1.7 0 1 0 3.5 0a1.7 1.7 0 1 0 -3.5 0M12.3 49.2m-1.7 0a1.7 1.7 0 1 0 3.3 0a1.7 1.7 0 1 0 -3.3 0M5.9 46.1m-1.1 0a1.1 1.1 0 1 0 2.2 0a1.1 1.1 0 1 0 -2.2 0M8.6 41.0m-1.2 0a1.2 1.2 0 1 0 2.5 0a1.2 1.2 0 1 0 -2.5 0M60.3 33.2m-1.3 0a1.3 1.3 0 1 0 2.6 0a1.3 1.3 0 1 0 -2.6 0M54.8 2.0m-1.7 0a1.7 1.7 0 1 0 3.5 0a1.7 1.7 0 1 0 -3.5 0M3.7 10.4m-2.0 0a2.0 2.0 0 1 0 3.9 0a2.0 2.0 0 1 0 -3.9 0M46.9 15.4m-1.1 0a1.1 1.1 0 1 0 2.2 0a1.1 1.1 0 1 0 -2.2 0M66.9 45.9m-1.8 0a1.8 1.8 0 1 0 3.6 0a1.8 1.8 0 1 0 -3.6 0M9.6 43.1m-1.4 0a1.4 1.4 0 1 0 2.7 0a1.4 1.4 0 1 0 -2.7 0M16.2 23.0m-1.6 0a1.6 1.6 0 1 0 3.2 0a1.6 1.6 0 1 0 -3.2 0M24.0 26.6m-1.1 0a1.1 1.1 0 1 0 2.3 0a1.1 1.1 0 1 0 -2.3 0M57.2 44.7m-1.8 0a1.8 1.8 0 1 0 3.6 0a1.8 1.8 0 1 0 -3.6 0M29.8 58.8m-1.5 0a1.5 1.5 0 1 0 3.0 0a1.5 1.5 0 1 0 -3.0 0M40.8 39.6m-1.7 0a1.7 1.7 0 1 0 3.5 0a1.7 1.7 0 1 0 -3.5 0M27.2 6.7m-1.0 0a1.0 1.0 0 1 0 2.1 0a1.0 1.0 0 1 0 -2.1 0M13.9 2.7m-1.9 0a1.9 1.9 0 1 0 3.8 0a1.9 1.9 0 1 0 -3.8 0M33.1 52.5m-1.0 0a1.0 1.0 0 1 0 2.0 0a1.0 1.0 0 1 0 -2.0 0M32.3 61.4m-1.6 0a1.6 1.6 0 1 0 3.2 0a1.6 1.6 0 1 0 -3.2 0M29.5 32.1m-1.1 0a1.1 1.1 0 1 0 2.2 0a1.1 1.1 0 1 0 -2.2 0M10.6 11.0m-1.4 0a1.4 1.4 0 1 0 2.7 0a1.4 1.4 0 1 0 -2.7 0M26.5 60.7m-1.2 0a1.2 1.2 0 1 0 2.3 0a1.2 1.2 0 1 0 -2.3 0M17.5 19.1m-1.2 0a1.2 1.2 0 1 0 2.3 0a1.2 1.2 0 1 0 -2.3 0M19.7 16.2m-1.5 0a1.5 1.5 0 1 0 3.0 0a1.5 1.5 0 1 0 -3.0 0M2.2 63.8m-1.4 0a1.4 1.4 0 1 0 2.7 0a1.4 1.4 0 1 0 -2.7 0M64.5 47.5m-1.7 0a1.7 1.7 0 1 0 3.3 0a1.7 1.7 0 1 0 -3.3 0M32.5 65.2m-1.1 0a1.1 1.1 0 1 0 2.2 0a1.1 1.1 0 1 0 -2.2 0M46.0 20.1m-1.7 0a1.7 1.7 0 1 0 3.3 0a1.7 1.7 0 1 0 -3.3 0M50.2 11.3m-1.2 0a1.2 1.2 0 1 0 2.4 0a1.2 1.2 0 1 0 -2.4 0M1.7 15.9m-1.1 0a1.1 1.1 0 1 0 2.2 0a1.1 1.1 0 1 0 -2.2 0M27.6 67.2m-1.4 0a1.4 1.4 0 1 0 2.7 0a1.4 1.4 0 1 0 -2.7 0M21.5 32.3m-1.3 0a1.3 1.3 0 1 0 2.6 0a1.3 1.3 0 1 0 -2.6 0M50.4 49.5m-1.2 0a1.2 1.2 0 1 0 2.3 0a1.2 1.2 0 1 0 -2.3 0M16.5 46.4m-1.9 0a1.9 1.9 0 1 0 3.9 0a1.9 1.9 0 1 0 -3.9 0M44.4 29.7m-2.0 0a2.0 2.0 0 1 0 4.0 0a2.0 2.0 0 1 0 -4.0 0M0.4 4.2m-1.8 0a1.8 1.8 0 1 0 3.6 0a1.8 1.8 0 1 0 -3.6 0M28.2 3.1m-1.5 0a1.5 1.5 0 1 0 3.1 0a1.5 1.5 0 1 0 -3.1 0M68.1 35.8m-1.4 0a1.4 1.4 0 1 0 2.7 0a1.4 1.4 0 1 0 -2.7 0M6.5 4.9m-1.9 0a1.9 1.9 0 1 0 3.8 0a1.9 1.9 0 1 0 -3.8 0M33.8 64.6m-1.1 0a1.1 1.1 0 1 0 2.1 0a1.1 1.1 0 1 0 -2.1 0M16.8 3.5m-1.4 0a1.4 1.4 0 1 0 2.8 0a1.4 1.4 0 1 0 -2.8 0M4.1 17.6m-1.4 0a1.4 1.4 0 1 0 2.8 0a1.4 1.4 0 1 0 -2.8 0M21.0 3.5m-1.0 0a1.0 1.0 0 1 0 2.1 0a1.0 1.0 0 1 0 -2.1 0M66.8 12.4m-1.5 0a1.5 1.5 0 1 0 3.0 0a1.5 1.5 0 1 0 -3.0 0M27.7 36.7m-1.1 0a1.1 1.1 0 1 0 2.2 0a1.1 1.1 0 1 0 -2.2 0M21.6 7.5m-1.5 0a1.5 1.5 0 1 0 3.1 0a1.5 1.5 0 1 0 -3.1 0M63.4 41.3m-1.9 0a1.9 1.9 0 1 0 3.7 0a1.9 1.9 0 1 0 -3.7 0M14.8 1.2m-1.5 0a1.5 1.5 0 1 0 3.1 0a1.5 1.5 0 1 0 -3.1 0M33.5 39.4m-1.4 0a1.4 1.4 0 1 0 2.8 0a1.4 1.4 0 1 0 -2.8 0M43.0 50.1m-1.9 0a1.9 1.9 0 1 0 3.8 0a1.9 1.9 0 1 0 -3.8 0M21.2 31.0m-1.8 0a1.8 1.8 0 1 0 3.7 0a1.8 1.8 0 1 0 -3.7 0M15.4 8.0m-1.3 0a1.3 1.3 0 1 0 2.6 0a1.3 1.3 0 1 0 -2.6 0M6.0 53.3m-1.8 0a1.8 1.8 0 1 0 3.6 0a1.8 1.8 0 1 0 -3.6 0M21.5 9.0m-1.1 0a1.1 1.1 0 1 0 2.2 0a1.1 1.1 0 1 0 -2.2 0M16.8 5.8m-1.4 0a1.4 1.4 0 1 0 2.9 0a1.4 1.4 0 1 0 -2.9 0M39.7 16.9m-1.1 0a1.1 1.1 0 1 0 2.1 0a1.1 1.1 0 1 0 -2.1 0M48.2 3.3m-1.2 0a1.2 1.2 0 1 0 2.4 0a1.2 1.2 0 1 0 -2.4 0M19.7 25.8m-1.1 0a1.1 1.1 0 1 0 2.2 0a1.1 1.1 0 1 0 -2.2 0M28.9 21.7m-1.8 0a1.8 1.8 0 1 0 3.5 0a1.8 1.8 0 1 0 -3.5 0M38.3 61.8m-1.7 0a1.7 1.7 0 1 0 3.3 0a1.7 1.7 0 1 0 -3.3 0M52.3 39.7m-1.4 0a1.4 1.4 0 1 0 2.9 0a1.4 1.4 0 1 0 -2.9 0M56.2 45.2m-2.0 0a2.0 2.0 0 1 0 3.9 0a2.0 2.0 0 1 0 -3.9 0M50.1 48.4m-1.3 0a1.3 1.3 0 1 0 2.5 0a1.3 1.3 0 1 0 -2.5 0M55.9 26.4m-1.1 0a1.1 1.1 0 1 0 2.3 0a1.1 1.1 0 1 0 -2.3 0M4.5 11.7m-1.3 0a1.3 1.3 0 1 0 2.5 0a1.3 1.3 0 1 0 -2.5 0M46.5 19.7m-1.1 0a1.1 1.1 0 1 0 2.1 0a1.1 1.1 0 1 0 -2.1 0M52.5 38.4m-1.0 0a1.0 1.0 0 1 0 2.1 0a1.0 1.0 0 1 0 -2.1 0M3.5 9.0m-1.4 0a1.4 1.4 0 1 0 2.7 0a1.4 1.4 0 1 0 -2.7 0M59.2 65.5m-1.6 0a1.6 1.6 0 1 0 3.2 0a1.6 1.6 0 1 0 -3.2 0M15.9 29.6m-1.4 0a1.4 1.4 0 1 0 2.7 0a1.4 1.4 0 1 0 -2.7 0M22.7 0.9m-1.6 0a1.6 1.6 0 1 0 3.2 0a1.6 1.6 0 1 0 -3.2 0M56.9 50.2m-1.1 0a1.1 1.1 0 1 0 2.2 0a1.1 1.1 0 1 0 -2.2 0M36.5 11.8m-1.7 0a1.7 1.7 0 1 0 3.4 0a1.7 1.7 0 1 0 -3.4 0M30.7 64.8m-1.8 0a1.8 1.8 0 1 0 3.6 0a1.8 1.8 0 1 0 -3.6 0M8.1 21.9m-1.9 0a1.9 1.9 0 1 0 3.8 0a1.9 1.9 0 1 0 -3.8 0M31.7 30.0m-1.4 0a1.4 1.4 0 1 0 2.9 0a1.4 1.4 0 1 0 -2.9 0M52.8 64.6m-1.5 0a1.5 1.5 0 1 0 3.1 0a1.5 1.5 0 1 0 -3.1 0M66.7 41.1m-1.1 0a1.1 1.1 0 1 0 2.2 0a1.1 1.1 0 1 0 -2.2 0M56.0 28.9m-1.1 0a1.1 1.1 0 1 0 2.1 0a1.1 1.1 0 1 0 -2.1 0M67.3 2.3m-1.6 0a1.6 1.6 0 1 0 3.2 0a1.6 1.6 0 1 0 -3.2 0M33.2 60.8m-1.4 0a1.4 1.4 0 1 0 2.8 0a1.4 1.4 0 1 0 -2.8 0M14.8 19.1m-1.2 0a1.2 1.2 0 1 0 2.4 0a1.2 1.2 0 1 0 -2.4 0M38.7 24.6m-1.8 0a1.8 1.8 0 1 0 3.5 0a1.8 1.8 0 1 0 -3.5 0M16.6 24.3m-1.2 0a1.2 1.2 0 1 0 2.5 0a1.2 1.2 0 1 0 -2.5 0M67.6 58.0m-1.8 0a1.8 1.8 0 1 0 3.7 0a1.8 1.8 0 1 0 -3.7 0M42.5 27.7m-1.1 0a1.1 1.1 0 1 0 2.3 0a1.1 1.1 0 1 0 -2.3 0M57.2 33.8m-1.0 0a1.0 1.0 0 1 0 2.1 0a1.0 1.0 0 1 0 -2.1 0M11.7 6.8m-1.7 0a1.7 1.7 0 1 0 3.4 0a1.7 1.7 0 1 0 -3.4 0M61.9 13.8m-1.8 0a1.8 1.8 0 1 0 3.6 0a1.8 1.8 0 1 0 -3.6 0M22.3 47.1m-1.9 0a1.9 1.9 0 1 0 3.7 0a1.9 1.9 0 1 0 -3.7 0M42.9 55.2m-1.4 0a1.4 1.4 0 1 0 2.8 0a1.4 1.4 0 1 0 -2.8 0M0.7 35.3m-1.6 0a1.6 1.6 0 1 0 3.2 0a1.6 1.6 0 1 0 -3.2 0M12.7 26.8m-1.3 0a1.3 1.3 0 1 0 2.6 0a1.3 1.3 0 1 0 -2.6 0M1.9 21.5m-1.4 0a1.4 1.4 0 1 0 2.8 0a1.4 1.4 0 1 0 -2.8 0M32.8 48.5m-1.4 0a1.4 1.4 0 1 0 2.8 0a1.4 1.4 0 1 0 -2.8 0M67.6 56.3m-1.9 0a1.9 1.9 0 1 0 3.8 0a1.9 1.9 0 1 0 -3.8 0M47.7 46.2m-1.5 0a1.5 1.5 0 1 0 3.1 0a1.5 1.5 0 1 0 -3.1 0M54.9 25.0m-1.6 0a1.6 1.6 0 1 0 3.2 0a1.6 1.6 0 1 0 -3.2 0M46.7 36.0m-1.3 0a1.3 1.3 0 1 0 2.6 0a1.3 1.3 0 1 0 -2.6 0M5.3 6.0m-1.4 0a1.4 1.4 0 1 0 2.7 0a1.4 1.4 0 1 0 -2.7 0" fill="#2838b0" fill-opacity="0.5"/>
<ellipse cx="13.8" cy="62.1" rx="7.8" ry="2.0" transform="rotate(10 13.8 62.1)" fill="#080a24" fill-opacity="0.6"/>
<ellipse cx="31.0" cy="10.3" rx="6.5" ry="2.6" transform="rotate(0 31.0 10.3)" fill="#080a24" fill-opacity="0.6"/>
<path d="M-3.6 20.3l1.3 1.8M31.1 26.7l2.1 0.5M9.4 8.8l-0.8 2.1M12.6 15.9l0.8 2.0M36.2 8.4l0.6 2.1M42.9 42.8l-1.9 1.2M31.7 64.8l2.0 0.9M29.1 68.2l1.5 1.6M28.0 52.0l-0.8 2.1M46.2 61.3l0.4 2.1M50.9 21.7l0.6 2.1" stroke="#36b04e" stroke-width="2.2" stroke-linecap="round" stroke-opacity="0.70" fill="none"/>
<path d="M22.4 12.8l-2.4 0.8M24.7 44.2l1.8 1.7M2.4 36.7l1.4 2.0M30.2 13.0l-2.5 0.3M32.5 35.0l-1.4 2.1M1.5 36.4l-1.1 2.2M22.4 57.8l2.5 0.2M27.0 36.8l-2.5 0.1M30.1 59.5l2.4 0.6M24.6 51.1l2.4 0.9M35.3 44.4l0.3 2.4M36.0 20.0l-0.4 2.4M64.8 13.3l-0.0 2.5M11.9 14.6l0.3 2.5" stroke="#36b04e" stroke-width="2.5" stroke-linecap="round" stroke-opacity="0.70" fill="none"/>
<path d="M39.6 28.7l1.8 0.0M29.1 62.0l0.2 1.8M38.2 47.8l-1.8 0.2M31.2 30.1l1.2 1.3M46.4 12.3l0.9 1.5M60.0 19.0l1.2 1.4M21.9 11.7l1.4 1.1" stroke="#36b04e" stroke-width="1.8" stroke-linecap="round" stroke-opacity="0.70" fill="none"/>
<path d="M13.9 35.5l-2.0 0.7M6.7 32.5l2.0 0.8M18.7 59.2l-1.6 1.2M13.6 59.7l1.8 1.1M54.6 14.7l-0.9 1.9M4.7 21.9l0.1 2.1" stroke="#36b04e" stroke-width="2.1" stroke-linecap="round" stroke-opacity="0.70" fill="none"/>
<path d="M38.5 21.9l1.6 0.6M30.5 33.4l0.2 1.7M17.3 3.6l1.1 1.4M41.4 29.4l-1.7 0.4M16.0 30.3l-1.3 1.1M24.7 48.3l0.1 1.7M14.0 39.3l-0.2 1.7M45.4 44.5l-0.7 1.6M35.5 58.3l1.6 0.4M74.0 28.2l-0.7 1.6M26.2 17.9l-0.7 1.6" stroke="#36b04e" stroke-width="1.7" stroke-linecap="round" stroke-opacity="0.70" fill="none"/>
<path d="M28.5 25.0l1.1 1.2M41.7 4.7l-1.5 0.7M27.9 42.2l-1.1 1.1M32.4 55.8l0.3 1.6M33.9 49.0l1.6 0.0M41.4 59.7l-1.5 0.3M46.5 24.6l0.7 1.4M49.9 17.6l1.4 0.9M7.4 25.9l0.1 1.6M18.3 19.6l0.7 1.4M22.5 0.3l0.8 1.4" stroke="#36b04e" stroke-width="1.6" stroke-linecap="round" stroke-opacity="0.70" fill="none"/>
<path d="M-3.6 12.6l-0.6 1.3M24.8 34.8l-0.5 1.3M5.9 27.3l-0.4 1.3M15.1 64.4l-0.1 1.4M41.7 52.1l1.4 0.2M2.3 46.8l0.9 1.0M40.6 16.7l-0.0 1.4M10.3 2.5l1.1 0.8M-0.8 2.4l-0.8 1.2M22.9 17.5l-1.0 0.9" stroke="#36b04e" stroke-width="1.4" stroke-linecap="round" stroke-opacity="0.70" fill="none"/>
<path d="M22.0 21.9l-0.3 1.3M11.1 12.4l0.1 1.3M29.9 19.2l1.1 0.8M-9.3 8.8l1.3 0.4M9.3 12.5l0.4 1.3M32.0 34.6l0.1 1.3M29.0 42.0l0.5 1.2M58.4 53.0l1.2 0.5M51.9 57.9l0.4 1.2M38.4 63.5l1.2 0.4M56.1 59.8l1.3 0.3M6.6 1.6l-1.3 0.0M13.5 16.7l0.2 1.3" stroke="#36b04e" stroke-width="1.3" stroke-linecap="round" stroke-opacity="0.70" fill="none"/>
<path d="M15.4 46.4l2.1 1.4M28.7 58.0l1.7 1.9" stroke="#36b04e" stroke-width="2.6" stroke-linecap="round" stroke-opacity="0.70" fill="none"/>
<path d="M28.7 31.2l-0.6 1.9M25.3 37.3l-0.9 1.8M38.9 3.7l1.9 0.8M47.3 51.6l-1.7 1.0M47.8 15.5l1.9 0.5M-6.4 19.0l-0.0 2.0" stroke="#36b04e" stroke-width="2.0" stroke-linecap="round" stroke-opacity="0.70" fill="none"/>
<path d="M-1.3 8.7l-0.9 1.2M36.9 34.3l-0.8 1.3M46.5 16.0l1.5 0.1M-1.7 44.2l-0.3 1.5M55.6 27.0l1.5 0.1" stroke="#36b04e" stroke-width="1.5" stroke-linecap="round" stroke-opacity="0.70" fill="none"/>
<path d="M4.5 43.9l-1.9 0.2M18.0 35.9l0.8 1.7M4.5 33.9l1.9 0.3M9.3 58.4l0.7 1.8M44.2 59.9l-0.4 1.9M69.3 10.6l1.8 0.6" stroke="#36b04e" stroke-width="1.9" stroke-linecap="round" stroke-opacity="0.70" fill="none"/>
<path d="M27.2 28.6l-1.4 1.7M-3.8 30.1l-0.5 2.2M32.0 37.2l2.3 0.0M-21.4 61.6l-2.1 0.8M43.7 11.2l-2.0 1.1M52.4 18.4l1.1 2.0M16.6 9.2l-0.2 2.3" stroke="#36b04e" stroke-width="2.3" stroke-linecap="round" stroke-opacity="0.70" fill="none"/>
<path d="M16.6 40.3l-0.1 2.4M-6.1 43.4l-2.3 0.6M34.5 60.3l0.5 2.4M41.6 46.7l2.4 0.3M12.8 57.1l-1.6 1.9M54.1 59.6l2.2 0.9M59.7 28.1l-0.6 2.3" stroke="#36b04e" stroke-width="2.4" stroke-linecap="round" stroke-opacity="0.70" fill="none"/>
<path d="M21.7 19.3l0.9 0.9M18.3 28.2l-0.9 0.8M10.0 56.3l-0.9 0.8M32.5 44.9l1.2 0.2" stroke="#36b04e" stroke-width="1.2" stroke-linecap="round" stroke-opacity="0.70" fill="none"/>
<path d="M34.6 34.3l0.4 1.4M40.5 28.2l-1.2 0.7M17.5 29.6l-0.8 1.2" stroke="#48c4bc" stroke-width="1.8" stroke-linecap="round" stroke-opacity="0.75" fill="none"/>
<path d="M36.8 36.7l-1.2 1.2M32.1 52.2l0.6 1.6M17.9 26.7l-1.0 1.3" stroke="#48c4bc" stroke-width="2.1" stroke-linecap="round" stroke-opacity="0.75" fill="none"/>
<path d="M30.3 36.7l1.1 1.7" stroke="#48c4bc" stroke-width="2.5" stroke-linecap="round" stroke-opacity="0.75" fill="none"/>
<path d="M26.9 30.5l-0.0 1.8M23.7 28.3l-0.0 1.8M22.8 39.9l0.7 1.6" stroke="#48c4bc" stroke-width="2.2" stroke-linecap="round" stroke-opacity="0.75" fill="none"/>
<path d="M26.8 26.8l1.6 0.9M31.2 37.4l-1.4 1.2M31.7 38.1l1.7 0.6M20.5 39.3l0.1 1.9M29.4 37.1l-1.4 1.2" stroke="#48c4bc" stroke-width="2.3" stroke-linecap="round" stroke-opacity="0.75" fill="none"/>
<path d="M32.5 35.1l0.1 1.6" stroke="#48c4bc" stroke-width="1.9" stroke-linecap="round" stroke-opacity="0.75" fill="none"/>
<path d="M36.8 41.2l-1.8 0.9" stroke="#48c4bc" stroke-width="2.6" stroke-linecap="round" stroke-opacity="0.75" fill="none"/>
<path d="M25.9 33.4l1.3 0.0" stroke="#48c4bc" stroke-width="1.6" stroke-linecap="round" stroke-opacity="0.75" fill="none"/>
<path d="M37.3 39.9l1.7 0.8" stroke="#48c4bc" stroke-width="2.4" stroke-linecap="round" stroke-opacity="0.75" fill="none"/>
<path d="M39.6 28.8l-0.9 0.3" stroke="#48c4bc" stroke-width="1.2" stroke-linecap="round" stroke-opacity="0.75" fill="none"/>
<path d="M61.1 32.6l0.2 0.3M65.3 57.0l0.3 0.2" stroke="#dc2034" stroke-width="1.3" stroke-linecap="round" stroke-opacity="0.80" fill="none"/>
</svg>
<text x="714.4" y="329.3" font-size="8.30" fill="#ffffff" font-weight="bold" style="stroke:none">RCC</text>
<text x="759.5" y="344.0" font-size="8.30" text-anchor="middle" fill="#ffffff" font-weight="bold" style="stroke:none">SPP1<tspan font-size="4.57" dy="-2.99">+</tspan></text>
<text x="759.5" y="352.8" font-size="8.30" text-anchor="middle" fill="#ffffff" font-weight="bold" style="stroke:none">NEU</text>
<rect x="759.20" y="370.00" width="15.50" height="15.00" fill="#4a8a80"/>
<circle cx="767.2" cy="378.0" r="5.00" fill="#b0e0e0"/>
<circle cx="767.2" cy="378.0" r="3.20" fill="#6aa0a0"/>
<circle cx="767.2" cy="378.0" r="2.00" fill="#c0c0a0"/>
<rect x="759.20" y="370.00" width="15.50" height="15.00" fill="none" stroke="#d8d8d8" stroke-width="0.70"/>
<svg x="779.10" y="318.50" width="68.70" height="69.00" viewBox="0 0 68.70 69.00" overflow="hidden">
<rect x="0.00" y="0.00" width="68.70" height="69.00" fill="#131a58"/>
<path d="M54.5 56.7m-1.5 0a1.5 1.5 0 1 0 3.0 0a1.5 1.5 0 1 0 -3.0 0M18.0 0.0m-1.7 0a1.7 1.7 0 1 0 3.3 0a1.7 1.7 0 1 0 -3.3 0M32.3 52.4m-1.4 0a1.4 1.4 0 1 0 2.7 0a1.4 1.4 0 1 0 -2.7 0M52.9 18.8m-1.8 0a1.8 1.8 0 1 0 3.6 0a1.8 1.8 0 1 0 -3.6 0M50.1 28.6m-1.5 0a1.5 1.5 0 1 0 3.1 0a1.5 1.5 0 1 0 -3.1 0M46.9 13.3m-1.6 0a1.6 1.6 0 1 0 3.1 0a1.6 1.6 0 1 0 -3.1 0M55.3 18.3m-1.8 0a1.8 1.8 0 1 0 3.6 0a1.8 1.8 0 1 0 -3.6 0M47.1 58.3m-1.3 0a1.3 1.3 0 1 0 2.7 0a1.3 1.3 0 1 0 -2.7 0M6.4 55.2m-1.8 0a1.8 1.8 0 1 0 3.6 0a1.8 1.8 0 1 0 -3.6 0M30.6 6.5m-1.2 0a1.2 1.2 0 1 0 2.4 0a1.2 1.2 0 1 0 -2.4 0M43.6 20.1m-2.0 0a2.0 2.0 0 1 0 3.9 0a2.0 2.0 0 1 0 -3.9 0M40.4 13.9m-1.7 0a1.7 1.7 0 1 0 3.3 0a1.7 1.7 0 1 0 -3.3 0M24.8 64.4m-1.9 0a1.9 1.9 0 1 0 3.8 0a1.9 1.9 0 1 0 -3.8 0M35.4 44.5m-1.7 0a1.7 1.7 0 1 0 3.4 0a1.7 1.7 0 1 0 -3.4 0M55.3 67.4m-1.0 0a1.0 1.0 0 1 0 2.1 0a1.0 1.0 0 1 0 -2.1 0M24.8 41.5m-1.3 0a1.3 1.3 0 1 0 2.6 0a1.3 1.3 0 1 0 -2.6 0M40.5 6.2m-1.9 0a1.9 1.9 0 1 0 3.8 0a1.9 1.9 0 1 0 -3.8 0M36.1 8.1m-1.7 0a1.7 1.7 0 1 0 3.3 0a1.7 1.7 0 1 0 -3.3 0M21.5 13.5m-1.5 0a1.5 1.5 0 1 0 3.0 0a1.5 1.5 0 1 0 -3.0 0M9.5 14.5m-1.9 0a1.9 1.9 0 1 0 3.7 0a1.9 1.9 0 1 0 -3.7 0M48.0 0.9m-1.8 0a1.8 1.8 0 1 0 3.6 0a1.8 1.8 0 1 0 -3.6 0M1.2 23.0m-1.9 0a1.9 1.9 0 1 0 3.8 0a1.9 1.9 0 1 0 -3.8 0M42.6 21.1m-1.4 0a1.4 1.4 0 1 0 2.8 0a1.4 1.4 0 1 0 -2.8 0M26.7 8.8m-2.0 0a2.0 2.0 0 1 0 4.0 0a2.0 2.0 0 1 0 -4.0 0M3.7 29.2m-1.7 0a1.7 1.7 0 1 0 3.5 0a1.7 1.7 0 1 0 -3.5 0M27.3 67.7m-1.2 0a1.2 1.2 0 1 0 2.5 0a1.2 1.2 0 1 0 -2.5 0M67.3 61.6m-1.7 0a1.7 1.7 0 1 0 3.3 0a1.7 1.7 0 1 0 -3.3 0M61.1 30.9m-1.8 0a1.8 1.8 0 1 0 3.7 0a1.8 1.8 0 1 0 -3.7 0M54.7 35.7m-1.5 0a1.5 1.5 0 1 0 2.9 0a1.5 1.5 0 1 0 -2.9 0M48.5 28.2m-1.1 0a1.1 1.1 0 1 0 2.2 0a1.1 1.1 0 1 0 -2.2 0M51.3 18.3m-1.5 0a1.5 1.5 0 1 0 3.0 0a1.5 1.5 0 1 0 -3.0 0M53.9 11.9m-1.0 0a1.0 1.0 0 1 0 2.0 0a1.0 1.0 0 1 0 -2.0 0M8.5 40.7m-1.4 0a1.4 1.4 0 1 0 2.7 0a1.4 1.4 0 1 0 -2.7 0M17.6 31.2m-1.9 0a1.9 1.9 0 1 0 3.9 0a1.9 1.9 0 1 0 -3.9 0M17.5 28.3m-1.9 0a1.9 1.9 0 1 0 3.8 0a1.9 1.9 0 1 0 -3.8 0M42.1 18.5m-1.5 0a1.5 1.5 0 1 0 2.9 0a1.5 1.5 0 1 0 -2.9 0M32.9 9.8m-1.4 0a1.4 1.4 0 1 0 2.8 0a1.4 1.4 0 1 0 -2.8 0M21.0 55.5m-1.3 0a1.3 1.3 0 1 0 2.6 0a1.3 1.3 0 1 0 -2.6 0M45.3 67.0m-1.9 0a1.9 1.9 0 1 0 3.8 0a1.9 1.9 0 1 0 -3.8 0M25.8 41.6m-1.3 0a1.3 1.3 0 1 0 2.6 0a1.3 1.3 0 1 0 -2.6 0M27.4 33.7m-1.8 0a1.8 1.8 0 1 0 3.6 0a1.8 1.8 0 1 0 -3.6 0M64.3 20.1m-1.0 0a1.0 1.0 0 1 0 2.0 0a1.0 1.0 0 1 0 -2.0 0M30.9 3.9m-1.0 0a1.0 1.0 0 1 0 2.1 0a1.0 1.0 0 1 0 -2.1 0M53.1 7.7m-1.7 0a1.7 1.7 0 1 0 3.4 0a1.7 1.7 0 1 0 -3.4 0M24.9 64.8m-1.9 0a1.9 1.9 0 1 0 3.7 0a1.9 1.9 0 1 0 -3.7 0M4.3 13.3m-1.9 0a1.9 1.9 0 1 0 3.9 0a1.9 1.9 0 1 0 -3.9 0M42.1 29.1m-1.8 0a1.8 1.8 0 1 0 3.6 0a1.8 1.8 0 1 0 -3.6 0M55.9 33.9m-1.5 0a1.5 1.5 0 1 0 2.9 0a1.5 1.5 0 1 0 -2.9 0M6.9 25.0m-1.1 0a1.1 1.1 0 1 0 2.3 0a1.1 1.1 0 1 0 -2.3 0M43.0 41.9m-1.1 0a1.1 1.1 0 1 0 2.3 0a1.1 1.1 0 1 0 -2.3 0M43.1 6.7m-1.1 0a1.1 1.1 0 1 0 2.2 0a1.1 1.1 0 1 0 -2.2 0M44.4 31.9m-1.9 0a1.9 1.9 0 1 0 3.8 0a1.9 1.9 0 1 0 -3.8 0M43.2 48.4m-1.1 0a1.1 1.1 0 1 0 2.3 0a1.1 1.1 0 1 0 -2.3 0M57.2 5.8m-1.6 0a1.6 1.6 0 1 0 3.2 0a1.6 1.6 0 1 0 -3.2 0M62.6 62.6m-1.9 0a1.9 1.9 0 1 0 3.8 0a1.9 1.9 0 1 0 -3.8 0M31.1 47.9m-1.8 0a1.8 1.8 0 1 0 3.6 0a1.8 1.8 0 1 0 -3.6 0M9.4 65.1m-1.9 0a1.9 1.9 0 1 0 3.8 0a1.9 1.9 0 1 0 -3.8 0M30.3 53.7m-1.4 0a1.4 1.4 0 1 0 2.9 0a1.4 1.4 0 1 0 -2.9 0M19.0 49.2m-1.1 0a1.1 1.1 0 1 0 2.1 0a1.1 1.1 0 1 0 -2.1 0M55.0 67.5m-1.3 0a1.3 1.3 0 1 0 2.6 0a1.3 1.3 0 1 0 -2.6 0M64.6 5.8m-1.9 0a1.9 1.9 0 1 0 3.7 0a1.9 1.9 0 1 0 -3.7 0M19.2 66.7m-1.4 0a1.4 1.4 0 1 0 2.9 0a1.4 1.4 0 1 0 -2.9 0M63.4 2.2m-1.1 0a1.1 1.1 0 1 0 2.2 0a1.1 1.1 0 1 0 -2.2 0M56.1 44.1m-1.5 0a1.5 1.5 0 1 0 3.1 0a1.5 1.5 0 1 0 -3.1 0M2.2 12.0m-1.4 0a1.4 1.4 0 1 0 2.7 0a1.4 1.4 0 1 0 -2.7 0M3.6 68.5m-1.8 0a1.8 1.8 0 1 0 3.5 0a1.8 1.8 0 1 0 -3.5 0M65.3 48.3m-1.3 0a1.3 1.3 0 1 0 2.7 0a1.3 1.3 0 1 0 -2.7 0M5.3 50.5m-1.1 0a1.1 1.1 0 1 0 2.2 0a1.1 1.1 0 1 0 -2.2 0M37.6 32.0m-1.5 0a1.5 1.5 0 1 0 3.0 0a1.5 1.5 0 1 0 -3.0 0M5.2 5.1m-1.5 0a1.5 1.5 0 1 0 3.0 0a1.5 1.5 0 1 0 -3.0 0M2.1 36.3m-1.2 0a1.2 1.2 0 1 0 2.3 0a1.2 1.2 0 1 0 -2.3 0M19.4 10.4m-1.6 0a1.6 1.6 0 1 0 3.1 0a1.6 1.6 0 1 0 -3.1 0M26.7 15.4m-1.2 0a1.2 1.2 0 1 0 2.4 0a1.2 1.2 0 1 0 -2.4 0M38.8 62.8m-1.4 0a1.4 1.4 0 1 0 2.8 0a1.4 1.4 0 1 0 -2.8 0M11.2 21.8m-1.2 0a1.2 1.2 0 1 0 2.5 0a1.2 1.2 0 1 0 -2.5 0M39.3 54.3m-1.6 0a1.6 1.6 0 1 0 3.1 0a1.6 1.6 0 1 0 -3.1 0M12.9 22.4m-1.4 0a1.4 1.4 0 1 0 2.8 0a1.4 1.4 0 1 0 -2.8 0M30.3 27.4m-2.0 0a2.0 2.0 0 1 0 4.0 0a2.0 2.0 0 1 0 -4.0 0M37.9 45.7m-1.7 0a1.7 1.7 0 1 0 3.4 0a1.7 1.7 0 1 0 -3.4 0M44.3 55.6m-1.4 0a1.4 1.4 0 1 0 2.7 0a1.4 1.4 0 1 0 -2.7 0M45.8 67.1m-1.2 0a1.2 1.2 0 1 0 2.3 0a1.2 1.2 0 1 0 -2.3 0M43.0 26.5m-1.1 0a1.1 1.1 0 1 0 2.1 0a1.1 1.1 0 1 0 -2.1 0M2.7 52.4m-1.1 0a1.1 1.1 0 1 0 2.2 0a1.1 1.1 0 1 0 -2.2 0M48.8 6.9m-1.4 0a1.4 1.4 0 1 0 2.7 0a1.4 1.4 0 1 0 -2.7 0M2.2 37.5m-1.8 0a1.8 1.8 0 1 0 3.6 0a1.8 1.8 0 1 0 -3.6 0M15.5 39.0m-1.9 0a1.9 1.9 0 1 0 3.8 0a1.9 1.9 0 1 0 -3.8 0M20.2 32.5m-1.7 0a1.7 1.7 0 1 0 3.4 0a1.7 1.7 0 1 0 -3.4 0M59.4 11.6m-1.7 0a1.7 1.7 0 1 0 3.3 0a1.7 1.7 0 1 0 -3.3 0M8.2 7.7m-2.0 0a2.0 2.0 0 1 0 4.0 0a2.0 2.0 0 1 0 -4.0 0M3.4 63.5m-1.8 0a1.8 1.8 0 1 0 3.5 0a1.8 1.8 0 1 0 -3.5 0M46.4 50.3m-1.7 0a1.7 1.7 0 1 0 3.3 0a1.7 1.7 0 1 0 -3.3 0M19.7 30.6m-1.2 0a1.2 1.2 0 1 0 2.4 0a1.2 1.2 0 1 0 -2.4 0M59.0 53.7m-1.8 0a1.8 1.8 0 1 0 3.6 0a1.8 1.8 0 1 0 -3.6 0M14.7 40.9m-1.3 0a1.3 1.3 0 1 0 2.5 0a1.3 1.3 0 1 0 -2.5 0M54.3 51.4m-2.0 0a2.0 2.0 0 1 0 4.0 0a2.0 2.0 0 1 0 -4.0 0M48.7 47.2m-1.8 0a1.8 1.8 0 1 0 3.6 0a1.8 1.8 0 1 0 -3.6 0M6.4 41.1m-1.0 0a1.0 1.0 0 1 0 2.1 0a1.0 1.0 0 1 0 -2.1 0M25.2 8.1m-1.9 0a1.9 1.9 0 1 0 3.9 0a1.9 1.9 0 1 0 -3.9 0M1.9 63.6m-1.9 0a1.9 1.9 0 1 0 3.9 0a1.9 1.9 0 1 0 -3.9 0M29.9 57.4m-1.1 0a1.1 1.1 0 1 0 2.1 0a1.1 1.1 0 1 0 -2.1 0M9.6 0.7m-1.1 0a1.1 1.1 0 1 0 2.1 0a1.1 1.1 0 1 0 -2.1 0M0.2 57.2m-1.1 0a1.1 1.1 0 1 0 2.2 0a1.1 1.1 0 1 0 -2.2 0M40.6 18.9m-1.1 0a1.1 1.1 0 1 0 2.3 0a1.1 1.1 0 1 0 -2.3 0M28.8 12.5m-2.0 0a2.0 2.0 0 1 0 4.0 0a2.0 2.0 0 1 0 -4.0 0M26.4 41.0m-1.6 0a1.6 1.6 0 1 0 3.1 0a1.6 1.6 0 1 0 -3.1 0M43.1 33.2m-1.3 0a1.3 1.3 0 1 0 2.5 0a1.3 1.3 0 1 0 -2.5 0M9.4 61.3m-1.2 0a1.2 1.2 0 1 0 2.4 0a1.2 1.2 0 1 0 -2.4 0M30.8 55.8m-1.6 0a1.6 1.6 0 1 0 3.2 0a1.6 1.6 0 1 0 -3.2 0M65.1 55.9m-1.5 0a1.5 1.5 0 1 0 3.0 0a1.5 1.5 0 1 0 -3.0 0M8.2 40.9m-1.5 0a1.5 1.5 0 1 0 2.9 0a1.5 1.5 0 1 0 -2.9 0M59.2 36.6m-1.7 0a1.7 1.7 0 1 0 3.4 0a1.7 1.7 0 1 0 -3.4 0M55.8 32.5m-1.8 0a1.8 1.8 0 1 0 3.7 0a1.8 1.8 0 1 0 -3.7 0M61.8 10.7m-1.9 0a1.9 1.9 0 1 0 3.8 0a1.9 1.9 0 1 0 -3.8 0M59.8 59.0m-1.3 0a1.3 1.3 0 1 0 2.7 0a1.3 1.3 0 1 0 -2.7 0M17.3 9.2m-1.4 0a1.4 1.4 0 1 0 2.7 0a1.4 1.4 0 1 0 -2.7 0M58.7 25.0m-1.0 0a1.0 1.0 0 1 0 2.0 0a1.0 1.0 0 1 0 -2.0 0M20.9 5.7m-1.6 0a1.6 1.6 0 1 0 3.2 0a1.6 1.6 0 1 0 -3.2 0M52.8 63.9m-1.1 0a1.1 1.1 0 1 0 2.2 0a1.1 1.1 0 1 0 -2.2 0M26.1 8.7m-1.9 0a1.9 1.9 0 1 0 3.8 0a1.9 1.9 0 1 0 -3.8 0M57.5 35.9m-2.0 0a2.0 2.0 0 1 0 3.9 0a2.0 2.0 0 1 0 -3.9 0M35.7 53.6m-1.5 0a1.5 1.5 0 1 0 3.0 0a1.5 1.5 0 1 0 -3.0 0M25.0 68.6m-1.8 0a1.8 1.8 0 1 0 3.7 0a1.8 1.8 0 1 0 -3.7 0M40.6 59.8m-1.6 0a1.6 1.6 0 1 0 3.3 0a1.6 1.6 0 1 0 -3.3 0M54.8 4.6m-1.1 0a1.1 1.1 0 1 0 2.3 0a1.1 1.1 0 1 0 -2.3 0M7.5 41.6m-1.7 0a1.7 1.7 0 1 0 3.4 0a1.7 1.7 0 1 0 -3.4 0M10.7 34.9m-1.1 0a1.1 1.1 0 1 0 2.2 0a1.1 1.1 0 1 0 -2.2 0M47.2 53.8m-1.1 0a1.1 1.1 0 1 0 2.2 0a1.1 1.1 0 1 0 -2.2 0M67.3 45.9m-1.1 0a1.1 1.1 0 1 0 2.2 0a1.1 1.1 0 1 0 -2.2 0M24.1 10.9m-1.7 0a1.7 1.7 0 1 0 3.5 0a1.7 1.7 0 1 0 -3.5 0M63.0 12.1m-1.2 0a1.2 1.2 0 1 0 2.4 0a1.2 1.2 0 1 0 -2.4 0M43.2 59.3m-1.7 0a1.7 1.7 0 1 0 3.5 0a1.7 1.7 0 1 0 -3.5 0M31.4 7.6m-1.6 0a1.6 1.6 0 1 0 3.2 0a1.6 1.6 0 1 0 -3.2 0M31.3 55.5m-1.6 0a1.6 1.6 0 1 0 3.1 0a1.6 1.6 0 1 0 -3.1 0M50.4 67.0m-1.6 0a1.6 1.6 0 1 0 3.3 0a1.6 1.6 0 1 0 -3.3 0M62.6 18.9m-1.0 0a1.0 1.0 0 1 0 2.0 0a1.0 1.0 0 1 0 -2.0 0M60.6 2.1m-2.0 0a2.0 2.0 0 1 0 4.0 0a2.0 2.0 0 1 0 -4.0 0M31.3 4.2m-1.3 0a1.3 1.3 0 1 0 2.5 0a1.3 1.3 0 1 0 -2.5 0M49.6 26.5m-1.6 0a1.6 1.6 0 1 0 3.2 0a1.6 1.6 0 1 0 -3.2 0M7.0 57.7m-1.4 0a1.4 1.4 0 1 0 2.7 0a1.4 1.4 0 1 0 -2.7 0M57.2 10.2m-1.7 0a1.7 1.7 0 1 0 3.3 0a1.7 1.7 0 1 0 -3.3 0M32.2 27.9m-1.0 0a1.0 1.0 0 1 0 2.0 0a1.0 1.0 0 1 0 -2.0 0M36.5 57.8m-1.1 0a1.1 1.1 0 1 0 2.2 0a1.1 1.1 0 1 0 -2.2 0M30.6 0.9m-2.0 0a2.0 2.0 0 1 0 4.0 0a2.0 2.0 0 1 0 -4.0 0M66.6 46.8m-1.5 0a1.5 1.5 0 1 0 3.0 0a1.5 1.5 0 1 0 -3.0 0M4.8 8.4m-1.7 0a1.7 1.7 0 1 0 3.4 0a1.7 1.7 0 1 0 -3.4 0M54.6 68.2m-1.9 0a1.9 1.9 0 1 0 3.7 0a1.9 1.9 0 1 0 -3.7 0M30.1 17.6m-1.5 0a1.5 1.5 0 1 0 3.1 0a1.5 1.5 0 1 0 -3.1 0M23.8 37.6m-1.9 0a1.9 1.9 0 1 0 3.8 0a1.9 1.9 0 1 0 -3.8 0M31.1 67.7m-1.7 0a1.7 1.7 0 1 0 3.4 0a1.7 1.7 0 1 0 -3.4 0M3.1 51.5m-1.7 0a1.7 1.7 0 1 0 3.3 0a1.7 1.7 0 1 0 -3.3 0M42.7 0.2m-1.9 0a1.9 1.9 0 1 0 3.8 0a1.9 1.9 0 1 0 -3.8 0M34.0 37.0m-1.2 0a1.2 1.2 0 1 0 2.3 0a1.2 1.2 0 1 0 -2.3 0M2.4 1.0m-1.2 0a1.2 1.2 0 1 0 2.4 0a1.2 1.2 0 1 0 -2.4 0M20.9 10.6m-1.1 0a1.1 1.1 0 1 0 2.1 0a1.1 1.1 0 1 0 -2.1 0M50.0 48.5m-1.9 0a1.9 1.9 0 1 0 3.8 0a1.9 1.9 0 1 0 -3.8 0M15.0 50.3m-1.6 0a1.6 1.6 0 1 0 3.2 0a1.6 1.6 0 1 0 -3.2 0M6.2 60.4m-1.4 0a1.4 1.4 0 1 0 2.7 0a1.4 1.4 0 1 0 -2.7 0M12.7 12.6m-1.9 0a1.9 1.9 0 1 0 3.8 0a1.9 1.9 0 1 0 -3.8 0M15.2 26.5m-1.5 0a1.5 1.5 0 1 0 3.1 0a1.5 1.5 0 1 0 -3.1 0M24.7 45.3m-1.1 0a1.1 1.1 0 1 0 2.2 0a1.1 1.1 0 1 0 -2.2 0M29.5 40.3m-1.6 0a1.6 1.6 0 1 0 3.2 0a1.6 1.6 0 1 0 -3.2 0M41.8 18.6m-1.6 0a1.6 1.6 0 1 0 3.3 0a1.6 1.6 0 1 0 -3.3 0M66.8 33.3m-1.6 0a1.6 1.6 0 1 0 3.3 0a1.6 1.6 0 1 0 -3.3 0M57.5 17.4m-1.3 0a1.3 1.3 0 1 0 2.5 0a1.3 1.3 0 1 0 -2.5 0M66.7 20.7m-1.4 0a1.4 1.4 0 1 0 2.9 0a1.4 1.4 0 1 0 -2.9 0M25.5 68.5m-1.5 0a1.5 1.5 0 1 0 3.1 0a1.5 1.5 0 1 0 -3.1 0M61.6 11.2m-1.3 0a1.3 1.3 0 1 0 2.6 0a1.3 1.3 0 1 0 -2.6 0M44.6 22.0m-1.7 0a1.7 1.7 0 1 0 3.3 0a1.7 1.7 0 1 0 -3.3 0M34.9 5.4m-1.1 0a1.1 1.1 0 1 0 2.2 0a1.1 1.1 0 1 0 -2.2 0M30.1 36.8m-1.2 0a1.2 1.2 0 1 0 2.4 0a1.2 1.2 0 1 0 -2.4 0M18.1 0.1m-1.3 0a1.3 1.3 0 1 0 2.5 0a1.3 1.3 0 1 0 -2.5 0M21.2 26.8m-1.6 0a1.6 1.6 0 1 0 3.2 0a1.6 1.6 0 1 0 -3.2 0M58.6 49.5m-1.7 0a1.7 1.7 0 1 0 3.5 0a1.7 1.7 0 1 0 -3.5 0M19.4 34.2m-1.7 0a1.7 1.7 0 1 0 3.5 0a1.7 1.7 0 1 0 -3.5 0M61.4 16.6m-1.0 0a1.0 1.0 0 1 0 2.0 0a1.0 1.0 0 1 0 -2.0 0M3.5 35.6m-1.9 0a1.9 1.9 0 1 0 3.7 0a1.9 1.9 0 1 0 -3.7 0M10.5 54.1m-1.6 0a1.6 1.6 0 1 0 3.3 0a1.6 1.6 0 1 0 -3.3 0M59.3 62.2m-1.1 0a1.1 1.1 0 1 0 2.2 0a1.1 1.1 0 1 0 -2.2 0M54.5 9.3m-1.1 0a1.1 1.1 0 1 0 2.2 0a1.1 1.1 0 1 0 -2.2 0M27.4 33.7m-1.1 0a1.1 1.1 0 1 0 2.1 0a1.1 1.1 0 1 0 -2.1 0M18.9 12.1m-1.1 0a1.1 1.1 0 1 0 2.3 0a1.1 1.1 0 1 0 -2.3 0M6.8 1.6m-1.2 0a1.2 1.2 0 1 0 2.4 0a1.2 1.2 0 1 0 -2.4 0M22.5 29.0m-1.7 0a1.7 1.7 0 1 0 3.4 0a1.7 1.7 0 1 0 -3.4 0M42.0 33.7m-1.3 0a1.3 1.3 0 1 0 2.6 0a1.3 1.3 0 1 0 -2.6 0M42.2 13.3m-1.2 0a1.2 1.2 0 1 0 2.4 0a1.2 1.2 0 1 0 -2.4 0M7.8 46.2m-1.1 0a1.1 1.1 0 1 0 2.3 0a1.1 1.1 0 1 0 -2.3 0M15.3 24.3m-1.6 0a1.6 1.6 0 1 0 3.1 0a1.6 1.6 0 1 0 -3.1 0M44.5 40.9m-1.6 0a1.6 1.6 0 1 0 3.2 0a1.6 1.6 0 1 0 -3.2 0M13.2 63.0m-1.7 0a1.7 1.7 0 1 0 3.5 0a1.7 1.7 0 1 0 -3.5 0M28.0 27.4m-1.6 0a1.6 1.6 0 1 0 3.2 0a1.6 1.6 0 1 0 -3.2 0M8.2 44.4m-1.9 0a1.9 1.9 0 1 0 3.8 0a1.9 1.9 0 1 0 -3.8 0M25.0 34.4m-1.3 0a1.3 1.3 0 1 0 2.5 0a1.3 1.3 0 1 0 -2.5 0M62.5 26.0m-1.4 0a1.4 1.4 0 1 0 2.7 0a1.4 1.4 0 1 0 -2.7 0M49.0 25.7m-1.9 0a1.9 1.9 0 1 0 3.8 0a1.9 1.9 0 1 0 -3.8 0M28.3 40.6m-1.3 0a1.3 1.3 0 1 0 2.6 0a1.3 1.3 0 1 0 -2.6 0M40.5 32.6m-1.1 0a1.1 1.1 0 1 0 2.2 0a1.1 1.1 0 1 0 -2.2 0M61.1 11.1m-1.6 0a1.6 1.6 0 1 0 3.2 0a1.6 1.6 0 1 0 -3.2 0M46.5 32.3m-1.3 0a1.3 1.3 0 1 0 2.7 0a1.3 1.3 0 1 0 -2.7 0M31.2 69.0m-1.0 0a1.0 1.0 0 1 0 2.0 0a1.0 1.0 0 1 0 -2.0 0M60.8 41.9m-1.5 0a1.5 1.5 0 1 0 3.0 0a1.5 1.5 0 1 0 -3.0 0M43.8 44.1m-1.8 0a1.8 1.8 0 1 0 3.7 0a1.8 1.8 0 1 0 -3.7 0M67.1 35.5m-1.4 0a1.4 1.4 0 1 0 2.7 0a1.4 1.4 0 1 0 -2.7 0M24.9 62.8m-1.5 0a1.5 1.5 0 1 0 3.0 0a1.5 1.5 0 1 0 -3.0 0M4.9 40.5m-1.1 0a1.1 1.1 0 1 0 2.2 0a1.1 1.1 0 1 0 -2.2 0M23.8 44.9m-1.6 0a1.6 1.6 0 1 0 3.2 0a1.6 1.6 0 1 0 -3.2 0M36.9 57.2m-1.6 0a1.6 1.6 0 1 0 3.2 0a1.6 1.6 0 1 0 -3.2 0M66.7 56.0m-1.3 0a1.3 1.3 0 1 0 2.5 0a1.3 1.3 0 1 0 -2.5 0M53.7 24.9m-1.9 0a1.9 1.9 0 1 0 3.9 0a1.9 1.9 0 1 0 -3.9 0M42.5 28.9m-1.2 0a1.2 1.2 0 1 0 2.4 0a1.2 1.2 0 1 0 -2.4 0M58.3 24.3m-1.0 0a1.0 1.0 0 1 0 2.0 0a1.0 1.0 0 1 0 -2.0 0M55.2 0.5m-1.0 0a1.0 1.0 0 1 0 2.1 0a1.0 1.0 0 1 0 -2.1 0M2.1 44.5m-1.6 0a1.6 1.6 0 1 0 3.1 0a1.6 1.6 0 1 0 -3.1 0M33.2 64.5m-1.5 0a1.5 1.5 0 1 0 2.9 0a1.5 1.5 0 1 0 -2.9 0M14.1 68.8m-1.1 0a1.1 1.1 0 1 0 2.2 0a1.1 1.1 0 1 0 -2.2 0M3.4 15.4m-2.0 0a2.0 2.0 0 1 0 4.0 0a2.0 2.0 0 1 0 -4.0 0M28.7 24.6m-1.4 0a1.4 1.4 0 1 0 2.7 0a1.4 1.4 0 1 0 -2.7 0M25.4 52.1m-1.6 0a1.6 1.6 0 1 0 3.3 0a1.6 1.6 0 1 0 -3.3 0M19.2 13.1m-1.8 0a1.8 1.8 0 1 0 3.6 0a1.8 1.8 0 1 0 -3.6 0M38.6 34.6m-1.2 0a1.2 1.2 0 1 0 2.4 0a1.2 1.2 0 1 0 -2.4 0M67.1 36.5m-1.9 0a1.9 1.9 0 1 0 3.8 0a1.9 1.9 0 1 0 -3.8 0M46.3 44.1m-1.0 0a1.0 1.0 0 1 0 2.0 0a1.0 1.0 0 1 0 -2.0 0M62.8 59.0m-1.1 0a1.1 1.1 0 1 0 2.2 0a1.1 1.1 0 1 0 -2.2 0M5.6 46.6m-1.7 0a1.7 1.7 0 1 0 3.3 0a1.7 1.7 0 1 0 -3.3 0M13.3 68.4m-1.1 0a1.1 1.1 0 1 0 2.2 0a1.1 1.1 0 1 0 -2.2 0M39.1 33.3m-1.3 0a1.3 1.3 0 1 0 2.7 0a1.3 1.3 0 1 0 -2.7 0M46.0 30.4m-1.8 0a1.8 1.8 0 1 0 3.5 0a1.8 1.8 0 1 0 -3.5 0M52.9 0.6m-1.3 0a1.3 1.3 0 1 0 2.7 0a1.3 1.3 0 1 0 -2.7 0M37.3 20.5m-1.6 0a1.6 1.6 0 1 0 3.2 0a1.6 1.6 0 1 0 -3.2 0M2.0 7.3m-1.5 0a1.5 1.5 0 1 0 3.0 0a1.5 1.5 0 1 0 -3.0 0M14.8 14.3m-1.4 0a1.4 1.4 0 1 0 2.8 0a1.4 1.4 0 1 0 -2.8 0" fill="#2838b0" fill-opacity="0.5"/>
<ellipse cx="24.0" cy="41.4" rx="3.2" ry="5.9" transform="rotate(10 24.0 41.4)" fill="#080a24" fill-opacity="0.6"/>
<path d="M15.0 22.8l0.0 0.7M58.4 64.4l-0.3 0.6M19.4 24.0l0.7 0.0M35.6 27.2l0.7 0.2M44.2 28.8l0.6 0.4M16.8 11.4l-0.1 0.7" stroke="#48c4bc" stroke-width="2.4" stroke-linecap="round" stroke-opacity="0.75" fill="none"/>
<path d="M5.3 45.8l-0.8 0.3M30.3 42.8l-0.6 0.6" stroke="#48c4bc" stroke-width="2.8" stroke-linecap="round" stroke-opacity="0.75" fill="none"/>
<path d="M56.9 27.0l-0.3 0.4M34.3 42.8l0.2 0.5M27.9 58.2l0.5 0.2M65.0 47.4l-0.3 0.4" stroke="#48c4bc" stroke-width="1.7" stroke-linecap="round" stroke-opacity="0.75" fill="none"/>
<path d="M31.3 46.1l0.6 0.1M49.5 37.8l0.5 0.2M49.3 37.5l-0.0 0.6" stroke="#48c4bc" stroke-width="2.0" stroke-linecap="round" stroke-opacity="0.75" fill="none"/>
<path d="M24.5 37.7l0.1 0.5M7.7 42.6l0.5 0.2M7.1 68.4l-0.5 0.2" stroke="#48c4bc" stroke-width="1.8" stroke-linecap="round" stroke-opacity="0.75" fill="none"/>
<path d="M35.4 13.9l-0.4 0.4" stroke="#48c4bc" stroke-width="1.9" stroke-linecap="round" stroke-opacity="0.75" fill="none"/>
<path d="M21.6 41.6l0.4 0.5M52.2 41.4l0.6 0.0" stroke="#48c4bc" stroke-width="2.1" stroke-linecap="round" stroke-opacity="0.75" fill="none"/>
<path d="M38.0 45.9l-0.8 0.4M22.0 75.1l0.6 0.6" stroke="#48c4bc" stroke-width="2.9" stroke-linecap="round" stroke-opacity="0.75" fill="none"/>
<path d="M20.9 19.4l-0.2 0.9" stroke="#48c4bc" stroke-width="3.0" stroke-linecap="round" stroke-opacity="0.75" fill="none"/>
<path d="M75.6 51.1l0.2 0.4M19.0 48.1l-0.2 0.4M22.0 57.2l-0.4 0.2M22.1 61.8l-0.2 0.4" stroke="#48c4bc" stroke-width="1.4" stroke-linecap="round" stroke-opacity="0.75" fill="none"/>
<path d="M18.7 46.5l0.8 0.2" stroke="#48c4bc" stroke-width="2.7" stroke-linecap="round" stroke-opacity="0.75" fill="none"/>
<path d="M39.8 19.7l-0.4 0.3M17.4 41.9l-0.0 0.5" stroke="#48c4bc" stroke-width="1.6" stroke-linecap="round" stroke-opacity="0.75" fill="none"/>
<path d="M36.8 66.2l0.4 0.6M24.3 23.7l-0.2 0.7" stroke="#48c4bc" stroke-width="2.3" stroke-linecap="round" stroke-opacity="0.75" fill="none"/>
<path d="M35.2 62.8l-0.5 0.1" stroke="#48c4bc" stroke-width="1.5" stroke-linecap="round" stroke-opacity="0.75" fill="none"/>
<path d="M23.1 51.1l0.7 0.2" stroke="#48c4bc" stroke-width="2.5" stroke-linecap="round" stroke-opacity="0.75" fill="none"/>
<path d="M16.4 49.5l-0.3 0.7" stroke="#48c4bc" stroke-width="2.6" stroke-linecap="round" stroke-opacity="0.75" fill="none"/>
<path d="M-9.7 -17.7l-0.7 0.5M-19.2 72.8l0.5 0.7M26.5 34.0l0.7 0.5" stroke="#36b04e" stroke-width="1.1" stroke-linecap="round" stroke-opacity="0.70" fill="none"/>
<path d="M4.5 21.4l1.2 0.4" stroke="#36b04e" stroke-width="1.6" stroke-linecap="round" stroke-opacity="0.70" fill="none"/>
<path d="M32.4 91.1l-1.1 0.1" stroke="#36b04e" stroke-width="1.4" stroke-linecap="round" stroke-opacity="0.70" fill="none"/>
<path d="M11.9 59.4l-0.5 1.1" stroke="#36b04e" stroke-width="1.5" stroke-linecap="round" stroke-opacity="0.70" fill="none"/>
<path d="M-9.9 135.9l-0.3 1.0M113.1 76.7l0.9 0.0" stroke="#36b04e" stroke-width="1.2" stroke-linecap="round" stroke-opacity="0.70" fill="none"/>
<path d="M56.3 11.1l-0.0 1.0" stroke="#36b04e" stroke-width="1.3" stroke-linecap="round" stroke-opacity="0.70" fill="none"/>
<path d="M80.3 -29.3l-1.0 1.3" stroke="#36b04e" stroke-width="2.0" stroke-linecap="round" stroke-opacity="0.70" fill="none"/>
<path d="M68.2 33.5l-1.1 0.2" stroke="#dc2034" stroke-width="3.7" stroke-linecap="round" stroke-opacity="0.90" fill="none"/>
<path d="M65.7 38.8l-0.3 0.6M56.3 67.8l-0.6 0.3" stroke="#dc2034" stroke-width="2.3" stroke-linecap="round" stroke-opacity="0.90" fill="none"/>
<path d="M63.8 26.1l1.0 0.2" stroke="#dc2034" stroke-width="3.5" stroke-linecap="round" stroke-opacity="0.90" fill="none"/>
<path d="M68.5 35.7l-0.9 0.5M27.9 20.5l-1.0 0.0" stroke="#dc2034" stroke-width="3.3" stroke-linecap="round" stroke-opacity="0.90" fill="none"/>
<path d="M71.7 26.8l-0.4 1.1M65.0 34.0l0.7 0.9" stroke="#dc2034" stroke-width="3.9" stroke-linecap="round" stroke-opacity="0.90" fill="none"/>
<path d="M64.8 35.7l-0.9 0.2M70.5 33.9l-0.9 0.1" stroke="#dc2034" stroke-width="3.1" stroke-linecap="round" stroke-opacity="0.90" fill="none"/>
<path d="M66.4 23.2l-0.7 0.6M38.5 5.9l-0.6 0.8M25.8 23.6l1.0 0.0" stroke="#dc2034" stroke-width="3.2" stroke-linecap="round" stroke-opacity="0.90" fill="none"/>
<path d="M67.5 34.6l0.6 0.0M44.5 67.1l0.6 0.0M60.9 63.9l-0.6 0.3M35.2 8.2l0.5 0.3" stroke="#dc2034" stroke-width="2.1" stroke-linecap="round" stroke-opacity="0.90" fill="none"/>
<path d="M54.9 61.7l-0.4 0.5" stroke="#dc2034" stroke-width="2.0" stroke-linecap="round" stroke-opacity="0.90" fill="none"/>
<path d="M54.1 68.7l0.4 0.7" stroke="#dc2034" stroke-width="2.7" stroke-linecap="round" stroke-opacity="0.90" fill="none"/>
<path d="M50.8 62.4l0.1 1.1" stroke="#dc2034" stroke-width="3.6" stroke-linecap="round" stroke-opacity="0.90" fill="none"/>
<path d="M43.0 66.7l0.8 0.8" stroke="#dc2034" stroke-width="3.8" stroke-linecap="round" stroke-opacity="0.90" fill="none"/>
<path d="M43.8 58.5l0.1 0.7M27.6 8.2l-0.5 0.6" stroke="#dc2034" stroke-width="2.5" stroke-linecap="round" stroke-opacity="0.90" fill="none"/>
<path d="M53.1 64.1l-0.5 0.5" stroke="#dc2034" stroke-width="2.4" stroke-linecap="round" stroke-opacity="0.90" fill="none"/>
<path d="M51.3 68.2l0.6 0.7" stroke="#dc2034" stroke-width="3.0" stroke-linecap="round" stroke-opacity="0.90" fill="none"/>
<path d="M53.8 66.3l-1.0 0.7" stroke="#dc2034" stroke-width="4.0" stroke-linecap="round" stroke-opacity="0.90" fill="none"/>
<path d="M51.8 67.1l-0.1 0.9" stroke="#dc2034" stroke-width="2.9" stroke-linecap="round" stroke-opacity="0.90" fill="none"/>
</svg>
<text x="784.6" y="329.3" font-size="8.30" fill="#ffffff" font-weight="bold" style="stroke:none">ICC</text>
<text x="831.5" y="349.0" font-size="8.30" text-anchor="middle" fill="#ffffff" font-weight="bold" style="stroke:none">SPP1<tspan font-size="4.57" dy="-2.99">+</tspan></text>
<text x="831.5" y="358.5" font-size="8.30" text-anchor="middle" fill="#ffffff" font-weight="bold" style="stroke:none">NEU</text>
<rect x="829.30" y="370.00" width="15.50" height="15.00" fill="#3a7a78"/>
<circle cx="837.3" cy="378.0" r="5.00" fill="#70b8b0"/>
<circle cx="837.3" cy="379.0" r="2.50" fill="#d09080"/>
<rect x="829.30" y="370.00" width="15.50" height="15.00" fill="none" stroke="#d8d8d8" stroke-width="0.70"/>
<rect x="643.50" y="312.00" width="12.40" height="2.00" fill="#fff"/>
<rect x="643.50" y="381.00" width="12.40" height="2.00" fill="#fff"/>
<text x="725.4" y="397.0" font-size="8.00" fill="#c8304c" font-weight="bold" style="stroke:none">CD15</text>
<text x="757.0" y="397.0" font-size="8.00" fill="#62b246" font-weight="bold" style="stroke:none">HLA-DR</text>
<text x="794.8" y="397.0" font-size="8.00" fill="#74c8d8" font-weight="bold" style="stroke:none">SPP1</text>
<text x="825.0" y="397.0" font-size="8.00" fill="#3a4c9c" font-weight="bold" style="stroke:none">DAPI</text>
<text x="3.6" y="420.8" font-size="18.50" fill="#000" font-weight="bold" style="stroke:none">E</text>
<path d="M39.00 479.00 L60.00 475.00 L90.00 462.00 L120.00 440.00 L137.00 426.00 L137.00 478.00 L115.00 490.00 L90.00 505.00 L60.00 520.00 L39.00 531.00Z" fill="#e6e6e6"/>
<path d="M40.0 506.0L137.4 455.3" stroke="#3d3d3d" stroke-width="1.60"/>
<path d="M35.7 427.0L35.7 534.5" stroke="#333" stroke-width="0.60"/>
<path d="M35.7 534.5L140.0 534.5" stroke="#333" stroke-width="0.60"/>
<path d="M33.7 435.3L35.7 435.3" stroke="#333" stroke-width="0.60"/>
<text x="32.9" y="437.8" font-size="8.10" text-anchor="end">0.16</text>
<path d="M33.7 469.2L35.7 469.2" stroke="#333" stroke-width="0.60"/>
<text x="32.9" y="471.7" font-size="8.10" text-anchor="end">0.12</text>
<path d="M33.7 503.4L35.7 503.4" stroke="#333" stroke-width="0.60"/>
<text x="32.9" y="505.9" font-size="8.10" text-anchor="end">0.08</text>
<path d="M53.5 534.5L53.5 536.5" stroke="#333" stroke-width="0.60"/>
<text x="53.5" y="544.8" font-size="8.10" text-anchor="middle">0.5</text>
<path d="M82.8 534.5L82.8 536.5" stroke="#333" stroke-width="0.60"/>
<text x="82.8" y="544.8" font-size="8.10" text-anchor="middle">1.0</text>
<path d="M110.6 534.5L110.6 536.5" stroke="#333" stroke-width="0.60"/>
<text x="110.6" y="544.8" font-size="8.10" text-anchor="middle">1.5</text>
<path d="M138.4 534.5L138.4 536.5" stroke="#333" stroke-width="0.60"/>
<text x="138.4" y="544.8" font-size="8.10" text-anchor="middle">2.0</text>
<circle cx="137.4" cy="438.2" r="1.50" fill="#fff" stroke="#555" stroke-width="0.50"/>
<circle cx="109.9" cy="449.6" r="1.50" fill="#fff" stroke="#555" stroke-width="0.50"/>
<circle cx="129.1" cy="459.6" r="1.50" fill="#fff" stroke="#555" stroke-width="0.50"/>
<circle cx="124.9" cy="479.2" r="1.50" fill="#fff" stroke="#555" stroke-width="0.50"/>
<circle cx="60.6" cy="487.4" r="1.50" fill="#fff" stroke="#555" stroke-width="0.50"/>
<circle cx="117.0" cy="491.7" r="1.50" fill="#fff" stroke="#555" stroke-width="0.50"/>
<circle cx="41.0" cy="504.9" r="1.50" fill="#fff" stroke="#555" stroke-width="0.50"/>
<circle cx="40.3" cy="509.5" r="1.50" fill="#fff" stroke="#555" stroke-width="0.50"/>
<text x="123.1" y="436.4" font-size="8.10" text-anchor="middle">BRCA</text>
<text x="97.5" y="457.8" font-size="8.10" text-anchor="middle">STAD</text>
<text x="118.4" y="462.1" font-size="8.10" text-anchor="middle">ICC</text>
<text x="72.2" y="484.5" font-size="8.10" text-anchor="middle">COAD</text>
<text x="113.5" y="479.9" font-size="8.10" text-anchor="middle">HCC</text>
<text x="102.2" y="502.0" font-size="8.10" text-anchor="middle">NSCLC</text>
<text x="53.0" y="503.1" font-size="8.10" text-anchor="middle">RCC</text>
<text x="53.5" y="517.4" font-size="8.10" text-anchor="middle">PAAD</text>
<text x="42.80" y="437.80" font-size="8.10" stroke="#231f20" stroke-width="0.15"><tspan font-style="italic">R</tspan>=0.81, <tspan font-style="italic">P</tspan>=0.022</text>
<text x="87.8" y="554.8" font-size="8.10" text-anchor="middle">HLA-DR<tspan font-size="4.46" dy="-2.92">+</tspan><tspan dy="2.92">NEU Ro/e (scRNA-seq)</tspan></text>
<text x="8.8" y="479.0" font-size="8.10" text-anchor="middle" transform="rotate(-90.00 8.80 479.00)">HLA-DR<tspan font-size="4.46" dy="-2.92">+</tspan><tspan dy="2.92">NEU Proportion</tspan></text>
<text x="18.6" y="479.0" font-size="8.10" text-anchor="middle" transform="rotate(-90.00 18.60 479.00)">(mIHC validation)</text>
<path d="M184.80 466.70 L205.00 472.00 L230.00 481.00 L255.00 474.00 L281.80 440.00 L281.80 509.50 L255.00 503.00 L230.00 500.00 L205.00 512.00 L184.80 531.00Z" fill="#e6e6e6"/>
<path d="M184.8 497.7L281.8 471.0" stroke="#3d3d3d" stroke-width="1.60"/>
<path d="M182.0 427.0L182.0 534.5" stroke="#333" stroke-width="0.60"/>
<path d="M182.0 534.5L285.0 534.5" stroke="#333" stroke-width="0.60"/>
<path d="M180.0 452.4L182.0 452.4" stroke="#333" stroke-width="0.60"/>
<text x="179.2" y="454.9" font-size="8.10" text-anchor="end">0.2</text>
<path d="M180.0 485.6L182.0 485.6" stroke="#333" stroke-width="0.60"/>
<text x="179.2" y="488.1" font-size="8.10" text-anchor="end">0.1</text>
<path d="M180.0 518.4L182.0 518.4" stroke="#333" stroke-width="0.60"/>
<text x="179.2" y="520.9" font-size="8.10" text-anchor="end">0.0</text>
<path d="M206.2 534.5L206.2 536.5" stroke="#333" stroke-width="0.60"/>
<text x="206.2" y="544.8" font-size="8.10" text-anchor="middle">0.75</text>
<path d="M228.3 534.5L228.3 536.5" stroke="#333" stroke-width="0.60"/>
<text x="228.3" y="544.8" font-size="8.10" text-anchor="middle">1.00</text>
<path d="M254.0 534.5L254.0 536.5" stroke="#333" stroke-width="0.60"/>
<text x="254.0" y="544.8" font-size="8.10" text-anchor="middle">1.25</text>
<path d="M280.0 534.5L280.0 536.5" stroke="#333" stroke-width="0.60"/>
<text x="280.0" y="544.8" font-size="8.10" text-anchor="middle">1.50</text>
<circle cx="276.5" cy="433.5" r="1.50" fill="#fff" stroke="#555" stroke-width="0.50"/>
<circle cx="209.8" cy="472.8" r="1.50" fill="#fff" stroke="#555" stroke-width="0.50"/>
<circle cx="239.7" cy="475.6" r="1.50" fill="#fff" stroke="#555" stroke-width="0.50"/>
<circle cx="264.7" cy="486.3" r="1.50" fill="#fff" stroke="#555" stroke-width="0.50"/>
<circle cx="197.3" cy="496.3" r="1.50" fill="#fff" stroke="#555" stroke-width="0.50"/>
<circle cx="184.8" cy="501.7" r="1.50" fill="#fff" stroke="#555" stroke-width="0.50"/>
<circle cx="196.2" cy="507.0" r="1.50" fill="#fff" stroke="#555" stroke-width="0.50"/>
<circle cx="281.8" cy="504.9" r="1.50" fill="#fff" stroke="#555" stroke-width="0.50"/>
<text x="264.4" y="443.2" font-size="8.10" text-anchor="middle">STAD</text>
<text x="206.6" y="468.5" font-size="8.10" text-anchor="middle">BRCA</text>
<text x="246.2" y="472.1" font-size="8.10" text-anchor="middle">COAD</text>
<text x="202.1" y="493.1" font-size="8.10" text-anchor="middle">NSCLC</text>
<text x="255.6" y="494.9" font-size="8.10" text-anchor="middle">RCC</text>
<text x="198.5" y="504.9" font-size="8.10" text-anchor="middle">PAAD</text>
<text x="209.3" y="514.5" font-size="8.10" text-anchor="middle">HCC</text>
<text x="272.9" y="511.3" font-size="8.10" text-anchor="middle">ICC</text>
<text x="185.50" y="437.80" font-size="8.10" stroke="#231f20" stroke-width="0.15"><tspan font-style="italic">R</tspan>=0.36, <tspan font-style="italic">P</tspan>=0.39</text>
<text x="233.5" y="554.8" font-size="8.10" text-anchor="middle">VEGFA<tspan font-size="4.46" dy="-2.92">+</tspan><tspan dy="2.92">SPP1</tspan><tspan font-size="4.46" dy="-2.92">+</tspan><tspan dy="2.92">NEU Ro/e (scRNA-seq)</tspan></text>
<text x="156.5" y="479.0" font-size="8.10" text-anchor="middle" transform="rotate(-90.00 156.50 479.00)">SPP1<tspan font-size="4.46" dy="-2.92">+</tspan><tspan dy="2.92">NEU Proportion</tspan></text>
<text x="166.0" y="479.0" font-size="8.10" text-anchor="middle" transform="rotate(-90.00 166.00 479.00)">(mIHC validation)</text>
<text x="318.5" y="421.8" font-size="18.50" fill="#000" font-weight="bold" style="stroke:none">F</text>
<text x="565.0" y="418.5" font-size="8.10" text-anchor="middle">Discovery cohort (TCGA, RNA-seq)</text>
<rect x="396.70" y="426.80" width="22.64" height="10.86" fill="#e2edf7"/>
<rect x="419.04" y="426.80" width="22.64" height="10.86" fill="#f5f9fc"/>
<rect x="441.38" y="426.80" width="22.64" height="10.86" fill="#f08072"/>
<rect x="463.72" y="426.80" width="22.64" height="10.86" fill="#f5f9fc"/>
<rect x="486.06" y="426.80" width="22.64" height="10.86" fill="#f6aea1"/>
<rect x="508.40" y="426.80" width="22.64" height="10.86" fill="#f28c7e"/>
<rect x="530.74" y="426.80" width="22.64" height="10.86" fill="#e22a2f"/>
<rect x="553.08" y="426.80" width="22.64" height="10.86" fill="#ffffff"/>
<rect x="575.42" y="426.80" width="22.64" height="10.86" fill="#f28c7e"/>
<rect x="597.76" y="426.80" width="22.64" height="10.86" fill="#f08072"/>
<rect x="620.10" y="426.80" width="22.64" height="10.86" fill="#fad7d0"/>
<rect x="642.44" y="426.80" width="22.64" height="10.86" fill="#fce1dc"/>
<rect x="664.78" y="426.80" width="22.64" height="10.86" fill="#ecf3fa"/>
<rect x="687.12" y="426.80" width="22.64" height="10.86" fill="#f8c3b9"/>
<rect x="709.46" y="426.80" width="22.64" height="10.86" fill="#fce1dc"/>
<text x="393.9" y="434.6" font-size="8.10" text-anchor="end">VEGFA<tspan font-size="4.46" dy="-2.92">+</tspan><tspan dy="2.92">SPP1</tspan><tspan font-size="4.46" dy="-2.92">+</tspan></text>
<rect x="396.70" y="437.36" width="22.64" height="10.86" fill="#fef5f3"/>
<rect x="419.04" y="437.36" width="22.64" height="10.86" fill="#ffffff"/>
<rect x="441.38" y="437.36" width="22.64" height="10.86" fill="#fad7d0"/>
<rect x="463.72" y="437.36" width="22.64" height="10.86" fill="#fffbfa"/>
<rect x="486.06" y="437.36" width="22.64" height="10.86" fill="#c6dbef"/>
<rect x="508.40" y="437.36" width="22.64" height="10.86" fill="#fce1dc"/>
<rect x="530.74" y="437.36" width="22.64" height="10.86" fill="#76add9"/>
<rect x="553.08" y="437.36" width="22.64" height="10.86" fill="#e2edf7"/>
<rect x="575.42" y="437.36" width="22.64" height="10.86" fill="#f9cdc4"/>
<rect x="597.76" y="437.36" width="22.64" height="10.86" fill="#ffffff"/>
<rect x="620.10" y="437.36" width="22.64" height="10.86" fill="#f5f9fc"/>
<rect x="642.44" y="437.36" width="22.64" height="10.86" fill="#fef5f3"/>
<rect x="664.78" y="437.36" width="22.64" height="10.86" fill="#f9fbfd"/>
<rect x="687.12" y="437.36" width="22.64" height="10.86" fill="#fef9f8"/>
<rect x="709.46" y="437.36" width="22.64" height="10.86" fill="#f7b9ad"/>
<text x="393.9" y="445.1" font-size="8.10" text-anchor="end">ARG1<tspan font-size="4.46" dy="-2.92">+</tspan></text>
<rect x="396.70" y="447.92" width="22.64" height="10.86" fill="#ecf3fa"/>
<rect x="419.04" y="447.92" width="22.64" height="10.86" fill="#ffffff"/>
<rect x="441.38" y="447.92" width="22.64" height="10.86" fill="#fdebe8"/>
<rect x="463.72" y="447.92" width="22.64" height="10.86" fill="#f5f9fc"/>
<rect x="486.06" y="447.92" width="22.64" height="10.86" fill="#ecf3fa"/>
<rect x="508.40" y="447.92" width="22.64" height="10.86" fill="#fce1dc"/>
<rect x="530.74" y="447.92" width="22.64" height="10.86" fill="#f5f9fc"/>
<rect x="553.08" y="447.92" width="22.64" height="10.86" fill="#f08072"/>
<rect x="575.42" y="447.92" width="22.64" height="10.86" fill="#ffffff"/>
<rect x="597.76" y="447.92" width="22.64" height="10.86" fill="#f9fbfd"/>
<rect x="620.10" y="447.92" width="22.64" height="10.86" fill="#f9cdc4"/>
<rect x="642.44" y="447.92" width="22.64" height="10.86" fill="#fef5f3"/>
<rect x="664.78" y="447.92" width="22.64" height="10.86" fill="#e8f1f8"/>
<rect x="687.12" y="447.92" width="22.64" height="10.86" fill="#f4a295"/>
<rect x="709.46" y="447.92" width="22.64" height="10.86" fill="#ffffff"/>
<text x="393.9" y="455.7" font-size="8.10" text-anchor="end">IFIT1<tspan font-size="4.46" dy="-2.92">+</tspan><tspan dy="2.92">ISG15</tspan><tspan font-size="4.46" dy="-2.92">+</tspan></text>
<rect x="396.70" y="458.48" width="22.64" height="10.86" fill="#f6aea1"/>
<rect x="419.04" y="458.48" width="22.64" height="10.86" fill="#f9cdc4"/>
<rect x="441.38" y="458.48" width="22.64" height="10.86" fill="#e22a2f"/>
<rect x="463.72" y="458.48" width="22.64" height="10.86" fill="#d9e7f4"/>
<rect x="486.06" y="458.48" width="22.64" height="10.86" fill="#e2edf7"/>
<rect x="508.40" y="458.48" width="22.64" height="10.86" fill="#e2edf7"/>
<rect x="530.74" y="458.48" width="22.64" height="10.86" fill="#d9e7f4"/>
<rect x="553.08" y="458.48" width="22.64" height="10.86" fill="#f08072"/>
<rect x="575.42" y="458.48" width="22.64" height="10.86" fill="#e22a2f"/>
<rect x="597.76" y="458.48" width="22.64" height="10.86" fill="#fef9f8"/>
<rect x="620.10" y="458.48" width="22.64" height="10.86" fill="#f6aea1"/>
<rect x="642.44" y="458.48" width="22.64" height="10.86" fill="#f0f5fb"/>
<rect x="664.78" y="458.48" width="22.64" height="10.86" fill="#fce1dc"/>
<rect x="687.12" y="458.48" width="22.64" height="10.86" fill="#e22a2f"/>
<rect x="709.46" y="458.48" width="22.64" height="10.86" fill="#ffffff"/>
<text x="393.9" y="466.3" font-size="8.10" text-anchor="end">CXCL8<tspan font-size="4.46" dy="-2.92">+</tspan><tspan dy="2.92">IL1B</tspan><tspan font-size="4.46" dy="-2.92">+</tspan></text>
<rect x="396.70" y="469.04" width="22.64" height="10.86" fill="#fef5f3"/>
<rect x="419.04" y="469.04" width="22.64" height="10.86" fill="#bcd5ec"/>
<rect x="441.38" y="469.04" width="22.64" height="10.86" fill="#c6dbef"/>
<rect x="463.72" y="469.04" width="22.64" height="10.86" fill="#f4a295"/>
<rect x="486.06" y="469.04" width="22.64" height="10.86" fill="#e22a2f"/>
<rect x="508.40" y="469.04" width="22.64" height="10.86" fill="#f28c7e"/>
<rect x="530.74" y="469.04" width="22.64" height="10.86" fill="#c6dbef"/>
<rect x="553.08" y="469.04" width="22.64" height="10.86" fill="#e2edf7"/>
<rect x="575.42" y="469.04" width="22.64" height="10.86" fill="#fad7d0"/>
<rect x="597.76" y="469.04" width="22.64" height="10.86" fill="#e2edf7"/>
<rect x="620.10" y="469.04" width="22.64" height="10.86" fill="#e2edf7"/>
<rect x="642.44" y="469.04" width="22.64" height="10.86" fill="#f3978a"/>
<rect x="664.78" y="469.04" width="22.64" height="10.86" fill="#f5f9fc"/>
<rect x="687.12" y="469.04" width="22.64" height="10.86" fill="#a5c8e6"/>
<rect x="709.46" y="469.04" width="22.64" height="10.86" fill="#fffbfa"/>
<text x="393.9" y="476.8" font-size="8.10" text-anchor="end">TXNIP<tspan font-size="4.46" dy="-2.92">+</tspan></text>
<rect x="396.70" y="479.60" width="22.64" height="10.86" fill="#ecf3fa"/>
<rect x="419.04" y="479.60" width="22.64" height="10.86" fill="#e9504b"/>
<rect x="441.38" y="479.60" width="22.64" height="10.86" fill="#fef5f3"/>
<rect x="463.72" y="479.60" width="22.64" height="10.86" fill="#f5f9fc"/>
<rect x="486.06" y="479.60" width="22.64" height="10.86" fill="#c6dbef"/>
<rect x="508.40" y="479.60" width="22.64" height="10.86" fill="#cfe1f1"/>
<rect x="530.74" y="479.60" width="22.64" height="10.86" fill="#99c1e3"/>
<rect x="553.08" y="479.60" width="22.64" height="10.86" fill="#e2edf7"/>
<rect x="575.42" y="479.60" width="22.64" height="10.86" fill="#d9e7f4"/>
<rect x="597.76" y="479.60" width="22.64" height="10.86" fill="#fce7e3"/>
<rect x="620.10" y="479.60" width="22.64" height="10.86" fill="#e2edf7"/>
<rect x="642.44" y="479.60" width="22.64" height="10.86" fill="#e6eff8"/>
<rect x="664.78" y="479.60" width="22.64" height="10.86" fill="#fdefec"/>
<rect x="687.12" y="479.60" width="22.64" height="10.86" fill="#f5f9fc"/>
<rect x="709.46" y="479.60" width="22.64" height="10.86" fill="#f9fbfd"/>
<text x="393.9" y="487.4" font-size="8.10" text-anchor="end">CXCR2<tspan font-size="4.46" dy="-2.92">+</tspan></text>
<rect x="396.70" y="490.16" width="22.64" height="10.86" fill="#f8c3b9"/>
<rect x="419.04" y="490.16" width="22.64" height="10.86" fill="#e2edf7"/>
<rect x="441.38" y="490.16" width="22.64" height="10.86" fill="#fef5f3"/>
<rect x="463.72" y="490.16" width="22.64" height="10.86" fill="#d9e7f4"/>
<rect x="486.06" y="490.16" width="22.64" height="10.86" fill="#ffffff"/>
<rect x="508.40" y="490.16" width="22.64" height="10.86" fill="#fad7d0"/>
<rect x="530.74" y="490.16" width="22.64" height="10.86" fill="#e22a2f"/>
<rect x="553.08" y="490.16" width="22.64" height="10.86" fill="#c6dbef"/>
<rect x="575.42" y="490.16" width="22.64" height="10.86" fill="#e2edf7"/>
<rect x="597.76" y="490.16" width="22.64" height="10.86" fill="#fdefec"/>
<rect x="620.10" y="490.16" width="22.64" height="10.86" fill="#fdebe8"/>
<rect x="642.44" y="490.16" width="22.64" height="10.86" fill="#fdefec"/>
<rect x="664.78" y="490.16" width="22.64" height="10.86" fill="#f9fbfd"/>
<rect x="687.12" y="490.16" width="22.64" height="10.86" fill="#ffffff"/>
<rect x="709.46" y="490.16" width="22.64" height="10.86" fill="#fdf1ef"/>
<text x="393.9" y="497.9" font-size="8.10" text-anchor="end">MMP9<tspan font-size="4.46" dy="-2.92">+</tspan></text>
<rect x="396.70" y="500.72" width="22.64" height="10.86" fill="#f7b9ad"/>
<rect x="419.04" y="500.72" width="22.64" height="10.86" fill="#f8c3b9"/>
<rect x="441.38" y="500.72" width="22.64" height="10.86" fill="#ecf3fa"/>
<rect x="463.72" y="500.72" width="22.64" height="10.86" fill="#fdebe8"/>
<rect x="486.06" y="500.72" width="22.64" height="10.86" fill="#ecf3fa"/>
<rect x="508.40" y="500.72" width="22.64" height="10.86" fill="#e2edf7"/>
<rect x="530.74" y="500.72" width="22.64" height="10.86" fill="#ffffff"/>
<rect x="553.08" y="500.72" width="22.64" height="10.86" fill="#ed695d"/>
<rect x="575.42" y="500.72" width="22.64" height="10.86" fill="#81b3dc"/>
<rect x="597.76" y="500.72" width="22.64" height="10.86" fill="#f8c3b9"/>
<rect x="620.10" y="500.72" width="22.64" height="10.86" fill="#ffffff"/>
<rect x="642.44" y="500.72" width="22.64" height="10.86" fill="#e8f1f8"/>
<rect x="664.78" y="500.72" width="22.64" height="10.86" fill="#fad7d0"/>
<rect x="687.12" y="500.72" width="22.64" height="10.86" fill="#e2edf7"/>
<rect x="709.46" y="500.72" width="22.64" height="10.86" fill="#ffffff"/>
<text x="393.9" y="508.5" font-size="8.10" text-anchor="end">S100A12<tspan font-size="4.46" dy="-2.92">+</tspan></text>
<rect x="396.70" y="511.28" width="22.64" height="10.86" fill="#ecf3fa"/>
<rect x="419.04" y="511.28" width="22.64" height="10.86" fill="#fdebe8"/>
<rect x="441.38" y="511.28" width="22.64" height="10.86" fill="#bcd5ec"/>
<rect x="463.72" y="511.28" width="22.64" height="10.86" fill="#fdebe8"/>
<rect x="486.06" y="511.28" width="22.64" height="10.86" fill="#fef5f3"/>
<rect x="508.40" y="511.28" width="22.64" height="10.86" fill="#f0f5fb"/>
<rect x="530.74" y="511.28" width="22.64" height="10.86" fill="#76add9"/>
<rect x="553.08" y="511.28" width="22.64" height="10.86" fill="#ffffff"/>
<rect x="575.42" y="511.28" width="22.64" height="10.86" fill="#81b3dc"/>
<rect x="597.76" y="511.28" width="22.64" height="10.86" fill="#e2edf7"/>
<rect x="620.10" y="511.28" width="22.64" height="10.86" fill="#e6eff8"/>
<rect x="642.44" y="511.28" width="22.64" height="10.86" fill="#fef5f3"/>
<rect x="664.78" y="511.28" width="22.64" height="10.86" fill="#fad7d0"/>
<rect x="687.12" y="511.28" width="22.64" height="10.86" fill="#b0cee9"/>
<rect x="709.46" y="511.28" width="22.64" height="10.86" fill="#f5f9fc"/>
<text x="393.9" y="519.1" font-size="8.10" text-anchor="end">NFKBIZ<tspan font-size="4.46" dy="-2.92">+</tspan><tspan dy="2.92">HIF1A</tspan><tspan font-size="4.46" dy="-2.92">+</tspan></text>
<rect x="396.70" y="521.84" width="22.64" height="10.86" fill="#d9e7f4"/>
<rect x="419.04" y="521.84" width="22.64" height="10.86" fill="#d9e7f4"/>
<rect x="441.38" y="521.84" width="22.64" height="10.86" fill="#e2edf7"/>
<rect x="463.72" y="521.84" width="22.64" height="10.86" fill="#fce1dc"/>
<rect x="486.06" y="521.84" width="22.64" height="10.86" fill="#f0f5fb"/>
<rect x="508.40" y="521.84" width="22.64" height="10.86" fill="#e2edf7"/>
<rect x="530.74" y="521.84" width="22.64" height="10.86" fill="#e2edf7"/>
<rect x="553.08" y="521.84" width="22.64" height="10.86" fill="#e2edf7"/>
<rect x="575.42" y="521.84" width="22.64" height="10.86" fill="#e22a2f"/>
<rect x="597.76" y="521.84" width="22.64" height="10.86" fill="#c6dbef"/>
<rect x="620.10" y="521.84" width="22.64" height="10.86" fill="#f2f7fb"/>
<rect x="642.44" y="521.84" width="22.64" height="10.86" fill="#f0f5fb"/>
<rect x="664.78" y="521.84" width="22.64" height="10.86" fill="#f5f9fc"/>
<rect x="687.12" y="521.84" width="22.64" height="10.86" fill="#fdebe8"/>
<rect x="709.46" y="521.84" width="22.64" height="10.86" fill="#f5f9fc"/>
<text x="393.9" y="529.6" font-size="8.10" text-anchor="end">HLA–DR<tspan font-size="4.46" dy="-2.92">+</tspan><tspan dy="2.92">CD74</tspan><tspan font-size="4.46" dy="-2.92">+</tspan></text>
<rect x="396.70" y="426.80" width="335.10" height="105.60" fill="none" stroke="#9a9a9a" stroke-width="0.60"/>
<text x="411.9" y="537.5" font-size="8.10" text-anchor="end" transform="rotate(-45.00 411.87 537.50)">BLCA</text>
<text x="434.2" y="537.5" font-size="8.10" text-anchor="end" transform="rotate(-45.00 434.21 537.50)">BRCA</text>
<text x="456.6" y="537.5" font-size="8.10" text-anchor="end" transform="rotate(-45.00 456.55 537.50)">CESC</text>
<text x="478.9" y="537.5" font-size="8.10" text-anchor="end" transform="rotate(-45.00 478.89 537.50)">COAD</text>
<text x="501.2" y="537.5" font-size="8.10" text-anchor="end" transform="rotate(-45.00 501.23 537.50)">ESCA</text>
<text x="523.6" y="537.5" font-size="8.10" text-anchor="end" transform="rotate(-45.00 523.57 537.50)">HNSC</text>
<text x="545.9" y="537.5" font-size="8.10" text-anchor="end" transform="rotate(-45.00 545.91 537.50)">RCC-KICH</text>
<text x="568.2" y="537.5" font-size="8.10" text-anchor="end" transform="rotate(-45.00 568.25 537.50)">RCC-KIRC</text>
<text x="590.6" y="537.5" font-size="8.10" text-anchor="end" transform="rotate(-45.00 590.59 537.50)">RCC-KIRP</text>
<text x="612.9" y="537.5" font-size="8.10" text-anchor="end" transform="rotate(-45.00 612.93 537.50)">HCC</text>
<text x="635.3" y="537.5" font-size="8.10" text-anchor="end" transform="rotate(-45.00 635.27 537.50)">NSCLC-LUAD</text>
<text x="657.6" y="537.5" font-size="8.10" text-anchor="end" transform="rotate(-45.00 657.61 537.50)">NSCLC-LUSC</text>
<text x="679.9" y="537.5" font-size="8.10" text-anchor="end" transform="rotate(-45.00 679.95 537.50)">OV</text>
<text x="702.3" y="537.5" font-size="8.10" text-anchor="end" transform="rotate(-45.00 702.29 537.50)">PAAD</text>
<text x="724.6" y="537.5" font-size="8.10" text-anchor="end" transform="rotate(-45.00 724.63 537.50)">STAD</text>
<text x="356.0" y="540.8" font-size="8.10" text-anchor="middle">HR</text>
<defs><linearGradient id="gF" x1="0" x2="1" y1="0" y2="0"><stop offset="0" stop-color="#3d88c6"/><stop offset="0.5" stop-color="#ffffff"/><stop offset="1" stop-color="#e01e28"/></linearGradient></defs>
<rect x="329.30" y="544.50" width="49.40" height="8.50" fill="url(#gF)"/>
<path d="M331.3 551.0L331.3 553.0" stroke="#fff" stroke-width="0.50"/>
<text x="328.8" y="555.5" font-size="8.10" transform="rotate(90.00 328.80 555.50)">0.0</text>
<path d="M354.0 551.0L354.0 553.0" stroke="#fff" stroke-width="0.50"/>
<text x="351.5" y="555.5" font-size="8.10" transform="rotate(90.00 351.50 555.50)">1.0</text>
<path d="M378.7 551.0L378.7 553.0" stroke="#fff" stroke-width="0.50"/>
<text x="376.2" y="555.5" font-size="8.10" transform="rotate(90.00 376.20 555.50)">2.0</text>
<rect x="791.90" y="428.80" width="37.37" height="7.30" fill="#e23a2e"/>
<rect x="791.90" y="439.36" width="20.52" height="7.30" fill="#ea7a68"/>
<rect x="791.90" y="449.92" width="8.86" height="7.30" fill="#f09c8c"/>
<rect x="791.90" y="460.48" width="4.54" height="7.30" fill="#f2b2a6"/>
<rect x="791.90" y="471.04" width="0.65" height="7.30" fill="#f8d8d0"/>
<rect x="789.52" y="481.60" width="2.38" height="7.30" fill="#d8e6f2"/>
<rect x="787.58" y="492.16" width="4.32" height="7.30" fill="#bcd4ea"/>
<rect x="769.87" y="502.72" width="22.03" height="7.30" fill="#a2c4e2"/>
<rect x="769.87" y="513.28" width="22.03" height="7.30" fill="#84b2da"/>
<rect x="758.42" y="523.84" width="33.48" height="7.30" fill="#4a90c8"/>
<path d="M788.3 426.0L788.3 532.0" stroke="#8a8a8a" stroke-width="0.80" stroke-dasharray="1.5 1.3"/>
<path d="M794.7 426.0L794.7 532.0" stroke="#8a8a8a" stroke-width="0.80" stroke-dasharray="1.5 1.3"/>
<path d="M745.0 532.2L839.0 532.2" stroke="#333" stroke-width="0.60"/>
<path d="M748.5 532.2L748.5 534.2" stroke="#333" stroke-width="0.60"/>
<text x="748.5" y="542.5" font-size="8.10" text-anchor="middle">20</text>
<path d="M770.5 532.2L770.5 534.2" stroke="#333" stroke-width="0.60"/>
<text x="770.5" y="542.5" font-size="8.10" text-anchor="middle">10</text>
<path d="M791.9 532.2L791.9 534.2" stroke="#333" stroke-width="0.60"/>
<text x="791.9" y="542.5" font-size="8.10" text-anchor="middle">0</text>
<path d="M813.6 532.2L813.6 534.2" stroke="#333" stroke-width="0.60"/>
<text x="813.6" y="542.5" font-size="8.10" text-anchor="middle">10</text>
<path d="M834.9 532.2L834.9 534.2" stroke="#333" stroke-width="0.60"/>
<text x="834.9" y="542.5" font-size="8.10" text-anchor="middle">20</text>
<text x="791.9" y="554.0" font-size="8.10" text-anchor="middle">-Log (P value)</text>
<text x="791.9" y="562.8" font-size="8.10" text-anchor="middle">Pan-cancer</text>
<text x="838.5" y="444.5" font-size="8.10" transform="rotate(90.00 838.50 444.50)">Shorter</text>
<path d="M841 472.5 L838 477.5 L840 477.5 L840 480 L842 480 L842 477.5 L844 477.5 Z" fill="#e23a2e"/>
<path d="M841 487.5 L838 482.5 L840 482.5 L840 480.2 L842 480.2 L842 482.5 L844 482.5 Z" fill="#4a90c8"/>
<text x="838.5" y="489.5" font-size="8.10" transform="rotate(90.00 838.50 489.50)">Longer</text>
<text x="2.5" y="605.4" font-size="18.50" fill="#000" font-weight="bold" style="stroke:none">G</text>
<path d="M37.5 615.3L37.5 767.2" stroke="#555" stroke-width="0.70"/>
<path d="M37.5 767.2L189.9 767.2" stroke="#555" stroke-width="0.70"/>
<path d="M35.5 627.2L37.5 627.2" stroke="#555" stroke-width="0.70"/>
<text x="34.7" y="629.8" font-size="8.10" text-anchor="end">1.00</text>
<path d="M35.5 662.2L37.5 662.2" stroke="#555" stroke-width="0.70"/>
<text x="34.7" y="664.8" font-size="8.10" text-anchor="end">0.75</text>
<path d="M35.5 697.2L37.5 697.2" stroke="#555" stroke-width="0.70"/>
<text x="34.7" y="699.8" font-size="8.10" text-anchor="end">0.50</text>
<path d="M35.5 732.2L37.5 732.2" stroke="#555" stroke-width="0.70"/>
<text x="34.7" y="734.8" font-size="8.10" text-anchor="end">0.25</text>
<path d="M35.5 767.2L37.5 767.2" stroke="#555" stroke-width="0.70"/>
<text x="34.7" y="769.8" font-size="8.10" text-anchor="end">0.00</text>
<path d="M38.5 767.2L38.5 769.2" stroke="#555" stroke-width="0.70"/>
<text x="38.5" y="777.4" font-size="8.10" text-anchor="middle">0</text>
<path d="M75.8 767.2L75.8 769.2" stroke="#555" stroke-width="0.70"/>
<text x="75.8" y="777.4" font-size="8.10" text-anchor="middle">20</text>
<path d="M113.1 767.2L113.1 769.2" stroke="#555" stroke-width="0.70"/>
<text x="113.1" y="777.4" font-size="8.10" text-anchor="middle">40</text>
<path d="M150.4 767.2L150.4 769.2" stroke="#555" stroke-width="0.70"/>
<text x="150.4" y="777.4" font-size="8.10" text-anchor="middle">60</text>
<path d="M187.7 767.2L187.7 769.2" stroke="#555" stroke-width="0.70"/>
<text x="187.7" y="777.4" font-size="8.10" text-anchor="middle">80</text>
<text x="113.7" y="786.0" font-size="8.10" text-anchor="middle">Time (Months)</text>
<text x="13.0" y="692.2" font-size="8.10" text-anchor="middle" transform="rotate(-90.00 13.00 692.20)">Survival probability</text>
<path d="M38.50 627.20H40.37 V631.40H42.23 V637.00H53.42 V641.20H55.28 V648.20H57.15 V658.00H59.02 V662.20H66.47 V665.00H75.80 V667.80H79.53 V672.00H81.40 V676.20H83.26 V679.00H85.12 V683.20H86.99 V686.00H88.85 V688.80H90.72 V691.60H94.45 V695.80H113.10 V698.60H128.02 V702.80H133.62 V705.60H165.32" fill="none" stroke="#7a7a7a" stroke-width="0.90"/>
<path d="M38.50 627.20H45.96 V630.00H57.15 V632.80H64.61 V635.60H72.07 V638.40H73.94 V641.20H90.72 V642.60H182.10" fill="none" stroke="#5aab52" stroke-width="0.90"/>
<text x="113.9" y="608.3" font-size="8.10" text-anchor="middle">Validation cohort (COAD, mIHC)</text>
<text x="113.9" y="617.9" font-size="8.10" text-anchor="middle">(HLA-DR<tspan font-size="4.46" dy="-2.92">+</tspan><tspan dy="2.92">NEU)</tspan></text>
<text x="134.0" y="657.2" font-size="8.10" text-anchor="middle">Proportion</text>
<text x="134.0" y="667.3" font-size="8.10" text-anchor="middle">≥0.12(n=52)</text>
<text x="136.7" y="719.2" font-size="8.10" text-anchor="middle">Proportion</text>
<text x="136.7" y="729.3" font-size="8.10" text-anchor="middle">&lt;0.12(n=41)</text>
<text x="55.00" y="753.40" font-size="8.10" stroke="#231f20" stroke-width="0.15"><tspan font-style="italic">P</tspan> &lt; 0.001</text>
<path d="M255.5 615.3L255.5 767.2" stroke="#555" stroke-width="0.70"/>
<path d="M255.5 767.2L406.5 767.2" stroke="#555" stroke-width="0.70"/>
<path d="M253.5 626.7L255.5 626.7" stroke="#555" stroke-width="0.70"/>
<text x="252.7" y="629.3" font-size="8.10" text-anchor="end">1.00</text>
<path d="M253.5 661.8L255.5 661.8" stroke="#555" stroke-width="0.70"/>
<text x="252.7" y="664.4" font-size="8.10" text-anchor="end">0.75</text>
<path d="M253.5 697.0L255.5 697.0" stroke="#555" stroke-width="0.70"/>
<text x="252.7" y="699.6" font-size="8.10" text-anchor="end">0.50</text>
<path d="M253.5 732.1L255.5 732.1" stroke="#555" stroke-width="0.70"/>
<text x="252.7" y="734.7" font-size="8.10" text-anchor="end">0.25</text>
<path d="M253.5 767.2L255.5 767.2" stroke="#555" stroke-width="0.70"/>
<text x="252.7" y="769.8" font-size="8.10" text-anchor="end">0.00</text>
<path d="M256.3 767.2L256.3 769.2" stroke="#555" stroke-width="0.70"/>
<text x="256.3" y="777.4" font-size="8.10" text-anchor="middle">0</text>
<path d="M293.5 767.2L293.5 769.2" stroke="#555" stroke-width="0.70"/>
<text x="293.5" y="777.4" font-size="8.10" text-anchor="middle">20</text>
<path d="M330.7 767.2L330.7 769.2" stroke="#555" stroke-width="0.70"/>
<text x="330.7" y="777.4" font-size="8.10" text-anchor="middle">40</text>
<path d="M367.9 767.2L367.9 769.2" stroke="#555" stroke-width="0.70"/>
<text x="367.9" y="777.4" font-size="8.10" text-anchor="middle">60</text>
<path d="M405.1 767.2L405.1 769.2" stroke="#555" stroke-width="0.70"/>
<text x="405.1" y="777.4" font-size="8.10" text-anchor="middle">80</text>
<text x="331.0" y="786.0" font-size="8.10" text-anchor="middle">Time (Months)</text>
<text x="231.0" y="692.0" font-size="8.10" text-anchor="middle" transform="rotate(-90.00 231.00 691.95)">Survival probability</text>
<path d="M256.30 626.70H260.02 V630.92H265.60 V636.54H273.04 V640.75H274.90 V649.18H276.76 V654.80H280.48 V659.02H286.06 V664.63H295.36 V668.85H300.94 V673.07H304.66 V680.09H312.10 V684.31H321.40 V689.93H325.12 V696.95H326.98 V703.98H327.91 V711.00H338.14 V715.22H392.08" fill="none" stroke="#7a7a7a" stroke-width="0.90"/>
<path d="M256.30 626.70H260.02 V629.51H267.46 V630.92H274.90 V635.13H276.76 V640.75H280.48 V644.97H286.06 V649.18H304.66 V659.02H317.68 V663.23H330.70 V668.85H334.42 V673.07H338.14 V678.69H380.92 V688.52H395.80" fill="none" stroke="#5aab52" stroke-width="0.90"/>
<text x="330.2" y="608.3" font-size="8.10" text-anchor="middle">Validation cohort (NSCLC, mIHC)</text>
<text x="330.2" y="617.9" font-size="8.10" text-anchor="middle">(HLA-DR<tspan font-size="4.46" dy="-2.92">+</tspan><tspan dy="2.92">NEU)</tspan></text>
<text x="372.0" y="661.5" font-size="8.10" text-anchor="middle">Proportion</text>
<text x="372.0" y="671.6" font-size="8.10" text-anchor="middle">≥0.31(n=37)</text>
<text x="344.6" y="725.5" font-size="8.10" text-anchor="middle">Proportion</text>
<text x="344.6" y="735.6" font-size="8.10" text-anchor="middle">&lt;0.31(n=53)</text>
<text x="272.70" y="753.90" font-size="8.10" stroke="#231f20" stroke-width="0.15"><tspan font-style="italic">P</tspan> = 0.03</text>
<path d="M475.0 615.3L475.0 767.2" stroke="#555" stroke-width="0.70"/>
<path d="M475.0 767.2L627.5 767.2" stroke="#555" stroke-width="0.70"/>
<path d="M473.0 625.0L475.0 625.0" stroke="#555" stroke-width="0.70"/>
<text x="472.2" y="627.6" font-size="8.10" text-anchor="end">1.00</text>
<path d="M473.0 660.4L475.0 660.4" stroke="#555" stroke-width="0.70"/>
<text x="472.2" y="663.0" font-size="8.10" text-anchor="end">0.75</text>
<path d="M473.0 695.9L475.0 695.9" stroke="#555" stroke-width="0.70"/>
<text x="472.2" y="698.5" font-size="8.10" text-anchor="end">0.50</text>
<path d="M473.0 731.3L475.0 731.3" stroke="#555" stroke-width="0.70"/>
<text x="472.2" y="733.9" font-size="8.10" text-anchor="end">0.25</text>
<path d="M473.0 766.7L475.0 766.7" stroke="#555" stroke-width="0.70"/>
<text x="472.2" y="769.3" font-size="8.10" text-anchor="end">0.00</text>
<path d="M475.6 767.2L475.6 769.2" stroke="#555" stroke-width="0.70"/>
<text x="475.6" y="777.4" font-size="8.10" text-anchor="middle">0</text>
<path d="M509.8 767.2L509.8 769.2" stroke="#555" stroke-width="0.70"/>
<text x="509.8" y="777.4" font-size="8.10" text-anchor="middle">25</text>
<path d="M544.0 767.2L544.0 769.2" stroke="#555" stroke-width="0.70"/>
<text x="544.0" y="777.4" font-size="8.10" text-anchor="middle">50</text>
<path d="M578.2 767.2L578.2 769.2" stroke="#555" stroke-width="0.70"/>
<text x="578.2" y="777.4" font-size="8.10" text-anchor="middle">75</text>
<path d="M612.4 767.2L612.4 769.2" stroke="#555" stroke-width="0.70"/>
<text x="612.4" y="777.4" font-size="8.10" text-anchor="middle">100</text>
<text x="551.2" y="786.0" font-size="8.10" text-anchor="middle">Time (Months)</text>
<text x="450.5" y="690.9" font-size="8.10" text-anchor="middle" transform="rotate(-90.00 450.50 690.85)">Survival probability</text>
<path d="M475.60 625.00H485.18 V625.00H489.29 V632.09H493.48 V637.31H497.48 V642.27H498.59 V643.66H501.52 V647.30H503.85 V650.56H506.55 V655.05H507.84 V657.18H509.34 V659.67H511.74 V663.25H513.35 V665.58H515.79 V669.11H516.70 V670.44H517.83 V672.31H521.17 V677.86H523.49 V681.69H526.14 V683.33H529.57 V685.46H531.67 V686.49H532.69 V686.91H536.30 V688.41H539.21 V689.62H542.37 V690.93H545.40 V692.33H549.68 V694.54H551.79 V695.63H555.31 V697.46H557.44 V698.56H560.30 V698.96H563.47 V699.28H565.41 V699.48H566.53 V699.60H569.04 V699.86H572.42 V700.21H575.34 V700.51H577.75 V700.76H580.85 V701.08H582.32 V701.24H583.78 V701.39H585.75 V701.74H589.47 V702.90H590.99 V703.37H592.22 V703.75H593.39 V704.11H594.35 V704.41H596.15 V704.97H599.01 V705.83H602.75 V706.60H604.74 V707.02H605.56 V707.19H626.08" fill="none" stroke="#7a7a7a" stroke-width="0.90"/>
<path d="M475.60 625.00H485.18 V625.00H487.61 V628.36H490.42 V632.08H494.53 V637.19H497.00 V639.90H499.63 V642.08H502.54 V644.49H504.02 V645.50H506.66 V647.14H509.72 V649.04H513.36 V651.30H514.52 V652.02H516.42 V653.20H517.56 V653.82H521.26 V655.73H524.55 V657.44H525.52 V657.94H529.83 V660.17H534.08 V662.37H537.23 V664.00H540.24 V665.56H541.62 V666.28H542.50 V666.73H545.20 V667.88H546.23 V668.20H547.73 V668.67H549.41 V669.19H550.34 V669.48H552.81 V670.25H555.19 V670.99H559.01 V672.17H561.68 V673.00H564.78 V673.97H567.38 V674.77H570.55 V675.76H573.00 V676.52H574.81 V677.08H579.18 V678.44H583.54 V679.80H587.35 V681.22H590.69 V682.60H592.63 V683.41H594.27 V684.09H596.12 V684.85H597.19 V685.30H600.73 V686.97H602.98 V688.14H606.81 V690.12H609.01 V691.26H613.24 V693.19H617.07 V693.98H617.89 V694.15H619.24 V694.43H626.08" fill="none" stroke="#5aab52" stroke-width="0.90"/>
<text x="549.0" y="608.3" font-size="8.10" text-anchor="middle">Validation cohort (HCC, mIHC)</text>
<text x="549.0" y="617.9" font-size="8.10" text-anchor="middle">(HLA-DR<tspan font-size="4.46" dy="-2.92">+</tspan><tspan dy="2.92">NEU)</tspan></text>
<text x="589.5" y="653.9" font-size="8.10" text-anchor="middle">Proportion</text>
<text x="589.5" y="664.0" font-size="8.10" text-anchor="middle">≥0.12(n=197)</text>
<text x="561.0" y="711.6" font-size="8.10" text-anchor="middle">Proportion</text>
<text x="561.0" y="721.7" font-size="8.10" text-anchor="middle">&lt;0.12(n=160)</text>
<text x="492.00" y="753.90" font-size="8.10" stroke="#231f20" stroke-width="0.15"><tspan font-style="italic">P</tspan> = 0.022</text>
<path d="M689.5 615.3L689.5 767.2" stroke="#555" stroke-width="0.70"/>
<path d="M689.5 767.2L841.4 767.2" stroke="#555" stroke-width="0.70"/>
<path d="M687.5 620.9L689.5 620.9" stroke="#555" stroke-width="0.70"/>
<text x="686.7" y="623.5" font-size="8.10" text-anchor="end">1.00</text>
<path d="M687.5 657.0L689.5 657.0" stroke="#555" stroke-width="0.70"/>
<text x="686.7" y="659.6" font-size="8.10" text-anchor="end">0.75</text>
<path d="M687.5 693.0L689.5 693.0" stroke="#555" stroke-width="0.70"/>
<text x="686.7" y="695.6" font-size="8.10" text-anchor="end">0.50</text>
<path d="M687.5 729.1L689.5 729.1" stroke="#555" stroke-width="0.70"/>
<text x="686.7" y="731.7" font-size="8.10" text-anchor="end">0.25</text>
<path d="M687.5 765.2L689.5 765.2" stroke="#555" stroke-width="0.70"/>
<text x="686.7" y="767.8" font-size="8.10" text-anchor="end">0.00</text>
<path d="M690.8 767.2L690.8 769.2" stroke="#555" stroke-width="0.70"/>
<text x="690.8" y="777.4" font-size="8.10" text-anchor="middle">0</text>
<path d="M727.2 767.2L727.2 769.2" stroke="#555" stroke-width="0.70"/>
<text x="727.2" y="777.4" font-size="8.10" text-anchor="middle">20</text>
<path d="M763.6 767.2L763.6 769.2" stroke="#555" stroke-width="0.70"/>
<text x="763.6" y="777.4" font-size="8.10" text-anchor="middle">40</text>
<path d="M800.0 767.2L800.0 769.2" stroke="#555" stroke-width="0.70"/>
<text x="800.0" y="777.4" font-size="8.10" text-anchor="middle">60</text>
<path d="M836.4 767.2L836.4 769.2" stroke="#555" stroke-width="0.70"/>
<text x="836.4" y="777.4" font-size="8.10" text-anchor="middle">80</text>
<text x="765.5" y="786.0" font-size="8.10" text-anchor="middle">Time (Months)</text>
<text x="665.0" y="688.0" font-size="8.10" text-anchor="middle" transform="rotate(-90.00 665.00 688.05)">Survival probability</text>
<path d="M690.80 620.90H691.71 V632.44H696.26 V643.99H699.90 V655.53H705.36 V684.39H709.00 V695.94H716.28 V707.48H721.74 V719.02H730.84 V730.57H732.66 V736.34H743.58 V742.11H789.08 V747.88H843.68" fill="none" stroke="#7a7a7a" stroke-width="0.90"/>
<path d="M690.80 620.90H692.62 V625.23H694.44 V631.00H698.08 V635.33H701.72 V639.66H705.36 V643.99H709.00 V648.32H712.64 V652.65H716.28 V656.98H719.92 V661.30H723.56 V668.52H727.20 V674.29H730.84 V678.62H734.48 V682.95H738.12 V687.28H743.58 V690.16H752.68 V693.05H781.80 V697.38H810.92 V700.26H830.94 V703.15H843.68" fill="none" stroke="#5aab52" stroke-width="0.90"/>
<text x="765.5" y="608.3" font-size="8.10" text-anchor="middle">Validation cohort (STAD, mIHC)</text>
<text x="765.5" y="617.9" font-size="8.10" text-anchor="middle">(HLA-DR<tspan font-size="4.46" dy="-2.92">+</tspan><tspan dy="2.92">NEU)</tspan></text>
<text x="808.5" y="679.2" font-size="8.10" text-anchor="middle">Proportion</text>
<text x="808.5" y="689.3" font-size="8.10" text-anchor="middle">≥0.25(n=60)</text>
<text x="817.3" y="733.6" font-size="8.10" text-anchor="middle">Proportion</text>
<text x="817.3" y="743.7" font-size="8.10" text-anchor="middle">&lt;0.25(n=25)</text>
<text x="707.20" y="757.20" font-size="8.10" stroke="#231f20" stroke-width="0.15"><tspan font-style="italic">P</tspan> &lt; 0.001</text>
<path d="M37.5 812.0L37.5 964.1" stroke="#555" stroke-width="0.70"/>
<path d="M37.5 964.1L189.9 964.1" stroke="#555" stroke-width="0.70"/>
<path d="M35.5 819.1L37.5 819.1" stroke="#555" stroke-width="0.70"/>
<text x="34.7" y="821.7" font-size="8.10" text-anchor="end">1.00</text>
<path d="M35.5 855.4L37.5 855.4" stroke="#555" stroke-width="0.70"/>
<text x="34.7" y="858.0" font-size="8.10" text-anchor="end">0.75</text>
<path d="M35.5 891.6L37.5 891.6" stroke="#555" stroke-width="0.70"/>
<text x="34.7" y="894.2" font-size="8.10" text-anchor="end">0.50</text>
<path d="M35.5 927.9L37.5 927.9" stroke="#555" stroke-width="0.70"/>
<text x="34.7" y="930.5" font-size="8.10" text-anchor="end">0.25</text>
<path d="M35.5 964.1L37.5 964.1" stroke="#555" stroke-width="0.70"/>
<text x="34.7" y="966.7" font-size="8.10" text-anchor="end">0.00</text>
<path d="M38.5 964.1L38.5 966.1" stroke="#555" stroke-width="0.70"/>
<text x="38.5" y="974.3" font-size="8.10" text-anchor="middle">0</text>
<path d="M75.8 964.1L75.8 966.1" stroke="#555" stroke-width="0.70"/>
<text x="75.8" y="974.3" font-size="8.10" text-anchor="middle">25</text>
<path d="M113.1 964.1L113.1 966.1" stroke="#555" stroke-width="0.70"/>
<text x="113.1" y="974.3" font-size="8.10" text-anchor="middle">50</text>
<path d="M150.4 964.1L150.4 966.1" stroke="#555" stroke-width="0.70"/>
<text x="150.4" y="974.3" font-size="8.10" text-anchor="middle">75</text>
<path d="M187.7 964.1L187.7 966.1" stroke="#555" stroke-width="0.70"/>
<text x="187.7" y="974.3" font-size="8.10" text-anchor="middle">100</text>
<text x="113.7" y="982.9" font-size="8.10" text-anchor="middle">Time (Months)</text>
<text x="13.0" y="886.6" font-size="8.10" text-anchor="middle" transform="rotate(-90.00 13.00 886.60)">Survival probability</text>
<path d="M38.50 819.10H45.96 V823.45H47.45 V826.35H50.44 V829.25H53.42 V833.60H60.88 V836.50H68.34 V839.40H75.80 V842.30H86.24 V845.20H95.20 V848.10H98.18 V853.90H101.16 V859.70H105.64 V862.60H110.12 V864.05H116.08 V865.50H169.80" fill="none" stroke="#7a7a7a" stroke-width="0.90"/>
<path d="M38.50 819.10H50.44 V820.55H63.86 V822.00H75.80 V823.45H87.74 V824.90H111.61 V826.35H116.08 V829.25H122.05 V830.70H136.97 V832.15H169.80" fill="none" stroke="#5aab52" stroke-width="0.90"/>
<text x="114.0" y="806.5" font-size="8.10" text-anchor="middle">Validation cohort (RCC, mIHC)</text>
<text x="114.0" y="816.1" font-size="8.10" text-anchor="middle">(HLA-DR<tspan font-size="4.46" dy="-2.92">+</tspan><tspan dy="2.92">NEU)</tspan></text>
<text x="150.6" y="842.7" font-size="8.10" text-anchor="middle">Proportion</text>
<text x="150.6" y="852.8" font-size="8.10" text-anchor="middle">≥0.11(n=88)</text>
<text x="136.7" y="882.4" font-size="8.10" text-anchor="middle">Proportion</text>
<text x="136.7" y="892.5" font-size="8.10" text-anchor="middle">&lt;0.11(n=62)</text>
<text x="55.00" y="953.30" font-size="8.10" stroke="#231f20" stroke-width="0.15"><tspan font-style="italic">P</tspan> &lt; 0.001</text>
<path d="M256.8 812.0L256.8 964.1" stroke="#555" stroke-width="0.70"/>
<path d="M256.8 964.1L408.7 964.1" stroke="#555" stroke-width="0.70"/>
<path d="M254.8 818.6L256.8 818.6" stroke="#555" stroke-width="0.70"/>
<text x="254.0" y="821.2" font-size="8.10" text-anchor="end">1.00</text>
<path d="M254.8 855.0L256.8 855.0" stroke="#555" stroke-width="0.70"/>
<text x="254.0" y="857.6" font-size="8.10" text-anchor="end">0.75</text>
<path d="M254.8 891.4L256.8 891.4" stroke="#555" stroke-width="0.70"/>
<text x="254.0" y="894.0" font-size="8.10" text-anchor="end">0.50</text>
<path d="M254.8 927.7L256.8 927.7" stroke="#555" stroke-width="0.70"/>
<text x="254.0" y="930.3" font-size="8.10" text-anchor="end">0.25</text>
<path d="M254.8 964.1L256.8 964.1" stroke="#555" stroke-width="0.70"/>
<text x="254.0" y="966.7" font-size="8.10" text-anchor="end">0.00</text>
<path d="M258.5 964.1L258.5 966.1" stroke="#555" stroke-width="0.70"/>
<text x="258.5" y="974.3" font-size="8.10" text-anchor="middle">0</text>
<path d="M292.9 964.1L292.9 966.1" stroke="#555" stroke-width="0.70"/>
<text x="292.9" y="974.3" font-size="8.10" text-anchor="middle">25</text>
<path d="M327.2 964.1L327.2 966.1" stroke="#555" stroke-width="0.70"/>
<text x="327.2" y="974.3" font-size="8.10" text-anchor="middle">50</text>
<path d="M361.6 964.1L361.6 966.1" stroke="#555" stroke-width="0.70"/>
<text x="361.6" y="974.3" font-size="8.10" text-anchor="middle">75</text>
<path d="M396.0 964.1L396.0 966.1" stroke="#555" stroke-width="0.70"/>
<text x="396.0" y="974.3" font-size="8.10" text-anchor="middle">100</text>
<text x="332.8" y="982.9" font-size="8.10" text-anchor="middle">Time (Months)</text>
<text x="232.3" y="886.4" font-size="8.10" text-anchor="middle" transform="rotate(-90.00 232.30 886.35)">Survival probability</text>
<path d="M258.50 818.60H265.38 V825.88H266.75 V836.06H268.12 V844.79H269.50 V849.15H272.25 V852.07H279.12 V856.43H283.25 V860.80H297.00 V865.16H299.75 V876.80H303.88 V884.08H310.75 V888.44H313.50 V898.62H319.00 V902.99H323.12 V908.81H327.25 V916.09H331.38 V921.90H341.00 V924.82H346.50 V927.73H408.38" fill="none" stroke="#7a7a7a" stroke-width="0.90"/>
<path d="M258.50 818.60H265.38 V820.06H272.25 V821.51H275.00 V824.42H279.12 V830.24H283.25 V836.06H288.75 V840.43H295.62 V844.79H299.75 V849.15H305.25 V854.98H310.75 V860.80H316.25 V863.71H320.38 V866.62H334.12 V868.07H343.75 V869.52H350.62 V872.44H361.62 V873.89H365.75 V876.80H371.25 V881.17H378.12 V885.53H408.38" fill="none" stroke="#5aab52" stroke-width="0.90"/>
<text x="332.7" y="806.5" font-size="8.10" text-anchor="middle">Validation cohort (OV, mIHC)</text>
<text x="332.7" y="816.1" font-size="8.10" text-anchor="middle">(HLA-DR<tspan font-size="4.46" dy="-2.92">+</tspan><tspan dy="2.92">NEU)</tspan></text>
<text x="370.0" y="853.3" font-size="8.10" text-anchor="middle">Proportion</text>
<text x="370.0" y="863.4" font-size="8.10" text-anchor="middle">≥0.41(n=111)</text>
<text x="377.0" y="913.6" font-size="8.10" text-anchor="middle">Proportion</text>
<text x="377.0" y="923.7" font-size="8.10" text-anchor="middle">&lt;0.41(n=49)</text>
<text x="274.50" y="952.80" font-size="8.10" stroke="#231f20" stroke-width="0.15"><tspan font-style="italic">P</tspan> &lt; 0.001</text>
<path d="M475.0 812.0L475.0 963.3" stroke="#555" stroke-width="0.70"/>
<path d="M475.0 963.3L626.5 963.3" stroke="#555" stroke-width="0.70"/>
<path d="M473.0 819.9L475.0 819.9" stroke="#555" stroke-width="0.70"/>
<text x="472.2" y="822.5" font-size="8.10" text-anchor="end">1.00</text>
<path d="M473.0 855.4L475.0 855.4" stroke="#555" stroke-width="0.70"/>
<text x="472.2" y="858.0" font-size="8.10" text-anchor="end">0.75</text>
<path d="M473.0 891.0L475.0 891.0" stroke="#555" stroke-width="0.70"/>
<text x="472.2" y="893.6" font-size="8.10" text-anchor="end">0.50</text>
<path d="M473.0 926.5L475.0 926.5" stroke="#555" stroke-width="0.70"/>
<text x="472.2" y="929.1" font-size="8.10" text-anchor="end">0.25</text>
<path d="M473.0 962.0L475.0 962.0" stroke="#555" stroke-width="0.70"/>
<text x="472.2" y="964.6" font-size="8.10" text-anchor="end">0.00</text>
<path d="M476.3 963.3L476.3 965.3" stroke="#555" stroke-width="0.70"/>
<text x="476.3" y="973.5" font-size="8.10" text-anchor="middle">0</text>
<path d="M526.3 963.3L526.3 965.3" stroke="#555" stroke-width="0.70"/>
<text x="526.3" y="973.5" font-size="8.10" text-anchor="middle">50</text>
<path d="M576.3 963.3L576.3 965.3" stroke="#555" stroke-width="0.70"/>
<text x="576.3" y="973.5" font-size="8.10" text-anchor="middle">100</text>
<path d="M626.3 963.3L626.3 965.3" stroke="#555" stroke-width="0.70"/>
<text x="626.3" y="973.5" font-size="8.10" text-anchor="middle">150</text>
<text x="550.8" y="982.1" font-size="8.10" text-anchor="middle">Time (Months)</text>
<text x="450.5" y="886.0" font-size="8.10" text-anchor="middle" transform="rotate(-90.00 450.50 885.95)">Survival probability</text>
<path d="M476.30 819.90H479.30 V824.16H481.30 V827.00H484.30 V829.85H493.30 V835.53H496.30 V841.22H506.30 V846.90H509.30 V852.58H521.30 V856.85H536.30 V861.11H538.30 V866.79H546.30 V871.06H553.30 V876.74H556.30 V881.00H572.30 V885.27H601.30 V889.53H622.30 V926.48H625.30" fill="none" stroke="#7a7a7a" stroke-width="0.90"/>
<path d="M476.30 819.90H479.30 V821.32H484.30 V822.74H488.30 V824.16H494.30 V825.58H506.30 V827.00H516.30 V828.43H521.30 V831.27H528.30 V832.69H536.30 V835.53H539.30 V836.95H546.30 V838.37H553.30 V839.79H556.30 V841.22H561.30 V844.06H571.30 V845.48H584.30 V848.32H589.30 V849.74H622.30 V866.79H625.30" fill="none" stroke="#5aab52" stroke-width="0.90"/>
<text x="551.5" y="806.5" font-size="8.10" text-anchor="middle">Validation cohort (BRCA, mIHC)</text>
<text x="551.5" y="816.1" font-size="8.10" text-anchor="middle">(HLA-DR<tspan font-size="4.46" dy="-2.92">+</tspan><tspan dy="2.92">NEU)</tspan></text>
<text x="589.0" y="860.9" font-size="8.10" text-anchor="middle">Proportion</text>
<text x="589.0" y="871.0" font-size="8.10" text-anchor="middle">≥0.25(n=90)</text>
<text x="575.5" y="898.9" font-size="8.10" text-anchor="middle">Proportion</text>
<text x="575.5" y="909.0" font-size="8.10" text-anchor="middle">&lt;0.25(n=39)</text>
<text x="492.80" y="952.80" font-size="8.10" stroke="#231f20" stroke-width="0.15"><tspan font-style="italic">P</tspan> &lt; 0.001</text>
<path d="M690.8 812.0L690.8 963.3" stroke="#555" stroke-width="0.70"/>
<path d="M690.8 963.3L842.6 963.3" stroke="#555" stroke-width="0.70"/>
<path d="M688.8 817.1L690.8 817.1" stroke="#555" stroke-width="0.70"/>
<text x="688.0" y="819.7" font-size="8.10" text-anchor="end">1.00</text>
<path d="M688.8 853.3L690.8 853.3" stroke="#555" stroke-width="0.70"/>
<text x="688.0" y="855.9" font-size="8.10" text-anchor="end">0.75</text>
<path d="M688.8 889.5L690.8 889.5" stroke="#555" stroke-width="0.70"/>
<text x="688.0" y="892.1" font-size="8.10" text-anchor="end">0.50</text>
<path d="M688.8 925.8L690.8 925.8" stroke="#555" stroke-width="0.70"/>
<text x="688.0" y="928.4" font-size="8.10" text-anchor="end">0.25</text>
<path d="M688.8 962.0L690.8 962.0" stroke="#555" stroke-width="0.70"/>
<text x="688.0" y="964.6" font-size="8.10" text-anchor="end">0.00</text>
<path d="M692.0 963.3L692.0 965.3" stroke="#555" stroke-width="0.70"/>
<text x="692.0" y="973.5" font-size="8.10" text-anchor="middle">0</text>
<path d="M728.7 963.3L728.7 965.3" stroke="#555" stroke-width="0.70"/>
<text x="728.7" y="973.5" font-size="8.10" text-anchor="middle">20</text>
<path d="M765.4 963.3L765.4 965.3" stroke="#555" stroke-width="0.70"/>
<text x="765.4" y="973.5" font-size="8.10" text-anchor="middle">40</text>
<path d="M802.1 963.3L802.1 965.3" stroke="#555" stroke-width="0.70"/>
<text x="802.1" y="973.5" font-size="8.10" text-anchor="middle">60</text>
<path d="M838.8 963.3L838.8 965.3" stroke="#555" stroke-width="0.70"/>
<text x="838.8" y="973.5" font-size="8.10" text-anchor="middle">80</text>
<text x="766.7" y="982.1" font-size="8.10" text-anchor="middle">Time (Months)</text>
<text x="666.3" y="884.5" font-size="8.10" text-anchor="middle" transform="rotate(-90.00 666.30 884.55)">Survival probability</text>
<path d="M692.00 817.10H693.84 V822.90H695.67 V828.69H697.50 V834.49H701.17 V840.28H703.01 V846.08H706.68 V851.88H708.51 V859.12H710.35 V864.92H714.02 V870.71H717.69 V879.41H725.03 V885.20H734.21 V891.00H736.04 V899.69H739.71 V905.49H741.54 V911.28H770.90 V918.53H842.47" fill="none" stroke="#7a7a7a" stroke-width="0.90"/>
<path d="M692.00 817.10H701.17 V824.35H706.68 V830.14H708.51 V837.39H717.69 V843.18H721.36 V850.43H728.70 V856.22H739.71 V863.47H763.57 V870.71H796.60 V882.31H800.26 V893.90H820.45" fill="none" stroke="#5aab52" stroke-width="0.90"/>
<text x="766.7" y="806.5" font-size="8.10" text-anchor="middle">Validation cohort (BLCA, mIHC)</text>
<text x="766.7" y="816.1" font-size="8.10" text-anchor="middle">(HLA-DR<tspan font-size="4.46" dy="-2.92">+</tspan><tspan dy="2.92">NEU)</tspan></text>
<text x="803.7" y="853.3" font-size="8.10" text-anchor="middle">Proportion</text>
<text x="803.7" y="863.4" font-size="8.10" text-anchor="middle">≥0.37(n=22)</text>
<text x="794.5" y="928.7" font-size="8.10" text-anchor="middle">Proportion</text>
<text x="794.5" y="938.8" font-size="8.10" text-anchor="middle">&lt;0.37(n=30)</text>
<text x="708.50" y="952.80" font-size="8.10" stroke="#231f20" stroke-width="0.15"><tspan font-style="italic">P</tspan> = 0.032</text>
<text x="3.8" y="1024.9" font-size="18.50" fill="#000" font-weight="bold" style="stroke:none">H</text>
<text x="380.5" y="1024.9" font-size="18.50" fill="#000" font-weight="bold" style="stroke:none">I</text>
<text x="606.3" y="1024.9" font-size="18.50" fill="#000" font-weight="bold" style="stroke:none">J</text>
<text x="215.0" y="1030.2" font-size="8.10" text-anchor="middle">Cytokines</text>
<text x="479.7" y="1030.2" font-size="8.10" text-anchor="middle">MHC molecules</text>
<text x="741.0" y="1030.2" font-size="8.10" text-anchor="middle">Immunophenotypes &amp; signatures</text>
<text x="68.9" y="1045.7" font-size="8.10" text-anchor="end">HLA–DR<tspan font-size="4.46" dy="-2.92">+</tspan><tspan dy="2.92">CD74</tspan><tspan font-size="4.46" dy="-2.92">+</tspan></text>
<text x="68.9" y="1061.5" font-size="8.10" text-anchor="end">NFKBIZ<tspan font-size="4.46" dy="-2.92">+</tspan><tspan dy="2.92">HIF1A</tspan><tspan font-size="4.46" dy="-2.92">+</tspan></text>
<text x="68.9" y="1077.3" font-size="8.10" text-anchor="end">CXCL8<tspan font-size="4.46" dy="-2.92">+</tspan><tspan dy="2.92">IL1B</tspan><tspan font-size="4.46" dy="-2.92">+</tspan></text>
<text x="68.9" y="1093.1" font-size="8.10" text-anchor="end">IFIT1<tspan font-size="4.46" dy="-2.92">+</tspan><tspan dy="2.92">ISG15</tspan><tspan font-size="4.46" dy="-2.92">+</tspan></text>
<text x="68.9" y="1108.9" font-size="8.10" text-anchor="end">CXCR2<tspan font-size="4.46" dy="-2.92">+</tspan></text>
<text x="68.9" y="1124.5" font-size="8.10" text-anchor="end">S100A12<tspan font-size="4.46" dy="-2.92">+</tspan></text>
<text x="68.9" y="1140.2" font-size="8.10" text-anchor="end">TXNIP<tspan font-size="4.46" dy="-2.92">+</tspan></text>
<text x="68.9" y="1155.9" font-size="8.10" text-anchor="end">MMP9<tspan font-size="4.46" dy="-2.92">+</tspan></text>
<text x="68.9" y="1171.7" font-size="8.10" text-anchor="end">ARG1<tspan font-size="4.46" dy="-2.92">+</tspan></text>
<text x="68.9" y="1187.4" font-size="8.10" text-anchor="end">VEGFA<tspan font-size="4.46" dy="-2.92">+</tspan><tspan dy="2.92">SPP1</tspan><tspan font-size="4.46" dy="-2.92">+</tspan></text>
<circle cx="75.6" cy="1043.2" r="2.16" fill="#412c77" stroke="#2a2222" stroke-width="0.60"/>
<circle cx="75.6" cy="1059.0" r="1.30" fill="#f5aa91" stroke="#2a2222" stroke-width="0.60"/>
<circle cx="75.6" cy="1074.8" r="1.30" fill="#f5aa91" stroke="#2a2222" stroke-width="0.60"/>
<circle cx="75.6" cy="1090.6" r="1.30" fill="#f5aa91" stroke="#2a2222" stroke-width="0.60"/>
<circle cx="75.6" cy="1106.4" r="1.30" fill="#f5aa91" stroke="#2a2222" stroke-width="0.60"/>
<circle cx="75.6" cy="1122.0" r="1.30" fill="#f5aa91" stroke="#2a2222" stroke-width="0.60"/>
<circle cx="75.6" cy="1137.7" r="1.30" fill="#944e67" stroke="#2a2222" stroke-width="0.60"/>
<circle cx="75.6" cy="1153.4" r="1.30" fill="#944e67" stroke="#2a2222" stroke-width="0.60"/>
<circle cx="75.6" cy="1169.2" r="1.30" fill="#f5aa91" stroke="#2a2222" stroke-width="0.60"/>
<circle cx="75.6" cy="1184.9" r="1.30" fill="#944e67" stroke="#2a2222" stroke-width="0.60"/>
<text x="80.6" y="1198.6" font-size="8.10" text-anchor="end" transform="rotate(-45.00 80.60 1198.60)">CCL5</text>
<circle cx="97.6" cy="1043.2" r="3.89" fill="#f5aa91" stroke="#2a2222" stroke-width="0.60"/>
<circle cx="97.6" cy="1059.0" r="4.43" fill="#f5aa91" stroke="#2a2222" stroke-width="0.60"/>
<circle cx="97.6" cy="1074.8" r="4.32" fill="#944e67" stroke="#2a2222" stroke-width="0.60"/>
<circle cx="97.6" cy="1090.6" r="4.00" fill="#f0805a" stroke="#2a2222" stroke-width="0.60"/>
<circle cx="97.6" cy="1106.4" r="4.00" fill="#fad5c8" stroke="#2a2222" stroke-width="0.60"/>
<circle cx="97.6" cy="1122.0" r="4.00" fill="#f5aa91" stroke="#2a2222" stroke-width="0.60"/>
<circle cx="97.6" cy="1137.7" r="4.00" fill="#f0805a" stroke="#2a2222" stroke-width="0.60"/>
<circle cx="97.6" cy="1153.4" r="4.00" fill="#fad5c8" stroke="#2a2222" stroke-width="0.60"/>
<circle cx="97.6" cy="1169.2" r="4.00" fill="#fad5c8" stroke="#2a2222" stroke-width="0.60"/>
<circle cx="97.6" cy="1184.9" r="4.32" fill="#944e67" stroke="#2a2222" stroke-width="0.60"/>
<text x="102.6" y="1198.6" font-size="8.10" text-anchor="end" transform="rotate(-45.00 102.63 1198.60)">CXCL8</text>
<circle cx="119.7" cy="1043.2" r="1.94" fill="#944e67" stroke="#2a2222" stroke-width="0.60"/>
<circle cx="119.7" cy="1059.0" r="1.94" fill="#f0805a" stroke="#2a2222" stroke-width="0.60"/>
<circle cx="119.7" cy="1074.8" r="2.16" fill="#944e67" stroke="#2a2222" stroke-width="0.60"/>
<circle cx="119.7" cy="1090.6" r="1.51" fill="#ffffff" stroke="#2a2222" stroke-width="0.60"/>
<circle cx="119.7" cy="1106.4" r="1.40" fill="#ffffff" stroke="#2a2222" stroke-width="0.60"/>
<circle cx="119.7" cy="1122.0" r="1.73" fill="#f0805a" stroke="#2a2222" stroke-width="0.60"/>
<circle cx="119.7" cy="1137.7" r="1.40" fill="#fad5c8" stroke="#2a2222" stroke-width="0.60"/>
<circle cx="119.7" cy="1153.4" r="1.62" fill="#f0805a" stroke="#2a2222" stroke-width="0.60"/>
<circle cx="119.7" cy="1169.2" r="1.40" fill="#fad5c8" stroke="#2a2222" stroke-width="0.60"/>
<circle cx="119.7" cy="1184.9" r="1.62" fill="#944e67" stroke="#2a2222" stroke-width="0.60"/>
<text x="124.7" y="1198.6" font-size="8.10" text-anchor="end" transform="rotate(-45.00 124.66 1198.60)">CCL20</text>
<circle cx="141.7" cy="1043.2" r="2.16" fill="#fad5c8" stroke="#2a2222" stroke-width="0.60"/>
<circle cx="141.7" cy="1059.0" r="2.48" fill="#f5aa91" stroke="#2a2222" stroke-width="0.60"/>
<circle cx="141.7" cy="1074.8" r="2.38" fill="#f5aa91" stroke="#2a2222" stroke-width="0.60"/>
<circle cx="141.7" cy="1090.6" r="3.24" fill="#412c77" stroke="#2a2222" stroke-width="0.60"/>
<circle cx="141.7" cy="1106.4" r="2.70" fill="#f0805a" stroke="#2a2222" stroke-width="0.60"/>
<circle cx="141.7" cy="1122.0" r="2.38" fill="#f5aa91" stroke="#2a2222" stroke-width="0.60"/>
<circle cx="141.7" cy="1137.7" r="2.16" fill="#f5aa91" stroke="#2a2222" stroke-width="0.60"/>
<circle cx="141.7" cy="1153.4" r="2.38" fill="#f0805a" stroke="#2a2222" stroke-width="0.60"/>
<circle cx="141.7" cy="1169.2" r="1.94" fill="#f5aa91" stroke="#2a2222" stroke-width="0.60"/>
<circle cx="141.7" cy="1184.9" r="1.94" fill="#fad5c8" stroke="#2a2222" stroke-width="0.60"/>
<text x="146.7" y="1198.6" font-size="8.10" text-anchor="end" transform="rotate(-45.00 146.69 1198.60)">TNFSF13B</text>
<circle cx="163.7" cy="1043.2" r="1.40" fill="#f5aa91" stroke="#2a2222" stroke-width="0.60"/>
<circle cx="163.7" cy="1059.0" r="1.62" fill="#f0805a" stroke="#2a2222" stroke-width="0.60"/>
<circle cx="163.7" cy="1074.8" r="1.40" fill="#f5aa91" stroke="#2a2222" stroke-width="0.60"/>
<circle cx="163.7" cy="1090.6" r="1.94" fill="#412c77" stroke="#2a2222" stroke-width="0.60"/>
<circle cx="163.7" cy="1106.4" r="1.40" fill="#f5aa91" stroke="#2a2222" stroke-width="0.60"/>
<circle cx="163.7" cy="1122.0" r="1.19" fill="#f5aa91" stroke="#2a2222" stroke-width="0.60"/>
<circle cx="163.7" cy="1137.7" r="1.30" fill="#944e67" stroke="#2a2222" stroke-width="0.60"/>
<circle cx="163.7" cy="1153.4" r="1.30" fill="#f5aa91" stroke="#2a2222" stroke-width="0.60"/>
<circle cx="163.7" cy="1169.2" r="1.30" fill="#fad5c8" stroke="#2a2222" stroke-width="0.60"/>
<circle cx="163.7" cy="1184.9" r="1.30" fill="#944e67" stroke="#2a2222" stroke-width="0.60"/>
<text x="168.7" y="1198.6" font-size="8.10" text-anchor="end" transform="rotate(-45.00 168.72 1198.60)">CD274</text>
<circle cx="185.8" cy="1043.2" r="1.94" fill="#fad5c8" stroke="#2a2222" stroke-width="0.60"/>
<circle cx="185.8" cy="1059.0" r="2.38" fill="#f0805a" stroke="#2a2222" stroke-width="0.60"/>
<circle cx="185.8" cy="1074.8" r="1.94" fill="#f5aa91" stroke="#2a2222" stroke-width="0.60"/>
<circle cx="185.8" cy="1090.6" r="2.38" fill="#944e67" stroke="#2a2222" stroke-width="0.60"/>
<circle cx="185.8" cy="1106.4" r="2.16" fill="#f0805a" stroke="#2a2222" stroke-width="0.60"/>
<circle cx="185.8" cy="1122.0" r="1.73" fill="#fad5c8" stroke="#2a2222" stroke-width="0.60"/>
<circle cx="185.8" cy="1137.7" r="1.94" fill="#f0805a" stroke="#2a2222" stroke-width="0.60"/>
<circle cx="185.8" cy="1153.4" r="1.62" fill="#ffffff" stroke="#2a2222" stroke-width="0.60"/>
<circle cx="185.8" cy="1169.2" r="1.73" fill="#fad5c8" stroke="#2a2222" stroke-width="0.60"/>
<circle cx="185.8" cy="1184.9" r="1.94" fill="#944e67" stroke="#2a2222" stroke-width="0.60"/>
<text x="190.8" y="1198.6" font-size="8.10" text-anchor="end" transform="rotate(-45.00 190.75 1198.60)">CCR1</text>
<circle cx="207.8" cy="1043.2" r="2.38" fill="#ffffff" stroke="#2a2222" stroke-width="0.60"/>
<circle cx="207.8" cy="1059.0" r="3.24" fill="#fad5c8" stroke="#2a2222" stroke-width="0.60"/>
<circle cx="207.8" cy="1074.8" r="3.02" fill="#f5aa91" stroke="#2a2222" stroke-width="0.60"/>
<circle cx="207.8" cy="1090.6" r="3.24" fill="#c26760" stroke="#2a2222" stroke-width="0.60"/>
<circle cx="207.8" cy="1106.4" r="3.89" fill="#944e67" stroke="#2a2222" stroke-width="0.60"/>
<circle cx="207.8" cy="1122.0" r="3.02" fill="#f5aa91" stroke="#2a2222" stroke-width="0.60"/>
<circle cx="207.8" cy="1137.7" r="3.24" fill="#944e67" stroke="#2a2222" stroke-width="0.60"/>
<circle cx="207.8" cy="1153.4" r="3.24" fill="#f5aa91" stroke="#2a2222" stroke-width="0.60"/>
<circle cx="207.8" cy="1169.2" r="3.46" fill="#f0805a" stroke="#2a2222" stroke-width="0.60"/>
<circle cx="207.8" cy="1184.9" r="2.70" fill="#fad5c8" stroke="#2a2222" stroke-width="0.60"/>
<text x="212.8" y="1198.6" font-size="8.10" text-anchor="end" transform="rotate(-45.00 212.78 1198.60)">CXCR2</text>
<circle cx="229.8" cy="1043.2" r="1.84" fill="#ffffff" stroke="#2a2222" stroke-width="0.60"/>
<circle cx="229.8" cy="1059.0" r="2.16" fill="#fad5c8" stroke="#2a2222" stroke-width="0.60"/>
<circle cx="229.8" cy="1074.8" r="2.38" fill="#f5aa91" stroke="#2a2222" stroke-width="0.60"/>
<circle cx="229.8" cy="1090.6" r="2.81" fill="#c26760" stroke="#2a2222" stroke-width="0.60"/>
<circle cx="229.8" cy="1106.4" r="3.24" fill="#944e67" stroke="#2a2222" stroke-width="0.60"/>
<circle cx="229.8" cy="1122.0" r="2.70" fill="#f0805a" stroke="#2a2222" stroke-width="0.60"/>
<circle cx="229.8" cy="1137.7" r="2.70" fill="#944e67" stroke="#2a2222" stroke-width="0.60"/>
<circle cx="229.8" cy="1153.4" r="2.81" fill="#f0805a" stroke="#2a2222" stroke-width="0.60"/>
<circle cx="229.8" cy="1169.2" r="3.02" fill="#f0805a" stroke="#2a2222" stroke-width="0.60"/>
<circle cx="229.8" cy="1184.9" r="2.16" fill="#ffffff" stroke="#2a2222" stroke-width="0.60"/>
<text x="234.8" y="1198.6" font-size="8.10" text-anchor="end" transform="rotate(-45.00 234.81 1198.60)">CXCR1</text>
<circle cx="251.8" cy="1043.2" r="3.46" fill="#f5aa91" stroke="#2a2222" stroke-width="0.60"/>
<circle cx="251.8" cy="1059.0" r="4.10" fill="#f5aa91" stroke="#2a2222" stroke-width="0.60"/>
<circle cx="251.8" cy="1074.8" r="3.89" fill="#f0805a" stroke="#2a2222" stroke-width="0.60"/>
<circle cx="251.8" cy="1090.6" r="3.67" fill="#f0805a" stroke="#2a2222" stroke-width="0.60"/>
<circle cx="251.8" cy="1106.4" r="3.67" fill="#fad5c8" stroke="#2a2222" stroke-width="0.60"/>
<circle cx="251.8" cy="1122.0" r="3.46" fill="#f5aa91" stroke="#2a2222" stroke-width="0.60"/>
<circle cx="251.8" cy="1137.7" r="3.67" fill="#944e67" stroke="#2a2222" stroke-width="0.60"/>
<circle cx="251.8" cy="1153.4" r="3.89" fill="#ffffff" stroke="#2a2222" stroke-width="0.60"/>
<circle cx="251.8" cy="1169.2" r="3.67" fill="#fad5c8" stroke="#2a2222" stroke-width="0.60"/>
<circle cx="251.8" cy="1184.9" r="3.89" fill="#944e67" stroke="#2a2222" stroke-width="0.60"/>
<text x="256.8" y="1198.6" font-size="8.10" text-anchor="end" transform="rotate(-45.00 256.84 1198.60)">CXCR4</text>
<circle cx="273.9" cy="1043.2" r="2.70" fill="#944e67" stroke="#2a2222" stroke-width="0.60"/>
<circle cx="273.9" cy="1059.0" r="2.70" fill="#f0805a" stroke="#2a2222" stroke-width="0.60"/>
<circle cx="273.9" cy="1074.8" r="2.16" fill="#f5aa91" stroke="#2a2222" stroke-width="0.60"/>
<circle cx="273.9" cy="1090.6" r="1.94" fill="#f0805a" stroke="#2a2222" stroke-width="0.60"/>
<circle cx="273.9" cy="1106.4" r="1.62" fill="#fad5c8" stroke="#2a2222" stroke-width="0.60"/>
<circle cx="273.9" cy="1122.0" r="1.94" fill="#f5aa91" stroke="#2a2222" stroke-width="0.60"/>
<circle cx="273.9" cy="1137.7" r="1.94" fill="#f0805a" stroke="#2a2222" stroke-width="0.60"/>
<circle cx="273.9" cy="1153.4" r="1.51" fill="#fad5c8" stroke="#2a2222" stroke-width="0.60"/>
<circle cx="273.9" cy="1169.2" r="1.62" fill="#fad5c8" stroke="#2a2222" stroke-width="0.60"/>
<circle cx="273.9" cy="1184.9" r="3.02" fill="#412c77" stroke="#2a2222" stroke-width="0.60"/>
<text x="278.9" y="1198.6" font-size="8.10" text-anchor="end" transform="rotate(-45.00 278.87 1198.60)">CCL3</text>
<circle cx="295.9" cy="1043.2" r="2.38" fill="#f0805a" stroke="#2a2222" stroke-width="0.60"/>
<circle cx="295.9" cy="1059.0" r="3.02" fill="#944e67" stroke="#2a2222" stroke-width="0.60"/>
<circle cx="295.9" cy="1074.8" r="2.38" fill="#f5aa91" stroke="#2a2222" stroke-width="0.60"/>
<circle cx="295.9" cy="1090.6" r="2.16" fill="#f5aa91" stroke="#2a2222" stroke-width="0.60"/>
<circle cx="295.9" cy="1106.4" r="1.73" fill="#fad5c8" stroke="#2a2222" stroke-width="0.60"/>
<circle cx="295.9" cy="1122.0" r="1.94" fill="#f5aa91" stroke="#2a2222" stroke-width="0.60"/>
<circle cx="295.9" cy="1137.7" r="1.94" fill="#f5aa91" stroke="#2a2222" stroke-width="0.60"/>
<circle cx="295.9" cy="1153.4" r="1.73" fill="#fad5c8" stroke="#2a2222" stroke-width="0.60"/>
<circle cx="295.9" cy="1169.2" r="1.62" fill="#fad5c8" stroke="#2a2222" stroke-width="0.60"/>
<circle cx="295.9" cy="1184.9" r="3.02" fill="#412c77" stroke="#2a2222" stroke-width="0.60"/>
<text x="300.9" y="1198.6" font-size="8.10" text-anchor="end" transform="rotate(-45.00 300.90 1198.60)">CXCL2</text>
<circle cx="317.9" cy="1043.2" r="3.02" fill="#944e67" stroke="#2a2222" stroke-width="0.60"/>
<circle cx="317.9" cy="1059.0" r="3.02" fill="#f0805a" stroke="#2a2222" stroke-width="0.60"/>
<circle cx="317.9" cy="1074.8" r="2.59" fill="#f5aa91" stroke="#2a2222" stroke-width="0.60"/>
<circle cx="317.9" cy="1090.6" r="2.38" fill="#f0805a" stroke="#2a2222" stroke-width="0.60"/>
<circle cx="317.9" cy="1106.4" r="2.16" fill="#fad5c8" stroke="#2a2222" stroke-width="0.60"/>
<circle cx="317.9" cy="1122.0" r="2.38" fill="#f5aa91" stroke="#2a2222" stroke-width="0.60"/>
<circle cx="317.9" cy="1137.7" r="2.38" fill="#f0805a" stroke="#2a2222" stroke-width="0.60"/>
<circle cx="317.9" cy="1153.4" r="1.94" fill="#ffffff" stroke="#2a2222" stroke-width="0.60"/>
<circle cx="317.9" cy="1169.2" r="1.94" fill="#fad5c8" stroke="#2a2222" stroke-width="0.60"/>
<circle cx="317.9" cy="1184.9" r="3.02" fill="#944e67" stroke="#2a2222" stroke-width="0.60"/>
<text x="322.9" y="1198.6" font-size="8.10" text-anchor="end" transform="rotate(-45.00 322.93 1198.60)">CCL4</text>
<circle cx="340.0" cy="1043.2" r="2.16" fill="#f5aa91" stroke="#2a2222" stroke-width="0.60"/>
<circle cx="340.0" cy="1059.0" r="3.02" fill="#944e67" stroke="#2a2222" stroke-width="0.60"/>
<circle cx="340.0" cy="1074.8" r="2.38" fill="#f5aa91" stroke="#2a2222" stroke-width="0.60"/>
<circle cx="340.0" cy="1090.6" r="2.38" fill="#f5aa91" stroke="#2a2222" stroke-width="0.60"/>
<circle cx="340.0" cy="1106.4" r="2.59" fill="#f5aa91" stroke="#2a2222" stroke-width="0.60"/>
<circle cx="340.0" cy="1122.0" r="2.16" fill="#f5aa91" stroke="#2a2222" stroke-width="0.60"/>
<circle cx="340.0" cy="1137.7" r="1.94" fill="#f5aa91" stroke="#2a2222" stroke-width="0.60"/>
<circle cx="340.0" cy="1153.4" r="2.38" fill="#fad5c8" stroke="#2a2222" stroke-width="0.60"/>
<circle cx="340.0" cy="1169.2" r="2.38" fill="#ffffff" stroke="#2a2222" stroke-width="0.60"/>
<circle cx="340.0" cy="1184.9" r="3.02" fill="#412c77" stroke="#2a2222" stroke-width="0.60"/>
<text x="345.0" y="1198.6" font-size="8.10" text-anchor="end" transform="rotate(-45.00 344.96 1198.60)">TNFRSF14</text>
<circle cx="362.0" cy="1043.2" r="1.62" fill="#944e67" stroke="#2a2222" stroke-width="0.60"/>
<circle cx="362.0" cy="1059.0" r="1.62" fill="#f0805a" stroke="#2a2222" stroke-width="0.60"/>
<circle cx="362.0" cy="1074.8" r="1.40" fill="#f5aa91" stroke="#2a2222" stroke-width="0.60"/>
<circle cx="362.0" cy="1090.6" r="1.30" fill="#f5aa91" stroke="#2a2222" stroke-width="0.60"/>
<circle cx="362.0" cy="1106.4" r="1.08" fill="#fad5c8" stroke="#2a2222" stroke-width="0.60"/>
<circle cx="362.0" cy="1122.0" r="1.08" fill="#f5aa91" stroke="#2a2222" stroke-width="0.60"/>
<circle cx="362.0" cy="1137.7" r="1.19" fill="#944e67" stroke="#2a2222" stroke-width="0.60"/>
<circle cx="362.0" cy="1153.4" r="1.08" fill="#fad5c8" stroke="#2a2222" stroke-width="0.60"/>
<circle cx="362.0" cy="1169.2" r="1.08" fill="#fad5c8" stroke="#2a2222" stroke-width="0.60"/>
<circle cx="362.0" cy="1184.9" r="1.73" fill="#944e67" stroke="#2a2222" stroke-width="0.60"/>
<text x="367.0" y="1198.6" font-size="8.10" text-anchor="end" transform="rotate(-45.00 366.99 1198.60)">CXCL3</text>
<circle cx="397.3" cy="1043.2" r="2.42" fill="#412c77" stroke="#2a2222" stroke-width="0.60"/>
<circle cx="397.3" cy="1059.0" r="1.37" fill="#f5aa91" stroke="#2a2222" stroke-width="0.60"/>
<circle cx="397.3" cy="1074.8" r="1.37" fill="#f5aa91" stroke="#2a2222" stroke-width="0.60"/>
<circle cx="397.3" cy="1090.6" r="1.37" fill="#f5aa91" stroke="#2a2222" stroke-width="0.60"/>
<circle cx="397.3" cy="1106.4" r="1.37" fill="#f5aa91" stroke="#2a2222" stroke-width="0.60"/>
<circle cx="397.3" cy="1122.0" r="1.37" fill="#f5aa91" stroke="#2a2222" stroke-width="0.60"/>
<circle cx="397.3" cy="1137.7" r="1.37" fill="#f5aa91" stroke="#2a2222" stroke-width="0.60"/>
<circle cx="397.3" cy="1153.4" r="1.37" fill="#f5aa91" stroke="#2a2222" stroke-width="0.60"/>
<circle cx="397.3" cy="1169.2" r="1.37" fill="#f5aa91" stroke="#2a2222" stroke-width="0.60"/>
<circle cx="397.3" cy="1184.9" r="1.37" fill="#f5aa91" stroke="#2a2222" stroke-width="0.60"/>
<text x="400.7" y="1198.3" font-size="8.10" text-anchor="end" transform="rotate(-45.00 400.70 1198.30)">HLA–DPB1</text>
<circle cx="418.0" cy="1043.2" r="2.42" fill="#412c77" stroke="#2a2222" stroke-width="0.60"/>
<circle cx="418.0" cy="1059.0" r="1.37" fill="#f5aa91" stroke="#2a2222" stroke-width="0.60"/>
<circle cx="418.0" cy="1074.8" r="1.37" fill="#f5aa91" stroke="#2a2222" stroke-width="0.60"/>
<circle cx="418.0" cy="1090.6" r="1.37" fill="#f5aa91" stroke="#2a2222" stroke-width="0.60"/>
<circle cx="418.0" cy="1106.4" r="1.37" fill="#f5aa91" stroke="#2a2222" stroke-width="0.60"/>
<circle cx="418.0" cy="1122.0" r="1.37" fill="#f5aa91" stroke="#2a2222" stroke-width="0.60"/>
<circle cx="418.0" cy="1137.7" r="1.37" fill="#f5aa91" stroke="#2a2222" stroke-width="0.60"/>
<circle cx="418.0" cy="1153.4" r="1.37" fill="#f5aa91" stroke="#2a2222" stroke-width="0.60"/>
<circle cx="418.0" cy="1169.2" r="1.37" fill="#f5aa91" stroke="#2a2222" stroke-width="0.60"/>
<circle cx="418.0" cy="1184.9" r="1.37" fill="#f5aa91" stroke="#2a2222" stroke-width="0.60"/>
<text x="422.8" y="1198.3" font-size="8.10" text-anchor="end" transform="rotate(-45.00 422.80 1198.30)">HLA–DPA1</text>
<circle cx="438.5" cy="1043.2" r="2.62" fill="#412c77" stroke="#2a2222" stroke-width="0.60"/>
<circle cx="438.5" cy="1059.0" r="1.47" fill="#f5aa91" stroke="#2a2222" stroke-width="0.60"/>
<circle cx="438.5" cy="1074.8" r="1.47" fill="#f5aa91" stroke="#2a2222" stroke-width="0.60"/>
<circle cx="438.5" cy="1090.6" r="1.47" fill="#f5aa91" stroke="#2a2222" stroke-width="0.60"/>
<circle cx="438.5" cy="1106.4" r="1.47" fill="#f5aa91" stroke="#2a2222" stroke-width="0.60"/>
<circle cx="438.5" cy="1122.0" r="1.47" fill="#f5aa91" stroke="#2a2222" stroke-width="0.60"/>
<circle cx="438.5" cy="1137.7" r="1.47" fill="#f5aa91" stroke="#2a2222" stroke-width="0.60"/>
<circle cx="438.5" cy="1153.4" r="1.47" fill="#f5aa91" stroke="#2a2222" stroke-width="0.60"/>
<circle cx="438.5" cy="1169.2" r="1.47" fill="#f5aa91" stroke="#2a2222" stroke-width="0.60"/>
<circle cx="438.5" cy="1184.9" r="1.78" fill="#f5aa91" stroke="#2a2222" stroke-width="0.60"/>
<text x="444.9" y="1198.3" font-size="8.10" text-anchor="end" transform="rotate(-45.00 444.90 1198.30)">HLA–DRB1</text>
<circle cx="459.8" cy="1043.2" r="2.31" fill="#412c77" stroke="#2a2222" stroke-width="0.60"/>
<circle cx="459.8" cy="1059.0" r="1.26" fill="#f5aa91" stroke="#2a2222" stroke-width="0.60"/>
<circle cx="459.8" cy="1074.8" r="1.26" fill="#f5aa91" stroke="#2a2222" stroke-width="0.60"/>
<circle cx="459.8" cy="1090.6" r="1.26" fill="#f5aa91" stroke="#2a2222" stroke-width="0.60"/>
<circle cx="459.8" cy="1106.4" r="1.26" fill="#f5aa91" stroke="#2a2222" stroke-width="0.60"/>
<circle cx="459.8" cy="1122.0" r="1.26" fill="#f5aa91" stroke="#2a2222" stroke-width="0.60"/>
<circle cx="459.8" cy="1137.7" r="1.26" fill="#f5aa91" stroke="#2a2222" stroke-width="0.60"/>
<circle cx="459.8" cy="1153.4" r="1.26" fill="#f5aa91" stroke="#2a2222" stroke-width="0.60"/>
<circle cx="459.8" cy="1169.2" r="1.26" fill="#f5aa91" stroke="#2a2222" stroke-width="0.60"/>
<circle cx="459.8" cy="1184.9" r="1.26" fill="#f5aa91" stroke="#2a2222" stroke-width="0.60"/>
<text x="467.0" y="1198.3" font-size="8.10" text-anchor="end" transform="rotate(-45.00 467.00 1198.30)">HLA–DQA1</text>
<circle cx="480.2" cy="1043.2" r="2.31" fill="#412c77" stroke="#2a2222" stroke-width="0.60"/>
<circle cx="480.2" cy="1059.0" r="1.37" fill="#f5aa91" stroke="#2a2222" stroke-width="0.60"/>
<circle cx="480.2" cy="1074.8" r="1.37" fill="#f5aa91" stroke="#2a2222" stroke-width="0.60"/>
<circle cx="480.2" cy="1090.6" r="1.37" fill="#f5aa91" stroke="#2a2222" stroke-width="0.60"/>
<circle cx="480.2" cy="1106.4" r="1.37" fill="#f5aa91" stroke="#2a2222" stroke-width="0.60"/>
<circle cx="480.2" cy="1122.0" r="1.37" fill="#f5aa91" stroke="#2a2222" stroke-width="0.60"/>
<circle cx="480.2" cy="1137.7" r="1.37" fill="#f5aa91" stroke="#2a2222" stroke-width="0.60"/>
<circle cx="480.2" cy="1153.4" r="1.37" fill="#f5aa91" stroke="#2a2222" stroke-width="0.60"/>
<circle cx="480.2" cy="1169.2" r="1.37" fill="#f5aa91" stroke="#2a2222" stroke-width="0.60"/>
<circle cx="480.2" cy="1184.9" r="1.37" fill="#f5aa91" stroke="#2a2222" stroke-width="0.60"/>
<text x="489.1" y="1198.3" font-size="8.10" text-anchor="end" transform="rotate(-45.00 489.10 1198.30)">HLA–DQB1</text>
<circle cx="500.9" cy="1043.2" r="2.94" fill="#412c77" stroke="#2a2222" stroke-width="0.60"/>
<circle cx="500.9" cy="1059.0" r="2.10" fill="#f5aa91" stroke="#2a2222" stroke-width="0.60"/>
<circle cx="500.9" cy="1074.8" r="1.89" fill="#fad5c8" stroke="#2a2222" stroke-width="0.60"/>
<circle cx="500.9" cy="1090.6" r="2.10" fill="#f0805a" stroke="#2a2222" stroke-width="0.60"/>
<circle cx="500.9" cy="1106.4" r="1.89" fill="#fad5c8" stroke="#2a2222" stroke-width="0.60"/>
<circle cx="500.9" cy="1122.0" r="1.78" fill="#fad5c8" stroke="#2a2222" stroke-width="0.60"/>
<circle cx="500.9" cy="1137.7" r="2.10" fill="#f0805a" stroke="#2a2222" stroke-width="0.60"/>
<circle cx="500.9" cy="1153.4" r="1.78" fill="#fad5c8" stroke="#2a2222" stroke-width="0.60"/>
<circle cx="500.9" cy="1169.2" r="1.78" fill="#fad5c8" stroke="#2a2222" stroke-width="0.60"/>
<circle cx="500.9" cy="1184.9" r="2.10" fill="#f5aa91" stroke="#2a2222" stroke-width="0.60"/>
<text x="511.2" y="1198.3" font-size="8.10" text-anchor="end" transform="rotate(-45.00 511.20 1198.30)">HLA–DRA</text>
<circle cx="524.5" cy="1043.2" r="3.68" fill="#fad5c8" stroke="#2a2222" stroke-width="0.60"/>
<circle cx="524.5" cy="1059.0" r="3.99" fill="#ffffff" stroke="#2a2222" stroke-width="0.60"/>
<circle cx="524.5" cy="1074.8" r="3.99" fill="#f5aa91" stroke="#2a2222" stroke-width="0.60"/>
<circle cx="524.5" cy="1090.6" r="4.20" fill="#c26760" stroke="#2a2222" stroke-width="0.60"/>
<circle cx="524.5" cy="1106.4" r="4.20" fill="#c26760" stroke="#2a2222" stroke-width="0.60"/>
<circle cx="524.5" cy="1122.0" r="4.20" fill="#f0805a" stroke="#2a2222" stroke-width="0.60"/>
<circle cx="524.5" cy="1137.7" r="4.41" fill="#944e67" stroke="#2a2222" stroke-width="0.60"/>
<circle cx="524.5" cy="1153.4" r="3.99" fill="#fad5c8" stroke="#2a2222" stroke-width="0.60"/>
<circle cx="524.5" cy="1169.2" r="3.99" fill="#f5aa91" stroke="#2a2222" stroke-width="0.60"/>
<circle cx="524.5" cy="1184.9" r="3.99" fill="#f5aa91" stroke="#2a2222" stroke-width="0.60"/>
<text x="533.3" y="1198.3" font-size="8.10" text-anchor="end" transform="rotate(-45.00 533.30 1198.30)">HLA–C</text>
<circle cx="549.2" cy="1043.2" r="3.68" fill="#f5aa91" stroke="#2a2222" stroke-width="0.60"/>
<circle cx="549.2" cy="1059.0" r="3.99" fill="#fad5c8" stroke="#2a2222" stroke-width="0.60"/>
<circle cx="549.2" cy="1074.8" r="3.99" fill="#f5aa91" stroke="#2a2222" stroke-width="0.60"/>
<circle cx="549.2" cy="1090.6" r="4.20" fill="#c26760" stroke="#2a2222" stroke-width="0.60"/>
<circle cx="549.2" cy="1106.4" r="4.20" fill="#c26760" stroke="#2a2222" stroke-width="0.60"/>
<circle cx="549.2" cy="1122.0" r="3.99" fill="#f5aa91" stroke="#2a2222" stroke-width="0.60"/>
<circle cx="549.2" cy="1137.7" r="4.20" fill="#944e67" stroke="#2a2222" stroke-width="0.60"/>
<circle cx="549.2" cy="1153.4" r="3.99" fill="#fad5c8" stroke="#2a2222" stroke-width="0.60"/>
<circle cx="549.2" cy="1169.2" r="3.15" fill="#ffffff" stroke="#2a2222" stroke-width="0.60"/>
<circle cx="549.2" cy="1184.9" r="3.99" fill="#f5aa91" stroke="#2a2222" stroke-width="0.60"/>
<text x="555.4" y="1198.3" font-size="8.10" text-anchor="end" transform="rotate(-45.00 555.40 1198.30)">HLA–B</text>
<circle cx="573.7" cy="1043.2" r="3.57" fill="#f5aa91" stroke="#2a2222" stroke-width="0.60"/>
<circle cx="573.7" cy="1059.0" r="3.78" fill="#ffffff" stroke="#2a2222" stroke-width="0.60"/>
<circle cx="573.7" cy="1074.8" r="3.78" fill="#f5aa91" stroke="#2a2222" stroke-width="0.60"/>
<circle cx="573.7" cy="1090.6" r="3.99" fill="#c26760" stroke="#2a2222" stroke-width="0.60"/>
<circle cx="573.7" cy="1106.4" r="3.99" fill="#f0805a" stroke="#2a2222" stroke-width="0.60"/>
<circle cx="573.7" cy="1122.0" r="3.78" fill="#f5aa91" stroke="#2a2222" stroke-width="0.60"/>
<circle cx="573.7" cy="1137.7" r="3.99" fill="#412c77" stroke="#2a2222" stroke-width="0.60"/>
<circle cx="573.7" cy="1153.4" r="3.57" fill="#ffffff" stroke="#2a2222" stroke-width="0.60"/>
<circle cx="573.7" cy="1169.2" r="3.78" fill="#f0805a" stroke="#2a2222" stroke-width="0.60"/>
<circle cx="573.7" cy="1184.9" r="3.78" fill="#f0805a" stroke="#2a2222" stroke-width="0.60"/>
<text x="577.5" y="1198.3" font-size="8.10" text-anchor="end" transform="rotate(-45.00 577.50 1198.30)">HLA–A</text>
<circle cx="597.8" cy="1043.2" r="3.36" fill="#fad5c8" stroke="#2a2222" stroke-width="0.60"/>
<circle cx="597.8" cy="1059.0" r="3.78" fill="#ffffff" stroke="#2a2222" stroke-width="0.60"/>
<circle cx="597.8" cy="1074.8" r="3.78" fill="#f5aa91" stroke="#2a2222" stroke-width="0.60"/>
<circle cx="597.8" cy="1090.6" r="3.99" fill="#c26760" stroke="#2a2222" stroke-width="0.60"/>
<circle cx="597.8" cy="1106.4" r="3.99" fill="#c26760" stroke="#2a2222" stroke-width="0.60"/>
<circle cx="597.8" cy="1122.0" r="3.78" fill="#f5aa91" stroke="#2a2222" stroke-width="0.60"/>
<circle cx="597.8" cy="1137.7" r="3.99" fill="#944e67" stroke="#2a2222" stroke-width="0.60"/>
<circle cx="597.8" cy="1153.4" r="3.78" fill="#fad5c8" stroke="#2a2222" stroke-width="0.60"/>
<circle cx="597.8" cy="1169.2" r="3.78" fill="#c26760" stroke="#2a2222" stroke-width="0.60"/>
<circle cx="597.8" cy="1184.9" r="3.78" fill="#f5aa91" stroke="#2a2222" stroke-width="0.60"/>
<text x="599.6" y="1198.3" font-size="8.10" text-anchor="end" transform="rotate(-45.00 599.60 1198.30)">HLA–E</text>
<rect x="631.50" y="1039.80" width="6.80" height="6.80" fill="#412c77" stroke="#2a2222" stroke-width="0.65"/>
<rect x="651.20" y="1041.40" width="3.60" height="3.60" fill="#f5aa91" stroke="#2a2222" stroke-width="0.65"/>
<rect x="667.80" y="1041.90" width="2.60" height="2.60" fill="#ffffff" stroke="#2a2222" stroke-width="0.65"/>
<rect x="667.60" y="1057.50" width="3.00" height="3.00" fill="#ffffff" stroke="#2a2222" stroke-width="0.65"/>
<rect x="683.10" y="1055.50" width="7.00" height="7.00" fill="#dc755d" stroke="#2a2222" stroke-width="0.65"/>
<rect x="704.40" y="1057.20" width="3.60" height="3.60" fill="#ffffff" stroke="#2a2222" stroke-width="0.65"/>
<rect x="721.90" y="1057.20" width="3.60" height="3.60" fill="#f0805a" stroke="#2a2222" stroke-width="0.65"/>
<rect x="739.30" y="1057.40" width="3.20" height="3.20" fill="#ffffff" stroke="#2a2222" stroke-width="0.65"/>
<rect x="756.10" y="1056.70" width="4.60" height="4.60" fill="#fad5c8" stroke="#2a2222" stroke-width="0.65"/>
<rect x="776.00" y="1057.80" width="2.40" height="2.40" fill="#ffffff" stroke="#2a2222" stroke-width="0.65"/>
<rect x="793.90" y="1057.50" width="3.00" height="3.00" fill="#f5aa91" stroke="#2a2222" stroke-width="0.65"/>
<rect x="811.20" y="1056.80" width="4.40" height="4.40" fill="#ffffff" stroke="#2a2222" stroke-width="0.65"/>
<rect x="830.10" y="1056.30" width="5.40" height="5.40" fill="#fad5c8" stroke="#2a2222" stroke-width="0.65"/>
<rect x="849.40" y="1057.20" width="3.60" height="3.60" fill="#fad5c8" stroke="#2a2222" stroke-width="0.65"/>
<rect x="684.80" y="1073.00" width="3.60" height="3.60" fill="#ffffff" stroke="#2a2222" stroke-width="0.65"/>
<rect x="704.40" y="1073.00" width="3.60" height="3.60" fill="#ffffff" stroke="#2a2222" stroke-width="0.65"/>
<rect x="721.90" y="1073.00" width="3.60" height="3.60" fill="#f5aa91" stroke="#2a2222" stroke-width="0.65"/>
<rect x="739.60" y="1073.50" width="2.60" height="2.60" fill="#ffffff" stroke="#2a2222" stroke-width="0.65"/>
<rect x="756.20" y="1072.60" width="4.40" height="4.40" fill="#fad5c8" stroke="#2a2222" stroke-width="0.65"/>
<rect x="775.00" y="1072.60" width="4.40" height="4.40" fill="#fad5c8" stroke="#2a2222" stroke-width="0.65"/>
<rect x="794.20" y="1073.60" width="2.40" height="2.40" fill="#ffffff" stroke="#2a2222" stroke-width="0.65"/>
<rect x="811.90" y="1073.30" width="3.00" height="3.00" fill="#ffffff" stroke="#2a2222" stroke-width="0.65"/>
<rect x="831.00" y="1073.00" width="3.60" height="3.60" fill="#ffffff" stroke="#2a2222" stroke-width="0.65"/>
<rect x="850.00" y="1073.60" width="2.40" height="2.40" fill="#ffffff" stroke="#2a2222" stroke-width="0.65"/>
<rect x="668.10" y="1089.60" width="2.00" height="2.00" fill="#ffffff" stroke="#2a2222" stroke-width="0.65"/>
<rect x="705.00" y="1089.40" width="2.40" height="2.40" fill="#ffffff" stroke="#2a2222" stroke-width="0.65"/>
<rect x="722.40" y="1089.30" width="2.60" height="2.60" fill="#ffffff" stroke="#2a2222" stroke-width="0.65"/>
<rect x="739.70" y="1089.40" width="2.40" height="2.40" fill="#ffffff" stroke="#2a2222" stroke-width="0.65"/>
<rect x="756.50" y="1088.70" width="3.80" height="3.80" fill="#fad5c8" stroke="#2a2222" stroke-width="0.65"/>
<rect x="831.70" y="1089.50" width="2.20" height="2.20" fill="#ffffff" stroke="#2a2222" stroke-width="0.65"/>
<rect x="651.80" y="1105.20" width="2.40" height="2.40" fill="#ffffff" stroke="#2a2222" stroke-width="0.65"/>
<rect x="667.60" y="1104.90" width="3.00" height="3.00" fill="#ffffff" stroke="#2a2222" stroke-width="0.65"/>
<rect x="703.50" y="1103.70" width="5.40" height="5.40" fill="#f0805a" stroke="#2a2222" stroke-width="0.65"/>
<rect x="722.10" y="1104.80" width="3.20" height="3.20" fill="#ffffff" stroke="#2a2222" stroke-width="0.65"/>
<rect x="738.40" y="1103.90" width="5.00" height="5.00" fill="#944e67" stroke="#2a2222" stroke-width="0.65"/>
<rect x="755.90" y="1103.90" width="5.00" height="5.00" fill="#f5aa91" stroke="#2a2222" stroke-width="0.65"/>
<rect x="775.40" y="1104.60" width="3.60" height="3.60" fill="#ffffff" stroke="#2a2222" stroke-width="0.65"/>
<rect x="793.80" y="1104.80" width="3.20" height="3.20" fill="#f0805a" stroke="#2a2222" stroke-width="0.65"/>
<rect x="811.60" y="1104.60" width="3.60" height="3.60" fill="#ffffff" stroke="#2a2222" stroke-width="0.65"/>
<rect x="830.10" y="1103.70" width="5.40" height="5.40" fill="#fad5c8" stroke="#2a2222" stroke-width="0.65"/>
<rect x="850.00" y="1105.20" width="2.40" height="2.40" fill="#ffffff" stroke="#2a2222" stroke-width="0.65"/>
<rect x="775.40" y="1120.20" width="3.60" height="3.60" fill="#ffffff" stroke="#2a2222" stroke-width="0.65"/>
<rect x="811.60" y="1120.20" width="3.60" height="3.60" fill="#fad5c8" stroke="#2a2222" stroke-width="0.65"/>
<rect x="831.50" y="1120.70" width="2.60" height="2.60" fill="#ffffff" stroke="#2a2222" stroke-width="0.65"/>
<rect x="850.30" y="1121.10" width="1.80" height="1.80" fill="#944e67" stroke="#2a2222" stroke-width="0.65"/>
<rect x="703.00" y="1150.20" width="6.40" height="6.40" fill="#dc755d" stroke="#2a2222" stroke-width="0.65"/>
<rect x="721.90" y="1151.60" width="3.60" height="3.60" fill="#fad5c8" stroke="#2a2222" stroke-width="0.65"/>
<rect x="738.70" y="1151.20" width="4.40" height="4.40" fill="#f0805a" stroke="#2a2222" stroke-width="0.65"/>
<rect x="755.90" y="1150.90" width="5.00" height="5.00" fill="#fad5c8" stroke="#2a2222" stroke-width="0.65"/>
<rect x="774.00" y="1150.20" width="6.40" height="6.40" fill="#f0805a" stroke="#2a2222" stroke-width="0.65"/>
<rect x="793.60" y="1151.60" width="3.60" height="3.60" fill="#f5aa91" stroke="#2a2222" stroke-width="0.65"/>
<rect x="810.10" y="1150.10" width="6.60" height="6.60" fill="#dc755d" stroke="#2a2222" stroke-width="0.65"/>
<rect x="829.30" y="1149.90" width="7.00" height="7.00" fill="#dc755d" stroke="#2a2222" stroke-width="0.65"/>
<rect x="849.20" y="1151.40" width="4.00" height="4.00" fill="#fad5c8" stroke="#2a2222" stroke-width="0.65"/>
<rect x="667.60" y="1167.70" width="3.00" height="3.00" fill="#ffffff" stroke="#2a2222" stroke-width="0.65"/>
<rect x="703.20" y="1166.20" width="6.00" height="6.00" fill="#fad5c8" stroke="#2a2222" stroke-width="0.65"/>
<rect x="738.40" y="1166.70" width="5.00" height="5.00" fill="#fad5c8" stroke="#2a2222" stroke-width="0.65"/>
<rect x="756.80" y="1167.60" width="3.20" height="3.20" fill="#ffffff" stroke="#2a2222" stroke-width="0.65"/>
<rect x="793.80" y="1167.60" width="3.20" height="3.20" fill="#ffffff" stroke="#2a2222" stroke-width="0.65"/>
<rect x="811.10" y="1166.90" width="4.60" height="4.60" fill="#ffffff" stroke="#2a2222" stroke-width="0.65"/>
<rect x="830.50" y="1166.90" width="4.60" height="4.60" fill="#ffffff" stroke="#2a2222" stroke-width="0.65"/>
<rect x="849.80" y="1167.80" width="2.80" height="2.80" fill="#ffffff" stroke="#2a2222" stroke-width="0.65"/>
<rect x="633.40" y="1183.40" width="3.00" height="3.00" fill="#ffffff" stroke="#2a2222" stroke-width="0.65"/>
<rect x="651.90" y="1183.80" width="2.20" height="2.20" fill="#f5aa91" stroke="#2a2222" stroke-width="0.65"/>
<rect x="667.60" y="1183.40" width="3.00" height="3.00" fill="#ffffff" stroke="#2a2222" stroke-width="0.65"/>
<rect x="683.40" y="1181.70" width="6.40" height="6.40" fill="#f0805a" stroke="#2a2222" stroke-width="0.65"/>
<rect x="722.80" y="1184.00" width="1.80" height="1.80" fill="#f5aa91" stroke="#2a2222" stroke-width="0.65"/>
<rect x="850.10" y="1183.80" width="2.20" height="2.20" fill="#f5aa91" stroke="#2a2222" stroke-width="0.65"/>
<text x="634.4" y="1200.0" font-size="7.50" text-anchor="end" transform="rotate(-45.00 634.40 1200.00)">Antigen presenting</text>
<text x="652.5" y="1200.0" font-size="7.50" text-anchor="end" transform="rotate(-45.00 652.50 1200.00)">Cell Proliferation</text>
<text x="668.6" y="1200.0" font-size="7.50" text-anchor="end" transform="rotate(-45.00 668.60 1200.00)">Azurophil granules</text>
<text x="686.1" y="1200.0" font-size="7.50" text-anchor="end" transform="rotate(-45.00 686.10 1200.00)">Angiogenesis</text>
<text x="705.7" y="1200.0" font-size="7.50" text-anchor="end" transform="rotate(-45.00 705.70 1200.00)">Secretory vesicles</text>
<text x="723.2" y="1200.0" font-size="7.50" text-anchor="end" transform="rotate(-45.00 723.20 1200.00)">Chemotaxis</text>
<text x="740.4" y="1200.0" font-size="7.50" text-anchor="end" transform="rotate(-45.00 740.40 1200.00)">Phagocytosis</text>
<text x="757.9" y="1200.0" font-size="7.50" text-anchor="end" transform="rotate(-45.00 757.90 1200.00)">Aging</text>
<text x="776.7" y="1200.0" font-size="7.50" text-anchor="end" transform="rotate(-45.00 776.70 1200.00)">Gelatinase granules</text>
<text x="794.9" y="1200.0" font-size="7.50" text-anchor="end" transform="rotate(-45.00 794.90 1200.00)">Apoptosis</text>
<text x="812.9" y="1200.0" font-size="7.50" text-anchor="end" transform="rotate(-45.00 812.90 1200.00)">Lactoferrin granules</text>
<text x="832.3" y="1200.0" font-size="7.50" text-anchor="end" transform="rotate(-45.00 832.30 1200.00)">NADPH oxidase</text>
<text x="850.7" y="1200.0" font-size="7.50" text-anchor="end" transform="rotate(-45.00 850.70 1200.00)">ROS production</text>
<defs><linearGradient id="gH" x1="0" x2="1" y1="0" y2="0"><stop offset="0" stop-color="#ffffff"/><stop offset="0.45" stop-color="#f0805a"/><stop offset="0.72" stop-color="#a0506e"/><stop offset="1" stop-color="#3b2a78"/></linearGradient></defs>
<text x="79.4" y="1263.0" font-size="7.60">Scaled expression</text>
<text x="148.3" y="1263.0" font-size="7.60">−1</text>
<rect x="160.50" y="1257.30" width="33.90" height="6.40" fill="url(#gH)"/>
<text x="197.4" y="1263.0" font-size="7.60">2</text>
<text x="207.0" y="1263.0" font-size="7.60">Percent</text>
<circle cx="241.6" cy="1260.3" r="2.60" fill="#fff" stroke="#333" stroke-width="0.50"/>
<text x="245.4" y="1263.0" font-size="7.60">25</text>
<circle cx="262.3" cy="1260.3" r="3.40" fill="#fff" stroke="#333" stroke-width="0.50"/>
<text x="266.9" y="1263.0" font-size="7.60">50</text>
<circle cx="283.7" cy="1260.3" r="4.10" fill="#fff" stroke="#333" stroke-width="0.50"/>
<text x="289.0" y="1263.0" font-size="7.60">75</text>
<text x="365.3" y="1263.0" font-size="7.60">Scaled expression</text>
<text x="432.8" y="1263.0" font-size="7.60">−1</text>
<rect x="447.40" y="1257.30" width="33.50" height="6.40" fill="url(#gH)"/>
<text x="483.2" y="1263.0" font-size="7.60">2</text>
<text x="494.4" y="1263.0" font-size="7.60">Percent</text>
<circle cx="528.7" cy="1260.3" r="2.60" fill="#fff" stroke="#333" stroke-width="0.50"/>
<text x="532.5" y="1263.0" font-size="7.60">25</text>
<circle cx="549.3" cy="1260.3" r="3.40" fill="#fff" stroke="#333" stroke-width="0.50"/>
<text x="553.9" y="1263.0" font-size="7.60">50</text>
<circle cx="569.8" cy="1260.3" r="4.10" fill="#fff" stroke="#333" stroke-width="0.50"/>
<text x="575.1" y="1263.0" font-size="7.60">75</text>
<text x="587.4" y="1263.0" font-size="7.60">-Log (P value) 0</text>
<rect x="644.30" y="1257.30" width="31.90" height="6.40" fill="url(#gH)"/>
<text x="679.0" y="1263.0" font-size="7.60">150</text>
<text x="695.5" y="1263.0" font-size="7.60">Log (Fold Change)</text>
<rect x="762.20" y="1258.50" width="3.60" height="3.60" fill="#fff" stroke="#333" stroke-width="0.50"/>
<text x="767.3" y="1263.0" font-size="7.60">0.05</text>
<rect x="788.00" y="1258.00" width="4.60" height="4.60" fill="#fff" stroke="#333" stroke-width="0.50"/>
<text x="794.1" y="1263.0" font-size="7.60">0.10</text>
<rect x="815.80" y="1257.50" width="5.60" height="5.60" fill="#fff" stroke="#333" stroke-width="0.50"/>
<text x="822.9" y="1263.0" font-size="7.60">0.15</text>
<rect x="843.10" y="1257.00" width="6.60" height="6.60" fill="#fff" stroke="#333" stroke-width="0.50"/>
<text x="851.2" y="1263.0" font-size="7.60">0.20</text>
<rect x="1" y="1" width="867" height="1265" fill="none" stroke="#000" stroke-width="2.6"/>
</svg></body></html>
